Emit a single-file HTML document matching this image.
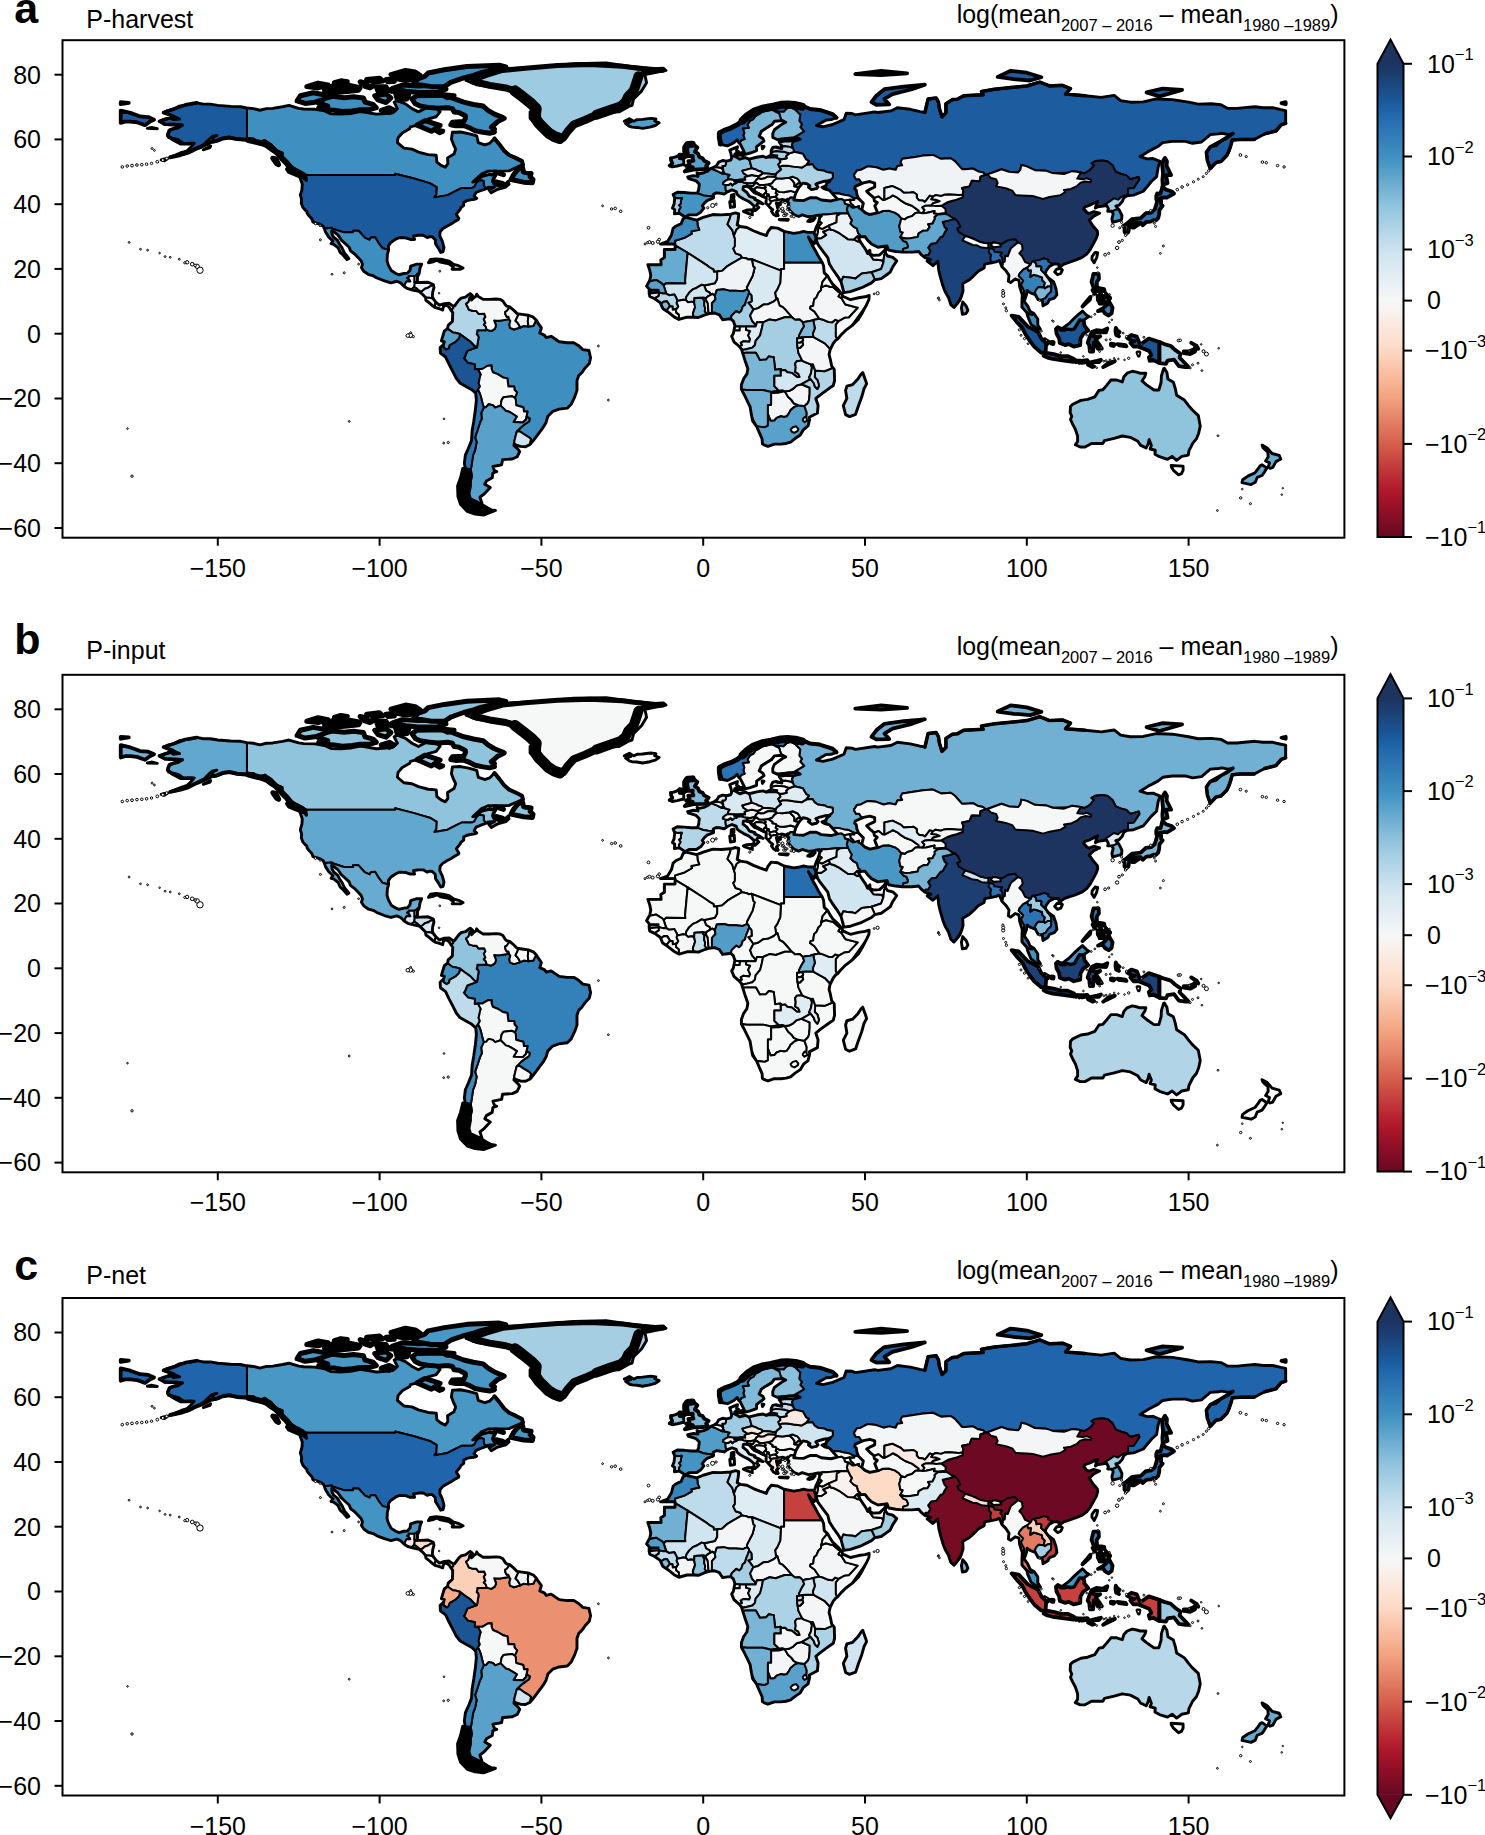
<!DOCTYPE html><html><head><meta charset="utf-8"><title>figure</title><style>html,body{margin:0;padding:0;background:#fff;}svg{display:block;}.t{font-family:'Liberation Sans', 'Helvetica', 'Arial', sans-serif;font-size:25px;fill:#000;}.lab{font-family:'Liberation Sans', 'Helvetica', 'Arial', sans-serif;font-size:43px;font-weight:bold;fill:#000;}.sub{font-size:16.5px;}.sup{font-size:16.5px;}.b{stroke:#000;stroke-width:2.0px;vector-effect:non-scaling-stroke;stroke-linejoin:round;}.c{stroke:#000;stroke-width:2.9px;vector-effect:non-scaling-stroke;stroke-linejoin:round;}.d{fill:#fff;stroke:#000;stroke-width:1px;}.h{stroke-width:3.8px;}.hh{stroke-width:5px;}.tk{stroke:#000;stroke-width:2px;}</style></head><body>
<svg xmlns="http://www.w3.org/2000/svg" width="1485" height="1835" viewBox="0 0 1485 1835">
<defs>
<clipPath id="landclip"><path d="M-168.1 65.6 -166.5 66.2 -164.5 66.6 -163.7 66.1 -161.8 66.3 -163.8 67.2 -165.5 67.9 -166.8 68.3 -165.5 68.9 -163.5 69.4 -161.9 70.3 -158 70.9 -156.5 71.3 -154.5 70.9 -152.3 70.9 -150 70.5 -146 70.2 -143 70.1 -141 69.7 -139 69.5 -137 69 -135 69.5 -133 69.6 -130 70.1 -128 70.5 -125 69.6 -123.5 69.4 -120 69.3 -117 68.8 -115 67.9 -112 67.8 -109 68 -106 68.6 -104 68.3 -101 67.8 -98 68 -96 68.2 -94.5 69.5 -95.5 71.5 -94.5 72 -92 71 -90 69.5 -88 68.5 -85.5 69.8 -82.5 69.5 -81.3 68.6 -82.5 67 -85 66.3 -86.8 65.5 -88 64.5 -90.5 63.9 -90.7 63.3 -93 62 -94.3 60.5 -94.5 59 -92.5 57.3 -90 57 -88 56.1 -85 55.3 -82.5 55.1 -82.3 53 -81 52 -79.7 51.4 -78.9 52.5 -79 54.3 -77 55.5 -76.5 57 -77.2 58.5 -77.8 60.1 -77.5 62.2 -75 62.3 -72.5 61.8 -70 61.1 -69.5 59 -68 58.5 -67.5 58.3 -66 58.8 -64.5 60.3 -63 58.5 -61.5 56.5 -60 55.2 -58 54.3 -56 53.3 -55.7 52.2 -57.3 51.5 -60 50.3 -63.5 50.2 -66.5 50.2 -68.5 49.3 -70.5 47.5 -71.2 46.8 -70 47.2 -68.5 48.5 -66 49.2 -64.2 48.9 -64.8 47.8 -65 47.1 -64.6 46.3 -63 45.7 -61.5 45.7 -60.3 46.9 -60 46.2 -61 45.3 -63.5 44.6 -65.5 43.5 -66.2 44.4 -64.5 45.3 -66.5 45.2 -67 44.8 -68.5 44.3 -70.2 43.6 -70.8 42.5 -70 41.8 -70.6 41.5 -71.5 41.4 -73 41.1 -74 40.6 -74 39.6 -74.9 38.9 -75.1 38.4 -75.9 37.4 -76.3 36.9 -75.5 35.6 -75.7 35.2 -76.7 34.7 -77.9 33.9 -79.2 33.2 -80.5 32.4 -81.3 31.5 -81.4 30.2 -80.6 28.5 -80.1 26.6 -80.4 25.3 -81.1 25.1 -81.8 26.3 -82.7 27.7 -82.8 29 -83.7 29.9 -84.5 30 -85.3 29.7 -86.5 30.4 -88 30.4 -89.5 30.2 -89.2 29.1 -90.5 29.1 -92 29.6 -93.8 29.7 -95 29.2 -96.6 28.1 -97.3 27.1 -97.2 25.9 -97.6 24.5 -97.7 22.5 -97.3 21.2 -96.4 19.5 -95 18.6 -94 18.2 -92.5 18.6 -91.4 18.7 -90.6 19.6 -90.4 20.9 -88.5 21.5 -87 21.5 -87.5 20.3 -87.8 18.5 -88.3 17.6 -88.3 16.3 -88.8 15.8 -87.5 15.8 -85 15.9 -83.4 15.2 -83.2 14.3 -83.6 12.8 -83.7 11.5 -83.3 10.6 -82.5 9.6 -81.5 8.8 -80 9.3 -78.5 9.4 -77.4 8.6 -76.8 8.6 -75.5 10.4 -74.8 11 -73.5 11.3 -72 12.4 -71.3 11.8 -71.9 11 -71.6 10.4 -71 11 -70.2 11.6 -70 12.2 -69.5 11.5 -68 10.6 -66.2 10.6 -64 10.7 -62.8 10.6 -61.9 10.1 -61.2 9 -60.7 8.5 -59.8 8.3 -58.5 7.2 -57.5 6.2 -55.5 5.9 -54 5.7 -52.5 5.1 -51.6 4.2 -51 3.2 -50 1.8 -50.5 0.2 -49 -0.5 -48.5 -1.2 -47 -0.8 -44.5 -2.5 -42 -2.8 -40 -2.8 -38.5 -3.7 -37.2 -4.9 -35.3 -5.2 -34.8 -7.5 -35.2 -9.2 -36.5 -10.6 -37.5 -12 -38.5 -13 -39 -14.5 -39 -17.5 -39.7 -19.5 -40.8 -21.8 -42 -23 -44.5 -23.3 -46.5 -24 -48 -25.5 -48.6 -27.5 -49.5 -29 -51 -31 -52.5 -33 -53.5 -34.2 -54.9 -34.9 -56.5 -34.8 -57.8 -34.4 -58.4 -34 -58.5 -34.5 -57.2 -35.7 -56.7 -36.4 -57.5 -38 -59 -38.7 -62 -38.9 -62.3 -40.5 -65 -41 -64.5 -42.3 -63.8 -42.6 -65 -43 -65.2 -44.5 -67 -45.5 -67.5 -46.5 -65.8 -47.5 -67.7 -49.5 -69 -50.5 -68.4 -52.3 -70 -52.8 -71 -53.8 -72 -54 -74.5 -52.5 -75.3 -50 -74.8 -48 -75.5 -46.5 -74 -44 -73.5 -42 -73.8 -40 -73.5 -37.5 -72.6 -35.5 -71.6 -33 -71.4 -30 -70.9 -27 -70.4 -23.5 -70.1 -20.5 -70.3 -18.4 -71.5 -17.3 -73.3 -16.3 -75.2 -15.2 -76.3 -13.8 -77.2 -12 -78.5 -9.5 -79.6 -7.2 -81.2 -6 -81.3 -4.3 -80.3 -3.4 -80 -2.5 -80.9 -2.2 -80.4 -0.5 -80 0.8 -79 1.6 -78.8 2.6 -77.5 3.8 -77.4 6.5 -77.9 7.2 -78.5 8.2 -79.6 8.9 -80.3 8.3 -80.5 7.3 -81.5 7.7 -82.9 8.1 -83.6 8.6 -85 9.8 -85.7 10.3 -85.8 11.2 -87 12.4 -87.7 13 -88.5 13.2 -89.8 13.5 -91.3 13.9 -92.3 14.5 -93.5 15.7 -94.7 16.2 -96.5 15.7 -98.5 16.3 -100.8 17.2 -102 17.9 -103.5 18.3 -104.9 19.3 -105.6 20.4 -105.3 21.5 -105.7 22.5 -106.6 23.5 -107.8 24.7 -109 25.6 -109.4 26.7 -110.6 27.8 -111.8 28.9 -112.9 30.5 -114.2 31.5 -114.8 31.8 -114.7 30.7 -114.2 29.8 -113 28.8 -112.3 27.5 -111.6 26.5 -110.8 24.8 -110 23.9 -109.5 23.2 -110.1 22.9 -111.3 24.3 -112.2 25.1 -112.8 26.5 -114.2 27.6 -115 27.8 -114.4 28.6 -115.7 29.8 -116.7 31.4 -117.1 32.5 -117.4 33.2 -118.4 33.8 -119.2 34.1 -120.6 34.5 -120.9 35.4 -121.9 36.5 -122.4 37.2 -122.5 37.8 -123 38.2 -123.7 39 -124.2 40.3 -124.1 41.5 -124.5 42.8 -124 44.5 -123.9 46.2 -124.7 48.4 -123.5 48.2 -122.6 47.3 -122.8 49 -123.8 49.7 -125 50.3 -127 51.3 -127.8 52.3 -129.3 53.6 -130.3 54.7 -130.6 55.9 -131.5 56 -132.3 57 -134 58.4 -135.7 59.3 -136.5 58.4 -138.5 59.1 -139.8 59.6 -141.5 60 -143.9 60 -146.5 60.6 -148.5 60.3 -149.7 59.7 -151.5 59.2 -151.5 60.7 -150.3 61.2 -151.7 60.9 -153.3 59.5 -154.2 58.5 -156 57.6 -157.9 56.6 -159.5 55.7 -161.5 55.3 -162.8 54.9 -164.7 54.5 -163.3 55.1 -161.3 55.9 -159.5 56.5 -158.3 57.6 -157.3 58.8 -158.6 58.8 -160.5 58.7 -162.2 59.9 -163.8 60.3 -165.2 60.6 -165.5 61.7 -164.6 63.1 -162.3 63.5 -161.1 64.4 -162.8 64.5 -164.7 64.5 -166.4 64.7 -167.5 65.4Z"/><path d="M-5.6 36 -6.3 36.5 -7.4 37.2 -8.9 37 -8.8 38.3 -9.5 38.8 -9 40 -8.8 41.9 -9.3 43 -8 43.7 -5.8 43.6 -3.8 43.4 -1.8 43.4 -1.4 44.5 -1.2 46.2 -2.2 47.2 -4.5 47.9 -4.8 48.4 -3 48.8 -1.6 48.6 -1.9 49.7 -1.2 49.4 0.2 49.7 1.5 50.3 2.5 51.1 3.5 51.5 4.2 52 4.8 53 6 53.5 7.2 53.3 8.5 53.6 8.8 54.3 8.6 55.5 8.2 56.7 10.6 57.7 10.3 56.5 10.9 56.3 10 55.5 9.6 54.9 10.5 54.4 11.3 53.9 13 54.4 14.2 53.9 16.5 54.5 18.5 54.8 19.5 54.4 21 55.2 21 56.5 21.5 57.5 22.5 57.7 24.3 57.2 24.1 58.3 23.5 59.2 25 59.5 28 59.5 30 60 29 60.5 26.5 60.4 23 59.9 21.5 60.6 21.5 61.8 22 63 24.5 64.8 25.5 65.3 24.5 65.8 22 65.6 21.2 64.5 19.5 63.5 18 62.5 17.3 61 18.5 60.2 18.8 59.5 16.5 57.8 16.5 56.5 14.5 55.8 13 55.4 12.5 56.5 11.5 58.5 11 59 10.5 59.9 9.5 59 7.5 58 6 58.3 5.5 59.3 5 60.5 5 62 6.5 62.8 8.5 63.5 10.5 64.5 12.5 66 14 67.5 16 68.8 18.5 69.8 21 70.2 24 71 26 71 28.5 70.9 31 70.3 33 69.4 36 69.1 40 67.8 41.2 66.7 39.5 66.1 38 66 35 64.3 37 63.9 40 64.6 43.5 66.1 44.2 68.1 46 68 47 67.6 53 68.5 54 68.3 58 68.8 60 69.8 64 69.3 67 68.6 68.5 68.3 69.5 72.5 72 72.8 72.7 71.5 73 69.5 73.8 67 75 68.2 75 71 77 72.3 78.5 72.4 80.5 73.5 86.5 73.8 86 74.8 90 75.5 95 76 100 76.5 104 77.7 107 76.5 111 76.7 113.5 75.7 112 74 118 73.5 123 73 127 73.6 129 72 132 71.5 136 71.6 140 72.5 145 72.3 150 71.5 153 70.9 157 71 160 70.7 162 69.6 165 69.6 168 69.9 170.5 70.1 173 69.8 176 69.8 178.5 69.2 180 68.9 180 65 178.6 64.5 177 62.6 173.5 61.7 170.3 60 166 60 163.5 59.8 163 58 162.5 56.5 161.8 55 160 53.2 158.5 52.9 156.7 51 155.8 53.5 155.5 56 156.7 57.7 158.4 58 160 59.5 161.8 60.3 163.7 61.8 162.2 61.5 160.3 61.9 159.2 61.7 156.7 61.5 154 59.2 151.2 58.8 149 59.4 145 59.4 142 59 140.5 57.8 138 56.5 135 54.7 137.2 54 139 54.1 141.2 53.2 140.6 51.5 140.1 48.5 138.5 47 136 44 133 42.8 131 42.6 130 42 129.5 40.8 128.5 39.7 127.5 39.4 128.5 38.3 129.4 36.5 129.3 35.2 128 34.8 126.5 34.4 126.3 35.5 126.7 37 126.3 37.8 125 37.8 125.2 38.6 124.7 39.6 122 39.2 121.2 38.8 121.5 40 121.9 40.9 120.5 40.2 119.5 39.7 118 39.2 117.6 38.6 118.5 37.5 119.2 37.1 120.7 37.7 122.5 37.2 120.7 36.3 119.3 35 120.5 33.2 121.8 31.7 121.9 30.8 121.5 29.5 120.7 28 119.6 26 118.5 24.6 117 23.5 115 22.7 113.5 22.2 111.5 21.5 110 20.5 109.8 21.5 108.5 21.6 107 20.8 106 19.5 105.7 18.5 106.6 17.3 108.3 16 109 14 109.3 12 108.5 11 107 10.5 106.5 9.5 105 8.6 104.8 10.2 103.5 10.5 102.6 12.1 101 12.7 100.1 13.4 99.9 12 99.2 10 100.3 8.5 101 6.9 102.2 6.2 103.4 4.5 103.4 2.7 104.2 1.4 103.5 1.3 101.3 2.9 100.3 5.3 100 6.5 98.5 8.2 98.5 10 98.6 12 97.8 14.5 97.6 16.5 96.4 16.9 95 15.8 94.3 16.2 94.5 18 93.5 19.5 92.3 20.7 92 21.5 91.5 22.6 90.5 22.2 89.1 21.9 87 21.5 86.8 20.3 85 19.3 83.5 17.8 82.2 16.6 80.2 15.5 80.3 13.2 79.8 11.5 79.3 10.3 78.2 8.9 77.5 8.1 76.5 9 75.8 11.2 74.8 12.9 74 15 73.3 17.5 72.8 19.5 72.6 21.3 72.5 22.4 71 21 69.2 22.4 70.3 22.9 68.5 23.5 67.3 24.5 66.6 25.4 64.5 25.2 61.6 25.2 59.5 25.4 57.3 25.8 56.8 27.1 56 27 54 26.7 52 27.7 50.8 28.9 50 30 48.6 29.9 48 29.5 48.5 28.5 49.5 27 50.2 26 50.8 24.8 51.5 25.8 51.6 24.6 52.5 24.2 54.5 24.3 56 25.7 56.4 26.4 56.3 24.9 57 24 58.6 23.6 59.8 22.5 58.5 20.5 57.8 19 56.7 18.2 55 17 53 16.6 52 15.7 49 14.2 45.5 13 43.5 12.7 43 14.5 42.6 16 41.5 17.8 40 19.9 39 21.5 38.5 23.5 37.2 25.2 36 26.8 35.2 28 34.9 29.5 34.2 31.3 34.5 31.6 34.9 32.8 35.5 34 35.9 35.3 36 36 36.2 36.6 35.5 36.6 34 36.3 32.5 36.1 30.6 36.7 29.5 36.2 28 36.8 27.3 37.5 26.5 38.5 26.2 39.5 26.5 40.3 26 40.8 24.5 40.9 23.5 40.3 22.6 40.3 22.9 39.3 23.3 38.2 22.7 37.5 23.1 36.5 22.5 36.4 21.7 36.9 21.1 37.8 21.5 38.3 20.7 38.9 20 39.7 19.4 40.3 19.5 41.8 18.5 42.4 17 43.2 15.9 43.6 15 44.5 14.3 45.3 13.6 45.6 12.4 45.4 12.3 44.5 13.5 43.6 14.3 42.4 16 41.9 15.9 41.5 17.5 40.8 18.5 40.1 17 40.5 16.5 39.7 17.2 39 16.1 38 15.6 38 15.7 39.5 14.8 40.3 14 40.9 12.5 41.6 11.2 42.4 10.5 43 10.2 43.9 8.9 44.4 7.5 43.8 6.5 43.1 5 43.4 4 43.5 3.1 43 3.2 42.4 3.2 41.9 1.2 41.1 0.5 40.5 -0.3 39.5 0.2 38.8 -0.7 37.6 -2.1 36.7 -4.4 36.7Z"/><path d="M34.2 31.3 32.3 31.3 31 31.6 29.9 31.3 28 31 25 31.6 23 32.6 21 32.8 20 31.5 19.5 30.3 17.5 31 15.5 31.8 13.5 32.8 11.5 33.1 10.5 33.6 10.8 35.2 11 37 10 37.3 8.5 36.9 5.5 36.7 3 36.8 0 35.9 -2 35.1 -5.3 35.9 -6.2 35.5 -6.8 34 -8.5 33.2 -9.3 32.5 -9.8 30.5 -11 28.5 -13.2 27.7 -8.7 27.7 -8.7 26 -12 26 -12 23.5 -13.1 22.8 -13 21.3 -17.1 21.3 -16.5 19.5 -16.2 18 -16.5 16.5 -17.5 14.7 -16.7 13.8 -16.7 12.4 -16.5 11.5 -15 10.8 -13.3 9.6 -12.5 7.8 -11 6.8 -9 5.2 -7.5 4.4 -5 5.1 -3 5.1 -1.5 5 0.5 5.8 1.8 6.2 3.5 6.4 5 5.8 6 4.3 7.5 4.5 8.5 4.6 9.3 3.9 9.8 2.5 9.5 1 9.3 0 8.8 -0.8 9.5 -2.5 11 -3.8 11.8 -4.7 12.2 -6 13 -8.5 13.8 -10.8 13.5 -12.5 12.5 -13.9 11.8 -15.8 11.8 -17.2 12.5 -18.5 13.5 -20.5 14.5 -22.6 14.9 -25 15.3 -27 16.5 -28.6 17.3 -30.5 18.2 -32.5 18.3 -34 18.9 -34.4 20 -34.8 22 -34.1 24 -34.1 25.6 -33.9 27 -33.5 28.5 -32.3 30 -31.3 31 -29.6 32.4 -28.5 32.9 -26.5 32.8 -25.8 35.3 -24.5 35.5 -22.1 34.8 -20 36.3 -18.8 38.5 -17.2 40.2 -16 40.6 -14.5 40.5 -11 39.7 -10 39.3 -8 38.9 -6.5 39.2 -5 40.2 -3 41 -2 41.6 -1.6 42.5 -0.5 44 1 46 2.5 48 4.5 49.2 6.5 50.5 9 51.2 10.5 51.3 11.8 50 11.4 48 11.1 45.5 10.5 43.5 11.4 43.2 11.5 42.6 12.6 41.5 13.9 40 15.3 39.2 16.5 38.5 17.8 37.4 18.8 37.2 21 36.8 22 35.6 23.9 34.6 25.8 33.6 27.5 32.6 29.7 32.5 29.9 33.5 28.5 34.3 27.8 34.7 29 34.9 29.5Z"/><path d="M113.5 -22.5 114.2 -21.8 116.7 -20.6 118.8 -20.3 121 -19.5 122.3 -17.5 123.5 -17.3 124.8 -15.8 126 -14.3 127.8 -14.3 129.5 -14.9 130 -13.3 131 -12.2 132.6 -11.6 133.6 -11.8 135 -12.2 136.8 -12.2 136.5 -13.2 135.6 -14.6 137 -15.8 139.3 -17.4 140.8 -17.4 141.5 -15 141.6 -13 142.3 -10.8 142.5 -10.7 143.3 -12 143.6 -14 145.3 -15 145.9 -17 146.3 -19 148.7 -20.5 150 -22.2 151.1 -23.5 153 -25.3 153.6 -28.5 153.1 -30.8 152.4 -32.5 151.3 -33.8 150.1 -36.2 149.9 -37.5 147.9 -37.9 146.3 -39.1 144.9 -37.9 143.5 -38.8 141 -38 139.6 -37.2 139.7 -36 138.1 -35.6 138.5 -34.5 137.8 -32.7 137.5 -34 136.9 -35.3 135.9 -34.8 135.2 -34.5 134.3 -33.2 132 -32 129.5 -31.6 127 -32.3 124 -33 123.5 -33.9 120 -33.9 118 -35 116.5 -35 115 -34.3 115.7 -33.3 115.7 -31.6 115 -29.5 114.2 -28 113.5 -26.5 113.9 -25.5 113.4 -24.4Z"/></clipPath>
<clipPath id="ax0"><rect x="62.5" y="40.2" width="1281.9" height="497.5"/></clipPath>
<clipPath id="ax1"><rect x="62.5" y="674.8" width="1281.9" height="497.5"/></clipPath>
<clipPath id="ax2"><rect x="62.5" y="1298.0" width="1281.9" height="497.5"/></clipPath>
<linearGradient id="cbg" x1="0" y1="0" x2="0" y2="1"><stop offset="0.0000" stop-color="#1d3461"/><stop offset="0.0156" stop-color="#1c3a6a"/><stop offset="0.0312" stop-color="#1b4176"/><stop offset="0.0469" stop-color="#1b4981"/><stop offset="0.0625" stop-color="#1b518d"/><stop offset="0.0781" stop-color="#1a5899"/><stop offset="0.0938" stop-color="#1e61a5"/><stop offset="0.1094" stop-color="#2369ad"/><stop offset="0.1250" stop-color="#2870b1"/><stop offset="0.1406" stop-color="#2e77b5"/><stop offset="0.1562" stop-color="#337eb8"/><stop offset="0.1719" stop-color="#3885bc"/><stop offset="0.1875" stop-color="#3e8cbf"/><stop offset="0.2031" stop-color="#4393c3"/><stop offset="0.2188" stop-color="#4f9bc7"/><stop offset="0.2344" stop-color="#5ca3cb"/><stop offset="0.2500" stop-color="#68abd0"/><stop offset="0.2656" stop-color="#75b2d4"/><stop offset="0.2812" stop-color="#81bad8"/><stop offset="0.2969" stop-color="#8dc2dc"/><stop offset="0.3125" stop-color="#98c8e0"/><stop offset="0.3281" stop-color="#a2cde3"/><stop offset="0.3438" stop-color="#acd2e5"/><stop offset="0.3594" stop-color="#b6d7e8"/><stop offset="0.3750" stop-color="#c0dceb"/><stop offset="0.3906" stop-color="#cae1ee"/><stop offset="0.4062" stop-color="#d2e6f0"/><stop offset="0.4219" stop-color="#d8e9f1"/><stop offset="0.4375" stop-color="#deebf2"/><stop offset="0.4531" stop-color="#e4eef4"/><stop offset="0.4688" stop-color="#eaf1f5"/><stop offset="0.4844" stop-color="#f0f4f6"/><stop offset="0.5000" stop-color="#f6f7f7"/><stop offset="0.5156" stop-color="#f8f3f0"/><stop offset="0.5312" stop-color="#f9efe9"/><stop offset="0.5469" stop-color="#faeae1"/><stop offset="0.5625" stop-color="#fbe6da"/><stop offset="0.5781" stop-color="#fce2d2"/><stop offset="0.5938" stop-color="#fdddcb"/><stop offset="0.6094" stop-color="#fcd7c2"/><stop offset="0.6250" stop-color="#fbceb7"/><stop offset="0.6406" stop-color="#f9c6ac"/><stop offset="0.6562" stop-color="#f8bda1"/><stop offset="0.6719" stop-color="#f7b596"/><stop offset="0.6875" stop-color="#f5ac8b"/><stop offset="0.7031" stop-color="#f3a481"/><stop offset="0.7188" stop-color="#ef9979"/><stop offset="0.7344" stop-color="#ea8e70"/><stop offset="0.7500" stop-color="#e58368"/><stop offset="0.7656" stop-color="#e17860"/><stop offset="0.7812" stop-color="#dc6e57"/><stop offset="0.7969" stop-color="#d7634f"/><stop offset="0.8125" stop-color="#d25849"/><stop offset="0.8281" stop-color="#cc4c44"/><stop offset="0.8438" stop-color="#c6413e"/><stop offset="0.8594" stop-color="#c13639"/><stop offset="0.8750" stop-color="#bb2a34"/><stop offset="0.8906" stop-color="#b61f2e"/><stop offset="0.9062" stop-color="#ae172a"/><stop offset="0.9219" stop-color="#a21329"/><stop offset="0.9375" stop-color="#961127"/><stop offset="0.9531" stop-color="#8a0f26"/><stop offset="0.9688" stop-color="#7f0c25"/><stop offset="0.9844" stop-color="#730a24"/><stop offset="1.0000" stop-color="#670823"/></linearGradient>
</defs>
<rect width="1485" height="1835" fill="#fff"/>
<g clip-path="url(#ax0)">
<g transform="matrix(3.236 0 0 -3.238 703.2 333.7)">
<g clip-path="url(#landclip)">
<path d="M-168.1 65.6 -166.5 66.2 -164.5 66.6 -163.7 66.1 -161.8 66.3 -163.8 67.2 -165.5 67.9 -166.8 68.3 -165.5 68.9 -163.5 69.4 -161.9 70.3 -158 70.9 -156.5 71.3 -154.5 70.9 -152.3 70.9 -150 70.5 -146 70.2 -143 70.1 -141 69.7 -139 69.5 -137 69 -135 69.5 -133 69.6 -130 70.1 -128 70.5 -125 69.6 -123.5 69.4 -120 69.3 -117 68.8 -115 67.9 -112 67.8 -109 68 -106 68.6 -104 68.3 -101 67.8 -98 68 -96 68.2 -94.5 69.5 -95.5 71.5 -94.5 72 -92 71 -90 69.5 -88 68.5 -85.5 69.8 -82.5 69.5 -81.3 68.6 -82.5 67 -85 66.3 -86.8 65.5 -88 64.5 -90.5 63.9 -90.7 63.3 -93 62 -94.3 60.5 -94.5 59 -92.5 57.3 -90 57 -88 56.1 -85 55.3 -82.5 55.1 -82.3 53 -81 52 -79.7 51.4 -78.9 52.5 -79 54.3 -77 55.5 -76.5 57 -77.2 58.5 -77.8 60.1 -77.5 62.2 -75 62.3 -72.5 61.8 -70 61.1 -69.5 59 -68 58.5 -67.5 58.3 -66 58.8 -64.5 60.3 -63 58.5 -61.5 56.5 -60 55.2 -58 54.3 -56 53.3 -55.7 52.2 -57.3 51.5 -60 50.3 -63.5 50.2 -66.5 50.2 -68.5 49.3 -70.5 47.5 -71.2 46.8 -70 47.2 -68.5 48.5 -66 49.2 -64.2 48.9 -64.8 47.8 -65 47.1 -64.6 46.3 -63 45.7 -61.5 45.7 -60.3 46.9 -60 46.2 -61 45.3 -63.5 44.6 -65.5 43.5 -66.2 44.4 -64.5 45.3 -66.5 45.2 -67 44.8 -68.5 44.3 -70.2 43.6 -70.8 42.5 -70 41.8 -70.6 41.5 -71.5 41.4 -73 41.1 -74 40.6 -74 39.6 -74.9 38.9 -75.1 38.4 -75.9 37.4 -76.3 36.9 -75.5 35.6 -75.7 35.2 -76.7 34.7 -77.9 33.9 -79.2 33.2 -80.5 32.4 -81.3 31.5 -81.4 30.2 -80.6 28.5 -80.1 26.6 -80.4 25.3 -81.1 25.1 -81.8 26.3 -82.7 27.7 -82.8 29 -83.7 29.9 -84.5 30 -85.3 29.7 -86.5 30.4 -88 30.4 -89.5 30.2 -89.2 29.1 -90.5 29.1 -92 29.6 -93.8 29.7 -95 29.2 -96.6 28.1 -97.3 27.1 -97.2 25.9 -97.6 24.5 -97.7 22.5 -97.3 21.2 -96.4 19.5 -95 18.6 -94 18.2 -92.5 18.6 -91.4 18.7 -90.6 19.6 -90.4 20.9 -88.5 21.5 -87 21.5 -87.5 20.3 -87.8 18.5 -88.3 17.6 -88.3 16.3 -88.8 15.8 -87.5 15.8 -85 15.9 -83.4 15.2 -83.2 14.3 -83.6 12.8 -83.7 11.5 -83.3 10.6 -82.5 9.6 -81.5 8.8 -80 9.3 -78.5 9.4 -77.4 8.6 -76.8 8.6 -75.5 10.4 -74.8 11 -73.5 11.3 -72 12.4 -71.3 11.8 -71.9 11 -71.6 10.4 -71 11 -70.2 11.6 -70 12.2 -69.5 11.5 -68 10.6 -66.2 10.6 -64 10.7 -62.8 10.6 -61.9 10.1 -61.2 9 -60.7 8.5 -59.8 8.3 -58.5 7.2 -57.5 6.2 -55.5 5.9 -54 5.7 -52.5 5.1 -51.6 4.2 -51 3.2 -50 1.8 -50.5 0.2 -49 -0.5 -48.5 -1.2 -47 -0.8 -44.5 -2.5 -42 -2.8 -40 -2.8 -38.5 -3.7 -37.2 -4.9 -35.3 -5.2 -34.8 -7.5 -35.2 -9.2 -36.5 -10.6 -37.5 -12 -38.5 -13 -39 -14.5 -39 -17.5 -39.7 -19.5 -40.8 -21.8 -42 -23 -44.5 -23.3 -46.5 -24 -48 -25.5 -48.6 -27.5 -49.5 -29 -51 -31 -52.5 -33 -53.5 -34.2 -54.9 -34.9 -56.5 -34.8 -57.8 -34.4 -58.4 -34 -58.5 -34.5 -57.2 -35.7 -56.7 -36.4 -57.5 -38 -59 -38.7 -62 -38.9 -62.3 -40.5 -65 -41 -64.5 -42.3 -63.8 -42.6 -65 -43 -65.2 -44.5 -67 -45.5 -67.5 -46.5 -65.8 -47.5 -67.7 -49.5 -69 -50.5 -68.4 -52.3 -70 -52.8 -71 -53.8 -72 -54 -74.5 -52.5 -75.3 -50 -74.8 -48 -75.5 -46.5 -74 -44 -73.5 -42 -73.8 -40 -73.5 -37.5 -72.6 -35.5 -71.6 -33 -71.4 -30 -70.9 -27 -70.4 -23.5 -70.1 -20.5 -70.3 -18.4 -71.5 -17.3 -73.3 -16.3 -75.2 -15.2 -76.3 -13.8 -77.2 -12 -78.5 -9.5 -79.6 -7.2 -81.2 -6 -81.3 -4.3 -80.3 -3.4 -80 -2.5 -80.9 -2.2 -80.4 -0.5 -80 0.8 -79 1.6 -78.8 2.6 -77.5 3.8 -77.4 6.5 -77.9 7.2 -78.5 8.2 -79.6 8.9 -80.3 8.3 -80.5 7.3 -81.5 7.7 -82.9 8.1 -83.6 8.6 -85 9.8 -85.7 10.3 -85.8 11.2 -87 12.4 -87.7 13 -88.5 13.2 -89.8 13.5 -91.3 13.9 -92.3 14.5 -93.5 15.7 -94.7 16.2 -96.5 15.7 -98.5 16.3 -100.8 17.2 -102 17.9 -103.5 18.3 -104.9 19.3 -105.6 20.4 -105.3 21.5 -105.7 22.5 -106.6 23.5 -107.8 24.7 -109 25.6 -109.4 26.7 -110.6 27.8 -111.8 28.9 -112.9 30.5 -114.2 31.5 -114.8 31.8 -114.7 30.7 -114.2 29.8 -113 28.8 -112.3 27.5 -111.6 26.5 -110.8 24.8 -110 23.9 -109.5 23.2 -110.1 22.9 -111.3 24.3 -112.2 25.1 -112.8 26.5 -114.2 27.6 -115 27.8 -114.4 28.6 -115.7 29.8 -116.7 31.4 -117.1 32.5 -117.4 33.2 -118.4 33.8 -119.2 34.1 -120.6 34.5 -120.9 35.4 -121.9 36.5 -122.4 37.2 -122.5 37.8 -123 38.2 -123.7 39 -124.2 40.3 -124.1 41.5 -124.5 42.8 -124 44.5 -123.9 46.2 -124.7 48.4 -123.5 48.2 -122.6 47.3 -122.8 49 -123.8 49.7 -125 50.3 -127 51.3 -127.8 52.3 -129.3 53.6 -130.3 54.7 -130.6 55.9 -131.5 56 -132.3 57 -134 58.4 -135.7 59.3 -136.5 58.4 -138.5 59.1 -139.8 59.6 -141.5 60 -143.9 60 -146.5 60.6 -148.5 60.3 -149.7 59.7 -151.5 59.2 -151.5 60.7 -150.3 61.2 -151.7 60.9 -153.3 59.5 -154.2 58.5 -156 57.6 -157.9 56.6 -159.5 55.7 -161.5 55.3 -162.8 54.9 -164.7 54.5 -163.3 55.1 -161.3 55.9 -159.5 56.5 -158.3 57.6 -157.3 58.8 -158.6 58.8 -160.5 58.7 -162.2 59.9 -163.8 60.3 -165.2 60.6 -165.5 61.7 -164.6 63.1 -162.3 63.5 -161.1 64.4 -162.8 64.5 -164.7 64.5 -166.4 64.7 -167.5 65.4ZM-5.6 36 -6.3 36.5 -7.4 37.2 -8.9 37 -8.8 38.3 -9.5 38.8 -9 40 -8.8 41.9 -9.3 43 -8 43.7 -5.8 43.6 -3.8 43.4 -1.8 43.4 -1.4 44.5 -1.2 46.2 -2.2 47.2 -4.5 47.9 -4.8 48.4 -3 48.8 -1.6 48.6 -1.9 49.7 -1.2 49.4 0.2 49.7 1.5 50.3 2.5 51.1 3.5 51.5 4.2 52 4.8 53 6 53.5 7.2 53.3 8.5 53.6 8.8 54.3 8.6 55.5 8.2 56.7 10.6 57.7 10.3 56.5 10.9 56.3 10 55.5 9.6 54.9 10.5 54.4 11.3 53.9 13 54.4 14.2 53.9 16.5 54.5 18.5 54.8 19.5 54.4 21 55.2 21 56.5 21.5 57.5 22.5 57.7 24.3 57.2 24.1 58.3 23.5 59.2 25 59.5 28 59.5 30 60 29 60.5 26.5 60.4 23 59.9 21.5 60.6 21.5 61.8 22 63 24.5 64.8 25.5 65.3 24.5 65.8 22 65.6 21.2 64.5 19.5 63.5 18 62.5 17.3 61 18.5 60.2 18.8 59.5 16.5 57.8 16.5 56.5 14.5 55.8 13 55.4 12.5 56.5 11.5 58.5 11 59 10.5 59.9 9.5 59 7.5 58 6 58.3 5.5 59.3 5 60.5 5 62 6.5 62.8 8.5 63.5 10.5 64.5 12.5 66 14 67.5 16 68.8 18.5 69.8 21 70.2 24 71 26 71 28.5 70.9 31 70.3 33 69.4 36 69.1 40 67.8 41.2 66.7 39.5 66.1 38 66 35 64.3 37 63.9 40 64.6 43.5 66.1 44.2 68.1 46 68 47 67.6 53 68.5 54 68.3 58 68.8 60 69.8 64 69.3 67 68.6 68.5 68.3 69.5 72.5 72 72.8 72.7 71.5 73 69.5 73.8 67 75 68.2 75 71 77 72.3 78.5 72.4 80.5 73.5 86.5 73.8 86 74.8 90 75.5 95 76 100 76.5 104 77.7 107 76.5 111 76.7 113.5 75.7 112 74 118 73.5 123 73 127 73.6 129 72 132 71.5 136 71.6 140 72.5 145 72.3 150 71.5 153 70.9 157 71 160 70.7 162 69.6 165 69.6 168 69.9 170.5 70.1 173 69.8 176 69.8 178.5 69.2 180 68.9 180 65 178.6 64.5 177 62.6 173.5 61.7 170.3 60 166 60 163.5 59.8 163 58 162.5 56.5 161.8 55 160 53.2 158.5 52.9 156.7 51 155.8 53.5 155.5 56 156.7 57.7 158.4 58 160 59.5 161.8 60.3 163.7 61.8 162.2 61.5 160.3 61.9 159.2 61.7 156.7 61.5 154 59.2 151.2 58.8 149 59.4 145 59.4 142 59 140.5 57.8 138 56.5 135 54.7 137.2 54 139 54.1 141.2 53.2 140.6 51.5 140.1 48.5 138.5 47 136 44 133 42.8 131 42.6 130 42 129.5 40.8 128.5 39.7 127.5 39.4 128.5 38.3 129.4 36.5 129.3 35.2 128 34.8 126.5 34.4 126.3 35.5 126.7 37 126.3 37.8 125 37.8 125.2 38.6 124.7 39.6 122 39.2 121.2 38.8 121.5 40 121.9 40.9 120.5 40.2 119.5 39.7 118 39.2 117.6 38.6 118.5 37.5 119.2 37.1 120.7 37.7 122.5 37.2 120.7 36.3 119.3 35 120.5 33.2 121.8 31.7 121.9 30.8 121.5 29.5 120.7 28 119.6 26 118.5 24.6 117 23.5 115 22.7 113.5 22.2 111.5 21.5 110 20.5 109.8 21.5 108.5 21.6 107 20.8 106 19.5 105.7 18.5 106.6 17.3 108.3 16 109 14 109.3 12 108.5 11 107 10.5 106.5 9.5 105 8.6 104.8 10.2 103.5 10.5 102.6 12.1 101 12.7 100.1 13.4 99.9 12 99.2 10 100.3 8.5 101 6.9 102.2 6.2 103.4 4.5 103.4 2.7 104.2 1.4 103.5 1.3 101.3 2.9 100.3 5.3 100 6.5 98.5 8.2 98.5 10 98.6 12 97.8 14.5 97.6 16.5 96.4 16.9 95 15.8 94.3 16.2 94.5 18 93.5 19.5 92.3 20.7 92 21.5 91.5 22.6 90.5 22.2 89.1 21.9 87 21.5 86.8 20.3 85 19.3 83.5 17.8 82.2 16.6 80.2 15.5 80.3 13.2 79.8 11.5 79.3 10.3 78.2 8.9 77.5 8.1 76.5 9 75.8 11.2 74.8 12.9 74 15 73.3 17.5 72.8 19.5 72.6 21.3 72.5 22.4 71 21 69.2 22.4 70.3 22.9 68.5 23.5 67.3 24.5 66.6 25.4 64.5 25.2 61.6 25.2 59.5 25.4 57.3 25.8 56.8 27.1 56 27 54 26.7 52 27.7 50.8 28.9 50 30 48.6 29.9 48 29.5 48.5 28.5 49.5 27 50.2 26 50.8 24.8 51.5 25.8 51.6 24.6 52.5 24.2 54.5 24.3 56 25.7 56.4 26.4 56.3 24.9 57 24 58.6 23.6 59.8 22.5 58.5 20.5 57.8 19 56.7 18.2 55 17 53 16.6 52 15.7 49 14.2 45.5 13 43.5 12.7 43 14.5 42.6 16 41.5 17.8 40 19.9 39 21.5 38.5 23.5 37.2 25.2 36 26.8 35.2 28 34.9 29.5 34.2 31.3 34.5 31.6 34.9 32.8 35.5 34 35.9 35.3 36 36 36.2 36.6 35.5 36.6 34 36.3 32.5 36.1 30.6 36.7 29.5 36.2 28 36.8 27.3 37.5 26.5 38.5 26.2 39.5 26.5 40.3 26 40.8 24.5 40.9 23.5 40.3 22.6 40.3 22.9 39.3 23.3 38.2 22.7 37.5 23.1 36.5 22.5 36.4 21.7 36.9 21.1 37.8 21.5 38.3 20.7 38.9 20 39.7 19.4 40.3 19.5 41.8 18.5 42.4 17 43.2 15.9 43.6 15 44.5 14.3 45.3 13.6 45.6 12.4 45.4 12.3 44.5 13.5 43.6 14.3 42.4 16 41.9 15.9 41.5 17.5 40.8 18.5 40.1 17 40.5 16.5 39.7 17.2 39 16.1 38 15.6 38 15.7 39.5 14.8 40.3 14 40.9 12.5 41.6 11.2 42.4 10.5 43 10.2 43.9 8.9 44.4 7.5 43.8 6.5 43.1 5 43.4 4 43.5 3.1 43 3.2 42.4 3.2 41.9 1.2 41.1 0.5 40.5 -0.3 39.5 0.2 38.8 -0.7 37.6 -2.1 36.7 -4.4 36.7ZM34.2 31.3 32.3 31.3 31 31.6 29.9 31.3 28 31 25 31.6 23 32.6 21 32.8 20 31.5 19.5 30.3 17.5 31 15.5 31.8 13.5 32.8 11.5 33.1 10.5 33.6 10.8 35.2 11 37 10 37.3 8.5 36.9 5.5 36.7 3 36.8 0 35.9 -2 35.1 -5.3 35.9 -6.2 35.5 -6.8 34 -8.5 33.2 -9.3 32.5 -9.8 30.5 -11 28.5 -13.2 27.7 -8.7 27.7 -8.7 26 -12 26 -12 23.5 -13.1 22.8 -13 21.3 -17.1 21.3 -16.5 19.5 -16.2 18 -16.5 16.5 -17.5 14.7 -16.7 13.8 -16.7 12.4 -16.5 11.5 -15 10.8 -13.3 9.6 -12.5 7.8 -11 6.8 -9 5.2 -7.5 4.4 -5 5.1 -3 5.1 -1.5 5 0.5 5.8 1.8 6.2 3.5 6.4 5 5.8 6 4.3 7.5 4.5 8.5 4.6 9.3 3.9 9.8 2.5 9.5 1 9.3 0 8.8 -0.8 9.5 -2.5 11 -3.8 11.8 -4.7 12.2 -6 13 -8.5 13.8 -10.8 13.5 -12.5 12.5 -13.9 11.8 -15.8 11.8 -17.2 12.5 -18.5 13.5 -20.5 14.5 -22.6 14.9 -25 15.3 -27 16.5 -28.6 17.3 -30.5 18.2 -32.5 18.3 -34 18.9 -34.4 20 -34.8 22 -34.1 24 -34.1 25.6 -33.9 27 -33.5 28.5 -32.3 30 -31.3 31 -29.6 32.4 -28.5 32.9 -26.5 32.8 -25.8 35.3 -24.5 35.5 -22.1 34.8 -20 36.3 -18.8 38.5 -17.2 40.2 -16 40.6 -14.5 40.5 -11 39.7 -10 39.3 -8 38.9 -6.5 39.2 -5 40.2 -3 41 -2 41.6 -1.6 42.5 -0.5 44 1 46 2.5 48 4.5 49.2 6.5 50.5 9 51.2 10.5 51.3 11.8 50 11.4 48 11.1 45.5 10.5 43.5 11.4 43.2 11.5 42.6 12.6 41.5 13.9 40 15.3 39.2 16.5 38.5 17.8 37.4 18.8 37.2 21 36.8 22 35.6 23.9 34.6 25.8 33.6 27.5 32.6 29.7 32.5 29.9 33.5 28.5 34.3 27.8 34.7 29 34.9 29.5ZM113.5 -22.5 114.2 -21.8 116.7 -20.6 118.8 -20.3 121 -19.5 122.3 -17.5 123.5 -17.3 124.8 -15.8 126 -14.3 127.8 -14.3 129.5 -14.9 130 -13.3 131 -12.2 132.6 -11.6 133.6 -11.8 135 -12.2 136.8 -12.2 136.5 -13.2 135.6 -14.6 137 -15.8 139.3 -17.4 140.8 -17.4 141.5 -15 141.6 -13 142.3 -10.8 142.5 -10.7 143.3 -12 143.6 -14 145.3 -15 145.9 -17 146.3 -19 148.7 -20.5 150 -22.2 151.1 -23.5 153 -25.3 153.6 -28.5 153.1 -30.8 152.4 -32.5 151.3 -33.8 150.1 -36.2 149.9 -37.5 147.9 -37.9 146.3 -39.1 144.9 -37.9 143.5 -38.8 141 -38 139.6 -37.2 139.7 -36 138.1 -35.6 138.5 -34.5 137.8 -32.7 137.5 -34 136.9 -35.3 135.9 -34.8 135.2 -34.5 134.3 -33.2 132 -32 129.5 -31.6 127 -32.3 124 -33 123.5 -33.9 120 -33.9 118 -35 116.5 -35 115 -34.3 115.7 -33.3 115.7 -31.6 115 -29.5 114.2 -28 113.5 -26.5 113.9 -25.5 113.4 -24.4Z" fill="#f6f7f7"/>
<path d="M-141 72 -141 60.3 -139 60.3 -137.5 59.1 -135.5 59.8 -133.4 58.4 -131.7 56.6 -130 55.9 -130 54.7 -133 53 -126 48.3 -123 48.3 -123.2 49 -95.2 49 -95.2 49.4 -89.6 48 -84.5 46.5 -82.4 45.3 -82.5 43 -83.1 42.1 -79 42.8 -76.3 44.2 -74.7 45 -71.5 45 -70.7 45.4 -70 46.7 -69.2 47.4 -68.3 47.3 -67.8 47.1 -67.8 45.7 -67 44.8 -65 43 -50 45 -50 75 -141 75Z" fill="#408fc1" class="b"/>
<path d="M-123.2 49 -95.2 49 -95.2 49.4 -89.6 48 -84.5 46.5 -82.4 45.3 -82.5 43 -83.1 42.1 -79 42.8 -76.3 44.2 -74.7 45 -71.5 45 -70.7 45.4 -70 46.7 -69.2 47.4 -68.3 47.3 -67.8 47.1 -67.8 45.7 -67 44.8 -65 43 -70 35 -79 24 -82 24 -88 28 -97.2 25.9 -99.1 26.4 -100.3 28 -101.4 29.8 -102.7 29.7 -103.1 29 -104.5 29.6 -106.5 31.8 -108.2 31.8 -108.2 31.3 -111 31.3 -114.8 32.5 -114.7 32.7 -117.1 32.5 -119 31 -127 40 -126 48.3 -123 48.3Z" fill="#1b5a9c" class="b"/>
<path d="M-141 72 -141 60.3 -139 60.3 -137.5 59.1 -135.5 59.8 -133.4 58.4 -131.7 56.6 -130 55.9 -130 54.7 -134 54 -170 50 -170 72Z" fill="#1b5a9c" class="b"/>
<path d="M-117.1 32.5 -114.7 32.7 -114.8 32.5 -111 31.3 -108.2 31.3 -108.2 31.8 -106.5 31.8 -104.5 29.6 -103.1 29 -102.7 29.7 -101.4 29.8 -100.3 28 -99.1 26.4 -97.2 25.9 -95 25.9 -93 20 -89 23 -86.5 21.5 -87.4 18.4 -88.3 18.5 -88.9 17.9 -89.2 17.8 -91 17.8 -91 17.2 -91.5 17.2 -90.7 16.6 -90.5 16.1 -91.7 16.1 -92.2 15.2 -92.2 14.5 -92.5 13.5 -105 15 -118 28 -119 31Z" fill="#3f8ec0" class="b"/>
<path d="M-92.2 14.5 -92.2 15.2 -91.7 16.1 -90.5 16.1 -90.7 16.6 -91.5 17.2 -91 17.2 -91 17.8 -89.2 17.8 -89.2 15.9 -88.2 15.7 -89.2 15 -89.3 14.4 -90.1 13.7 -91 13 -92.5 13.5Z" fill="#f6f7f7" class="b"/>
<path d="M-89.2 17.8 -88.9 17.9 -88.3 18.5 -87.4 18.4 -87.6 16 -88.2 15.9 -89.2 15.9Z" fill="#f6f7f7" class="b"/>
<path d="M-89.2 15.9 -88.2 15.7 -88.2 15.9 -87 16.5 -83 16.3 -83.2 15 -84.3 14.7 -85 14.2 -86 13.9 -86.7 13.3 -87.3 12.9 -87.8 13.3 -88.5 13.9 -89.3 14.4 -89.2 15Z" fill="#ecf2f5" class="b"/>
<path d="M-89.3 14.4 -88.5 13.9 -87.8 13.3 -87.7 13.1 -88.3 12.5 -90.2 13.2 -90.1 13.7Z" fill="#eff3f5" class="b"/>
<path d="M-87.3 12.9 -86.7 13.3 -86 13.9 -85 14.2 -84.3 14.7 -83.2 15 -82.5 15 -82.8 10.9 -83.6 10.9 -84.7 11.1 -85.7 11.1 -86.2 11 -88 12.2Z" fill="#e4eef4" class="b"/>
<path d="M-85.7 11.1 -84.7 11.1 -83.6 10.9 -82.8 10.9 -82.5 9.6 -82.9 9.1 -82.9 8.1 -83.5 7.8 -86.3 9.5 -86.2 11Z" fill="#eff3f5" class="b"/>
<path d="M-82.9 8.1 -82.9 9.1 -82.5 9.6 -81.5 9.5 -79 9.8 -77.4 8.7 -77.2 7.9 -77.9 7.2 -78.5 6.5 -81 6.8 -83.5 7.8Z" fill="#eff3f5" class="b"/>
<path d="M-69.9 -4.2 -69.4 -1.1 -69.6 -0.5 -70 -0.2 -69.8 0.6 -69.8 1.1 -67.1 1.1 -66.9 1.2 -65.5 0.8 -64.4 1.5 -64 2.5 -64.6 4.1 -63.9 4 -62.8 4 -60 4.5 -59.6 3.9 -59.9 2.8 -59.7 1.8 -58.5 1.3 -56.5 1.9 -55.5 2.4 -54 2.2 -52.5 2.4 -51.7 4 -51.2 4 -49 3 -40 0 -32 -6 -36 -20 -47 -30 -53.4 -34 -53.5 -33.7 -53.2 -32.6 -53.8 -32 -55.6 -30.9 -56.6 -30.2 -57.6 -30.2 -56.3 -28.9 -55 -27.9 -53.8 -27.1 -53.6 -26.2 -54.6 -25.6 -54.3 -24 -55.4 -24 -55.6 -22.7 -57.8 -22.1 -57.9 -20.4 -58.2 -19.8 -57.5 -18.2 -58.3 -17.3 -58.4 -16.3 -60.2 -16.3 -60.5 -13.8 -61.9 -13.5 -63.5 -12.5 -65 -11.9 -65.4 -10.8 -65.4 -9.8 -66.6 -9.9 -68.3 -10.9 -69.6 -10.9 -70.6 -11 -70.5 -9.5 -72.7 -9 -74 -7.5 -73.7 -7.3 -72.9 -5.3Z" fill="#3f8ec0" class="b"/>
<path d="M-77.4 8.7 -76 10.5 -75 11.5 -72 12.6 -71.3 11.9 -72.2 11.1 -72.5 9.8 -73.3 9.2 -72.8 8.3 -72.4 7.4 -71.1 7 -70.1 7 -69.4 6.1 -67.7 6.2 -67.3 5.2 -67.8 4.5 -67.3 3.3 -67.8 2.8 -67.2 2.2 -66.9 1.2 -67.1 1.1 -69.8 1.1 -69.8 0.6 -70 -0.2 -69.6 -0.5 -69.4 -1.1 -69.9 -4.2 -70.7 -3.8 -72 -2.4 -73.6 -1.3 -75.2 -0.1 -76.6 0.3 -77.4 0.4 -78.8 1.4 -80 2 -78.5 6.5 -77.9 7.2 -77.2 7.9Z" fill="#b1d5e7" class="b"/>
<path d="M-71.3 11.9 -70 12.5 -68 11.5 -62 11.2 -60.5 9 -60 8.6 -59.8 8.3 -60.6 7.1 -61.2 6.7 -61.1 5.9 -60.7 5.2 -60.2 5.2 -60 4.5 -62.8 4 -63.9 4 -64.6 4.1 -64 2.5 -64.4 1.5 -65.5 0.8 -66.9 1.2 -67.2 2.2 -67.8 2.8 -67.3 3.3 -67.8 4.5 -67.3 5.2 -67.7 6.2 -69.4 6.1 -70.1 7 -71.1 7 -72.4 7.4 -72.8 8.3 -73.3 9.2 -72.5 9.8 -72.2 11.1Z" fill="#f6f7f7" class="b"/>
<path d="M-59.8 8.3 -59 8.5 -57 6.5 -57.1 5.9 -58 4 -57.3 3.3 -56.5 1.9 -58.5 1.3 -59.7 1.8 -59.9 2.8 -59.6 3.9 -60 4.5 -60.2 5.2 -60.7 5.2 -61.1 5.9 -61.2 6.7 -60.6 7.1Z" fill="#eff3f5" class="b"/>
<path d="M-57.1 5.9 -57 6.5 -54 6.3 -54 5.7 -54.2 3.8 -54 2.2 -55.5 2.4 -56.5 1.9 -57.3 3.3 -58 4Z" fill="#eff3f5" class="b"/>
<path d="M-54 5.7 -54 6.3 -51.5 5.5 -51.2 4 -51.7 4 -52.5 2.4 -54 2.2 -54.2 3.8Z" fill="#f6f7f7" class="b"/>
<path d="M-75.2 -0.1 -76.6 0.3 -77.4 0.4 -78.8 1.4 -80 2 -82 0 -81.5 -3.4 -80.3 -3.4 -80.2 -4.3 -79.3 -4.9 -78.6 -4.5 -78.3 -3.5 -76.6 -2.6 -75.6 -1.6 -75.2 -0.9Z" fill="#59a1ca" class="b"/>
<path d="M-80.3 -3.4 -81.5 -3.4 -82 -6 -76 -16 -70.4 -18.4 -69.6 -17.3 -69 -16.3 -69.4 -15.3 -68.9 -13 -68.7 -12.6 -69.6 -10.9 -70.6 -11 -70.5 -9.5 -72.7 -9 -74 -7.5 -73.7 -7.3 -72.9 -5.3 -69.9 -4.2 -70.7 -3.8 -72 -2.4 -73.6 -1.3 -75.2 -0.1 -75.2 -0.9 -75.6 -1.6 -76.6 -2.6 -78.3 -3.5 -78.6 -4.5 -79.3 -4.9 -80.2 -4.3Z" fill="#1b5593" class="b"/>
<path d="M-69.6 -10.9 -68.3 -10.9 -66.6 -9.9 -65.4 -9.8 -65.4 -10.8 -65 -11.9 -63.5 -12.5 -61.9 -13.5 -60.5 -13.8 -60.2 -16.3 -58.4 -16.3 -58.3 -17.3 -57.5 -18.2 -58.2 -19.8 -59.1 -19.3 -61.7 -19.6 -62.3 -20.5 -62.6 -22.2 -64.3 -22.8 -65 -22.1 -66.3 -21.8 -67.1 -22.7 -67.8 -22.8 -68.2 -21.5 -68.7 -19.4 -69.1 -18.3 -69.6 -17.3 -69 -16.3 -69.4 -15.3 -68.9 -13 -68.7 -12.6Z" fill="#f6f7f7" class="b"/>
<path d="M-57.9 -20.4 -57.8 -22.1 -55.6 -22.7 -55.4 -24 -54.3 -24 -54.6 -25.6 -54.7 -26.4 -55.7 -27.4 -58.6 -27.3 -57.6 -25.6 -58.8 -24.8 -60 -24.1 -61 -23.8 -62.6 -22.2 -62.3 -20.5 -61.7 -19.6 -59.1 -19.3 -58.2 -19.8Z" fill="#f3f5f6" class="b"/>
<path d="M-57.6 -30.2 -56.3 -28.9 -55 -27.9 -53.8 -27.1 -53.6 -26.2 -54.6 -25.6 -54.7 -26.4 -55.7 -27.4 -58.6 -27.3 -57.6 -25.6 -58.8 -24.8 -60 -24.1 -61 -23.8 -62.6 -22.2 -64.3 -22.8 -65 -22.1 -66.3 -21.8 -67.1 -22.7 -67.8 -22.8 -68.6 -24.5 -68.4 -26.2 -69 -27.5 -69.8 -30 -70.5 -32 -70 -33.5 -70.5 -36 -71.1 -37.5 -71.4 -39.5 -71.8 -42 -71.5 -44 -71.8 -45.5 -72.3 -47.5 -73.4 -49.5 -72.3 -51 -72 -52 -69.5 -52.2 -68.6 -52.5 -68.6 -56 -60 -56 -55 -38 -57 -35.2 -58.3 -34.2 -58.4 -33.5 -58.2 -32.5Z" fill="#59a1ca" class="b"/>
<path d="M-53.4 -34 -53.5 -33.7 -53.2 -32.6 -53.8 -32 -55.6 -30.9 -56.6 -30.2 -57.6 -30.2 -58.2 -32.5 -58.4 -33.5 -58.3 -34.2 -57 -35.2 -54 -35.5Z" fill="#d1e5f0" class="b"/>
<path d="M-70.4 -18.4 -69.6 -17.3 -69.1 -18.3 -68.7 -19.4 -68.2 -21.5 -67.8 -22.8 -68.6 -24.5 -68.4 -26.2 -69 -27.5 -69.8 -30 -70.5 -32 -70 -33.5 -70.5 -36 -71.1 -37.5 -71.4 -39.5 -71.8 -42 -71.5 -44 -71.8 -45.5 -72.3 -47.5 -73.4 -49.5 -72.3 -51 -72 -52 -69.5 -52.2 -68.6 -52.5 -68.6 -56 -80 -56 -78 -18Z" fill="#2e77b5" class="b"/>
<path d="M-2 35.1 -1.8 34.5 -1.7 33.3 -1.2 32.1 -3.7 31.6 -3.5 30.9 -5.8 29.6 -8.7 28.7 -8.7 27.3 -4.8 25 1.2 21.1 1.8 20.6 3.2 19.8 3.3 19.1 4.3 19.2 5.8 19.4 7.5 20.9 9 21.8 12 23.5 11.5 24.3 10 24.8 9.3 26.3 9.8 27 9.8 29.4 9.5 30.2 9 32 7.5 33.8 8.2 35.5 8.6 36.9 8.6 38 -1 36Z" fill="#bddbea" class="b"/>
<path d="M-2 35.1 -1.8 34.5 -1.7 33.3 -1.2 32.1 -3.7 31.6 -3.5 30.9 -5.8 29.6 -8.7 28.7 -8.7 27.7 -13.2 27.7 -14 28 -10 31 -9.5 34 -6.2 35.8 -5.3 36Z" fill="#3c8abe" class="b"/>
<path d="M-8.7 27.3 -4.8 25 -5.6 16.4 -5.5 15.5 -11.5 15.6 -12.2 14.8 -12.5 15.3 -14.5 16.6 -16.5 16.2 -17 16.5 -17.5 20 -17.1 21.3 -13 21.3 -13.1 22.8 -12 23.5 -12 26 -8.7 26Z" fill="#68abd0" class="b"/>
<path d="M8.6 36.9 8.2 35.5 7.5 33.8 9 32 9.5 30.2 10.3 32.2 11.5 33.1 12 34 11.5 37.5 9 37.5Z" fill="#bddbea" class="b"/>
<path d="M11.5 33.1 10.3 32.2 9.5 30.2 9.8 29.4 9.8 27 9.3 26.3 10 24.8 11.5 24.3 12 23.5 13.5 23.2 14 22.9 15 23 24 19.5 24 20 25 20 25 22 25.1 31.6 25 33 12 34Z" fill="#e0ecf3" class="b"/>
<path d="M25 22 36.9 22 37.3 22.3 38.6 18.5 38.4 17.9 36.9 16.1 36.5 14.3 36.4 13.4 35.6 12.6 35 11.2 34.3 10.6 34.1 9.5 34 8.6 33.2 8.4 33 7.8 34.4 6.8 35.9 4.6 34 4.2 33 3.9 31.6 3.7 30.8 3.5 29.8 4.4 28.4 4.3 27.4 5.1 25.3 7.5 24.6 8.2 23.6 8.7 22.9 10.9 22.5 11 22.2 12.7 22.9 13.7 23.8 15.7 24 19.5 24 20 25 20Z" fill="#f3f5f6" class="b"/>
<path d="M25 31.8 25 22 36.9 22 37.3 22.3 35.8 25.2 34.5 27.2 34.7 29 34.9 29.5 34.2 31.3 33 32 25 32Z" fill="#3f8ec0" class="b"/>
<path d="M24 19.5 15 23 15.5 20.7 15.9 20.4 15.3 17.9 13.5 14.4 13.6 13.7 14.1 13.1 14.2 12.6 14.5 12.3 14.9 11.8 15 10 13.9 9.6 14.5 8.9 15.5 7.5 17 7.9 18.6 9 20 9.1 21.7 9.9 22.9 10.9 22.5 11 22.2 12.7 22.9 13.7 23.8 15.7Z" fill="#d8e9f1" class="b"/>
<path d="M4.3 19.2 5.8 19.4 7.5 20.9 9 21.8 12 23.5 13.5 23.2 14 22.9 15 23 15.5 20.7 15.9 20.4 15.3 17.9 13.5 14.4 13.6 13.7 12.3 13.1 10 13.3 8 13.3 6.3 13.7 4.2 13.5 3.6 11.7 2.8 12.3 2.2 11.9 2 12.7 0.9 13.3 0.3 14.9 3.6 15.6 4.3 16.9Z" fill="#eff3f5" class="b"/>
<path d="M-4.8 25 1.2 21.1 1.8 20.6 3.2 19.8 3.3 19.1 4.3 19.2 4.3 16.9 3.6 15.6 0.3 14.9 -0.5 15.1 -2 14.2 -3.2 13.7 -4.3 12.7 -5.2 11.4 -5.4 10.4 -6.2 10.5 -7.6 10.2 -8 10.2 -8.3 11 -8.9 12.1 -10.6 11.9 -11.4 12.4 -12.2 14.8 -11.5 15.6 -5.5 15.5 -5.6 16.4Z" fill="#d1e5f0" class="b"/>
<path d="M0.3 14.9 -0.5 15.1 -2 14.2 -3.2 13.7 -4.3 12.7 -5.2 11.4 -5.4 10.4 -4.7 9.7 -3.6 9.9 -2.8 9.6 -2.7 11 -0.1 11.1 0.9 11 1.4 11.5 2.2 11.9 2 12.7 0.9 13.3Z" fill="#d1e5f0" class="b"/>
<path d="M-12.2 14.8 -11.4 12.4 -12.4 12.4 -13.7 12.7 -16.7 12.4 -17.5 12.4 -18 14.7 -17 16.5 -16.5 16.2 -14.5 16.6 -12.5 15.3Z" fill="#59a1ca" class="b"/>
<path d="M-16.9 13.1 -16.9 13.6 -15.4 13.6 -13.8 13.6 -13.8 13.3 -15.4 13.3 -16.7 13.1Z" fill="#d1e5f0" class="b"/>
<path d="M-13.7 12.7 -16.7 12.4 -17 11.8 -16 10.8 -15 10.9 -13.7 11.7Z" fill="#d1e5f0" class="b"/>
<path d="M-13.7 12.7 -12.4 12.4 -11.4 12.4 -10.6 11.9 -8.9 12.1 -8.3 11 -8 10.2 -8.2 9.5 -7.7 8.4 -8.2 7.6 -8.5 7.6 -9.4 7.4 -9.5 8.4 -10.3 8.5 -10.6 9.1 -11.2 10 -12.2 9.9 -13.2 9.1 -14 9 -16 10.8 -15 10.9 -13.7 11.7Z" fill="#b8d8e9" class="b"/>
<path d="M-13.2 9.1 -12.2 9.9 -11.2 10 -10.6 9.1 -10.3 8.5 -10.7 8 -11.5 6.9 -12.5 6.8 -14 8.5Z" fill="#81bad8" class="b"/>
<path d="M-11.5 6.9 -10.7 8 -10.3 8.5 -9.5 8.4 -9.4 7.4 -8.5 7.6 -8.3 6.5 -7.5 5.9 -7.5 4.3 -8.5 4 -12.5 6.8Z" fill="#eff3f5" class="b"/>
<path d="M-8 10.2 -7.6 10.2 -6.2 10.5 -5.4 10.4 -4.7 9.7 -3.6 9.9 -2.8 9.6 -2.5 8.2 -3.2 6.2 -2.9 5 -3 4 -7.5 4.3 -7.5 5.9 -8.3 6.5 -8.5 7.6 -8.2 7.6 -7.7 8.4 -8.2 9.5Z" fill="#f3f5f6" class="b"/>
<path d="M-2.8 9.6 -2.7 11 -0.1 11.1 0 10.6 0.4 10.2 0.3 8.8 0.6 8 0.5 6.9 1.2 6.1 1.2 5 -3 4 -2.9 5 -3.2 6.2 -2.5 8.2Z" fill="#81bad8" class="b"/>
<path d="M-0.1 11.1 0.9 11 0.8 10.5 1.4 9.5 1.6 6.9 1.8 6.2 1.9 5 1.2 5 1.2 6.1 0.5 6.9 0.6 8 0.3 8.8 0.4 10.2 0 10.6Z" fill="#f6f7f7" class="b"/>
<path d="M0.9 11 1.4 11.5 2.2 11.9 2.8 12.3 3.6 11.7 3.8 10.6 2.7 9.4 2.7 6.4 2.7 5 1.9 5 1.8 6.2 1.6 6.9 1.4 9.5 0.8 10.5Z" fill="#eff3f5" class="b"/>
<path d="M2.7 6.4 2.7 9.4 3.8 10.6 3.6 11.7 4.2 13.5 6.3 13.7 8 13.3 10 13.3 12.3 13.1 13.6 13.7 14.1 13.1 14.2 12.6 13.8 11.5 13.3 10.3 12.9 8.9 12.2 8.4 11.8 7.1 11.1 6.5 10.2 7 9.7 6.5 8.8 5.6 8.5 4.5 8 3.5 2.7 5Z" fill="#4393c3" class="b"/>
<path d="M14.2 12.6 14.5 12.3 14.9 11.8 15 10 13.9 9.6 14.5 8.9 15.5 7.5 14.5 5.6 15.1 4 16.1 2.8 16.2 2.2 13.3 2.2 11.3 2.2 9.8 2.3 9 3.5 8.5 4.5 8.8 5.6 9.7 6.5 10.2 7 11.1 6.5 11.8 7.1 12.2 8.4 12.9 8.9 13.3 10.3 13.8 11.5Z" fill="#a5cee3" class="b"/>
<path d="M15.5 7.5 17 7.9 18.6 9 20 9.1 21.7 9.9 22.9 10.9 23.6 8.7 24.6 8.2 25.3 7.5 27.4 5.1 25.2 5.1 22.4 4.1 20.5 4.4 18.5 3.5 16.6 3.5 16.2 2.2 16.1 2.8 15.1 4 14.5 5.6Z" fill="#f3f5f6" class="b"/>
<path d="M9.8 2.3 11.3 2.2 11.3 1 9.5 1 9 1.5Z" fill="#f6f7f7" class="b"/>
<path d="M9.5 1 11.3 1 11.3 2.2 13.3 2.2 13.2 1.2 14.5 0.8 13.9 -0.5 14.5 -1.8 14.2 -2.5 12.5 -2.3 11.6 -2.8 12 -3.5 11.1 -3.9 8 -2 8.5 0.5Z" fill="#f3f5f6" class="b"/>
<path d="M13.3 2.2 16.2 2.2 16.6 3.5 18.5 3.5 18.1 1.5 17.6 -0.5 16.2 -2.2 16 -3.5 15.2 -4.3 13.3 -4.8 12.2 -5 11.8 -4.7 11.1 -3.9 12 -3.5 11.6 -2.8 12.5 -2.3 14.2 -2.5 14.5 -1.8 13.9 -0.5 14.5 0.8 13.2 1.2Z" fill="#ddebf2" class="b"/>
<path d="M18.5 3.5 20.5 4.4 22.4 4.1 25.2 5.1 27.4 5.1 28.4 4.3 29.8 4.4 30.8 3.5 31.2 2.3 30.5 1.2 29.6 -0.6 29.6 -1.4 29 -1.4 29 -2.8 29 -3.3 29.2 -4.4 29.4 -5.9 30.6 -8.3 28.9 -8.5 28.4 -9.2 28.6 -10.5 28.4 -11.8 29.4 -12.4 29.8 -13.4 29 -13.4 27.4 -12.1 26 -11.9 25.3 -11.2 24.3 -11.3 23.9 -10.9 22.2 -11.1 22.1 -9.9 21.8 -7.3 20.3 -7 19.4 -8 17.5 -8.1 16.3 -5.9 13.2 -5.9 12.2 -6 11 -6 12.2 -5 13.3 -4.8 15.2 -4.3 16 -3.5 16.2 -2.2 17.6 -0.5 18.1 1.5Z" fill="#a5cee3" class="b"/>
<path d="M12.2 -6 13.2 -5.9 16.3 -5.9 17.5 -8.1 19.4 -8 20.3 -7 21.8 -7.3 22.1 -9.9 22.2 -11.1 23.9 -10.9 24 -13 22 -13 22 -16.2 23.4 -17.6 21 -18 18.5 -17.4 13.5 -17.4 11.8 -17.2 10 -12 11 -6Z" fill="#7bb6d6" class="b"/>
<path d="M11.8 -17.2 13.5 -17.4 18.5 -17.4 21 -18 23.4 -17.6 24.5 -17.5 25.2 -17.8 23.4 -18.2 21 -18.3 21 -22 20 -22 20 -24.8 20 -28.4 19 -28.9 17.4 -28.7 16.5 -28.6 12 -20Z" fill="#71b0d3" class="b"/>
<path d="M20 -24.8 20 -22 21 -22 21 -18.3 23.4 -18.2 25.2 -17.8 26.2 -19.5 27.3 -20.5 28 -21.5 29.4 -22.1 28.2 -22.6 27 -23.6 26.5 -24.6 25.8 -25.5 25 -25.7 24 -25.5 22.7 -26 22 -26.8 20.8 -26.9Z" fill="#f3f5f6" class="b"/>
<path d="M16.5 -28.6 17.4 -28.7 19 -28.9 20 -28.4 20 -24.8 20.8 -26.9 22 -26.8 22.7 -26 24 -25.5 25 -25.7 25.8 -25.5 26.5 -24.6 27 -23.6 28.2 -22.6 29.4 -22.1 31.3 -22.4 32 -24.4 31.9 -25.9 32.1 -26.8 32.9 -26.8 34 -28 31 -33 20 -36 17 -33Z" fill="#59a1ca" class="b"/>
<path d="M27 -29.6 27.7 -28.9 28.7 -28.6 29.4 -29.4 29.2 -30 28.2 -30.6 27.4 -30.3Z" fill="#f6f7f7" class="b"/>
<path d="M30.8 -26.4 31.4 -25.7 32 -25.9 32.1 -26.8 31.3 -27.3 30.8 -26.8Z" fill="#f6f7f7" class="b"/>
<path d="M25.2 -17.8 26.2 -19.5 27.3 -20.5 28 -21.5 29.4 -22.1 31.3 -22.4 32.4 -21.3 32.7 -20.5 32.9 -18.5 32.9 -16.7 30.4 -15.6 28.9 -16 27.8 -17 26.5 -17.7Z" fill="#f3f5f6" class="b"/>
<path d="M22 -13 24 -13 24 -11 24.3 -11.3 25.3 -11.2 26 -11.9 27.4 -12.1 29 -13.4 29.8 -13.4 29.4 -12.4 28.4 -11.8 28.6 -10.5 28.4 -9.2 28.9 -8.5 30.6 -8.3 31 -8.6 32.9 -9.3 33.3 -9.5 33.6 -10.5 33.3 -12.3 32.7 -13.6 33.2 -14 30.4 -15.6 28.9 -16 27.8 -17 26.5 -17.7 25.2 -17.8 24.5 -17.5 23.4 -17.6 22 -16.2Z" fill="#d4e6f1" class="b"/>
<path d="M30.4 -15.6 33.2 -14 34.2 -15.3 34.5 -16.3 35.3 -17.1 35.8 -16 35.3 -14.3 34.5 -13.5 34.6 -11.4 37.5 -11.6 40.4 -10.4 42 -12 41 -20 36 -25 32.9 -26.8 32.1 -26.8 31.9 -25.9 32 -24.4 31.3 -22.4 32.4 -21.3 32.7 -20.5 32.9 -18.5 32.9 -16.7Z" fill="#b1d5e7" class="b"/>
<path d="M33.3 -9.5 33.9 -9.4 34.6 -11.4 34.5 -13.5 35.3 -14.3 35.8 -16 35.3 -17.1 34.5 -16.3 34.2 -15.3 33.2 -14 32.7 -13.6 33.3 -12.3 33.6 -10.5Z" fill="#c5dfec" class="b"/>
<path d="M29.2 -4.4 29.9 -4.4 30.9 -3.4 30.6 -2.4 30.9 -2 30.5 -1.1 31.7 -1 34 -1 37.6 -3 39.2 -4.7 40 -5.5 41 -10 40.4 -10.4 37.5 -11.6 34.6 -11.4 33.9 -9.4 33.3 -9.5 32.9 -9.3 31 -8.6 30.6 -8.3 29.4 -5.9Z" fill="#f3f5f6" class="b"/>
<path d="M34 4.2 35.9 4.6 36.8 4.4 38.7 3.6 39.9 3.5 40.8 4.3 41.9 3.9 41 2.8 41 -0.9 41.6 -1.7 42 -2.5 40 -5 39.2 -4.7 37.6 -3 34 -1 33.9 0.1 34.5 1.7Z" fill="#bddbea" class="b"/>
<path d="M30.8 3.5 31.6 3.7 33 3.9 34 4.2 34.5 1.7 33.9 0.1 34 -1 31.7 -1 30.5 -1.1 29.6 -1.4 29.6 -0.6 30.5 1.2 31.2 2.3Z" fill="#81bad8" class="b"/>
<path d="M29 -1.4 29.6 -1.4 30.5 -1.1 30.9 -2 30.6 -2.4 29.9 -2.8 29 -2.8Z" fill="#d1e5f0" class="b"/>
<path d="M29 -2.8 29.9 -2.8 30.6 -2.4 30.9 -3.4 29.9 -4.4 29.2 -4.4 29 -3.3Z" fill="#d1e5f0" class="b"/>
<path d="M36.5 14.3 36.4 13.4 35.6 12.6 35 11.2 34.3 10.6 34.1 9.5 34 8.6 33.2 8.4 33 7.8 34.4 6.8 35.9 4.6 36.8 4.4 38.7 3.6 39.9 3.5 40.8 4.3 41.9 3.9 43.7 4.9 45 5 47.8 8 44 9 43.7 9.4 42.7 11 41.8 11.5 42.4 12.5 41.7 13 40.1 14.4 39.2 14.5 37.9 14.9Z" fill="#f3f5f6" class="b"/>
<path d="M36.5 14.3 37.9 14.9 39.2 14.5 40.1 14.4 41.7 13 42.4 12.5 43.1 12.7 42 14.5 40 16 38.6 18.5 38.4 17.9 36.9 16.1Z" fill="#f6f7f7" class="b"/>
<path d="M42.4 12.5 41.8 11.5 42.7 11 43.2 11.5 43.4 12 43.1 12.7Z" fill="#f6f7f7" class="b"/>
<path d="M42.7 11 43.7 9.4 44 9 47.8 8 45 5 43.7 4.9 41.9 3.9 41 2.8 41 -0.9 41.6 -1.7 43 -1.5 52 11 51.5 12.2 47 11.7 43.3 11.8 43.2 11.5Z" fill="#f6f7f7" class="b"/>
<path d="M27.8 60.5 29.5 61.5 31.2 62.5 30 63.8 30.5 64.7 29.7 65.7 30 67.6 28.7 68.9 28.9 69 29.3 69.5 30.8 69.8 32 70.5 40 72 60 85 180 85 180 60 150 45 138 40 131 41.5 130.6 42.4 131.2 43 131.3 44.9 132.9 45 133.1 45.1 134.8 47.7 134.6 48.4 132 47.7 130.8 48.9 129 49.4 127.5 50 126.5 52 125 53.2 123.5 53.5 121.2 53.3 120 52.6 120.8 52 119.5 50.5 117.8 49.5 116.7 49.8 115.5 50 114 50.2 111.5 49.3 108 49.6 106 50.3 102.5 50.5 100 51.7 98.3 52.1 98 50.6 97.3 49.8 94.5 50 92.2 50.8 89.5 49.8 87.8 49.2 87.3 49.1 86.5 49.8 85 50.1 83.4 51 81 50.8 80 50.8 77.8 53.3 76.5 54.2 73.5 54 71 55.2 68 55 65.5 54.6 61.5 54 61 53 61.5 52 60 51.8 59.5 50.6 57.5 51 55.7 50.6 53.5 51.4 50.8 51.7 48.7 50.6 47.5 50.4 46.6 49 46.8 48.4 47.2 47.7 48.2 47.7 49 46.5 48.6 41.8 46.5 41.9 45 42.7 43.5 42.9 42 43.3 40 43.4 38 45 38.2 47.1 39.7 47.8 40.1 48.3 40 49.6 38.2 49.9 37.5 50.3 35.4 50.6 34.4 51.3 33.8 52.3 31.8 52.1 32.7 53.3 31.8 53.8 30.8 55.6 28.2 56.2 27.7 57.3 27.4 58.5 28 59.5Z" fill="#1c5c9f" class="b"/>
<path d="M19.6 54.4 22.7 54.4 22.9 55 21.3 55.2 20.5 55.2 19.9 54.9 19 54.8Z" fill="#1c5c9f" class="b"/>
<path d="M46.6 49 47.5 50.4 48.7 50.6 50.8 51.7 53.5 51.4 55.7 50.6 57.5 51 59.5 50.6 60 51.8 61.5 52 61 53 61.5 54 65.5 54.6 68 55 71 55.2 73.5 54 76.5 54.2 77.8 53.3 80 50.8 81 50.8 83.4 51 85 50.1 86.5 49.8 87.3 49.1 85.7 48.5 85.5 47.1 83 47.2 82.3 45.5 80 45 80.4 44 80.2 42.9 79 42.8 76 43 74.5 42.9 73.5 42.5 71.8 42.8 71 42.3 70 42.6 69.1 41.4 68.5 40.7 67.9 41.1 66.7 41.2 66 42 66 43 65 43.7 64 43.6 62 43.5 61 44.4 58.5 45.6 56 45 56 41.3 55.5 41.3 54.2 42.4 52.4 41.7 51 43.5 51 46 49 46.5 48.2 47.7 47.2 47.7 46.8 48.4Z" fill="#eff3f5" class="b"/>
<path d="M130.6 42.4 131.2 43 131.3 44.9 132.9 45 133.1 45.1 134.8 47.7 134.6 48.4 132 47.7 130.8 48.9 129 49.4 127.5 50 126.5 52 125 53.2 123.5 53.5 121.2 53.3 120 52.6 120.8 52 119.5 50.5 117.8 49.5 116.7 49.8 87.8 49.2 87.3 49.1 85.7 48.5 85.5 47.1 83 47.2 82.3 45.5 80 45 80.4 44 80.2 42.9 80.2 42.1 74 40 73 38 72 36 76 33 80 28 90 26 96 26 99 20 104 20 106 20 107.5 21 110 19.5 113 21 118 23 122 28 123 33 123.5 37.5 128 38Z" fill="#1d3461" class="b"/>
<path d="M116.7 49.8 115.5 50 114 50.2 111.5 49.3 108 49.6 106 50.3 102.5 50.5 100 51.7 98.3 52.1 98 50.6 97.3 49.8 94.5 50 92.2 50.8 89.5 49.8 87.8 49.2 88.9 48.1 90.5 47.7 91 46.5 90.5 45.5 93.5 44.9 95.5 44.2 96.5 42.8 100 42.6 101.8 42.5 105 41.6 107 42.2 110.4 42.8 111.9 43.7 111.5 44.4 113.6 44.7 115.5 45.6 116.6 46.6 118 47 119.8 46.8 119.8 47.5 118.5 48 117.4 47.7 115.6 47.9Z" fill="#f3f5f6" class="b"/>
<path d="M124.4 40.1 125.5 40.8 126.9 41.8 128.2 41.4 128.9 42 130.2 42.7 130.6 42.4 131 41.5 129.5 39.5 128.4 38.6 127.5 38.3 126.7 37.9 126 37.7 124 38 124 39.8Z" fill="#a5cee3" class="b"/>
<path d="M128.4 38.6 127.5 38.3 126.7 37.9 126 37.7 125.5 37 125.8 34 127.5 33.8 129.8 35 129.8 37Z" fill="#4393c3" class="b"/>
<path d="M-1.8 43.6 -1.5 43.3 0 42.7 1.5 42.5 3.2 42.4 4.5 42 7.5 43.5 7.5 43.8 7 44.2 6.9 45.1 7 45.9 6.1 46.2 6.1 46.6 6.8 47.2 7.6 47.6 7.8 48.5 8.2 49 6.4 49.5 5.8 49.5 4.8 50 4.2 50.3 3 50.8 2.5 51.1 1 51 -6 48.5 -3 44Z" fill="#529dc8" class="b"/>
<path d="M-5.6 36 -7.4 37.2 -7.5 38.2 -7 39 -7.5 39.7 -6.9 40.2 -6.9 41 -6.6 41.9 -8.1 41.8 -8.9 42.1 -10 42 -10 44 -1.8 43.6 -1.5 43.3 0 42.7 1.5 42.5 3.2 42.4 4 41 1 38 -2 36 -5 36Z" fill="#4393c3" class="b"/>
<path d="M-8.9 37 -7.4 37.2 -7.5 38.2 -7 39 -7.5 39.7 -6.9 40.2 -6.9 41 -6.6 41.9 -8.1 41.8 -8.9 42.1 -10 42 -10 37Z" fill="#a5cee3" class="b"/>
<path d="M6.1 50.1 6.5 49.8 6.4 49.5 8.2 49 7.8 48.5 7.6 47.6 8.6 47.6 9.6 47.5 10.5 47.5 12.2 47.6 13 47.5 12.8 48.3 13.8 48.7 12.5 49.5 12.1 50.3 14.3 50.9 15 51.1 14.6 52.6 14.4 53.3 14.2 53.9 14 54.8 11 54.6 9.9 54.8 8.6 54.9 8 54.5 7.2 53.6 7.1 53.2 7 52.4 6.8 51.9 5.9 51.8 6.1 51.3 6 50.8 6.2 50.6Z" fill="#8ac0db" class="b"/>
<path d="M14.2 53.9 14.4 53.3 14.6 52.6 15 51.1 16.3 50.7 17 50.3 18 50 18.5 49.5 19.5 49.5 20.5 49.4 22.5 49.1 22.7 49.6 24.1 50.7 23.6 51.5 23.2 52.3 23.9 53 23.5 54 22.7 54.4 19.6 54.4 19 54.8 16.5 54.8 14.2 54.2Z" fill="#98c8e0" class="b"/>
<path d="M7.5 43.8 7 44.2 6.9 45.1 7 45.9 7.8 45.9 8.5 46.4 9 45.8 9.5 46.3 10.3 46.5 10.5 46.9 12.2 47 12.4 46.7 13.7 46.5 13.6 45.8 13.6 45.5 14 45 18.8 40.2 18.8 39.5 15 37.8 10 38.5 7.5 43.5Z" fill="#a5cee3" class="b"/>
<path d="M2.5 51.1 3 50.8 4.2 50.3 4.8 50 5.8 49.5 6.1 50.1 6.2 50.6 6 50.8 5.9 50.8 5.8 51.2 4.5 51.4 3.4 51.4 3 52Z" fill="#e4eef4" class="b"/>
<path d="M5.8 49.5 6.4 49.5 6.5 49.8 6.1 50.1Z" fill="#f6f7f7" class="b"/>
<path d="M3.4 51.4 4.5 51.4 5.8 51.2 5.9 50.8 6 50.8 6.1 51.3 5.9 51.8 6.8 51.9 7 52.4 7.1 53.2 7.2 53.6 4.5 53.8 3 52Z" fill="#d1e5f0" class="b"/>
<path d="M8.6 54.9 9.9 54.8 10.5 55 11 57 10.6 57.8 8 57.5 7.8 55Z" fill="#e4eef4" class="b"/>
<path d="M6.1 46.2 7 45.9 7.8 45.9 8.5 46.4 9 45.8 9.5 46.3 10.3 46.5 10.5 46.9 9.6 47.1 9.6 47.5 8.6 47.6 7.6 47.6 6.8 47.2 6.1 46.6Z" fill="#eff3f5" class="b"/>
<path d="M9.6 47.5 9.6 47.1 10.5 46.9 12.2 47 12.4 46.7 13.7 46.5 14.6 46.4 16 46.7 16.1 47 16.5 47.6 17.1 48 16.9 48.6 15 49 13.8 48.7 12.8 48.3 13 47.5 12.2 47.6 10.5 47.5Z" fill="#e4eef4" class="b"/>
<path d="M12.1 50.3 12.5 49.5 13.8 48.7 15 49 16.9 48.6 17.5 48.8 18.5 49.5 18 50 17 50.3 16.3 50.7 15 51.1 14.3 50.9Z" fill="#eff3f5" class="b"/>
<path d="M17.1 48 16.9 48.6 17.5 48.8 18.5 49.5 19.5 49.5 20.5 49.4 22.5 49.1 22.2 48.4 21 48.5 20 48.5 18.8 47.9 17.8 47.8Z" fill="#eff3f5" class="b"/>
<path d="M16.1 47 16.5 47.6 17.1 48 17.8 47.8 18.8 47.9 20 48.5 21 48.5 22.2 48.4 22.9 48 22 47.4 21.2 46.4 20.2 46.1 18.8 45.9 17.3 45.9 16.6 46.5 16 46.7Z" fill="#f3f5f6" class="b"/>
<path d="M13.7 46.5 14.6 46.4 16 46.7 16.6 46.5 15.7 46.2 15.6 45.8 15.3 45.5 14.6 45.6 13.6 45.5 13.6 45.8Z" fill="#f6f7f7" class="b"/>
<path d="M13.6 45.5 14.6 45.6 15.3 45.5 15.6 45.8 15.7 46.2 16.6 46.5 17.3 45.9 18.8 45.9 19.4 45.2 19 44.9 17.6 45.1 16.5 45.2 15.8 44.7 16.2 44 17.5 43.1 18.5 42.5 18.4 42.4 17 43 15 44.2 13.5 45Z" fill="#eff3f5" class="b"/>
<path d="M15.8 44.7 16.5 45.2 17.6 45.1 19 44.9 19.4 44.3 19.5 43.9 19.2 43.5 18.7 43 18.5 42.5 17.5 43.1 16.2 44Z" fill="#f6f7f7" class="b"/>
<path d="M19 44.9 19.4 45.2 18.8 45.9 20.2 46.1 20.7 45.7 21.5 45.2 21.4 44.8 22.5 44.6 22.7 44.2 22.4 43.4 23 43 22.4 42.3 21.5 42.2 20.6 41.9 20.5 42.2 20.1 42.6 20.3 42.9 19.6 43.2 19.2 43.5 19.5 43.9 19.4 44.3Z" fill="#f3f5f6" class="b"/>
<path d="M18.5 42.5 18.7 43 19.2 43.5 19.6 43.2 20.3 42.9 20.1 42.6 19.7 42.6 19.4 41.9 19 41.8 18.4 42.4Z" fill="#f6f7f7" class="b"/>
<path d="M19.4 41.9 19.7 42.6 20.1 42.6 20.5 42.2 20.6 41.9 20.5 41.4 20.9 40.9 21 40.6 20.7 40.1 20 39.7 19 40 19 41.8Z" fill="#f6f7f7" class="b"/>
<path d="M20.6 41.9 21.5 42.2 22.4 42.3 23 41.6 22.9 41.3 22.7 41.1 21.9 41.1 20.9 40.9 20.5 41.4Z" fill="#f6f7f7" class="b"/>
<path d="M20 39.7 20.7 40.1 21 40.6 20.9 40.9 21.9 41.1 22.7 41.1 22.9 41.3 24.5 41.6 25.5 41.3 26.1 41.7 26.6 41.6 26.3 41.2 26 40.8 25.5 39 24 36 21 36.5 19.5 39.5Z" fill="#f6f7f7" class="b"/>
<path d="M22.4 42.3 23 43 22.4 43.4 22.7 44.2 23.5 43.8 25 43.7 26 43.9 27 44.1 28 43.8 28.6 43.7 29.5 43 28.5 42 28 42 27 42.1 26.6 41.6 26.1 41.7 25.5 41.3 24.5 41.6 22.9 41.3 23 41.6Z" fill="#eff3f5" class="b"/>
<path d="M20.7 45.7 20.2 46.1 21.2 46.4 22 47.4 22.9 48 24.5 47.9 26.6 48.2 27.6 47.3 28.2 46.5 28.2 45.5 29.7 45.2 30 44 28.6 43.7 28 43.8 27 44.1 26 43.9 25 43.7 23.5 43.8 22.7 44.2 22.5 44.6 21.4 44.8 21.5 45.2Z" fill="#f3f5f6" class="b"/>
<path d="M26.6 48.2 27.6 48.5 29.1 47.9 29.6 47.3 30.1 46.4 29.3 46.4 28.9 46 28.2 45.5 28.2 46.5 27.6 47.3Z" fill="#f6f7f7" class="b"/>
<path d="M22.2 48.4 22.5 49.1 22.7 49.6 24.1 50.7 23.6 51.5 24.5 51.9 26 51.9 28 51.6 30.5 51.3 31.8 52.1 33.8 52.3 34.4 51.3 35.4 50.6 37.5 50.3 38.2 49.9 40 49.6 40.1 48.3 39.7 47.8 38.2 47.1 37 46 36 45 33.5 44.3 32 45.5 30.5 46 29.7 45.2 28.2 45.5 28.9 46 29.3 46.4 30.1 46.4 29.6 47.3 29.1 47.9 27.6 48.5 26.6 48.2 24.5 47.9 22.9 48Z" fill="#acd2e5" class="b"/>
<path d="M23.2 52.3 23.6 51.5 24.5 51.9 26 51.9 28 51.6 30.5 51.3 31.8 52.1 32.7 53.3 31.8 53.8 30.8 55.6 28.2 56.2 26.6 55.7 25.6 54.8 25.8 54.2 24.4 53.9 23.5 54 23.9 53Z" fill="#f6f7f7" class="b"/>
<path d="M21 55.2 21.3 55.2 22.9 55 22.7 54.4 23.5 54 24.4 53.9 25.8 54.2 25.6 54.8 26.6 55.7 25 56.2 22.5 56.4 21 56.1 20.5 55.5Z" fill="#acd2e5" class="b"/>
<path d="M21 56.1 22.5 56.4 25 56.2 26.6 55.7 28.2 56.2 27.7 57.3 27 57.7 25.3 58 24.3 57.9 24.3 57.2 23 57.3 22 57.7 20.5 57Z" fill="#b8d8e9" class="b"/>
<path d="M24.3 57.9 25.3 58 27 57.7 27.7 57.3 27.4 58.5 28 59.5 26 59.9 23 59.6 22.5 58.5 24.1 58.3Z" fill="#b8d8e9" class="b"/>
<path d="M21 60 27.8 60.5 29.5 61.5 31.2 62.5 30 63.8 30.5 64.7 29.7 65.7 30 67.6 28.7 68.9 28.9 69 27 70 25.7 69.5 24.9 68.6 23 68.7 21 69.3 23.5 68 24 66.3 24.5 65.8 24 64.8 21 63 20.5 61Z" fill="#81bad8" class="b"/>
<path d="M24.5 65.8 24 66.3 23.5 68 21 69.3 20.5 69.1 18.2 68.5 17.5 68 16.1 67.2 15.5 66.3 14.5 65.8 13.7 64.6 14.1 63.6 12.2 63.4 12.7 62 12.4 61.3 12.8 60.1 11.8 59.8 11.4 59.1 11 58.5 11.5 57 12.5 55.3 14.5 55.2 17 56 19.5 59 19 60.5 17.8 62.5 20 63.8 22 65.3Z" fill="#7bb6d6" class="b"/>
<path d="M11.4 59.1 11.8 59.8 12.8 60.1 12.4 61.3 12.7 62 12.2 63.4 14.1 63.6 13.7 64.6 14.5 65.8 15.5 66.3 16.1 67.2 17.5 68 18.2 68.5 20.5 69.1 21 69.3 23 68.7 24.9 68.6 25.7 69.5 27 70 28.9 69 29.3 69.5 30.8 69.8 32 71.5 20 72 10 66 3 61 5 57.5 9 57.5 10.5 58.5Z" fill="#2065ab" class="b"/>
<path d="M40 43.4 42 43.3 43.5 42.9 45 42.7 46.5 41.9 46.7 41.3 45.3 41.4 43.5 41.1 42.8 41.6 41.5 41.5 39.5 42.5Z" fill="#f6f7f7" class="b"/>
<path d="M43.5 41.1 45.3 41.4 45.5 40.9 45.6 40.3 46.5 39.5 46.5 38.9 46.1 38.9 45 39.8 43.8 40.1 43.6 40.8Z" fill="#f6f7f7" class="b"/>
<path d="M46.5 41.9 48.6 41.8 50 40.5 49.5 39 48.8 38.4 48 38.8 48.2 39.4 46.5 38.9 46.5 39.5 45.6 40.3 45.5 40.9 45.3 41.4 46.7 41.3Z" fill="#f6f7f7" class="b"/>
<path d="M26 40.8 26.3 41.2 26.6 41.6 27 42.1 28 42 28.5 42 29 41.5 35 42.5 39.5 42.5 41.5 41.5 42.8 41.6 43.5 41.1 43.6 40.8 43.8 40.1 44.8 39.7 44.4 38.3 44.8 37.2 42.4 37.1 41 37.1 38 36.8 36.7 36.8 36.6 36.2 36.2 35.9 35.8 35.8 33 35.8 27 36.5 25.5 39Z" fill="#62a7ce" class="b"/>
<path d="M36.2 35.9 36.6 36.2 36.7 36.8 38 36.8 41 37.1 42.4 37.1 41.3 36.4 41.2 34.4 38.8 33.4 36.8 32.3 35.8 32.7 35.8 33.3 36.6 34.2 36 34.6 35.5 35.5Z" fill="#f6f7f7" class="b"/>
<path d="M35.1 33.1 35.8 33.3 36.6 34.2 36 34.6 35 34.6Z" fill="#f6f7f7" class="b"/>
<path d="M34.2 31.3 34.9 29.5 35.4 31 35.5 31.8 35.6 32.7 35.8 32.7 35.8 33.3 35.1 33.1 34 32.5 33.9 31.5Z" fill="#f6f7f7" class="b"/>
<path d="M34.9 29.4 36.5 29.5 38 30.5 37 31.5 39 32.3 39.3 32.2 40.4 31.9 42 31.1 44.7 29.2 46.6 29.1 47.7 28.5 48.5 28.5 49.8 27 50.3 26 50.8 24.8 51.2 24.6 51.6 24.3 52.6 22.9 55.2 22.7 55.7 22 55 20 52 19 49 18.6 47 17 46.3 17.2 44.5 17.4 43.3 17.6 42.8 16.4 41 17 37.5 21.5 35.5 27.5 35.3 28.2 35 29.3Z" fill="#d1e5f0" class="b"/>
<path d="M34.9 29.5 36.5 29.5 38 30.5 37 31.5 39 32.3 39.3 32.2 38.8 33.4 36.8 32.3 35.8 32.7 35.6 32.7 35.5 31.8 35.4 31Z" fill="#f6f7f7" class="b"/>
<path d="M42.4 37.1 44.8 37.2 45.5 35.8 46 35.1 45.5 34 46.5 33 47.5 32.5 47.9 31 48.5 30.5 48.6 29.9 48.1 30 47.7 30.1 46.6 29.1 44.7 29.2 42 31.1 40.4 31.9 39.3 32.2 38.8 33.4 41.2 34.4 41.3 36.4Z" fill="#ecf2f5" class="b"/>
<path d="M46.6 29.1 47.7 30.1 48.1 30 48.6 29.9 48.5 28.5 47.7 28.5Z" fill="#f6f7f7" class="b"/>
<path d="M50.8 24.8 51.2 24.6 51.6 24.6 51.7 26.2 51 26.2Z" fill="#f6f7f7" class="b"/>
<path d="M51.6 24.3 52.6 22.9 55.2 22.7 55.7 22 55.9 24.2 56.3 24.9 56.1 26.1 55 25.8 52 24.8Z" fill="#f6f7f7" class="b"/>
<path d="M55.7 22 55.9 24.2 56.3 24.9 57 24 58.6 23.6 60 22.5 59 20 57 18 55 16.8 53.1 16.6 52 19 55 20Z" fill="#a5cee3" class="b"/>
<path d="M52 19 53.1 16.6 53 15 49 13.5 45.5 12.5 43.6 12.6 42.5 14.5 42.5 16.2 42.8 16.4 43.3 17.6 44.5 17.4 46.3 17.2 47 17 49 18.6Z" fill="#a5cee3" class="b"/>
<path d="M44.8 39.7 44.4 38.3 44.8 37.2 45.5 35.8 46 35.1 45.5 34 46.5 33 47.5 32.5 47.9 31 48.5 30.5 48.6 29.9 50 29.5 52 27.2 54 26.3 56.2 26.9 57 25.6 59 25.2 61.6 25.1 61.8 26.2 63.2 26.6 63.3 27.2 62.8 28.3 61.9 28.6 60.9 29.8 61.7 31.3 60.9 31.5 60.6 33.3 60.9 34.3 61.2 35.6 60.4 36.6 59.2 37.4 57.3 38 55.5 37.9 54.2 37.3 53.9 37.3 51.5 37.2 49 38.3 48.8 38.4 48 38.8 48.2 39.4 46.5 38.9 46.1 38.9 45 39.8Z" fill="#529dc8" class="b"/>
<path d="M53.9 37.3 54.2 37.3 55.5 37.9 57.3 38 59.2 37.4 60.4 36.6 61.2 35.6 62.3 35.3 63.1 35.9 64.5 36.3 65.6 37.3 66.5 37.4 66.6 38 64.5 39.5 62.4 40.3 61 41.2 60 42 58.6 42.7 57.8 42.2 56 41.3 55.5 41.3 54.2 42.4 52.4 41.7 52.8 40 53 38Z" fill="#f6f7f7" class="b"/>
<path d="M56 41.3 57.8 42.2 58.6 42.7 60 42 61 41.2 62.4 40.3 64.5 39.5 66.6 38 66.5 37.4 67.8 37.2 68.4 38.2 67.7 39 68.6 39.5 70.5 39.6 71 40.3 73.1 40.9 71.8 41.4 70.5 41.5 71 42.3 70 42.6 69.1 41.4 68.5 40.7 67.9 41.1 66.7 41.2 66 42 66 43 65 43.7 64 43.6 62 43.5 61 44.4 58.5 45.6 56 45Z" fill="#eff3f5" class="b"/>
<path d="M80.2 42.9 79 42.8 76 43 74.5 42.9 73.5 42.5 71.8 42.8 71 42.3 70.5 41.5 71.8 41.4 73.1 40.9 71 40.3 70.5 39.6 72 39.4 73.6 39.5 75.5 40.6 76.8 41 78.3 41.4 80.2 42.1Z" fill="#f6f7f7" class="b"/>
<path d="M67.8 37.2 68.4 38.2 67.7 39 68.6 39.5 70.5 39.6 72 39.4 73.6 39.5 74.9 38.5 74.9 37.2 72.6 37 71.3 37.1 71.5 37.9 70.2 37.6 68.9 37.3Z" fill="#f6f7f7" class="b"/>
<path d="M61.2 35.6 60.9 34.3 60.6 33.3 60.9 31.5 61.7 31.3 60.9 29.8 62.5 29.4 64 29.5 66.3 29.9 66.6 31 68 31.8 69.3 31.9 70 33 69.5 33.8 70.9 34 71.2 34.7 71.6 35.4 71.5 36 72.5 36.8 74.5 37 74.9 37.2 72.6 37 71.3 37.1 71.5 37.9 70.2 37.6 68.9 37.3 67.8 37.2 66.5 37.4 65.6 37.3 64.5 36.3 63.1 35.9 62.3 35.3Z" fill="#f3f5f6" class="b"/>
<path d="M68.2 23.7 68.7 24.3 69.5 24.3 70.2 25.5 69.5 26.6 70.5 27.8 72 28 73.4 29.9 74 30 74.5 31 75.3 32.3 74.6 32.9 74 34.5 76 35 77.8 35.5 78.7 34.6 79.5 33 78.5 32.5 79 31.4 81 30.2 82.5 29.7 84.2 29 85.6 28.3 86.9 28 88.1 27.9 88.2 27.9 88.8 28 88.9 27.3 89.5 28.2 90.5 28.1 91.7 27.8 92.5 27.8 94 28.8 95.4 29.1 96.4 29.2 97.3 28.2 96.2 27.3 95.1 26.4 94.6 25.2 94.1 23.9 93.3 24.1 93.2 22.3 92.6 22 92.3 21 89 21 85 18 80 12 77 7 75 10 70 20 68 22.5Z" fill="#1b4379" class="b"/>
<path d="M61.6 25.1 61.8 26.2 63.2 26.6 63.3 27.2 62.8 28.3 61.9 28.6 60.9 29.8 62.5 29.4 64 29.5 66.3 29.9 66.6 31 68 31.8 69.3 31.9 70 33 69.5 33.8 70.9 34 71.2 34.7 71.6 35.4 71.5 36 72.5 36.8 74.5 37 75.5 36.8 77 35.8 77.8 35.5 76 35 74 34.5 74.6 32.9 75.3 32.3 74.5 31 74 30 73.4 29.9 72 28 70.5 27.8 69.5 26.6 70.2 25.5 69.5 24.3 68.7 24.3 68.2 23.7 66 24 61.5 24.8Z" fill="#62a7ce" class="b"/>
<path d="M80.1 28.8 81 30.2 82.5 29.7 84.2 29 85.6 28.3 86.9 28 88.1 27.9 88.1 26.4 86 26.6 84.6 27.3 83.3 27.4 81 28.4Z" fill="#f6f7f7" class="b"/>
<path d="M88.9 27.3 89.8 26.7 92 26.9 91.7 27.8 90.5 28.1 89.5 28.2Z" fill="#f6f7f7" class="b"/>
<path d="M92.6 22 92.3 23.7 91.8 24.2 92.4 25 90 25.3 89.8 26 88.5 26.5 88.2 25.2 89 24.3 88.7 23.3 89.1 21.5 92.2 20.7 92.6 21.3Z" fill="#276eb0" class="b"/>
<path d="M97.3 28.2 98.5 27.6 98.7 26 97.7 24.8 98.5 24 99.5 22.1 101.2 21.4 100.1 20.4 98.9 19.8 97.8 18.6 97.5 17.8 98.9 16.4 98.2 15.1 99.2 13.2 99.1 11.5 98.5 10 97.5 10 94.5 15 93 19 92.2 20.7 92.6 21.3 92.6 22 93.2 22.3 93.3 24.1 94.1 23.9 94.6 25.2 95.1 26.4 96.2 27.3Z" fill="#f3f5f6" class="b"/>
<path d="M100.1 20.4 98.9 19.8 97.8 18.6 97.5 17.8 98.9 16.4 98.2 15.1 99.2 13.2 99.1 11.5 98.5 10 98 8 99.5 6.5 100.1 6.5 101 5.9 101.8 5.8 102.1 6.2 102.5 7 101 8.5 100 10 100.5 12.5 101.5 12.5 102.9 11.7 102.5 12.6 102.8 13.5 103.6 14.4 105.2 14.3 105.6 15.7 104.8 16.5 104.7 17.4 103 18 102.1 18.2 101.1 17.5 101.3 19.6 100.5 19.5Z" fill="#3480b9" class="b"/>
<path d="M101.2 21.4 101.7 22.4 102.1 22.4 102.9 21.7 103 20.8 104.1 20.9 104.6 20.6 104.4 19.7 105.1 19 105.9 18.3 106.7 17 107.4 16 107.6 15.3 107.6 14.6 106.5 14.6 105.6 14 105.2 14.3 105.6 15.7 104.8 16.5 104.7 17.4 103 18 102.1 18.2 101.1 17.5 101.3 19.6 100.5 19.5 100.1 20.4Z" fill="#d1e5f0" class="b"/>
<path d="M102.9 11.7 102.5 12.6 102.8 13.5 103.6 14.4 105.2 14.3 105.6 14 106.5 14.6 107.6 14.6 107.5 13 106.4 11.9 105.8 11 104.5 10.4 103.5 10 102.5 11Z" fill="#7bb6d6" class="b"/>
<path d="M102.1 22.4 103 22.6 104 22.8 105.3 23.3 106.7 22.8 106.6 22.3 107.8 21.6 108.5 21 107 19.5 108 17 110 13 109.5 10.5 106.5 8 104.5 8.3 104.5 10.4 105.8 11 106.4 11.9 107.5 13 107.6 14.6 107.6 15.3 107.4 16 106.7 17 105.9 18.3 105.1 19 104.4 19.7 104.6 20.6 104.1 20.9 103 20.8 102.9 21.7Z" fill="#2b73b3" class="b"/>
<path d="M100.1 6.5 101 5.9 101.8 5.8 102.1 6.2 104 5 104.5 1.5 103.5 1.2 101 2.5 99.8 5.5Z" fill="#3c8abe" class="b"/>
<path d="M113.5 -22.5 114.2 -21.8 116.7 -20.6 118.8 -20.3 121 -19.5 122.3 -17.5 123.5 -17.3 124.8 -15.8 126 -14.3 127.8 -14.3 129.5 -14.9 130 -13.3 131 -12.2 132.6 -11.6 133.6 -11.8 135 -12.2 136.8 -12.2 136.5 -13.2 135.6 -14.6 137 -15.8 139.3 -17.4 140.8 -17.4 141.5 -15 141.6 -13 142.3 -10.8 142.5 -10.7 143.3 -12 143.6 -14 145.3 -15 145.9 -17 146.3 -19 148.7 -20.5 150 -22.2 151.1 -23.5 153 -25.3 153.6 -28.5 153.1 -30.8 152.4 -32.5 151.3 -33.8 150.1 -36.2 149.9 -37.5 147.9 -37.9 146.3 -39.1 144.9 -37.9 143.5 -38.8 141 -38 139.6 -37.2 139.7 -36 138.1 -35.6 138.5 -34.5 137.8 -32.7 137.5 -34 136.9 -35.3 135.9 -34.8 135.2 -34.5 134.3 -33.2 132 -32 129.5 -31.6 127 -32.3 124 -33 123.5 -33.9 120 -33.9 118 -35 116.5 -35 115 -34.3 115.7 -33.3 115.7 -31.6 115 -29.5 114.2 -28 113.5 -26.5 113.9 -25.5 113.4 -24.4Z" fill="#90c4dd"/>
</g>
<path d="M-168.1 65.6 -166.5 66.2 -164.5 66.6 -163.7 66.1 -161.8 66.3 -163.8 67.2 -165.5 67.9 -166.8 68.3 -165.5 68.9 -163.5 69.4 -161.9 70.3 -158 70.9 -156.5 71.3 -154.5 70.9 -152.3 70.9 -150 70.5 -146 70.2 -143 70.1 -141 69.7 -139 69.5 -137 69 -135 69.5 -133 69.6 -130 70.1 -128 70.5 -125 69.6 -123.5 69.4 -120 69.3 -117 68.8 -115 67.9 -112 67.8 -109 68 -106 68.6 -104 68.3 -101 67.8 -98 68 -96 68.2 -94.5 69.5 -95.5 71.5 -94.5 72 -92 71 -90 69.5 -88 68.5 -85.5 69.8 -82.5 69.5 -81.3 68.6 -82.5 67 -85 66.3 -86.8 65.5 -88 64.5 -90.5 63.9 -90.7 63.3 -93 62 -94.3 60.5 -94.5 59 -92.5 57.3 -90 57 -88 56.1 -85 55.3 -82.5 55.1 -82.3 53 -81 52 -79.7 51.4 -78.9 52.5 -79 54.3 -77 55.5 -76.5 57 -77.2 58.5 -77.8 60.1 -77.5 62.2 -75 62.3 -72.5 61.8 -70 61.1 -69.5 59 -68 58.5 -67.5 58.3 -66 58.8 -64.5 60.3 -63 58.5 -61.5 56.5 -60 55.2 -58 54.3 -56 53.3 -55.7 52.2 -57.3 51.5 -60 50.3 -63.5 50.2 -66.5 50.2 -68.5 49.3 -70.5 47.5 -71.2 46.8 -70 47.2 -68.5 48.5 -66 49.2 -64.2 48.9 -64.8 47.8 -65 47.1 -64.6 46.3 -63 45.7 -61.5 45.7 -60.3 46.9 -60 46.2 -61 45.3 -63.5 44.6 -65.5 43.5 -66.2 44.4 -64.5 45.3 -66.5 45.2 -67 44.8 -68.5 44.3 -70.2 43.6 -70.8 42.5 -70 41.8 -70.6 41.5 -71.5 41.4 -73 41.1 -74 40.6 -74 39.6 -74.9 38.9 -75.1 38.4 -75.9 37.4 -76.3 36.9 -75.5 35.6 -75.7 35.2 -76.7 34.7 -77.9 33.9 -79.2 33.2 -80.5 32.4 -81.3 31.5 -81.4 30.2 -80.6 28.5 -80.1 26.6 -80.4 25.3 -81.1 25.1 -81.8 26.3 -82.7 27.7 -82.8 29 -83.7 29.9 -84.5 30 -85.3 29.7 -86.5 30.4 -88 30.4 -89.5 30.2 -89.2 29.1 -90.5 29.1 -92 29.6 -93.8 29.7 -95 29.2 -96.6 28.1 -97.3 27.1 -97.2 25.9 -97.6 24.5 -97.7 22.5 -97.3 21.2 -96.4 19.5 -95 18.6 -94 18.2 -92.5 18.6 -91.4 18.7 -90.6 19.6 -90.4 20.9 -88.5 21.5 -87 21.5 -87.5 20.3 -87.8 18.5 -88.3 17.6 -88.3 16.3 -88.8 15.8 -87.5 15.8 -85 15.9 -83.4 15.2 -83.2 14.3 -83.6 12.8 -83.7 11.5 -83.3 10.6 -82.5 9.6 -81.5 8.8 -80 9.3 -78.5 9.4 -77.4 8.6 -76.8 8.6 -75.5 10.4 -74.8 11 -73.5 11.3 -72 12.4 -71.3 11.8 -71.9 11 -71.6 10.4 -71 11 -70.2 11.6 -70 12.2 -69.5 11.5 -68 10.6 -66.2 10.6 -64 10.7 -62.8 10.6 -61.9 10.1 -61.2 9 -60.7 8.5 -59.8 8.3 -58.5 7.2 -57.5 6.2 -55.5 5.9 -54 5.7 -52.5 5.1 -51.6 4.2 -51 3.2 -50 1.8 -50.5 0.2 -49 -0.5 -48.5 -1.2 -47 -0.8 -44.5 -2.5 -42 -2.8 -40 -2.8 -38.5 -3.7 -37.2 -4.9 -35.3 -5.2 -34.8 -7.5 -35.2 -9.2 -36.5 -10.6 -37.5 -12 -38.5 -13 -39 -14.5 -39 -17.5 -39.7 -19.5 -40.8 -21.8 -42 -23 -44.5 -23.3 -46.5 -24 -48 -25.5 -48.6 -27.5 -49.5 -29 -51 -31 -52.5 -33 -53.5 -34.2 -54.9 -34.9 -56.5 -34.8 -57.8 -34.4 -58.4 -34 -58.5 -34.5 -57.2 -35.7 -56.7 -36.4 -57.5 -38 -59 -38.7 -62 -38.9 -62.3 -40.5 -65 -41 -64.5 -42.3 -63.8 -42.6 -65 -43 -65.2 -44.5 -67 -45.5 -67.5 -46.5 -65.8 -47.5 -67.7 -49.5 -69 -50.5 -68.4 -52.3 -70 -52.8 -71 -53.8 -72 -54 -74.5 -52.5 -75.3 -50 -74.8 -48 -75.5 -46.5 -74 -44 -73.5 -42 -73.8 -40 -73.5 -37.5 -72.6 -35.5 -71.6 -33 -71.4 -30 -70.9 -27 -70.4 -23.5 -70.1 -20.5 -70.3 -18.4 -71.5 -17.3 -73.3 -16.3 -75.2 -15.2 -76.3 -13.8 -77.2 -12 -78.5 -9.5 -79.6 -7.2 -81.2 -6 -81.3 -4.3 -80.3 -3.4 -80 -2.5 -80.9 -2.2 -80.4 -0.5 -80 0.8 -79 1.6 -78.8 2.6 -77.5 3.8 -77.4 6.5 -77.9 7.2 -78.5 8.2 -79.6 8.9 -80.3 8.3 -80.5 7.3 -81.5 7.7 -82.9 8.1 -83.6 8.6 -85 9.8 -85.7 10.3 -85.8 11.2 -87 12.4 -87.7 13 -88.5 13.2 -89.8 13.5 -91.3 13.9 -92.3 14.5 -93.5 15.7 -94.7 16.2 -96.5 15.7 -98.5 16.3 -100.8 17.2 -102 17.9 -103.5 18.3 -104.9 19.3 -105.6 20.4 -105.3 21.5 -105.7 22.5 -106.6 23.5 -107.8 24.7 -109 25.6 -109.4 26.7 -110.6 27.8 -111.8 28.9 -112.9 30.5 -114.2 31.5 -114.8 31.8 -114.7 30.7 -114.2 29.8 -113 28.8 -112.3 27.5 -111.6 26.5 -110.8 24.8 -110 23.9 -109.5 23.2 -110.1 22.9 -111.3 24.3 -112.2 25.1 -112.8 26.5 -114.2 27.6 -115 27.8 -114.4 28.6 -115.7 29.8 -116.7 31.4 -117.1 32.5 -117.4 33.2 -118.4 33.8 -119.2 34.1 -120.6 34.5 -120.9 35.4 -121.9 36.5 -122.4 37.2 -122.5 37.8 -123 38.2 -123.7 39 -124.2 40.3 -124.1 41.5 -124.5 42.8 -124 44.5 -123.9 46.2 -124.7 48.4 -123.5 48.2 -122.6 47.3 -122.8 49 -123.8 49.7 -125 50.3 -127 51.3 -127.8 52.3 -129.3 53.6 -130.3 54.7 -130.6 55.9 -131.5 56 -132.3 57 -134 58.4 -135.7 59.3 -136.5 58.4 -138.5 59.1 -139.8 59.6 -141.5 60 -143.9 60 -146.5 60.6 -148.5 60.3 -149.7 59.7 -151.5 59.2 -151.5 60.7 -150.3 61.2 -151.7 60.9 -153.3 59.5 -154.2 58.5 -156 57.6 -157.9 56.6 -159.5 55.7 -161.5 55.3 -162.8 54.9 -164.7 54.5 -163.3 55.1 -161.3 55.9 -159.5 56.5 -158.3 57.6 -157.3 58.8 -158.6 58.8 -160.5 58.7 -162.2 59.9 -163.8 60.3 -165.2 60.6 -165.5 61.7 -164.6 63.1 -162.3 63.5 -161.1 64.4 -162.8 64.5 -164.7 64.5 -166.4 64.7 -167.5 65.4ZM-5.6 36 -6.3 36.5 -7.4 37.2 -8.9 37 -8.8 38.3 -9.5 38.8 -9 40 -8.8 41.9 -9.3 43 -8 43.7 -5.8 43.6 -3.8 43.4 -1.8 43.4 -1.4 44.5 -1.2 46.2 -2.2 47.2 -4.5 47.9 -4.8 48.4 -3 48.8 -1.6 48.6 -1.9 49.7 -1.2 49.4 0.2 49.7 1.5 50.3 2.5 51.1 3.5 51.5 4.2 52 4.8 53 6 53.5 7.2 53.3 8.5 53.6 8.8 54.3 8.6 55.5 8.2 56.7 10.6 57.7 10.3 56.5 10.9 56.3 10 55.5 9.6 54.9 10.5 54.4 11.3 53.9 13 54.4 14.2 53.9 16.5 54.5 18.5 54.8 19.5 54.4 21 55.2 21 56.5 21.5 57.5 22.5 57.7 24.3 57.2 24.1 58.3 23.5 59.2 25 59.5 28 59.5 30 60 29 60.5 26.5 60.4 23 59.9 21.5 60.6 21.5 61.8 22 63 24.5 64.8 25.5 65.3 24.5 65.8 22 65.6 21.2 64.5 19.5 63.5 18 62.5 17.3 61 18.5 60.2 18.8 59.5 16.5 57.8 16.5 56.5 14.5 55.8 13 55.4 12.5 56.5 11.5 58.5 11 59 10.5 59.9 9.5 59 7.5 58 6 58.3 5.5 59.3 5 60.5 5 62 6.5 62.8 8.5 63.5 10.5 64.5 12.5 66 14 67.5 16 68.8 18.5 69.8 21 70.2 24 71 26 71 28.5 70.9 31 70.3 33 69.4 36 69.1 40 67.8 41.2 66.7 39.5 66.1 38 66 35 64.3 37 63.9 40 64.6 43.5 66.1 44.2 68.1 46 68 47 67.6 53 68.5 54 68.3 58 68.8 60 69.8 64 69.3 67 68.6 68.5 68.3 69.5 72.5 72 72.8 72.7 71.5 73 69.5 73.8 67 75 68.2 75 71 77 72.3 78.5 72.4 80.5 73.5 86.5 73.8 86 74.8 90 75.5 95 76 100 76.5 104 77.7 107 76.5 111 76.7 113.5 75.7 112 74 118 73.5 123 73 127 73.6 129 72 132 71.5 136 71.6 140 72.5 145 72.3 150 71.5 153 70.9 157 71 160 70.7 162 69.6 165 69.6 168 69.9 170.5 70.1 173 69.8 176 69.8 178.5 69.2 180 68.9 180 65 178.6 64.5 177 62.6 173.5 61.7 170.3 60 166 60 163.5 59.8 163 58 162.5 56.5 161.8 55 160 53.2 158.5 52.9 156.7 51 155.8 53.5 155.5 56 156.7 57.7 158.4 58 160 59.5 161.8 60.3 163.7 61.8 162.2 61.5 160.3 61.9 159.2 61.7 156.7 61.5 154 59.2 151.2 58.8 149 59.4 145 59.4 142 59 140.5 57.8 138 56.5 135 54.7 137.2 54 139 54.1 141.2 53.2 140.6 51.5 140.1 48.5 138.5 47 136 44 133 42.8 131 42.6 130 42 129.5 40.8 128.5 39.7 127.5 39.4 128.5 38.3 129.4 36.5 129.3 35.2 128 34.8 126.5 34.4 126.3 35.5 126.7 37 126.3 37.8 125 37.8 125.2 38.6 124.7 39.6 122 39.2 121.2 38.8 121.5 40 121.9 40.9 120.5 40.2 119.5 39.7 118 39.2 117.6 38.6 118.5 37.5 119.2 37.1 120.7 37.7 122.5 37.2 120.7 36.3 119.3 35 120.5 33.2 121.8 31.7 121.9 30.8 121.5 29.5 120.7 28 119.6 26 118.5 24.6 117 23.5 115 22.7 113.5 22.2 111.5 21.5 110 20.5 109.8 21.5 108.5 21.6 107 20.8 106 19.5 105.7 18.5 106.6 17.3 108.3 16 109 14 109.3 12 108.5 11 107 10.5 106.5 9.5 105 8.6 104.8 10.2 103.5 10.5 102.6 12.1 101 12.7 100.1 13.4 99.9 12 99.2 10 100.3 8.5 101 6.9 102.2 6.2 103.4 4.5 103.4 2.7 104.2 1.4 103.5 1.3 101.3 2.9 100.3 5.3 100 6.5 98.5 8.2 98.5 10 98.6 12 97.8 14.5 97.6 16.5 96.4 16.9 95 15.8 94.3 16.2 94.5 18 93.5 19.5 92.3 20.7 92 21.5 91.5 22.6 90.5 22.2 89.1 21.9 87 21.5 86.8 20.3 85 19.3 83.5 17.8 82.2 16.6 80.2 15.5 80.3 13.2 79.8 11.5 79.3 10.3 78.2 8.9 77.5 8.1 76.5 9 75.8 11.2 74.8 12.9 74 15 73.3 17.5 72.8 19.5 72.6 21.3 72.5 22.4 71 21 69.2 22.4 70.3 22.9 68.5 23.5 67.3 24.5 66.6 25.4 64.5 25.2 61.6 25.2 59.5 25.4 57.3 25.8 56.8 27.1 56 27 54 26.7 52 27.7 50.8 28.9 50 30 48.6 29.9 48 29.5 48.5 28.5 49.5 27 50.2 26 50.8 24.8 51.5 25.8 51.6 24.6 52.5 24.2 54.5 24.3 56 25.7 56.4 26.4 56.3 24.9 57 24 58.6 23.6 59.8 22.5 58.5 20.5 57.8 19 56.7 18.2 55 17 53 16.6 52 15.7 49 14.2 45.5 13 43.5 12.7 43 14.5 42.6 16 41.5 17.8 40 19.9 39 21.5 38.5 23.5 37.2 25.2 36 26.8 35.2 28 34.9 29.5 34.2 31.3 34.5 31.6 34.9 32.8 35.5 34 35.9 35.3 36 36 36.2 36.6 35.5 36.6 34 36.3 32.5 36.1 30.6 36.7 29.5 36.2 28 36.8 27.3 37.5 26.5 38.5 26.2 39.5 26.5 40.3 26 40.8 24.5 40.9 23.5 40.3 22.6 40.3 22.9 39.3 23.3 38.2 22.7 37.5 23.1 36.5 22.5 36.4 21.7 36.9 21.1 37.8 21.5 38.3 20.7 38.9 20 39.7 19.4 40.3 19.5 41.8 18.5 42.4 17 43.2 15.9 43.6 15 44.5 14.3 45.3 13.6 45.6 12.4 45.4 12.3 44.5 13.5 43.6 14.3 42.4 16 41.9 15.9 41.5 17.5 40.8 18.5 40.1 17 40.5 16.5 39.7 17.2 39 16.1 38 15.6 38 15.7 39.5 14.8 40.3 14 40.9 12.5 41.6 11.2 42.4 10.5 43 10.2 43.9 8.9 44.4 7.5 43.8 6.5 43.1 5 43.4 4 43.5 3.1 43 3.2 42.4 3.2 41.9 1.2 41.1 0.5 40.5 -0.3 39.5 0.2 38.8 -0.7 37.6 -2.1 36.7 -4.4 36.7ZM34.2 31.3 32.3 31.3 31 31.6 29.9 31.3 28 31 25 31.6 23 32.6 21 32.8 20 31.5 19.5 30.3 17.5 31 15.5 31.8 13.5 32.8 11.5 33.1 10.5 33.6 10.8 35.2 11 37 10 37.3 8.5 36.9 5.5 36.7 3 36.8 0 35.9 -2 35.1 -5.3 35.9 -6.2 35.5 -6.8 34 -8.5 33.2 -9.3 32.5 -9.8 30.5 -11 28.5 -13.2 27.7 -8.7 27.7 -8.7 26 -12 26 -12 23.5 -13.1 22.8 -13 21.3 -17.1 21.3 -16.5 19.5 -16.2 18 -16.5 16.5 -17.5 14.7 -16.7 13.8 -16.7 12.4 -16.5 11.5 -15 10.8 -13.3 9.6 -12.5 7.8 -11 6.8 -9 5.2 -7.5 4.4 -5 5.1 -3 5.1 -1.5 5 0.5 5.8 1.8 6.2 3.5 6.4 5 5.8 6 4.3 7.5 4.5 8.5 4.6 9.3 3.9 9.8 2.5 9.5 1 9.3 0 8.8 -0.8 9.5 -2.5 11 -3.8 11.8 -4.7 12.2 -6 13 -8.5 13.8 -10.8 13.5 -12.5 12.5 -13.9 11.8 -15.8 11.8 -17.2 12.5 -18.5 13.5 -20.5 14.5 -22.6 14.9 -25 15.3 -27 16.5 -28.6 17.3 -30.5 18.2 -32.5 18.3 -34 18.9 -34.4 20 -34.8 22 -34.1 24 -34.1 25.6 -33.9 27 -33.5 28.5 -32.3 30 -31.3 31 -29.6 32.4 -28.5 32.9 -26.5 32.8 -25.8 35.3 -24.5 35.5 -22.1 34.8 -20 36.3 -18.8 38.5 -17.2 40.2 -16 40.6 -14.5 40.5 -11 39.7 -10 39.3 -8 38.9 -6.5 39.2 -5 40.2 -3 41 -2 41.6 -1.6 42.5 -0.5 44 1 46 2.5 48 4.5 49.2 6.5 50.5 9 51.2 10.5 51.3 11.8 50 11.4 48 11.1 45.5 10.5 43.5 11.4 43.2 11.5 42.6 12.6 41.5 13.9 40 15.3 39.2 16.5 38.5 17.8 37.4 18.8 37.2 21 36.8 22 35.6 23.9 34.6 25.8 33.6 27.5 32.6 29.7 32.5 29.9 33.5 28.5 34.3 27.8 34.7 29 34.9 29.5ZM113.5 -22.5 114.2 -21.8 116.7 -20.6 118.8 -20.3 121 -19.5 122.3 -17.5 123.5 -17.3 124.8 -15.8 126 -14.3 127.8 -14.3 129.5 -14.9 130 -13.3 131 -12.2 132.6 -11.6 133.6 -11.8 135 -12.2 136.8 -12.2 136.5 -13.2 135.6 -14.6 137 -15.8 139.3 -17.4 140.8 -17.4 141.5 -15 141.6 -13 142.3 -10.8 142.5 -10.7 143.3 -12 143.6 -14 145.3 -15 145.9 -17 146.3 -19 148.7 -20.5 150 -22.2 151.1 -23.5 153 -25.3 153.6 -28.5 153.1 -30.8 152.4 -32.5 151.3 -33.8 150.1 -36.2 149.9 -37.5 147.9 -37.9 146.3 -39.1 144.9 -37.9 143.5 -38.8 141 -38 139.6 -37.2 139.7 -36 138.1 -35.6 138.5 -34.5 137.8 -32.7 137.5 -34 136.9 -35.3 135.9 -34.8 135.2 -34.5 134.3 -33.2 132 -32 129.5 -31.6 127 -32.3 124 -33 123.5 -33.9 120 -33.9 118 -35 116.5 -35 115 -34.3 115.7 -33.3 115.7 -31.6 115 -29.5 114.2 -28 113.5 -26.5 113.9 -25.5 113.4 -24.4Z" fill="none" class="c"/>
<path d="M28 41.3 28.6 43.4 29.6 45.2 30.8 46.5 32 46.3 33 45.7 32.5 45.3 33.5 44.5 35 44.8 35.5 45.3 34.8 46.2 35.5 46.5 37.5 47.1 39.2 47.2 38.2 46.4 37.8 45.6 36.7 45.2 37.5 44.7 39 44.3 41.5 41.5 39.5 41 36.5 41.3 35 42 33 42 31 41.1 29.2 41.2Z" fill="#fff" class="c"/>
<path d="M47 45.5 49.5 46.6 51.5 47 53 46.5 53 45.3 51.3 44.5 50.5 44 51.5 43 52.7 42 52.9 41 53.8 40.5 53 39.5 53.9 37.3 51.5 36.8 50 37.4 49 38.3 49.5 40.3 48 41.8 47.5 43 47.3 44.3 46.8 44.8Z" fill="#fff" class="c"/>
<path d="M-73.3 78.2 -72 78.8 -66 80.2 -61 81.9 -51 82.3 -40 83.4 -30 83.6 -22 82.5 -12 81.6 -11.5 81.3 -18 80 -17.5 77.5 -19 75 -21.5 72.5 -22 70.5 -23 70.2 -26 68.5 -32 68.2 -34.5 66.5 -39 65.5 -40.5 64.5 -41.5 62.5 -43 60.5 -44 59.8 -46.5 60.6 -48.5 61.5 -50.5 63.5 -52 65 -53.5 66.5 -53.5 68.5 -51 69.3 -54 70.5 -52.5 71.5 -55.5 72.5 -57.5 74.5 -59 75.8 -65 76.1 -70 76.9Z" fill="#9dcbe1" class="c"/>
<path d="M-22 63.8 -22.7 64 -24 64.9 -22.4 65.4 -24.4 65.6 -22.8 66.4 -21.5 65.6 -20.4 66.1 -18.8 66.2 -16.2 66.5 -14.6 66.3 -15 65.7 -13.6 65.1 -14.8 64.3 -16.5 63.8 -18.7 63.4 -20.5 63.7Z" fill="#529dc8" class="c"/>
<path d="M-64.5 62.3 -66 61.9 -68 62.2 -70.5 62.7 -72 63.5 -74 64.3 -76.5 64.2 -78 64.5 -77.5 65.3 -74 65.5 -73.5 66.5 -73.5 67.3 -75.5 68.3 -77 68.5 -77.5 69.5 -79 69.8 -82 69.6 -85 69.9 -87.5 70.3 -89 71 -90 72.5 -88.5 73.5 -85 73.6 -80 73.6 -77 72.6 -74 71.5 -71 70.8 -68 70.3 -66.5 69 -64.5 67.8 -62 66.8 -61.5 66.5 -63.5 65.5 -64.5 64.6 -65.5 63.8 -64.5 63.2 -65 62.7Z" fill="#408fc1" class="c hh"/>
<path d="M-119 71.3 -117.5 72.5 -114.5 73.3 -111 72.9 -108 73.2 -105 72.8 -104.5 71.5 -102 70.8 -101 69.8 -103 69.2 -106 69.2 -108.5 68.8 -111.5 68.6 -114 69 -117 69.2 -118.8 69.8 -116 70.3 -117.5 70.8Z" fill="#408fc1" class="c hh"/>
<path d="M-125.5 71.9 -124.5 73.5 -120.5 74.4 -115.5 73.5 -117.5 72.3 -120 71.5 -123 71.1Z" fill="#408fc1" class="c hh"/>
<path d="M-117 75.8 -114.5 76.5 -110 76.8 -106 76 -106.5 75.2 -110 74.8 -113.5 74.5 -117 74.9Z" fill="#000000" class="c hh"/>
<path d="M-122.5 76.3 -119 77.4 -116 76.8 -119 75.9Z" fill="#000000" class="c hh"/>
<path d="M-101 76.3 -98 76.3 -97.5 75 -100.5 74.8Z" fill="#000000" class="c hh"/>
<path d="M-96.5 75.5 -93 75.6 -93.5 74.7 -96.5 74.9Z" fill="#000000" class="c hh"/>
<path d="M-96 75.8 -93 76.8 -88 76.5 -83 76.7 -79.5 75.5 -82 74.6 -88 74.5 -92 74.9Z" fill="#408fc1" class="c hh"/>
<path d="M-89.5 77.2 -88 78.8 -86 79.5 -85 80.5 -80 81.5 -73 82.5 -63 82.9 -61 82.4 -65 81.5 -69 80.5 -71 79.8 -74 79 -76 78.3 -78 77.6 -80 76.3 -84 76.3Z" fill="#408fc1" class="c hh"/>
<path d="M-96.5 80 -92 81.3 -89 80.8 -87.5 79.8 -89 78.6 -92 78.2 -95 78.8Z" fill="#000000" class="c hh"/>
<path d="M-104 78.5 -100 78.9 -99 78 -101.5 77.7Z" fill="#000000" class="c hh"/>
<path d="M-98 78.5 -96 78.7 -95.5 77.9 -97.5 77.8Z" fill="#000000" class="c hh"/>
<path d="M-101.5 73.5 -98 74 -96.5 72.8 -98 71.4 -100.5 72.2Z" fill="#408fc1" class="c hh"/>
<path d="M-95 74 -91 73.8 -91.5 72.5 -94.5 72.2Z" fill="#000000" class="c hh"/>
<path d="M-99.5 69 -97 69.8 -95.5 69 -97 68.3Z" fill="#408fc1" class="c hh"/>
<path d="M-81 73.9 -77 73.5 -79 72.9Z" fill="#000000" class="c hh"/>
<path d="M-86 65.8 -81.3 64.3 -84 62.5 -87 63.8 -88.5 64.4Z" fill="#408fc1" class="c hh"/>
<path d="M-83 63 -80.5 62.5 -81.5 62.1Z" fill="#408fc1" class="c hh"/>
<path d="M-106 77.8 -104 77.3 -105.5 77Z" fill="#000000" class="c hh"/>
<path d="M-114 77.5 -112 78.1 -110 77.8Z" fill="#000000" class="c hh"/>
<path d="M-104.5 76.4 -102 76.5 -103 75.9Z" fill="#000000" class="c hh"/>
<path d="M-59.4 47.6 -55.5 46.8 -52.8 46.6 -52.6 47.6 -53.5 48.5 -53.2 49.5 -55.5 49.9 -55.9 51.5 -57.4 50.6 -58.6 49.1Z" fill="#408fc1" class="c hh"/>
<path d="M-123.3 48.4 -125 48.9 -127.9 50.1 -128.4 50.8 -127 50.6 -125.3 50.1 -124 49.2Z" fill="#408fc1" class="c hh"/>
<path d="M-132 54 -133 54.2 -131.8 52.5 -131.2 52.2Z" fill="#408fc1" class="c hh"/>
<path d="M-64.3 49.9 -61.7 49.1 -62.3 49.4Z" fill="#408fc1" class="c hh"/>
<path d="M-64 46.9 -62 46.4 -63.5 46.2Z" fill="#408fc1" class="c hh"/>
<path d="M-153.5 57.3 -152.2 58 -152.4 57.5 -154.5 56.8Z" fill="#1b5a9c" class="c"/>
<path d="M-170.5 63.7 -168.7 63.3 -171.8 63.4Z" fill="#1b5a9c" class="c"/>
<path d="M-165.5 54.1 -166.5 53.4 -167.5 53.7 -166.5 54Z" fill="#1b5a9c" class="c"/>
<path d="M-84.9 21.9 -84.3 22.9 -82.5 23.1 -80.5 22.9 -78.5 22.4 -77.1 21.4 -75.6 21 -74.2 20.3 -75 19.9 -77.6 19.9 -77.2 20.6 -78.6 21.6 -81.2 22.1 -82.3 22.7 -83.5 22.2Z" fill="#eff3f5" class="c"/>
<path d="M-5.7 50.1 -3 50.7 0.3 50.8 1.4 51.2 0.9 51.8 1.7 52.7 0.3 53.4 -0.2 54.2 -1.2 54.6 -1.6 55.6 -2.6 56.2 -1.8 57.5 -3.2 58.6 -5 58.6 -5.7 57.6 -5.6 56.4 -5.5 55.4 -4.9 55.7 -5 54.8 -3.2 54.9 -3.3 54.2 -3 53.4 -4.6 53.3 -4.2 52.3 -5.3 51.8 -3.2 51.4 -4.5 51.2Z" fill="#59a1ca" class="c h"/>
<path d="M-6 52.2 -6 53.4 -6.2 54.1 -7.3 54.2 -7.3 55.3 -8.5 54.6 -10 54.2 -9.9 53.4 -9.5 52.6 -10.4 51.9 -9.6 51.5 -8 51.8 -6.4 52.2Z" fill="#81bad8" class="c"/>
<path d="M-6.2 54.1 -5.5 54.6 -6 55.2 -7.3 55.3 -7.3 54.2Z" fill="#59a1ca" class="c h"/>
<path d="M12.4 37.8 13.5 38.2 15.6 38.3 15.1 37.3 15.2 36.7 14.3 37 12.7 37.6Z" fill="#a5cee3" class="c"/>
<path d="M8.4 39 8.2 40.8 9.6 41.2 9.7 39.2Z" fill="#a5cee3" class="c"/>
<path d="M8.6 41.4 8.7 42.8 9.5 43 9.5 42Z" fill="#529dc8" class="c"/>
<path d="M23.5 35.3 26.3 35.3 26.1 35 23.6 35.2Z" fill="#f6f7f7" class="c"/>
<path d="M32.3 34.7 33 35.3 34.6 35.7 33.9 34.9 33 34.6Z" fill="#f6f7f7" class="c"/>
<path d="M10.5 55.5 10.8 55.1 10 55.1 9.8 55.5Z" fill="#e4eef4" class="c"/>
<path d="M11.2 55.8 12.6 56 12.4 55 11.2 55.2Z" fill="#e4eef4" class="c"/>
<path d="M18.2 57.9 18.8 57.8 18.3 57.1Z" fill="#7bb6d6" class="c"/>
<path d="M52 71.5 53.5 73.5 56 75.5 62 76.3 68.5 76.9 64.5 75.5 58.5 74 56 72.5 57.5 70.8 53.5 70.7Z" fill="#1c5c9f" class="c h"/>
<path d="M91 79.3 95 81.2 100 80.6 104.5 79.2 101 78.2 96 78.6Z" fill="#1c5c9f" class="c h"/>
<path d="M137 74.5 142 75.7 148 75.3 141 73.3Z" fill="#1c5c9f" class="c h"/>
<path d="M47 80.2 55 81.2 63 80.4 55 79.9Z" fill="#1c5c9f" class="c h"/>
<path d="M178.7 71.2 180 71.5 180 70.9Z" fill="#1c5c9f" class="c h"/>
<path d="M-180 71.5 -177.5 71.3 -180 70.9Z" fill="#1c5c9f" class="c h"/>
<path d="M142 46 143.5 46.5 143 49 144.6 49 143.2 51.8 143.3 53.3 142.7 54.3 142.2 53.5 141.8 52.3 142.1 49.5 141.9 47.5Z" fill="#1c5c9f" class="c h"/>
<path d="M-180 68.9 -177 68.2 -174 67.1 -171.5 66.9 -169.7 66.1 -171 65.5 -172.5 64.4 -175 65.3 -177 65.5 -178.7 65.5 -180 65.1Z" fill="#1c5c9f" class="c h"/>
<path d="M130.9 34 132.5 35.4 135.2 35.7 136.8 37.2 138.5 37.4 139.5 38.3 140 39.8 140.3 41.2 141.5 41.2 141.5 40 142 39.5 141 38.3 140.9 36.9 140.6 35.7 139.9 35 139.1 35.1 138.2 34.6 136.9 34.5 135.8 33.5 135.2 34.3 133 34.4 131.9 34Z" fill="#2b73b3" class="c h"/>
<path d="M140 41.5 141.2 41.8 142.5 42.1 143.3 42 145.5 43.3 144.8 43.9 143 44.5 141.9 45.5 141.6 44.2 141.3 43.2 140.3 43.3 140 42.5Z" fill="#2b73b3" class="c h"/>
<path d="M129.8 33.3 130.9 33.9 131.7 33.3 131.4 31.4 130.7 31 130.2 31.4 130.2 32.6Z" fill="#2b73b3" class="c h"/>
<path d="M132.5 33.3 134.2 34.2 134.7 33.8 133.2 32.8 132.6 32.8Z" fill="#2b73b3" class="c h"/>
<path d="M120.1 23 120.8 21.9 121.6 23.5 121.9 25 121.1 25.1 120.2 23.9Z" fill="#ffffff" class="c"/>
<path d="M108.6 19.1 109.5 18.2 110.5 18.6 111 19.7 110.6 20.1 109.3 20Z" fill="#ffffff" class="c"/>
<path d="M79.8 8 80.2 9.8 81.3 8.5 81.8 7.2 81.2 6.2 80.1 6Z" fill="#7bb6d6" class="c"/>
<path d="M120.6 18.5 122.2 18.5 122.3 17 121.6 15.9 121.7 14.2 123.9 13.8 124.1 12.6 122.5 13.5 120.6 14.3 120 16 120.4 17.6Z" fill="#3480b9" class="c h"/>
<path d="M122 7 123.5 7.8 124.3 8.5 125.5 9.8 126.5 8 126.2 6.3 125.3 5.6 124.2 6.2 123.5 7.3Z" fill="#3480b9" class="c h"/>
<path d="M124.3 12.5 125.7 11 125 10 124.3 11Z" fill="#3480b9" class="c h"/>
<path d="M122.5 11.8 123 10.8 122 10.5 121.9 11.8Z" fill="#3480b9" class="c h"/>
<path d="M123 10.5 123.5 9.3 122.5 9.3Z" fill="#3480b9" class="c h"/>
<path d="M123.3 11.2 124 10.2 123.8 9.5 123.3 10.3Z" fill="#3480b9" class="c h"/>
<path d="M117.2 8.4 119.5 10.5 119.7 11.4 118.5 10Z" fill="#3480b9" class="c h"/>
<path d="M120.3 13.5 121.5 13.2 121 12.3Z" fill="#3480b9" class="c h"/>
<path d="M95.3 5.6 97.5 5.2 100.3 2.2 103.5 0.5 104.5 -1.5 106 -3 105.8 -5.8 104.5 -5.9 102.3 -4 101 -2.3 99.5 0 98.6 1.8 97 3.5Z" fill="#1b5593" class="c h"/>
<path d="M105.2 -6.8 106 -5.9 108.3 -6.3 110.5 -6.9 112.6 -6.9 114.6 -7.8 114.4 -8.7 111 -8.2 108 -7.8 106.4 -7.4Z" fill="#1b5593" class="c h"/>
<path d="M109 1.5 109.6 2 110.5 1.2 111.8 1.2 112.5 1.5 113.5 1.3 114.6 1.5 115.5 3 116.3 4.3 117.6 4.2 117.8 2.5 119 1 117.5 0 116.6 -1.5 116.5 -3.5 114.5 -4 113 -3.2 111.8 -3.5 110.2 -2.9 110 -1.5 109.2 0Z" fill="#1b5593" class="c h"/>
<path d="M109.6 2 111 1.6 113 3.1 114.5 4.6 116 6 117.2 7 118.5 5.7 119.2 5.3 118 4.5 117.6 4.2 116.3 4.3 115.5 3 114.6 1.5 113.5 1.3 112.5 1.5 111.8 1.2 110.5 1.2Z" fill="#3c8abe" class="c"/>
<path d="M119.5 -5.5 119.3 -3.5 118.8 -2.8 119.5 -0.8 120.1 0.5 121.5 1.1 123.5 0.9 124.9 1.6 124.5 0.4 122.5 0.5 121 0.3 120.2 -0.7 121.3 -1 122.7 -0.8 121.3 -1.8 122.3 -3.2 123.2 -4.6 122 -4.7 121.5 -3.7 120.7 -2.7 120.5 -5.5Z" fill="#1b5593" class="c h"/>
<path d="M131 -1.3 132.3 -0.4 134 -0.9 135 -3.4 137.7 -1.5 141 -2.6 141 -9.1 139 -8.1 138 -8.4 137.7 -7.3 138.5 -6.6 137.8 -5.3 134.5 -4 133 -4 132 -2.8 133.3 -2.3 132.5 -2.2Z" fill="#1b5593" class="c h"/>
<path d="M141 -2.6 142.5 -3.2 144.5 -3.8 145.8 -5 147.5 -6.2 147.2 -7.4 148.3 -8.5 150 -10.3 149 -10.3 147 -10 145.5 -8 143.5 -8.3 143 -9.3 141 -9.1Z" fill="#a5cee3" class="c h"/>
<path d="M148.5 -5.5 150 -5.5 151.5 -4.9 152.2 -4.2 152 -5.5 150.5 -6.3 148.5 -6Z" fill="#a5cee3" class="c h"/>
<path d="M150.8 -2.8 152.5 -3.8 153 -4.7 152.2 -3.8Z" fill="#a5cee3" class="c h"/>
<path d="M127.5 1.8 128 1 128.7 0.5 128 0 128.5 -0.8 127.6 -0.4 127.4 0.8Z" fill="#1b5593" class="c h"/>
<path d="M128 -3.2 130.5 -3.5 130.8 -3.9 128.5 -3.6Z" fill="#1b5593" class="c h"/>
<path d="M126 -3.1 127.2 -3.3 126.8 -3.8 126 -3.6Z" fill="#1b5593" class="c h"/>
<path d="M124 -10 125.2 -9 127.2 -8.5 125 -9.6 123.6 -10.3Z" fill="#1b5593" class="c h"/>
<path d="M125.2 -9 127.2 -8.4 126.5 -8.9 125.1 -9.4Z" fill="#f6f7f7" class="c"/>
<path d="M119.9 -8.8 121.7 -8.4 122.9 -8.1 122.3 -8.8 120.5 -8.8Z" fill="#1b5593" class="c h"/>
<path d="M116.9 -8.4 118.7 -8.2 119.1 -8.7 117 -9Z" fill="#1b5593" class="c h"/>
<path d="M115.5 -8.3 116.7 -8.3 116.2 -9Z" fill="#1b5593" class="c h"/>
<path d="M114.5 -8.1 115.6 -8.4 115.2 -8.8Z" fill="#1b5593" class="c h"/>
<path d="M119 -9.3 120.8 -10.1 120.3 -10.3 118.9 -9.6Z" fill="#1b5593" class="c h"/>
<path d="M105.5 -1.7 106.8 -2.5 106.5 -3.1 105.8 -2.2Z" fill="#1b5593" class="c h"/>
<path d="M107.6 -2.5 108.3 -2.6 108.2 -3.2 107.6 -3.1Z" fill="#1b5593" class="c h"/>
<path d="M134.2 -5.8 134.8 -5.8 134.6 -6.8Z" fill="#1b5593" class="c h"/>
<path d="M144.6 -40.7 148.3 -40.9 148.3 -42.2 147.8 -43.2 146.9 -43.6 145.4 -42.3 144.7 -41.2Z" fill="#ffffff" class="c"/>
<path d="M172.7 -34.4 174.3 -35.3 175.8 -37 178 -37.6 178.5 -38.7 177 -39.5 176 -41.3 175.2 -41.6 174.6 -41.2 175 -39.9 173.8 -39.3 174.6 -38 174.5 -36.6 173 -35.2Z" fill="#68abd0" class="c"/>
<path d="M172.7 -40.5 174.2 -41.5 173.4 -42.8 172.7 -43.8 171.2 -44.4 170.6 -45.9 169.3 -46.6 166.5 -46 166.7 -45.1 168.3 -44 170.5 -43 171.5 -41.7 172.1 -40.8Z" fill="#68abd0" class="c"/>
<path d="M49.3 -12 50.2 -14.5 50.5 -15.5 49.7 -17 49 -19.5 47.9 -22.5 47.1 -24.9 45.2 -25.6 44 -25 43.3 -22.2 44.4 -20 44 -17.5 44.4 -16.2 46.2 -15.7 47.8 -14 48.8 -12.5Z" fill="#bddbea" class="c"/>
<path d="M-68.6 -52.6 -67.5 -53.3 -65.3 -54.7 -66.5 -55 -68.6 -54.9Z" fill="#59a1ca" class="c"/>
<path d="M-68.6 -52.6 -68.6 -54.9 -70 -55.2 -71.5 -54.5 -70.5 -53.6 -69.5 -52.7Z" fill="#2e77b5" class="c"/>
<path d="M-74.3 -41.6 -72.2 -41.9 -72.2 -44 -71.9 -46.9 -72.4 -49.5 -71.9 -51 -69.6 -52.1 -67.5 -53.5 -65.5 -54.4 -64.2 -54.6 -66 -55.3 -67.9 -56 -70.5 -55.7 -72.9 -54.9 -75 -52.7 -75.8 -50.2 -75.9 -47 -75 -44.5Z" fill="#000" class="c"/>
<path d="M121.8 12.9 124.2 12.7 125.9 11.1 125.3 9.9 124 9.2 122.5 9.2 121.8 10.5Z" fill="#000" class="c"/>
<path d="M-71 77.9 -66 76.7 -61 75.9 -58.2 75" fill="none" stroke="#000" stroke-width="7.0" stroke-linejoin="round" stroke-linecap="round" vector-effect="non-scaling-stroke"/>
<path d="M-58.2 75 -55.8 73.2 -53.3 71.2 -51.6 69.5 -51.8 68 -51.8 66.5 -50.8 65 -49.3 63.5 -47.8 62 -46 60.9 -44.3 60.3" fill="none" stroke="#000" stroke-width="11.0" stroke-linejoin="round" stroke-linecap="round" vector-effect="non-scaling-stroke"/>
<path d="M-43.2 60.6 -41.8 62.6 -40 64.6 -36.5 66 -33 67.6" fill="none" stroke="#000" stroke-width="8.0" stroke-linejoin="round" stroke-linecap="round" vector-effect="non-scaling-stroke"/>
<path d="M-33 67.6 -29 69 -25.5 70.2 -24 71.5 -23.2 73.2 -21.5 75 -20.8 77 -20 79.5" fill="none" stroke="#000" stroke-width="10.0" stroke-linejoin="round" stroke-linecap="round" vector-effect="non-scaling-stroke"/>
<path d="M-20 79.5 -17 81.2 -12.5 81.5" fill="none" stroke="#000" stroke-width="6.0" stroke-linejoin="round" stroke-linecap="round" vector-effect="non-scaling-stroke"/>
<path d="M-17 81.6 -25 82.6 -35 83.1 -45 82.8 -55 82 -62 81.3 -67 79.8 -71 78.3" fill="none" stroke="#000" stroke-width="5.0" stroke-linejoin="round" stroke-linecap="round" vector-effect="non-scaling-stroke"/>
<path d="M5.3 58.6 5.2 59.5 5 60.5 5 62 6.5 62.8 8.5 63.5 10.5 64.5 12.2 65.8" fill="none" stroke="#000" stroke-width="5.0" stroke-linejoin="round" stroke-linecap="round" vector-effect="non-scaling-stroke"/>
<path d="M12.2 65.8 13.8 67.3 15.8 68.6 18.3 69.5 21 70 24 70.7 26 70.8 28.5 70.6 30.5 70.1" fill="none" stroke="#000" stroke-width="8.0" stroke-linejoin="round" stroke-linecap="round" vector-effect="non-scaling-stroke"/>
<path d="M31 70.3 33 69.4 36 69.1 40 67.8 41.2 66.7" fill="none" stroke="#000" stroke-width="4.0" stroke-linejoin="round" stroke-linecap="round" vector-effect="non-scaling-stroke"/>
<path d="M-123.5 48.6 -125 49.6 -126.5 50.5 -127.8 51.5 -128.6 52.6 -130 54 -130.8 55 -132 56.2 -133.5 57.2 -134.8 58.2 -136.3 58.8 -138.5 59.3 -140.5 59.8" fill="none" stroke="#000" stroke-width="6.0" stroke-linejoin="round" stroke-linecap="round" vector-effect="non-scaling-stroke"/>
<path d="M-140.5 59.8 -144 60.1 -146.5 60.6 -148.5 60.3 -150.5 59.5 -152 59.3 -153.5 58.5 -155 57.8 -157 57 -159 56 -161.5 55.2 -164.7 54.5" fill="none" stroke="#000" stroke-width="4.0" stroke-linejoin="round" stroke-linecap="round" vector-effect="non-scaling-stroke"/>
<path d="M-158 58.7 -161.5 58.7 -164 60 -165.5 61.2 -165 62.8 -163 63.6 -161 64.4 -163.5 64.6 -166.4 64.7 -168 65.6 -166 66.3 -163.8 67.2 -166.8 68.3 -163.5 69.4 -160 70.7 -156.5 71.3" fill="none" stroke="#000" stroke-width="3.5" stroke-linejoin="round" stroke-linecap="round" vector-effect="non-scaling-stroke"/>
<path d="M-5.2 55.4 -5.4 56.4 -5.4 57.5 -4.8 58.4 -3.4 58.5" fill="none" stroke="#000" stroke-width="7.0" stroke-linejoin="round" stroke-linecap="round" vector-effect="non-scaling-stroke"/>
<path d="M-10 54.2 -9.9 53.4 -9.5 52.6 -10.4 51.9" fill="none" stroke="#000" stroke-width="3.5" stroke-linejoin="round" stroke-linecap="round" vector-effect="non-scaling-stroke"/>
<path d="M68.5 68.3 69.5 72.5 72 72.8 72.7 71.5 73 69.5 73.8 67 75 68.2 75 71 77 72.3 78.5 72.4 80.5 73.5 86.5 73.8 86 74.8 90 75.5 95 76 100 76.5 104 77.7 107 76.5 111 76.7 113.5 75.7 112 74 118 73.5" fill="none" stroke="#000" stroke-width="3.5" stroke-linejoin="round" stroke-linecap="round" vector-effect="non-scaling-stroke"/>
<path d="M163.7 61.8 160 59.5 156.7 57.7 155.5 56 155.8 53.5 156.7 51 158.5 52.9 160 53.2 161.8 55 162.5 56.5 163 58 163.5 59.8 166 60 170.3 60" fill="none" stroke="#000" stroke-width="3.5" stroke-linejoin="round" stroke-linecap="round" vector-effect="non-scaling-stroke"/>
<path d="M13.6 45.5 14.3 45.3 15 44.5 15.9 43.6 17 43.2 18.5 42.4" fill="none" stroke="#000" stroke-width="3.5" stroke-linejoin="round" stroke-linecap="round" vector-effect="non-scaling-stroke"/>
<path d="M22.9 40.3 23.9 39.9 22.9 39.3 23.3 38.2 22.7 37.5 23.1 36.5" fill="none" stroke="#000" stroke-width="3.0" stroke-linejoin="round" stroke-linecap="round" vector-effect="non-scaling-stroke"/>
<path d="M-64.5 60.3 -63 58.5 -61.5 56.5 -60 55.2 -58 54.3 -56 53.3 -55.7 52.2" fill="none" stroke="#000" stroke-width="4.0" stroke-linejoin="round" stroke-linecap="round" vector-effect="non-scaling-stroke"/>
<path d="M-59.4 47.6 -55.5 46.8 -52.8 46.6 -52.6 47.6 -53.5 48.5 -53.2 49.5 -55.5 49.9 -55.9 51.5" fill="none" stroke="#000" stroke-width="3.5" stroke-linejoin="round" stroke-linecap="round" vector-effect="non-scaling-stroke"/>
<path d="M-66 49.2 -64.2 48.9 -64.8 47.8 -65 47.1 -64.6 46.3 -63 45.7 -61.5 45.7 -60.3 46.9" fill="none" stroke="#000" stroke-width="3.5" stroke-linejoin="round" stroke-linecap="round" vector-effect="non-scaling-stroke"/>
<path d="M180 65 178.6 64.5 177 62.6 173.5 61.7" fill="none" stroke="#000" stroke-width="3.5" stroke-linejoin="round" stroke-linecap="round" vector-effect="non-scaling-stroke"/>
</g>
<circle cx="200.0" cy="270.2" r="3.2" class="d"/>
<circle cx="197.1" cy="266.3" r="2.2" class="d"/>
<circle cx="195.1" cy="265.4" r="1.3" class="d"/>
<circle cx="192.2" cy="264.2" r="1.8" class="d"/>
<circle cx="187.1" cy="262.3" r="1.7" class="d"/>
<circle cx="184.8" cy="262.8" r="1.1" class="d"/>
<circle cx="179.3" cy="259.2" r="0.9" class="d"/>
<circle cx="170.2" cy="257.3" r="0.9" class="d"/>
<circle cx="165.1" cy="256.6" r="0.9" class="d"/>
<circle cx="159.6" cy="253.1" r="0.8" class="d"/>
<circle cx="147.6" cy="250.2" r="0.9" class="d"/>
<circle cx="140.5" cy="249.2" r="0.9" class="d"/>
<circle cx="129.1" cy="242.4" r="0.9" class="d"/>
<circle cx="122.3" cy="166.9" r="1.3" class="d"/>
<circle cx="127.2" cy="166.0" r="1.3" class="d"/>
<circle cx="132.0" cy="165.6" r="1.4" class="d"/>
<circle cx="136.9" cy="165.0" r="1.3" class="d"/>
<circle cx="141.8" cy="164.7" r="1.3" class="d"/>
<circle cx="146.6" cy="164.2" r="1.3" class="d"/>
<circle cx="151.5" cy="163.4" r="1.2" class="d"/>
<circle cx="157.3" cy="161.8" r="1.4" class="d"/>
<circle cx="162.8" cy="160.1" r="1.5" class="d"/>
<circle cx="166.7" cy="158.5" r="1.4" class="d"/>
<circle cx="1262.4" cy="162.1" r="1.3" class="d"/>
<circle cx="1266.3" cy="162.7" r="1.2" class="d"/>
<circle cx="1277.6" cy="165.6" r="1.2" class="d"/>
<circle cx="1284.1" cy="166.9" r="1.2" class="d"/>
<circle cx="152.1" cy="148.5" r="1.0" class="d"/>
<circle cx="154.4" cy="150.4" r="0.9" class="d"/>
<circle cx="1240.4" cy="155.0" r="1.4" class="d"/>
<circle cx="1246.2" cy="156.6" r="1.1" class="d"/>
<circle cx="1177.3" cy="189.6" r="1.3" class="d"/>
<circle cx="1182.1" cy="187.0" r="1.3" class="d"/>
<circle cx="1187.6" cy="184.8" r="1.1" class="d"/>
<circle cx="1193.5" cy="181.8" r="1.1" class="d"/>
<circle cx="1198.3" cy="179.2" r="1.0" class="d"/>
<circle cx="1203.2" cy="176.7" r="1.0" class="d"/>
<circle cx="1206.4" cy="173.4" r="1.1" class="d"/>
<circle cx="1208.7" cy="170.8" r="1.2" class="d"/>
<circle cx="620.7" cy="211.3" r="1.3" class="d"/>
<circle cx="615.2" cy="208.4" r="1.3" class="d"/>
<circle cx="611.6" cy="209.0" r="1.2" class="d"/>
<circle cx="602.6" cy="205.8" r="0.9" class="d"/>
<circle cx="648.5" cy="227.8" r="1.4" class="d"/>
<circle cx="645.0" cy="244.0" r="1.0" class="d"/>
<circle cx="647.5" cy="242.7" r="1.1" class="d"/>
<circle cx="649.5" cy="242.1" r="1.5" class="d"/>
<circle cx="652.7" cy="243.0" r="1.5" class="d"/>
<circle cx="657.9" cy="241.7" r="1.6" class="d"/>
<circle cx="659.2" cy="239.5" r="1.3" class="d"/>
<circle cx="712.6" cy="205.5" r="2.0" class="d"/>
<circle cx="716.1" cy="204.2" r="1.1" class="d"/>
<circle cx="707.7" cy="207.7" r="1.1" class="d"/>
<circle cx="598.4" cy="346.0" r="0.9" class="d"/>
<circle cx="608.4" cy="400.1" r="0.9" class="d"/>
<circle cx="410.3" cy="335.3" r="2.3" class="d"/>
<circle cx="407.8" cy="335.6" r="1.8" class="d"/>
<circle cx="413.3" cy="336.6" r="1.1" class="d"/>
<circle cx="410.7" cy="332.7" r="0.9" class="d"/>
<circle cx="448.2" cy="442.5" r="1.1" class="d"/>
<circle cx="443.7" cy="443.1" r="0.9" class="d"/>
<circle cx="444.0" cy="418.9" r="0.8" class="d"/>
<circle cx="349.2" cy="421.4" r="0.9" class="d"/>
<circle cx="344.2" cy="272.8" r="1.0" class="d"/>
<circle cx="332.0" cy="274.3" r="0.9" class="d"/>
<circle cx="320.4" cy="239.8" r="1.0" class="d"/>
<circle cx="320.1" cy="225.6" r="1.0" class="d"/>
<circle cx="315.5" cy="223.6" r="1.2" class="d"/>
<circle cx="358.6" cy="264.1" r="0.9" class="d"/>
<circle cx="439.1" cy="293.2" r="0.8" class="d"/>
<circle cx="439.8" cy="271.2" r="0.9" class="d"/>
<circle cx="784.1" cy="212.3" r="1.1" class="d"/>
<circle cx="782.5" cy="208.7" r="1.4" class="d"/>
<circle cx="788.3" cy="206.8" r="1.4" class="d"/>
<circle cx="791.2" cy="216.2" r="1.1" class="d"/>
<circle cx="793.8" cy="216.5" r="1.4" class="d"/>
<circle cx="785.7" cy="213.9" r="1.1" class="d"/>
<circle cx="749.8" cy="217.5" r="1.1" class="d"/>
<circle cx="783.5" cy="211.0" r="1.0" class="d"/>
<circle cx="787.3" cy="209.4" r="1.0" class="d"/>
<circle cx="785.4" cy="215.8" r="1.0" class="d"/>
<circle cx="783.8" cy="215.5" r="1.2" class="d"/>
<circle cx="790.2" cy="211.6" r="1.2" class="d"/>
<circle cx="787.0" cy="214.2" r="1.0" class="d"/>
<circle cx="782.2" cy="211.6" r="1.0" class="d"/>
<circle cx="779.2" cy="209.0" r="1.3" class="d"/>
<circle cx="789.0" cy="206.4" r="1.2" class="d"/>
<circle cx="785.1" cy="202.6" r="1.2" class="d"/>
<circle cx="782.8" cy="201.9" r="1.0" class="d"/>
<circle cx="877.6" cy="293.2" r="1.6" class="d"/>
<circle cx="874.1" cy="293.9" r="0.9" class="d"/>
<circle cx="938.5" cy="297.8" r="0.9" class="d"/>
<circle cx="939.4" cy="300.0" r="0.9" class="d"/>
<circle cx="938.1" cy="298.4" r="0.8" class="d"/>
<circle cx="1003.2" cy="295.8" r="1.6" class="d"/>
<circle cx="1003.2" cy="292.9" r="1.5" class="d"/>
<circle cx="1002.9" cy="290.6" r="1.2" class="d"/>
<circle cx="1006.4" cy="310.7" r="1.2" class="d"/>
<circle cx="1005.8" cy="307.8" r="1.0" class="d"/>
<circle cx="1003.5" cy="303.9" r="1.0" class="d"/>
<circle cx="1163.4" cy="246.0" r="1.0" class="d"/>
<circle cx="1160.4" cy="253.4" r="0.9" class="d"/>
<circle cx="1155.6" cy="226.5" r="1.0" class="d"/>
<circle cx="1154.3" cy="223.3" r="1.0" class="d"/>
<circle cx="1154.6" cy="221.3" r="0.9" class="d"/>
<circle cx="1119.0" cy="242.1" r="1.4" class="d"/>
<circle cx="1117.1" cy="247.9" r="1.7" class="d"/>
<circle cx="1105.1" cy="254.7" r="1.4" class="d"/>
<circle cx="1108.7" cy="253.4" r="1.1" class="d"/>
<circle cx="1122.3" cy="240.4" r="1.1" class="d"/>
<circle cx="1125.5" cy="235.3" r="1.2" class="d"/>
<circle cx="1112.6" cy="225.6" r="1.7" class="d"/>
<circle cx="1126.8" cy="234.0" r="1.1" class="d"/>
<circle cx="1122.9" cy="226.2" r="1.0" class="d"/>
<circle cx="1121.6" cy="222.3" r="1.1" class="d"/>
<circle cx="1119.7" cy="227.8" r="1.0" class="d"/>
<circle cx="1150.7" cy="210.7" r="1.2" class="d"/>
<circle cx="1089.9" cy="350.5" r="0.8" class="d"/>
<circle cx="1083.4" cy="356.4" r="0.8" class="d"/>
<circle cx="1060.8" cy="352.5" r="0.8" class="d"/>
<circle cx="1079.2" cy="342.1" r="0.8" class="d"/>
<circle cx="1086.7" cy="335.3" r="0.8" class="d"/>
<circle cx="1099.6" cy="351.5" r="0.9" class="d"/>
<circle cx="1101.2" cy="347.9" r="0.8" class="d"/>
<circle cx="1110.0" cy="359.9" r="0.9" class="d"/>
<circle cx="1114.2" cy="358.3" r="0.8" class="d"/>
<circle cx="1128.7" cy="358.3" r="1.2" class="d"/>
<circle cx="1124.5" cy="359.9" r="0.8" class="d"/>
<circle cx="1138.4" cy="353.8" r="1.2" class="d"/>
<circle cx="1141.4" cy="344.1" r="0.9" class="d"/>
<circle cx="1143.9" cy="337.3" r="1.0" class="d"/>
<circle cx="1126.5" cy="336.6" r="1.1" class="d"/>
<circle cx="1123.2" cy="333.1" r="0.9" class="d"/>
<circle cx="1111.9" cy="319.8" r="0.8" class="d"/>
<circle cx="1109.3" cy="322.4" r="0.8" class="d"/>
<circle cx="1106.1" cy="339.9" r="1.0" class="d"/>
<circle cx="1110.3" cy="339.5" r="0.9" class="d"/>
<circle cx="1118.4" cy="359.0" r="0.8" class="d"/>
<circle cx="1103.8" cy="361.2" r="0.9" class="d"/>
<circle cx="1106.1" cy="360.6" r="0.9" class="d"/>
<circle cx="1096.7" cy="367.7" r="0.9" class="d"/>
<circle cx="1046.5" cy="340.5" r="0.8" class="d"/>
<circle cx="1052.4" cy="320.7" r="0.8" class="d"/>
<circle cx="1053.3" cy="321.4" r="0.9" class="d"/>
<circle cx="1021.0" cy="335.3" r="1.0" class="d"/>
<circle cx="1019.4" cy="329.8" r="1.1" class="d"/>
<circle cx="1024.5" cy="338.6" r="1.1" class="d"/>
<circle cx="1028.1" cy="343.7" r="0.9" class="d"/>
<circle cx="1041.4" cy="331.1" r="0.9" class="d"/>
<circle cx="1039.1" cy="334.0" r="0.8" class="d"/>
<circle cx="1093.1" cy="295.2" r="0.9" class="d"/>
<circle cx="1097.7" cy="293.5" r="1.0" class="d"/>
<circle cx="1103.5" cy="293.5" r="1.1" class="d"/>
<circle cx="1106.1" cy="299.7" r="0.9" class="d"/>
<circle cx="1109.6" cy="294.5" r="0.8" class="d"/>
<circle cx="1091.2" cy="316.9" r="0.9" class="d"/>
<circle cx="1094.8" cy="314.3" r="0.9" class="d"/>
<circle cx="1098.0" cy="272.5" r="0.8" class="d"/>
<circle cx="1097.3" cy="267.6" r="0.8" class="d"/>
<circle cx="1039.4" cy="300.3" r="0.9" class="d"/>
<circle cx="1218.0" cy="435.7" r="0.9" class="d"/>
<circle cx="132.0" cy="476.2" r="1.2" class="d"/>
<circle cx="127.5" cy="428.6" r="0.8" class="d"/>
<circle cx="1240.7" cy="497.9" r="1.2" class="d"/>
<circle cx="1250.4" cy="503.7" r="1.0" class="d"/>
<circle cx="1281.8" cy="494.6" r="0.8" class="d"/>
<circle cx="1282.8" cy="488.2" r="0.7" class="d"/>
<circle cx="1242.3" cy="489.1" r="0.8" class="d"/>
<circle cx="1217.4" cy="510.5" r="0.9" class="d"/>
<circle cx="1218.7" cy="348.3" r="0.8" class="d"/>
<circle cx="1203.5" cy="351.2" r="1.5" class="d"/>
<circle cx="1206.4" cy="354.1" r="2.0" class="d"/>
<circle cx="1178.6" cy="340.5" r="1.4" class="d"/>
<circle cx="1180.2" cy="340.3" r="1.3" class="d"/>
<circle cx="1190.2" cy="368.0" r="1.0" class="d"/>
<circle cx="1192.5" cy="364.8" r="1.0" class="d"/>
<circle cx="1198.0" cy="363.2" r="1.0" class="d"/>
<circle cx="1201.9" cy="370.6" r="0.9" class="d"/>
<circle cx="1189.2" cy="350.9" r="0.9" class="d"/>
<circle cx="1201.2" cy="344.4" r="0.8" class="d"/>
</g>
<text x="14.3" y="23.3" class="lab">a</text>
<text x="86.3" y="27.6" class="t">P-harvest</text>
<text x="1338.5" y="23.2" class="t" text-anchor="end">log(mean<tspan class="sub" dy="8">2007 – 2016</tspan><tspan dy="-8"> – mean</tspan><tspan class="sub" dy="8">1980 –1989</tspan><tspan dy="-8">)</tspan></text>
<rect x="62.5" y="40.2" width="1281.9" height="497.5" fill="none" stroke="#000" stroke-width="2"/>
<line x1="54.5" y1="74.7" x2="62.5" y2="74.7" class="tk"/>
<text x="41.0" y="83.5" class="t" text-anchor="end">80</text>
<line x1="54.5" y1="139.4" x2="62.5" y2="139.4" class="tk"/>
<text x="41.0" y="148.2" class="t" text-anchor="end">60</text>
<line x1="54.5" y1="204.2" x2="62.5" y2="204.2" class="tk"/>
<text x="41.0" y="213.0" class="t" text-anchor="end">40</text>
<line x1="54.5" y1="268.9" x2="62.5" y2="268.9" class="tk"/>
<text x="41.0" y="277.7" class="t" text-anchor="end">20</text>
<line x1="54.5" y1="333.7" x2="62.5" y2="333.7" class="tk"/>
<text x="41.0" y="342.5" class="t" text-anchor="end">0</text>
<line x1="54.5" y1="398.5" x2="62.5" y2="398.5" class="tk"/>
<text x="41.0" y="407.3" class="t" text-anchor="end">−20</text>
<line x1="54.5" y1="463.2" x2="62.5" y2="463.2" class="tk"/>
<text x="41.0" y="472.0" class="t" text-anchor="end">−40</text>
<line x1="54.5" y1="528.0" x2="62.5" y2="528.0" class="tk"/>
<text x="41.0" y="536.8" class="t" text-anchor="end">−60</text>
<line x1="217.8" y1="537.7" x2="217.8" y2="545.7" class="tk"/>
<text x="217.8" y="576.7" class="t" text-anchor="middle">−150</text>
<line x1="379.6" y1="537.7" x2="379.6" y2="545.7" class="tk"/>
<text x="379.6" y="576.7" class="t" text-anchor="middle">−100</text>
<line x1="541.4" y1="537.7" x2="541.4" y2="545.7" class="tk"/>
<text x="541.4" y="576.7" class="t" text-anchor="middle">−50</text>
<line x1="703.2" y1="537.7" x2="703.2" y2="545.7" class="tk"/>
<text x="703.2" y="576.7" class="t" text-anchor="middle">0</text>
<line x1="865.0" y1="537.7" x2="865.0" y2="545.7" class="tk"/>
<text x="865.0" y="576.7" class="t" text-anchor="middle">50</text>
<line x1="1026.8" y1="537.7" x2="1026.8" y2="545.7" class="tk"/>
<text x="1026.8" y="576.7" class="t" text-anchor="middle">100</text>
<line x1="1188.6" y1="537.7" x2="1188.6" y2="545.7" class="tk"/>
<text x="1188.6" y="576.7" class="t" text-anchor="middle">150</text>
<rect x="1377.5" y="63.8" width="26.0" height="473.2" fill="url(#cbg)"/>
<polygon points="1377.5,64.3 1390.5,39.6 1403.5,64.3" fill="#1d3461"/>
<path d="M1377.5 63.8L1390.5 39.6L1403.5 63.8L1403.5 537.0L1377.5 537.0Z" fill="none" stroke="#000" stroke-width="2" stroke-linejoin="miter"/>
<line x1="1403.5" y1="63.8" x2="1412.0" y2="63.8" class="tk"/>
<text x="1427.0" y="72.6" class="t">10<tspan class="sup" dy="-12.5">−1</tspan></text>
<line x1="1403.5" y1="156.5" x2="1412.0" y2="156.5" class="tk"/>
<text x="1427.0" y="165.3" class="t">10<tspan class="sup" dy="-12.5">−2</tspan></text>
<line x1="1403.5" y1="249.5" x2="1412.0" y2="249.5" class="tk"/>
<text x="1427.0" y="258.3" class="t">10<tspan class="sup" dy="-12.5">−3</tspan></text>
<line x1="1403.5" y1="300.6" x2="1412.0" y2="300.6" class="tk"/>
<text x="1427" y="309.4" class="t">0</text>
<line x1="1403.5" y1="350.6" x2="1412.0" y2="350.6" class="tk"/>
<text x="1425.0" y="359.4" class="t">−10<tspan class="sup" dy="-12.5">−3</tspan></text>
<line x1="1403.5" y1="443.9" x2="1412.0" y2="443.9" class="tk"/>
<text x="1425.0" y="452.7" class="t">−10<tspan class="sup" dy="-12.5">−2</tspan></text>
<line x1="1403.5" y1="537.0" x2="1412.0" y2="537.0" class="tk"/>
<text x="1425.0" y="545.8" class="t">−10<tspan class="sup" dy="-12.5">−1</tspan></text>
<g clip-path="url(#ax1)">
<g transform="matrix(3.236 0 0 -3.238 703.2 968.3)">
<g clip-path="url(#landclip)">
<path d="M-168.1 65.6 -166.5 66.2 -164.5 66.6 -163.7 66.1 -161.8 66.3 -163.8 67.2 -165.5 67.9 -166.8 68.3 -165.5 68.9 -163.5 69.4 -161.9 70.3 -158 70.9 -156.5 71.3 -154.5 70.9 -152.3 70.9 -150 70.5 -146 70.2 -143 70.1 -141 69.7 -139 69.5 -137 69 -135 69.5 -133 69.6 -130 70.1 -128 70.5 -125 69.6 -123.5 69.4 -120 69.3 -117 68.8 -115 67.9 -112 67.8 -109 68 -106 68.6 -104 68.3 -101 67.8 -98 68 -96 68.2 -94.5 69.5 -95.5 71.5 -94.5 72 -92 71 -90 69.5 -88 68.5 -85.5 69.8 -82.5 69.5 -81.3 68.6 -82.5 67 -85 66.3 -86.8 65.5 -88 64.5 -90.5 63.9 -90.7 63.3 -93 62 -94.3 60.5 -94.5 59 -92.5 57.3 -90 57 -88 56.1 -85 55.3 -82.5 55.1 -82.3 53 -81 52 -79.7 51.4 -78.9 52.5 -79 54.3 -77 55.5 -76.5 57 -77.2 58.5 -77.8 60.1 -77.5 62.2 -75 62.3 -72.5 61.8 -70 61.1 -69.5 59 -68 58.5 -67.5 58.3 -66 58.8 -64.5 60.3 -63 58.5 -61.5 56.5 -60 55.2 -58 54.3 -56 53.3 -55.7 52.2 -57.3 51.5 -60 50.3 -63.5 50.2 -66.5 50.2 -68.5 49.3 -70.5 47.5 -71.2 46.8 -70 47.2 -68.5 48.5 -66 49.2 -64.2 48.9 -64.8 47.8 -65 47.1 -64.6 46.3 -63 45.7 -61.5 45.7 -60.3 46.9 -60 46.2 -61 45.3 -63.5 44.6 -65.5 43.5 -66.2 44.4 -64.5 45.3 -66.5 45.2 -67 44.8 -68.5 44.3 -70.2 43.6 -70.8 42.5 -70 41.8 -70.6 41.5 -71.5 41.4 -73 41.1 -74 40.6 -74 39.6 -74.9 38.9 -75.1 38.4 -75.9 37.4 -76.3 36.9 -75.5 35.6 -75.7 35.2 -76.7 34.7 -77.9 33.9 -79.2 33.2 -80.5 32.4 -81.3 31.5 -81.4 30.2 -80.6 28.5 -80.1 26.6 -80.4 25.3 -81.1 25.1 -81.8 26.3 -82.7 27.7 -82.8 29 -83.7 29.9 -84.5 30 -85.3 29.7 -86.5 30.4 -88 30.4 -89.5 30.2 -89.2 29.1 -90.5 29.1 -92 29.6 -93.8 29.7 -95 29.2 -96.6 28.1 -97.3 27.1 -97.2 25.9 -97.6 24.5 -97.7 22.5 -97.3 21.2 -96.4 19.5 -95 18.6 -94 18.2 -92.5 18.6 -91.4 18.7 -90.6 19.6 -90.4 20.9 -88.5 21.5 -87 21.5 -87.5 20.3 -87.8 18.5 -88.3 17.6 -88.3 16.3 -88.8 15.8 -87.5 15.8 -85 15.9 -83.4 15.2 -83.2 14.3 -83.6 12.8 -83.7 11.5 -83.3 10.6 -82.5 9.6 -81.5 8.8 -80 9.3 -78.5 9.4 -77.4 8.6 -76.8 8.6 -75.5 10.4 -74.8 11 -73.5 11.3 -72 12.4 -71.3 11.8 -71.9 11 -71.6 10.4 -71 11 -70.2 11.6 -70 12.2 -69.5 11.5 -68 10.6 -66.2 10.6 -64 10.7 -62.8 10.6 -61.9 10.1 -61.2 9 -60.7 8.5 -59.8 8.3 -58.5 7.2 -57.5 6.2 -55.5 5.9 -54 5.7 -52.5 5.1 -51.6 4.2 -51 3.2 -50 1.8 -50.5 0.2 -49 -0.5 -48.5 -1.2 -47 -0.8 -44.5 -2.5 -42 -2.8 -40 -2.8 -38.5 -3.7 -37.2 -4.9 -35.3 -5.2 -34.8 -7.5 -35.2 -9.2 -36.5 -10.6 -37.5 -12 -38.5 -13 -39 -14.5 -39 -17.5 -39.7 -19.5 -40.8 -21.8 -42 -23 -44.5 -23.3 -46.5 -24 -48 -25.5 -48.6 -27.5 -49.5 -29 -51 -31 -52.5 -33 -53.5 -34.2 -54.9 -34.9 -56.5 -34.8 -57.8 -34.4 -58.4 -34 -58.5 -34.5 -57.2 -35.7 -56.7 -36.4 -57.5 -38 -59 -38.7 -62 -38.9 -62.3 -40.5 -65 -41 -64.5 -42.3 -63.8 -42.6 -65 -43 -65.2 -44.5 -67 -45.5 -67.5 -46.5 -65.8 -47.5 -67.7 -49.5 -69 -50.5 -68.4 -52.3 -70 -52.8 -71 -53.8 -72 -54 -74.5 -52.5 -75.3 -50 -74.8 -48 -75.5 -46.5 -74 -44 -73.5 -42 -73.8 -40 -73.5 -37.5 -72.6 -35.5 -71.6 -33 -71.4 -30 -70.9 -27 -70.4 -23.5 -70.1 -20.5 -70.3 -18.4 -71.5 -17.3 -73.3 -16.3 -75.2 -15.2 -76.3 -13.8 -77.2 -12 -78.5 -9.5 -79.6 -7.2 -81.2 -6 -81.3 -4.3 -80.3 -3.4 -80 -2.5 -80.9 -2.2 -80.4 -0.5 -80 0.8 -79 1.6 -78.8 2.6 -77.5 3.8 -77.4 6.5 -77.9 7.2 -78.5 8.2 -79.6 8.9 -80.3 8.3 -80.5 7.3 -81.5 7.7 -82.9 8.1 -83.6 8.6 -85 9.8 -85.7 10.3 -85.8 11.2 -87 12.4 -87.7 13 -88.5 13.2 -89.8 13.5 -91.3 13.9 -92.3 14.5 -93.5 15.7 -94.7 16.2 -96.5 15.7 -98.5 16.3 -100.8 17.2 -102 17.9 -103.5 18.3 -104.9 19.3 -105.6 20.4 -105.3 21.5 -105.7 22.5 -106.6 23.5 -107.8 24.7 -109 25.6 -109.4 26.7 -110.6 27.8 -111.8 28.9 -112.9 30.5 -114.2 31.5 -114.8 31.8 -114.7 30.7 -114.2 29.8 -113 28.8 -112.3 27.5 -111.6 26.5 -110.8 24.8 -110 23.9 -109.5 23.2 -110.1 22.9 -111.3 24.3 -112.2 25.1 -112.8 26.5 -114.2 27.6 -115 27.8 -114.4 28.6 -115.7 29.8 -116.7 31.4 -117.1 32.5 -117.4 33.2 -118.4 33.8 -119.2 34.1 -120.6 34.5 -120.9 35.4 -121.9 36.5 -122.4 37.2 -122.5 37.8 -123 38.2 -123.7 39 -124.2 40.3 -124.1 41.5 -124.5 42.8 -124 44.5 -123.9 46.2 -124.7 48.4 -123.5 48.2 -122.6 47.3 -122.8 49 -123.8 49.7 -125 50.3 -127 51.3 -127.8 52.3 -129.3 53.6 -130.3 54.7 -130.6 55.9 -131.5 56 -132.3 57 -134 58.4 -135.7 59.3 -136.5 58.4 -138.5 59.1 -139.8 59.6 -141.5 60 -143.9 60 -146.5 60.6 -148.5 60.3 -149.7 59.7 -151.5 59.2 -151.5 60.7 -150.3 61.2 -151.7 60.9 -153.3 59.5 -154.2 58.5 -156 57.6 -157.9 56.6 -159.5 55.7 -161.5 55.3 -162.8 54.9 -164.7 54.5 -163.3 55.1 -161.3 55.9 -159.5 56.5 -158.3 57.6 -157.3 58.8 -158.6 58.8 -160.5 58.7 -162.2 59.9 -163.8 60.3 -165.2 60.6 -165.5 61.7 -164.6 63.1 -162.3 63.5 -161.1 64.4 -162.8 64.5 -164.7 64.5 -166.4 64.7 -167.5 65.4ZM-5.6 36 -6.3 36.5 -7.4 37.2 -8.9 37 -8.8 38.3 -9.5 38.8 -9 40 -8.8 41.9 -9.3 43 -8 43.7 -5.8 43.6 -3.8 43.4 -1.8 43.4 -1.4 44.5 -1.2 46.2 -2.2 47.2 -4.5 47.9 -4.8 48.4 -3 48.8 -1.6 48.6 -1.9 49.7 -1.2 49.4 0.2 49.7 1.5 50.3 2.5 51.1 3.5 51.5 4.2 52 4.8 53 6 53.5 7.2 53.3 8.5 53.6 8.8 54.3 8.6 55.5 8.2 56.7 10.6 57.7 10.3 56.5 10.9 56.3 10 55.5 9.6 54.9 10.5 54.4 11.3 53.9 13 54.4 14.2 53.9 16.5 54.5 18.5 54.8 19.5 54.4 21 55.2 21 56.5 21.5 57.5 22.5 57.7 24.3 57.2 24.1 58.3 23.5 59.2 25 59.5 28 59.5 30 60 29 60.5 26.5 60.4 23 59.9 21.5 60.6 21.5 61.8 22 63 24.5 64.8 25.5 65.3 24.5 65.8 22 65.6 21.2 64.5 19.5 63.5 18 62.5 17.3 61 18.5 60.2 18.8 59.5 16.5 57.8 16.5 56.5 14.5 55.8 13 55.4 12.5 56.5 11.5 58.5 11 59 10.5 59.9 9.5 59 7.5 58 6 58.3 5.5 59.3 5 60.5 5 62 6.5 62.8 8.5 63.5 10.5 64.5 12.5 66 14 67.5 16 68.8 18.5 69.8 21 70.2 24 71 26 71 28.5 70.9 31 70.3 33 69.4 36 69.1 40 67.8 41.2 66.7 39.5 66.1 38 66 35 64.3 37 63.9 40 64.6 43.5 66.1 44.2 68.1 46 68 47 67.6 53 68.5 54 68.3 58 68.8 60 69.8 64 69.3 67 68.6 68.5 68.3 69.5 72.5 72 72.8 72.7 71.5 73 69.5 73.8 67 75 68.2 75 71 77 72.3 78.5 72.4 80.5 73.5 86.5 73.8 86 74.8 90 75.5 95 76 100 76.5 104 77.7 107 76.5 111 76.7 113.5 75.7 112 74 118 73.5 123 73 127 73.6 129 72 132 71.5 136 71.6 140 72.5 145 72.3 150 71.5 153 70.9 157 71 160 70.7 162 69.6 165 69.6 168 69.9 170.5 70.1 173 69.8 176 69.8 178.5 69.2 180 68.9 180 65 178.6 64.5 177 62.6 173.5 61.7 170.3 60 166 60 163.5 59.8 163 58 162.5 56.5 161.8 55 160 53.2 158.5 52.9 156.7 51 155.8 53.5 155.5 56 156.7 57.7 158.4 58 160 59.5 161.8 60.3 163.7 61.8 162.2 61.5 160.3 61.9 159.2 61.7 156.7 61.5 154 59.2 151.2 58.8 149 59.4 145 59.4 142 59 140.5 57.8 138 56.5 135 54.7 137.2 54 139 54.1 141.2 53.2 140.6 51.5 140.1 48.5 138.5 47 136 44 133 42.8 131 42.6 130 42 129.5 40.8 128.5 39.7 127.5 39.4 128.5 38.3 129.4 36.5 129.3 35.2 128 34.8 126.5 34.4 126.3 35.5 126.7 37 126.3 37.8 125 37.8 125.2 38.6 124.7 39.6 122 39.2 121.2 38.8 121.5 40 121.9 40.9 120.5 40.2 119.5 39.7 118 39.2 117.6 38.6 118.5 37.5 119.2 37.1 120.7 37.7 122.5 37.2 120.7 36.3 119.3 35 120.5 33.2 121.8 31.7 121.9 30.8 121.5 29.5 120.7 28 119.6 26 118.5 24.6 117 23.5 115 22.7 113.5 22.2 111.5 21.5 110 20.5 109.8 21.5 108.5 21.6 107 20.8 106 19.5 105.7 18.5 106.6 17.3 108.3 16 109 14 109.3 12 108.5 11 107 10.5 106.5 9.5 105 8.6 104.8 10.2 103.5 10.5 102.6 12.1 101 12.7 100.1 13.4 99.9 12 99.2 10 100.3 8.5 101 6.9 102.2 6.2 103.4 4.5 103.4 2.7 104.2 1.4 103.5 1.3 101.3 2.9 100.3 5.3 100 6.5 98.5 8.2 98.5 10 98.6 12 97.8 14.5 97.6 16.5 96.4 16.9 95 15.8 94.3 16.2 94.5 18 93.5 19.5 92.3 20.7 92 21.5 91.5 22.6 90.5 22.2 89.1 21.9 87 21.5 86.8 20.3 85 19.3 83.5 17.8 82.2 16.6 80.2 15.5 80.3 13.2 79.8 11.5 79.3 10.3 78.2 8.9 77.5 8.1 76.5 9 75.8 11.2 74.8 12.9 74 15 73.3 17.5 72.8 19.5 72.6 21.3 72.5 22.4 71 21 69.2 22.4 70.3 22.9 68.5 23.5 67.3 24.5 66.6 25.4 64.5 25.2 61.6 25.2 59.5 25.4 57.3 25.8 56.8 27.1 56 27 54 26.7 52 27.7 50.8 28.9 50 30 48.6 29.9 48 29.5 48.5 28.5 49.5 27 50.2 26 50.8 24.8 51.5 25.8 51.6 24.6 52.5 24.2 54.5 24.3 56 25.7 56.4 26.4 56.3 24.9 57 24 58.6 23.6 59.8 22.5 58.5 20.5 57.8 19 56.7 18.2 55 17 53 16.6 52 15.7 49 14.2 45.5 13 43.5 12.7 43 14.5 42.6 16 41.5 17.8 40 19.9 39 21.5 38.5 23.5 37.2 25.2 36 26.8 35.2 28 34.9 29.5 34.2 31.3 34.5 31.6 34.9 32.8 35.5 34 35.9 35.3 36 36 36.2 36.6 35.5 36.6 34 36.3 32.5 36.1 30.6 36.7 29.5 36.2 28 36.8 27.3 37.5 26.5 38.5 26.2 39.5 26.5 40.3 26 40.8 24.5 40.9 23.5 40.3 22.6 40.3 22.9 39.3 23.3 38.2 22.7 37.5 23.1 36.5 22.5 36.4 21.7 36.9 21.1 37.8 21.5 38.3 20.7 38.9 20 39.7 19.4 40.3 19.5 41.8 18.5 42.4 17 43.2 15.9 43.6 15 44.5 14.3 45.3 13.6 45.6 12.4 45.4 12.3 44.5 13.5 43.6 14.3 42.4 16 41.9 15.9 41.5 17.5 40.8 18.5 40.1 17 40.5 16.5 39.7 17.2 39 16.1 38 15.6 38 15.7 39.5 14.8 40.3 14 40.9 12.5 41.6 11.2 42.4 10.5 43 10.2 43.9 8.9 44.4 7.5 43.8 6.5 43.1 5 43.4 4 43.5 3.1 43 3.2 42.4 3.2 41.9 1.2 41.1 0.5 40.5 -0.3 39.5 0.2 38.8 -0.7 37.6 -2.1 36.7 -4.4 36.7ZM34.2 31.3 32.3 31.3 31 31.6 29.9 31.3 28 31 25 31.6 23 32.6 21 32.8 20 31.5 19.5 30.3 17.5 31 15.5 31.8 13.5 32.8 11.5 33.1 10.5 33.6 10.8 35.2 11 37 10 37.3 8.5 36.9 5.5 36.7 3 36.8 0 35.9 -2 35.1 -5.3 35.9 -6.2 35.5 -6.8 34 -8.5 33.2 -9.3 32.5 -9.8 30.5 -11 28.5 -13.2 27.7 -8.7 27.7 -8.7 26 -12 26 -12 23.5 -13.1 22.8 -13 21.3 -17.1 21.3 -16.5 19.5 -16.2 18 -16.5 16.5 -17.5 14.7 -16.7 13.8 -16.7 12.4 -16.5 11.5 -15 10.8 -13.3 9.6 -12.5 7.8 -11 6.8 -9 5.2 -7.5 4.4 -5 5.1 -3 5.1 -1.5 5 0.5 5.8 1.8 6.2 3.5 6.4 5 5.8 6 4.3 7.5 4.5 8.5 4.6 9.3 3.9 9.8 2.5 9.5 1 9.3 0 8.8 -0.8 9.5 -2.5 11 -3.8 11.8 -4.7 12.2 -6 13 -8.5 13.8 -10.8 13.5 -12.5 12.5 -13.9 11.8 -15.8 11.8 -17.2 12.5 -18.5 13.5 -20.5 14.5 -22.6 14.9 -25 15.3 -27 16.5 -28.6 17.3 -30.5 18.2 -32.5 18.3 -34 18.9 -34.4 20 -34.8 22 -34.1 24 -34.1 25.6 -33.9 27 -33.5 28.5 -32.3 30 -31.3 31 -29.6 32.4 -28.5 32.9 -26.5 32.8 -25.8 35.3 -24.5 35.5 -22.1 34.8 -20 36.3 -18.8 38.5 -17.2 40.2 -16 40.6 -14.5 40.5 -11 39.7 -10 39.3 -8 38.9 -6.5 39.2 -5 40.2 -3 41 -2 41.6 -1.6 42.5 -0.5 44 1 46 2.5 48 4.5 49.2 6.5 50.5 9 51.2 10.5 51.3 11.8 50 11.4 48 11.1 45.5 10.5 43.5 11.4 43.2 11.5 42.6 12.6 41.5 13.9 40 15.3 39.2 16.5 38.5 17.8 37.4 18.8 37.2 21 36.8 22 35.6 23.9 34.6 25.8 33.6 27.5 32.6 29.7 32.5 29.9 33.5 28.5 34.3 27.8 34.7 29 34.9 29.5ZM113.5 -22.5 114.2 -21.8 116.7 -20.6 118.8 -20.3 121 -19.5 122.3 -17.5 123.5 -17.3 124.8 -15.8 126 -14.3 127.8 -14.3 129.5 -14.9 130 -13.3 131 -12.2 132.6 -11.6 133.6 -11.8 135 -12.2 136.8 -12.2 136.5 -13.2 135.6 -14.6 137 -15.8 139.3 -17.4 140.8 -17.4 141.5 -15 141.6 -13 142.3 -10.8 142.5 -10.7 143.3 -12 143.6 -14 145.3 -15 145.9 -17 146.3 -19 148.7 -20.5 150 -22.2 151.1 -23.5 153 -25.3 153.6 -28.5 153.1 -30.8 152.4 -32.5 151.3 -33.8 150.1 -36.2 149.9 -37.5 147.9 -37.9 146.3 -39.1 144.9 -37.9 143.5 -38.8 141 -38 139.6 -37.2 139.7 -36 138.1 -35.6 138.5 -34.5 137.8 -32.7 137.5 -34 136.9 -35.3 135.9 -34.8 135.2 -34.5 134.3 -33.2 132 -32 129.5 -31.6 127 -32.3 124 -33 123.5 -33.9 120 -33.9 118 -35 116.5 -35 115 -34.3 115.7 -33.3 115.7 -31.6 115 -29.5 114.2 -28 113.5 -26.5 113.9 -25.5 113.4 -24.4Z" fill="#f6f7f7"/>
<path d="M-141 72 -141 60.3 -139 60.3 -137.5 59.1 -135.5 59.8 -133.4 58.4 -131.7 56.6 -130 55.9 -130 54.7 -133 53 -126 48.3 -123 48.3 -123.2 49 -95.2 49 -95.2 49.4 -89.6 48 -84.5 46.5 -82.4 45.3 -82.5 43 -83.1 42.1 -79 42.8 -76.3 44.2 -74.7 45 -71.5 45 -70.7 45.4 -70 46.7 -69.2 47.4 -68.3 47.3 -67.8 47.1 -67.8 45.7 -67 44.8 -65 43 -50 45 -50 75 -141 75Z" fill="#90c4dd" class="b"/>
<path d="M-123.2 49 -95.2 49 -95.2 49.4 -89.6 48 -84.5 46.5 -82.4 45.3 -82.5 43 -83.1 42.1 -79 42.8 -76.3 44.2 -74.7 45 -71.5 45 -70.7 45.4 -70 46.7 -69.2 47.4 -68.3 47.3 -67.8 47.1 -67.8 45.7 -67 44.8 -65 43 -70 35 -79 24 -82 24 -88 28 -97.2 25.9 -99.1 26.4 -100.3 28 -101.4 29.8 -102.7 29.7 -103.1 29 -104.5 29.6 -106.5 31.8 -108.2 31.8 -108.2 31.3 -111 31.3 -114.8 32.5 -114.7 32.7 -117.1 32.5 -119 31 -127 40 -126 48.3 -123 48.3Z" fill="#62a7ce" class="b"/>
<path d="M-141 72 -141 60.3 -139 60.3 -137.5 59.1 -135.5 59.8 -133.4 58.4 -131.7 56.6 -130 55.9 -130 54.7 -134 54 -170 50 -170 72Z" fill="#62a7ce" class="b"/>
<path d="M-117.1 32.5 -114.7 32.7 -114.8 32.5 -111 31.3 -108.2 31.3 -108.2 31.8 -106.5 31.8 -104.5 29.6 -103.1 29 -102.7 29.7 -101.4 29.8 -100.3 28 -99.1 26.4 -97.2 25.9 -95 25.9 -93 20 -89 23 -86.5 21.5 -87.4 18.4 -88.3 18.5 -88.9 17.9 -89.2 17.8 -91 17.8 -91 17.2 -91.5 17.2 -90.7 16.6 -90.5 16.1 -91.7 16.1 -92.2 15.2 -92.2 14.5 -92.5 13.5 -105 15 -118 28 -119 31Z" fill="#68abd0" class="b"/>
<path d="M-92.2 14.5 -92.2 15.2 -91.7 16.1 -90.5 16.1 -90.7 16.6 -91.5 17.2 -91 17.2 -91 17.8 -89.2 17.8 -89.2 15.9 -88.2 15.7 -89.2 15 -89.3 14.4 -90.1 13.7 -91 13 -92.5 13.5Z" fill="#d8e9f1" class="b"/>
<path d="M-89.2 17.8 -88.9 17.9 -88.3 18.5 -87.4 18.4 -87.6 16 -88.2 15.9 -89.2 15.9Z" fill="#e4eef4" class="b"/>
<path d="M-89.2 15.9 -88.2 15.7 -88.2 15.9 -87 16.5 -83 16.3 -83.2 15 -84.3 14.7 -85 14.2 -86 13.9 -86.7 13.3 -87.3 12.9 -87.8 13.3 -88.5 13.9 -89.3 14.4 -89.2 15Z" fill="#c5dfec" class="b"/>
<path d="M-89.3 14.4 -88.5 13.9 -87.8 13.3 -87.7 13.1 -88.3 12.5 -90.2 13.2 -90.1 13.7Z" fill="#e4eef4" class="b"/>
<path d="M-87.3 12.9 -86.7 13.3 -86 13.9 -85 14.2 -84.3 14.7 -83.2 15 -82.5 15 -82.8 10.9 -83.6 10.9 -84.7 11.1 -85.7 11.1 -86.2 11 -88 12.2Z" fill="#d8e9f1" class="b"/>
<path d="M-85.7 11.1 -84.7 11.1 -83.6 10.9 -82.8 10.9 -82.5 9.6 -82.9 9.1 -82.9 8.1 -83.5 7.8 -86.3 9.5 -86.2 11Z" fill="#e4eef4" class="b"/>
<path d="M-82.9 8.1 -82.9 9.1 -82.5 9.6 -81.5 9.5 -79 9.8 -77.4 8.7 -77.2 7.9 -77.9 7.2 -78.5 6.5 -81 6.8 -83.5 7.8Z" fill="#e4eef4" class="b"/>
<path d="M-69.9 -4.2 -69.4 -1.1 -69.6 -0.5 -70 -0.2 -69.8 0.6 -69.8 1.1 -67.1 1.1 -66.9 1.2 -65.5 0.8 -64.4 1.5 -64 2.5 -64.6 4.1 -63.9 4 -62.8 4 -60 4.5 -59.6 3.9 -59.9 2.8 -59.7 1.8 -58.5 1.3 -56.5 1.9 -55.5 2.4 -54 2.2 -52.5 2.4 -51.7 4 -51.2 4 -49 3 -40 0 -32 -6 -36 -20 -47 -30 -53.4 -34 -53.5 -33.7 -53.2 -32.6 -53.8 -32 -55.6 -30.9 -56.6 -30.2 -57.6 -30.2 -56.3 -28.9 -55 -27.9 -53.8 -27.1 -53.6 -26.2 -54.6 -25.6 -54.3 -24 -55.4 -24 -55.6 -22.7 -57.8 -22.1 -57.9 -20.4 -58.2 -19.8 -57.5 -18.2 -58.3 -17.3 -58.4 -16.3 -60.2 -16.3 -60.5 -13.8 -61.9 -13.5 -63.5 -12.5 -65 -11.9 -65.4 -10.8 -65.4 -9.8 -66.6 -9.9 -68.3 -10.9 -69.6 -10.9 -70.6 -11 -70.5 -9.5 -72.7 -9 -74 -7.5 -73.7 -7.3 -72.9 -5.3Z" fill="#3480b9" class="b"/>
<path d="M-77.4 8.7 -76 10.5 -75 11.5 -72 12.6 -71.3 11.9 -72.2 11.1 -72.5 9.8 -73.3 9.2 -72.8 8.3 -72.4 7.4 -71.1 7 -70.1 7 -69.4 6.1 -67.7 6.2 -67.3 5.2 -67.8 4.5 -67.3 3.3 -67.8 2.8 -67.2 2.2 -66.9 1.2 -67.1 1.1 -69.8 1.1 -69.8 0.6 -70 -0.2 -69.6 -0.5 -69.4 -1.1 -69.9 -4.2 -70.7 -3.8 -72 -2.4 -73.6 -1.3 -75.2 -0.1 -76.6 0.3 -77.4 0.4 -78.8 1.4 -80 2 -78.5 6.5 -77.9 7.2 -77.2 7.9Z" fill="#90c4dd" class="b"/>
<path d="M-71.3 11.9 -70 12.5 -68 11.5 -62 11.2 -60.5 9 -60 8.6 -59.8 8.3 -60.6 7.1 -61.2 6.7 -61.1 5.9 -60.7 5.2 -60.2 5.2 -60 4.5 -62.8 4 -63.9 4 -64.6 4.1 -64 2.5 -64.4 1.5 -65.5 0.8 -66.9 1.2 -67.2 2.2 -67.8 2.8 -67.3 3.3 -67.8 4.5 -67.3 5.2 -67.7 6.2 -69.4 6.1 -70.1 7 -71.1 7 -72.4 7.4 -72.8 8.3 -73.3 9.2 -72.5 9.8 -72.2 11.1Z" fill="#f6f7f7" class="b"/>
<path d="M-59.8 8.3 -59 8.5 -57 6.5 -57.1 5.9 -58 4 -57.3 3.3 -56.5 1.9 -58.5 1.3 -59.7 1.8 -59.9 2.8 -59.6 3.9 -60 4.5 -60.2 5.2 -60.7 5.2 -61.1 5.9 -61.2 6.7 -60.6 7.1Z" fill="#f6f7f7" class="b"/>
<path d="M-57.1 5.9 -57 6.5 -54 6.3 -54 5.7 -54.2 3.8 -54 2.2 -55.5 2.4 -56.5 1.9 -57.3 3.3 -58 4Z" fill="#f6f7f7" class="b"/>
<path d="M-54 5.7 -54 6.3 -51.5 5.5 -51.2 4 -51.7 4 -52.5 2.4 -54 2.2 -54.2 3.8Z" fill="#f6f7f7" class="b"/>
<path d="M-75.2 -0.1 -76.6 0.3 -77.4 0.4 -78.8 1.4 -80 2 -82 0 -81.5 -3.4 -80.3 -3.4 -80.2 -4.3 -79.3 -4.9 -78.6 -4.5 -78.3 -3.5 -76.6 -2.6 -75.6 -1.6 -75.2 -0.9Z" fill="#4393c3" class="b"/>
<path d="M-80.3 -3.4 -81.5 -3.4 -82 -6 -76 -16 -70.4 -18.4 -69.6 -17.3 -69 -16.3 -69.4 -15.3 -68.9 -13 -68.7 -12.6 -69.6 -10.9 -70.6 -11 -70.5 -9.5 -72.7 -9 -74 -7.5 -73.7 -7.3 -72.9 -5.3 -69.9 -4.2 -70.7 -3.8 -72 -2.4 -73.6 -1.3 -75.2 -0.1 -75.2 -0.9 -75.6 -1.6 -76.6 -2.6 -78.3 -3.5 -78.6 -4.5 -79.3 -4.9 -80.2 -4.3Z" fill="#bddbea" class="b"/>
<path d="M-69.6 -10.9 -68.3 -10.9 -66.6 -9.9 -65.4 -9.8 -65.4 -10.8 -65 -11.9 -63.5 -12.5 -61.9 -13.5 -60.5 -13.8 -60.2 -16.3 -58.4 -16.3 -58.3 -17.3 -57.5 -18.2 -58.2 -19.8 -59.1 -19.3 -61.7 -19.6 -62.3 -20.5 -62.6 -22.2 -64.3 -22.8 -65 -22.1 -66.3 -21.8 -67.1 -22.7 -67.8 -22.8 -68.2 -21.5 -68.7 -19.4 -69.1 -18.3 -69.6 -17.3 -69 -16.3 -69.4 -15.3 -68.9 -13 -68.7 -12.6Z" fill="#f6f7f7" class="b"/>
<path d="M-57.9 -20.4 -57.8 -22.1 -55.6 -22.7 -55.4 -24 -54.3 -24 -54.6 -25.6 -54.7 -26.4 -55.7 -27.4 -58.6 -27.3 -57.6 -25.6 -58.8 -24.8 -60 -24.1 -61 -23.8 -62.6 -22.2 -62.3 -20.5 -61.7 -19.6 -59.1 -19.3 -58.2 -19.8Z" fill="#f6f7f7" class="b"/>
<path d="M-57.6 -30.2 -56.3 -28.9 -55 -27.9 -53.8 -27.1 -53.6 -26.2 -54.6 -25.6 -54.7 -26.4 -55.7 -27.4 -58.6 -27.3 -57.6 -25.6 -58.8 -24.8 -60 -24.1 -61 -23.8 -62.6 -22.2 -64.3 -22.8 -65 -22.1 -66.3 -21.8 -67.1 -22.7 -67.8 -22.8 -68.6 -24.5 -68.4 -26.2 -69 -27.5 -69.8 -30 -70.5 -32 -70 -33.5 -70.5 -36 -71.1 -37.5 -71.4 -39.5 -71.8 -42 -71.5 -44 -71.8 -45.5 -72.3 -47.5 -73.4 -49.5 -72.3 -51 -72 -52 -69.5 -52.2 -68.6 -52.5 -68.6 -56 -60 -56 -55 -38 -57 -35.2 -58.3 -34.2 -58.4 -33.5 -58.2 -32.5Z" fill="#f6f7f7" class="b"/>
<path d="M-53.4 -34 -53.5 -33.7 -53.2 -32.6 -53.8 -32 -55.6 -30.9 -56.6 -30.2 -57.6 -30.2 -58.2 -32.5 -58.4 -33.5 -58.3 -34.2 -57 -35.2 -54 -35.5Z" fill="#f6f7f7" class="b"/>
<path d="M-70.4 -18.4 -69.6 -17.3 -69.1 -18.3 -68.7 -19.4 -68.2 -21.5 -67.8 -22.8 -68.6 -24.5 -68.4 -26.2 -69 -27.5 -69.8 -30 -70.5 -32 -70 -33.5 -70.5 -36 -71.1 -37.5 -71.4 -39.5 -71.8 -42 -71.5 -44 -71.8 -45.5 -72.3 -47.5 -73.4 -49.5 -72.3 -51 -72 -52 -69.5 -52.2 -68.6 -52.5 -68.6 -56 -80 -56 -78 -18Z" fill="#3c8abe" class="b"/>
<path d="M-2 35.1 -1.8 34.5 -1.7 33.3 -1.2 32.1 -3.7 31.6 -3.5 30.9 -5.8 29.6 -8.7 28.7 -8.7 27.3 -4.8 25 1.2 21.1 1.8 20.6 3.2 19.8 3.3 19.1 4.3 19.2 5.8 19.4 7.5 20.9 9 21.8 12 23.5 11.5 24.3 10 24.8 9.3 26.3 9.8 27 9.8 29.4 9.5 30.2 9 32 7.5 33.8 8.2 35.5 8.6 36.9 8.6 38 -1 36Z" fill="#f6f7f7" class="b"/>
<path d="M-2 35.1 -1.8 34.5 -1.7 33.3 -1.2 32.1 -3.7 31.6 -3.5 30.9 -5.8 29.6 -8.7 28.7 -8.7 27.7 -13.2 27.7 -14 28 -10 31 -9.5 34 -6.2 35.8 -5.3 36Z" fill="#f6f7f7" class="b"/>
<path d="M-8.7 27.3 -4.8 25 -5.6 16.4 -5.5 15.5 -11.5 15.6 -12.2 14.8 -12.5 15.3 -14.5 16.6 -16.5 16.2 -17 16.5 -17.5 20 -17.1 21.3 -13 21.3 -13.1 22.8 -12 23.5 -12 26 -8.7 26Z" fill="#f6f7f7" class="b"/>
<path d="M8.6 36.9 8.2 35.5 7.5 33.8 9 32 9.5 30.2 10.3 32.2 11.5 33.1 12 34 11.5 37.5 9 37.5Z" fill="#f6f7f7" class="b"/>
<path d="M11.5 33.1 10.3 32.2 9.5 30.2 9.8 29.4 9.8 27 9.3 26.3 10 24.8 11.5 24.3 12 23.5 13.5 23.2 14 22.9 15 23 24 19.5 24 20 25 20 25 22 25.1 31.6 25 33 12 34Z" fill="#f6f7f7" class="b"/>
<path d="M25 22 36.9 22 37.3 22.3 38.6 18.5 38.4 17.9 36.9 16.1 36.5 14.3 36.4 13.4 35.6 12.6 35 11.2 34.3 10.6 34.1 9.5 34 8.6 33.2 8.4 33 7.8 34.4 6.8 35.9 4.6 34 4.2 33 3.9 31.6 3.7 30.8 3.5 29.8 4.4 28.4 4.3 27.4 5.1 25.3 7.5 24.6 8.2 23.6 8.7 22.9 10.9 22.5 11 22.2 12.7 22.9 13.7 23.8 15.7 24 19.5 24 20 25 20Z" fill="#f6f7f7" class="b"/>
<path d="M25 31.8 25 22 36.9 22 37.3 22.3 35.8 25.2 34.5 27.2 34.7 29 34.9 29.5 34.2 31.3 33 32 25 32Z" fill="#276eb0" class="b"/>
<path d="M24 19.5 15 23 15.5 20.7 15.9 20.4 15.3 17.9 13.5 14.4 13.6 13.7 14.1 13.1 14.2 12.6 14.5 12.3 14.9 11.8 15 10 13.9 9.6 14.5 8.9 15.5 7.5 17 7.9 18.6 9 20 9.1 21.7 9.9 22.9 10.9 22.5 11 22.2 12.7 22.9 13.7 23.8 15.7Z" fill="#f6f7f7" class="b"/>
<path d="M4.3 19.2 5.8 19.4 7.5 20.9 9 21.8 12 23.5 13.5 23.2 14 22.9 15 23 15.5 20.7 15.9 20.4 15.3 17.9 13.5 14.4 13.6 13.7 12.3 13.1 10 13.3 8 13.3 6.3 13.7 4.2 13.5 3.6 11.7 2.8 12.3 2.2 11.9 2 12.7 0.9 13.3 0.3 14.9 3.6 15.6 4.3 16.9Z" fill="#f6f7f7" class="b"/>
<path d="M-4.8 25 1.2 21.1 1.8 20.6 3.2 19.8 3.3 19.1 4.3 19.2 4.3 16.9 3.6 15.6 0.3 14.9 -0.5 15.1 -2 14.2 -3.2 13.7 -4.3 12.7 -5.2 11.4 -5.4 10.4 -6.2 10.5 -7.6 10.2 -8 10.2 -8.3 11 -8.9 12.1 -10.6 11.9 -11.4 12.4 -12.2 14.8 -11.5 15.6 -5.5 15.5 -5.6 16.4Z" fill="#f6f7f7" class="b"/>
<path d="M0.3 14.9 -0.5 15.1 -2 14.2 -3.2 13.7 -4.3 12.7 -5.2 11.4 -5.4 10.4 -4.7 9.7 -3.6 9.9 -2.8 9.6 -2.7 11 -0.1 11.1 0.9 11 1.4 11.5 2.2 11.9 2 12.7 0.9 13.3Z" fill="#f6f7f7" class="b"/>
<path d="M-12.2 14.8 -11.4 12.4 -12.4 12.4 -13.7 12.7 -16.7 12.4 -17.5 12.4 -18 14.7 -17 16.5 -16.5 16.2 -14.5 16.6 -12.5 15.3Z" fill="#f6f7f7" class="b"/>
<path d="M-16.9 13.1 -16.9 13.6 -15.4 13.6 -13.8 13.6 -13.8 13.3 -15.4 13.3 -16.7 13.1Z" fill="#f6f7f7" class="b"/>
<path d="M-13.7 12.7 -16.7 12.4 -17 11.8 -16 10.8 -15 10.9 -13.7 11.7Z" fill="#f6f7f7" class="b"/>
<path d="M-13.7 12.7 -12.4 12.4 -11.4 12.4 -10.6 11.9 -8.9 12.1 -8.3 11 -8 10.2 -8.2 9.5 -7.7 8.4 -8.2 7.6 -8.5 7.6 -9.4 7.4 -9.5 8.4 -10.3 8.5 -10.6 9.1 -11.2 10 -12.2 9.9 -13.2 9.1 -14 9 -16 10.8 -15 10.9 -13.7 11.7Z" fill="#f6f7f7" class="b"/>
<path d="M-13.2 9.1 -12.2 9.9 -11.2 10 -10.6 9.1 -10.3 8.5 -10.7 8 -11.5 6.9 -12.5 6.8 -14 8.5Z" fill="#f6f7f7" class="b"/>
<path d="M-11.5 6.9 -10.7 8 -10.3 8.5 -9.5 8.4 -9.4 7.4 -8.5 7.6 -8.3 6.5 -7.5 5.9 -7.5 4.3 -8.5 4 -12.5 6.8Z" fill="#eff3f5" class="b"/>
<path d="M-8 10.2 -7.6 10.2 -6.2 10.5 -5.4 10.4 -4.7 9.7 -3.6 9.9 -2.8 9.6 -2.5 8.2 -3.2 6.2 -2.9 5 -3 4 -7.5 4.3 -7.5 5.9 -8.3 6.5 -8.5 7.6 -8.2 7.6 -7.7 8.4 -8.2 9.5Z" fill="#f3f5f6" class="b"/>
<path d="M-2.8 9.6 -2.7 11 -0.1 11.1 0 10.6 0.4 10.2 0.3 8.8 0.6 8 0.5 6.9 1.2 6.1 1.2 5 -3 4 -2.9 5 -3.2 6.2 -2.5 8.2Z" fill="#c5dfec" class="b"/>
<path d="M-0.1 11.1 0.9 11 0.8 10.5 1.4 9.5 1.6 6.9 1.8 6.2 1.9 5 1.2 5 1.2 6.1 0.5 6.9 0.6 8 0.3 8.8 0.4 10.2 0 10.6Z" fill="#f6f7f7" class="b"/>
<path d="M0.9 11 1.4 11.5 2.2 11.9 2.8 12.3 3.6 11.7 3.8 10.6 2.7 9.4 2.7 6.4 2.7 5 1.9 5 1.8 6.2 1.6 6.9 1.4 9.5 0.8 10.5Z" fill="#f6f7f7" class="b"/>
<path d="M2.7 6.4 2.7 9.4 3.8 10.6 3.6 11.7 4.2 13.5 6.3 13.7 8 13.3 10 13.3 12.3 13.1 13.6 13.7 14.1 13.1 14.2 12.6 13.8 11.5 13.3 10.3 12.9 8.9 12.2 8.4 11.8 7.1 11.1 6.5 10.2 7 9.7 6.5 8.8 5.6 8.5 4.5 8 3.5 2.7 5Z" fill="#529dc8" class="b"/>
<path d="M14.2 12.6 14.5 12.3 14.9 11.8 15 10 13.9 9.6 14.5 8.9 15.5 7.5 14.5 5.6 15.1 4 16.1 2.8 16.2 2.2 13.3 2.2 11.3 2.2 9.8 2.3 9 3.5 8.5 4.5 8.8 5.6 9.7 6.5 10.2 7 11.1 6.5 11.8 7.1 12.2 8.4 12.9 8.9 13.3 10.3 13.8 11.5Z" fill="#f6f7f7" class="b"/>
<path d="M15.5 7.5 17 7.9 18.6 9 20 9.1 21.7 9.9 22.9 10.9 23.6 8.7 24.6 8.2 25.3 7.5 27.4 5.1 25.2 5.1 22.4 4.1 20.5 4.4 18.5 3.5 16.6 3.5 16.2 2.2 16.1 2.8 15.1 4 14.5 5.6Z" fill="#f6f7f7" class="b"/>
<path d="M9.8 2.3 11.3 2.2 11.3 1 9.5 1 9 1.5Z" fill="#f6f7f7" class="b"/>
<path d="M9.5 1 11.3 1 11.3 2.2 13.3 2.2 13.2 1.2 14.5 0.8 13.9 -0.5 14.5 -1.8 14.2 -2.5 12.5 -2.3 11.6 -2.8 12 -3.5 11.1 -3.9 8 -2 8.5 0.5Z" fill="#f6f7f7" class="b"/>
<path d="M13.3 2.2 16.2 2.2 16.6 3.5 18.5 3.5 18.1 1.5 17.6 -0.5 16.2 -2.2 16 -3.5 15.2 -4.3 13.3 -4.8 12.2 -5 11.8 -4.7 11.1 -3.9 12 -3.5 11.6 -2.8 12.5 -2.3 14.2 -2.5 14.5 -1.8 13.9 -0.5 14.5 0.8 13.2 1.2Z" fill="#f6f7f7" class="b"/>
<path d="M18.5 3.5 20.5 4.4 22.4 4.1 25.2 5.1 27.4 5.1 28.4 4.3 29.8 4.4 30.8 3.5 31.2 2.3 30.5 1.2 29.6 -0.6 29.6 -1.4 29 -1.4 29 -2.8 29 -3.3 29.2 -4.4 29.4 -5.9 30.6 -8.3 28.9 -8.5 28.4 -9.2 28.6 -10.5 28.4 -11.8 29.4 -12.4 29.8 -13.4 29 -13.4 27.4 -12.1 26 -11.9 25.3 -11.2 24.3 -11.3 23.9 -10.9 22.2 -11.1 22.1 -9.9 21.8 -7.3 20.3 -7 19.4 -8 17.5 -8.1 16.3 -5.9 13.2 -5.9 12.2 -6 11 -6 12.2 -5 13.3 -4.8 15.2 -4.3 16 -3.5 16.2 -2.2 17.6 -0.5 18.1 1.5Z" fill="#f6f7f7" class="b"/>
<path d="M12.2 -6 13.2 -5.9 16.3 -5.9 17.5 -8.1 19.4 -8 20.3 -7 21.8 -7.3 22.1 -9.9 22.2 -11.1 23.9 -10.9 24 -13 22 -13 22 -16.2 23.4 -17.6 21 -18 18.5 -17.4 13.5 -17.4 11.8 -17.2 10 -12 11 -6Z" fill="#f6f7f7" class="b"/>
<path d="M11.8 -17.2 13.5 -17.4 18.5 -17.4 21 -18 23.4 -17.6 24.5 -17.5 25.2 -17.8 23.4 -18.2 21 -18.3 21 -22 20 -22 20 -24.8 20 -28.4 19 -28.9 17.4 -28.7 16.5 -28.6 12 -20Z" fill="#f6f7f7" class="b"/>
<path d="M20 -24.8 20 -22 21 -22 21 -18.3 23.4 -18.2 25.2 -17.8 26.2 -19.5 27.3 -20.5 28 -21.5 29.4 -22.1 28.2 -22.6 27 -23.6 26.5 -24.6 25.8 -25.5 25 -25.7 24 -25.5 22.7 -26 22 -26.8 20.8 -26.9Z" fill="#f6f7f7" class="b"/>
<path d="M16.5 -28.6 17.4 -28.7 19 -28.9 20 -28.4 20 -24.8 20.8 -26.9 22 -26.8 22.7 -26 24 -25.5 25 -25.7 25.8 -25.5 26.5 -24.6 27 -23.6 28.2 -22.6 29.4 -22.1 31.3 -22.4 32 -24.4 31.9 -25.9 32.1 -26.8 32.9 -26.8 34 -28 31 -33 20 -36 17 -33Z" fill="#f6f7f7" class="b"/>
<path d="M27 -29.6 27.7 -28.9 28.7 -28.6 29.4 -29.4 29.2 -30 28.2 -30.6 27.4 -30.3Z" fill="#f6f7f7" class="b"/>
<path d="M30.8 -26.4 31.4 -25.7 32 -25.9 32.1 -26.8 31.3 -27.3 30.8 -26.8Z" fill="#f6f7f7" class="b"/>
<path d="M25.2 -17.8 26.2 -19.5 27.3 -20.5 28 -21.5 29.4 -22.1 31.3 -22.4 32.4 -21.3 32.7 -20.5 32.9 -18.5 32.9 -16.7 30.4 -15.6 28.9 -16 27.8 -17 26.5 -17.7Z" fill="#f6f7f7" class="b"/>
<path d="M22 -13 24 -13 24 -11 24.3 -11.3 25.3 -11.2 26 -11.9 27.4 -12.1 29 -13.4 29.8 -13.4 29.4 -12.4 28.4 -11.8 28.6 -10.5 28.4 -9.2 28.9 -8.5 30.6 -8.3 31 -8.6 32.9 -9.3 33.3 -9.5 33.6 -10.5 33.3 -12.3 32.7 -13.6 33.2 -14 30.4 -15.6 28.9 -16 27.8 -17 26.5 -17.7 25.2 -17.8 24.5 -17.5 23.4 -17.6 22 -16.2Z" fill="#e0ecf3" class="b"/>
<path d="M30.4 -15.6 33.2 -14 34.2 -15.3 34.5 -16.3 35.3 -17.1 35.8 -16 35.3 -14.3 34.5 -13.5 34.6 -11.4 37.5 -11.6 40.4 -10.4 42 -12 41 -20 36 -25 32.9 -26.8 32.1 -26.8 31.9 -25.9 32 -24.4 31.3 -22.4 32.4 -21.3 32.7 -20.5 32.9 -18.5 32.9 -16.7Z" fill="#f6f7f7" class="b"/>
<path d="M33.3 -9.5 33.9 -9.4 34.6 -11.4 34.5 -13.5 35.3 -14.3 35.8 -16 35.3 -17.1 34.5 -16.3 34.2 -15.3 33.2 -14 32.7 -13.6 33.3 -12.3 33.6 -10.5Z" fill="#e0ecf3" class="b"/>
<path d="M29.2 -4.4 29.9 -4.4 30.9 -3.4 30.6 -2.4 30.9 -2 30.5 -1.1 31.7 -1 34 -1 37.6 -3 39.2 -4.7 40 -5.5 41 -10 40.4 -10.4 37.5 -11.6 34.6 -11.4 33.9 -9.4 33.3 -9.5 32.9 -9.3 31 -8.6 30.6 -8.3 29.4 -5.9Z" fill="#f6f7f7" class="b"/>
<path d="M34 4.2 35.9 4.6 36.8 4.4 38.7 3.6 39.9 3.5 40.8 4.3 41.9 3.9 41 2.8 41 -0.9 41.6 -1.7 42 -2.5 40 -5 39.2 -4.7 37.6 -3 34 -1 33.9 0.1 34.5 1.7Z" fill="#e0ecf3" class="b"/>
<path d="M30.8 3.5 31.6 3.7 33 3.9 34 4.2 34.5 1.7 33.9 0.1 34 -1 31.7 -1 30.5 -1.1 29.6 -1.4 29.6 -0.6 30.5 1.2 31.2 2.3Z" fill="#81bad8" class="b"/>
<path d="M29 -1.4 29.6 -1.4 30.5 -1.1 30.9 -2 30.6 -2.4 29.9 -2.8 29 -2.8Z" fill="#f6f7f7" class="b"/>
<path d="M29 -2.8 29.9 -2.8 30.6 -2.4 30.9 -3.4 29.9 -4.4 29.2 -4.4 29 -3.3Z" fill="#f6f7f7" class="b"/>
<path d="M36.5 14.3 36.4 13.4 35.6 12.6 35 11.2 34.3 10.6 34.1 9.5 34 8.6 33.2 8.4 33 7.8 34.4 6.8 35.9 4.6 36.8 4.4 38.7 3.6 39.9 3.5 40.8 4.3 41.9 3.9 43.7 4.9 45 5 47.8 8 44 9 43.7 9.4 42.7 11 41.8 11.5 42.4 12.5 41.7 13 40.1 14.4 39.2 14.5 37.9 14.9Z" fill="#f6f7f7" class="b"/>
<path d="M36.5 14.3 37.9 14.9 39.2 14.5 40.1 14.4 41.7 13 42.4 12.5 43.1 12.7 42 14.5 40 16 38.6 18.5 38.4 17.9 36.9 16.1Z" fill="#f6f7f7" class="b"/>
<path d="M42.4 12.5 41.8 11.5 42.7 11 43.2 11.5 43.4 12 43.1 12.7Z" fill="#f6f7f7" class="b"/>
<path d="M42.7 11 43.7 9.4 44 9 47.8 8 45 5 43.7 4.9 41.9 3.9 41 2.8 41 -0.9 41.6 -1.7 43 -1.5 52 11 51.5 12.2 47 11.7 43.3 11.8 43.2 11.5Z" fill="#f6f7f7" class="b"/>
<path d="M27.8 60.5 29.5 61.5 31.2 62.5 30 63.8 30.5 64.7 29.7 65.7 30 67.6 28.7 68.9 28.9 69 29.3 69.5 30.8 69.8 32 70.5 40 72 60 85 180 85 180 60 150 45 138 40 131 41.5 130.6 42.4 131.2 43 131.3 44.9 132.9 45 133.1 45.1 134.8 47.7 134.6 48.4 132 47.7 130.8 48.9 129 49.4 127.5 50 126.5 52 125 53.2 123.5 53.5 121.2 53.3 120 52.6 120.8 52 119.5 50.5 117.8 49.5 116.7 49.8 115.5 50 114 50.2 111.5 49.3 108 49.6 106 50.3 102.5 50.5 100 51.7 98.3 52.1 98 50.6 97.3 49.8 94.5 50 92.2 50.8 89.5 49.8 87.8 49.2 87.3 49.1 86.5 49.8 85 50.1 83.4 51 81 50.8 80 50.8 77.8 53.3 76.5 54.2 73.5 54 71 55.2 68 55 65.5 54.6 61.5 54 61 53 61.5 52 60 51.8 59.5 50.6 57.5 51 55.7 50.6 53.5 51.4 50.8 51.7 48.7 50.6 47.5 50.4 46.6 49 46.8 48.4 47.2 47.7 48.2 47.7 49 46.5 48.6 41.8 46.5 41.9 45 42.7 43.5 42.9 42 43.3 40 43.4 38 45 38.2 47.1 39.7 47.8 40.1 48.3 40 49.6 38.2 49.9 37.5 50.3 35.4 50.6 34.4 51.3 33.8 52.3 31.8 52.1 32.7 53.3 31.8 53.8 30.8 55.6 28.2 56.2 27.7 57.3 27.4 58.5 28 59.5Z" fill="#71b0d3" class="b"/>
<path d="M19.6 54.4 22.7 54.4 22.9 55 21.3 55.2 20.5 55.2 19.9 54.9 19 54.8Z" fill="#71b0d3" class="b"/>
<path d="M46.6 49 47.5 50.4 48.7 50.6 50.8 51.7 53.5 51.4 55.7 50.6 57.5 51 59.5 50.6 60 51.8 61.5 52 61 53 61.5 54 65.5 54.6 68 55 71 55.2 73.5 54 76.5 54.2 77.8 53.3 80 50.8 81 50.8 83.4 51 85 50.1 86.5 49.8 87.3 49.1 85.7 48.5 85.5 47.1 83 47.2 82.3 45.5 80 45 80.4 44 80.2 42.9 79 42.8 76 43 74.5 42.9 73.5 42.5 71.8 42.8 71 42.3 70 42.6 69.1 41.4 68.5 40.7 67.9 41.1 66.7 41.2 66 42 66 43 65 43.7 64 43.6 62 43.5 61 44.4 58.5 45.6 56 45 56 41.3 55.5 41.3 54.2 42.4 52.4 41.7 51 43.5 51 46 49 46.5 48.2 47.7 47.2 47.7 46.8 48.4Z" fill="#f6f7f7" class="b"/>
<path d="M130.6 42.4 131.2 43 131.3 44.9 132.9 45 133.1 45.1 134.8 47.7 134.6 48.4 132 47.7 130.8 48.9 129 49.4 127.5 50 126.5 52 125 53.2 123.5 53.5 121.2 53.3 120 52.6 120.8 52 119.5 50.5 117.8 49.5 116.7 49.8 87.8 49.2 87.3 49.1 85.7 48.5 85.5 47.1 83 47.2 82.3 45.5 80 45 80.4 44 80.2 42.9 80.2 42.1 74 40 73 38 72 36 76 33 80 28 90 26 96 26 99 20 104 20 106 20 107.5 21 110 19.5 113 21 118 23 122 28 123 33 123.5 37.5 128 38Z" fill="#1d3461" class="b"/>
<path d="M116.7 49.8 115.5 50 114 50.2 111.5 49.3 108 49.6 106 50.3 102.5 50.5 100 51.7 98.3 52.1 98 50.6 97.3 49.8 94.5 50 92.2 50.8 89.5 49.8 87.8 49.2 88.9 48.1 90.5 47.7 91 46.5 90.5 45.5 93.5 44.9 95.5 44.2 96.5 42.8 100 42.6 101.8 42.5 105 41.6 107 42.2 110.4 42.8 111.9 43.7 111.5 44.4 113.6 44.7 115.5 45.6 116.6 46.6 118 47 119.8 46.8 119.8 47.5 118.5 48 117.4 47.7 115.6 47.9Z" fill="#f6f7f7" class="b"/>
<path d="M124.4 40.1 125.5 40.8 126.9 41.8 128.2 41.4 128.9 42 130.2 42.7 130.6 42.4 131 41.5 129.5 39.5 128.4 38.6 127.5 38.3 126.7 37.9 126 37.7 124 38 124 39.8Z" fill="#ddebf2" class="b"/>
<path d="M128.4 38.6 127.5 38.3 126.7 37.9 126 37.7 125.5 37 125.8 34 127.5 33.8 129.8 35 129.8 37Z" fill="#7bb6d6" class="b"/>
<path d="M-1.8 43.6 -1.5 43.3 0 42.7 1.5 42.5 3.2 42.4 4.5 42 7.5 43.5 7.5 43.8 7 44.2 6.9 45.1 7 45.9 6.1 46.2 6.1 46.6 6.8 47.2 7.6 47.6 7.8 48.5 8.2 49 6.4 49.5 5.8 49.5 4.8 50 4.2 50.3 3 50.8 2.5 51.1 1 51 -6 48.5 -3 44Z" fill="#bddbea" class="b"/>
<path d="M-5.6 36 -7.4 37.2 -7.5 38.2 -7 39 -7.5 39.7 -6.9 40.2 -6.9 41 -6.6 41.9 -8.1 41.8 -8.9 42.1 -10 42 -10 44 -1.8 43.6 -1.5 43.3 0 42.7 1.5 42.5 3.2 42.4 4 41 1 38 -2 36 -5 36Z" fill="#b1d5e7" class="b"/>
<path d="M-8.9 37 -7.4 37.2 -7.5 38.2 -7 39 -7.5 39.7 -6.9 40.2 -6.9 41 -6.6 41.9 -8.1 41.8 -8.9 42.1 -10 42 -10 37Z" fill="#eff3f5" class="b"/>
<path d="M6.1 50.1 6.5 49.8 6.4 49.5 8.2 49 7.8 48.5 7.6 47.6 8.6 47.6 9.6 47.5 10.5 47.5 12.2 47.6 13 47.5 12.8 48.3 13.8 48.7 12.5 49.5 12.1 50.3 14.3 50.9 15 51.1 14.6 52.6 14.4 53.3 14.2 53.9 14 54.8 11 54.6 9.9 54.8 8.6 54.9 8 54.5 7.2 53.6 7.1 53.2 7 52.4 6.8 51.9 5.9 51.8 6.1 51.3 6 50.8 6.2 50.6Z" fill="#d8e9f1" class="b"/>
<path d="M14.2 53.9 14.4 53.3 14.6 52.6 15 51.1 16.3 50.7 17 50.3 18 50 18.5 49.5 19.5 49.5 20.5 49.4 22.5 49.1 22.7 49.6 24.1 50.7 23.6 51.5 23.2 52.3 23.9 53 23.5 54 22.7 54.4 19.6 54.4 19 54.8 16.5 54.8 14.2 54.2Z" fill="#d1e5f0" class="b"/>
<path d="M7.5 43.8 7 44.2 6.9 45.1 7 45.9 7.8 45.9 8.5 46.4 9 45.8 9.5 46.3 10.3 46.5 10.5 46.9 12.2 47 12.4 46.7 13.7 46.5 13.6 45.8 13.6 45.5 14 45 18.8 40.2 18.8 39.5 15 37.8 10 38.5 7.5 43.5Z" fill="#bddbea" class="b"/>
<path d="M2.5 51.1 3 50.8 4.2 50.3 4.8 50 5.8 49.5 6.1 50.1 6.2 50.6 6 50.8 5.9 50.8 5.8 51.2 4.5 51.4 3.4 51.4 3 52Z" fill="#e4eef4" class="b"/>
<path d="M5.8 49.5 6.4 49.5 6.5 49.8 6.1 50.1Z" fill="#f6f7f7" class="b"/>
<path d="M3.4 51.4 4.5 51.4 5.8 51.2 5.9 50.8 6 50.8 6.1 51.3 5.9 51.8 6.8 51.9 7 52.4 7.1 53.2 7.2 53.6 4.5 53.8 3 52Z" fill="#d8e9f1" class="b"/>
<path d="M8.6 54.9 9.9 54.8 10.5 55 11 57 10.6 57.8 8 57.5 7.8 55Z" fill="#f6f7f7" class="b"/>
<path d="M6.1 46.2 7 45.9 7.8 45.9 8.5 46.4 9 45.8 9.5 46.3 10.3 46.5 10.5 46.9 9.6 47.1 9.6 47.5 8.6 47.6 7.6 47.6 6.8 47.2 6.1 46.6Z" fill="#eff3f5" class="b"/>
<path d="M9.6 47.5 9.6 47.1 10.5 46.9 12.2 47 12.4 46.7 13.7 46.5 14.6 46.4 16 46.7 16.1 47 16.5 47.6 17.1 48 16.9 48.6 15 49 13.8 48.7 12.8 48.3 13 47.5 12.2 47.6 10.5 47.5Z" fill="#eff3f5" class="b"/>
<path d="M12.1 50.3 12.5 49.5 13.8 48.7 15 49 16.9 48.6 17.5 48.8 18.5 49.5 18 50 17 50.3 16.3 50.7 15 51.1 14.3 50.9Z" fill="#eff3f5" class="b"/>
<path d="M17.1 48 16.9 48.6 17.5 48.8 18.5 49.5 19.5 49.5 20.5 49.4 22.5 49.1 22.2 48.4 21 48.5 20 48.5 18.8 47.9 17.8 47.8Z" fill="#eff3f5" class="b"/>
<path d="M16.1 47 16.5 47.6 17.1 48 17.8 47.8 18.8 47.9 20 48.5 21 48.5 22.2 48.4 22.9 48 22 47.4 21.2 46.4 20.2 46.1 18.8 45.9 17.3 45.9 16.6 46.5 16 46.7Z" fill="#eff3f5" class="b"/>
<path d="M13.7 46.5 14.6 46.4 16 46.7 16.6 46.5 15.7 46.2 15.6 45.8 15.3 45.5 14.6 45.6 13.6 45.5 13.6 45.8Z" fill="#f6f7f7" class="b"/>
<path d="M13.6 45.5 14.6 45.6 15.3 45.5 15.6 45.8 15.7 46.2 16.6 46.5 17.3 45.9 18.8 45.9 19.4 45.2 19 44.9 17.6 45.1 16.5 45.2 15.8 44.7 16.2 44 17.5 43.1 18.5 42.5 18.4 42.4 17 43 15 44.2 13.5 45Z" fill="#f6f7f7" class="b"/>
<path d="M15.8 44.7 16.5 45.2 17.6 45.1 19 44.9 19.4 44.3 19.5 43.9 19.2 43.5 18.7 43 18.5 42.5 17.5 43.1 16.2 44Z" fill="#f6f7f7" class="b"/>
<path d="M19 44.9 19.4 45.2 18.8 45.9 20.2 46.1 20.7 45.7 21.5 45.2 21.4 44.8 22.5 44.6 22.7 44.2 22.4 43.4 23 43 22.4 42.3 21.5 42.2 20.6 41.9 20.5 42.2 20.1 42.6 20.3 42.9 19.6 43.2 19.2 43.5 19.5 43.9 19.4 44.3Z" fill="#f6f7f7" class="b"/>
<path d="M18.5 42.5 18.7 43 19.2 43.5 19.6 43.2 20.3 42.9 20.1 42.6 19.7 42.6 19.4 41.9 19 41.8 18.4 42.4Z" fill="#f6f7f7" class="b"/>
<path d="M19.4 41.9 19.7 42.6 20.1 42.6 20.5 42.2 20.6 41.9 20.5 41.4 20.9 40.9 21 40.6 20.7 40.1 20 39.7 19 40 19 41.8Z" fill="#f6f7f7" class="b"/>
<path d="M20.6 41.9 21.5 42.2 22.4 42.3 23 41.6 22.9 41.3 22.7 41.1 21.9 41.1 20.9 40.9 20.5 41.4Z" fill="#f6f7f7" class="b"/>
<path d="M20 39.7 20.7 40.1 21 40.6 20.9 40.9 21.9 41.1 22.7 41.1 22.9 41.3 24.5 41.6 25.5 41.3 26.1 41.7 26.6 41.6 26.3 41.2 26 40.8 25.5 39 24 36 21 36.5 19.5 39.5Z" fill="#f6f7f7" class="b"/>
<path d="M22.4 42.3 23 43 22.4 43.4 22.7 44.2 23.5 43.8 25 43.7 26 43.9 27 44.1 28 43.8 28.6 43.7 29.5 43 28.5 42 28 42 27 42.1 26.6 41.6 26.1 41.7 25.5 41.3 24.5 41.6 22.9 41.3 23 41.6Z" fill="#f6f7f7" class="b"/>
<path d="M20.7 45.7 20.2 46.1 21.2 46.4 22 47.4 22.9 48 24.5 47.9 26.6 48.2 27.6 47.3 28.2 46.5 28.2 45.5 29.7 45.2 30 44 28.6 43.7 28 43.8 27 44.1 26 43.9 25 43.7 23.5 43.8 22.7 44.2 22.5 44.6 21.4 44.8 21.5 45.2Z" fill="#eff3f5" class="b"/>
<path d="M26.6 48.2 27.6 48.5 29.1 47.9 29.6 47.3 30.1 46.4 29.3 46.4 28.9 46 28.2 45.5 28.2 46.5 27.6 47.3Z" fill="#f6f7f7" class="b"/>
<path d="M22.2 48.4 22.5 49.1 22.7 49.6 24.1 50.7 23.6 51.5 24.5 51.9 26 51.9 28 51.6 30.5 51.3 31.8 52.1 33.8 52.3 34.4 51.3 35.4 50.6 37.5 50.3 38.2 49.9 40 49.6 40.1 48.3 39.7 47.8 38.2 47.1 37 46 36 45 33.5 44.3 32 45.5 30.5 46 29.7 45.2 28.2 45.5 28.9 46 29.3 46.4 30.1 46.4 29.6 47.3 29.1 47.9 27.6 48.5 26.6 48.2 24.5 47.9 22.9 48Z" fill="#e0ecf3" class="b"/>
<path d="M23.2 52.3 23.6 51.5 24.5 51.9 26 51.9 28 51.6 30.5 51.3 31.8 52.1 32.7 53.3 31.8 53.8 30.8 55.6 28.2 56.2 26.6 55.7 25.6 54.8 25.8 54.2 24.4 53.9 23.5 54 23.9 53Z" fill="#e0ecf3" class="b"/>
<path d="M21 55.2 21.3 55.2 22.9 55 22.7 54.4 23.5 54 24.4 53.9 25.8 54.2 25.6 54.8 26.6 55.7 25 56.2 22.5 56.4 21 56.1 20.5 55.5Z" fill="#f6f7f7" class="b"/>
<path d="M21 56.1 22.5 56.4 25 56.2 26.6 55.7 28.2 56.2 27.7 57.3 27 57.7 25.3 58 24.3 57.9 24.3 57.2 23 57.3 22 57.7 20.5 57Z" fill="#f6f7f7" class="b"/>
<path d="M24.3 57.9 25.3 58 27 57.7 27.7 57.3 27.4 58.5 28 59.5 26 59.9 23 59.6 22.5 58.5 24.1 58.3Z" fill="#f6f7f7" class="b"/>
<path d="M21 60 27.8 60.5 29.5 61.5 31.2 62.5 30 63.8 30.5 64.7 29.7 65.7 30 67.6 28.7 68.9 28.9 69 27 70 25.7 69.5 24.9 68.6 23 68.7 21 69.3 23.5 68 24 66.3 24.5 65.8 24 64.8 21 63 20.5 61Z" fill="#f6f7f7" class="b"/>
<path d="M24.5 65.8 24 66.3 23.5 68 21 69.3 20.5 69.1 18.2 68.5 17.5 68 16.1 67.2 15.5 66.3 14.5 65.8 13.7 64.6 14.1 63.6 12.2 63.4 12.7 62 12.4 61.3 12.8 60.1 11.8 59.8 11.4 59.1 11 58.5 11.5 57 12.5 55.3 14.5 55.2 17 56 19.5 59 19 60.5 17.8 62.5 20 63.8 22 65.3Z" fill="#f6f7f7" class="b"/>
<path d="M11.4 59.1 11.8 59.8 12.8 60.1 12.4 61.3 12.7 62 12.2 63.4 14.1 63.6 13.7 64.6 14.5 65.8 15.5 66.3 16.1 67.2 17.5 68 18.2 68.5 20.5 69.1 21 69.3 23 68.7 24.9 68.6 25.7 69.5 27 70 28.9 69 29.3 69.5 30.8 69.8 32 71.5 20 72 10 66 3 61 5 57.5 9 57.5 10.5 58.5Z" fill="#2b73b3" class="b"/>
<path d="M40 43.4 42 43.3 43.5 42.9 45 42.7 46.5 41.9 46.7 41.3 45.3 41.4 43.5 41.1 42.8 41.6 41.5 41.5 39.5 42.5Z" fill="#f6f7f7" class="b"/>
<path d="M43.5 41.1 45.3 41.4 45.5 40.9 45.6 40.3 46.5 39.5 46.5 38.9 46.1 38.9 45 39.8 43.8 40.1 43.6 40.8Z" fill="#f6f7f7" class="b"/>
<path d="M46.5 41.9 48.6 41.8 50 40.5 49.5 39 48.8 38.4 48 38.8 48.2 39.4 46.5 38.9 46.5 39.5 45.6 40.3 45.5 40.9 45.3 41.4 46.7 41.3Z" fill="#f6f7f7" class="b"/>
<path d="M26 40.8 26.3 41.2 26.6 41.6 27 42.1 28 42 28.5 42 29 41.5 35 42.5 39.5 42.5 41.5 41.5 42.8 41.6 43.5 41.1 43.6 40.8 43.8 40.1 44.8 39.7 44.4 38.3 44.8 37.2 42.4 37.1 41 37.1 38 36.8 36.7 36.8 36.6 36.2 36.2 35.9 35.8 35.8 33 35.8 27 36.5 25.5 39Z" fill="#68abd0" class="b"/>
<path d="M36.2 35.9 36.6 36.2 36.7 36.8 38 36.8 41 37.1 42.4 37.1 41.3 36.4 41.2 34.4 38.8 33.4 36.8 32.3 35.8 32.7 35.8 33.3 36.6 34.2 36 34.6 35.5 35.5Z" fill="#ecf2f5" class="b"/>
<path d="M35.1 33.1 35.8 33.3 36.6 34.2 36 34.6 35 34.6Z" fill="#f6f7f7" class="b"/>
<path d="M34.2 31.3 34.9 29.5 35.4 31 35.5 31.8 35.6 32.7 35.8 32.7 35.8 33.3 35.1 33.1 34 32.5 33.9 31.5Z" fill="#f6f7f7" class="b"/>
<path d="M34.9 29.4 36.5 29.5 38 30.5 37 31.5 39 32.3 39.3 32.2 40.4 31.9 42 31.1 44.7 29.2 46.6 29.1 47.7 28.5 48.5 28.5 49.8 27 50.3 26 50.8 24.8 51.2 24.6 51.6 24.3 52.6 22.9 55.2 22.7 55.7 22 55 20 52 19 49 18.6 47 17 46.3 17.2 44.5 17.4 43.3 17.6 42.8 16.4 41 17 37.5 21.5 35.5 27.5 35.3 28.2 35 29.3Z" fill="#d1e5f0" class="b"/>
<path d="M34.9 29.5 36.5 29.5 38 30.5 37 31.5 39 32.3 39.3 32.2 38.8 33.4 36.8 32.3 35.8 32.7 35.6 32.7 35.5 31.8 35.4 31Z" fill="#f6f7f7" class="b"/>
<path d="M42.4 37.1 44.8 37.2 45.5 35.8 46 35.1 45.5 34 46.5 33 47.5 32.5 47.9 31 48.5 30.5 48.6 29.9 48.1 30 47.7 30.1 46.6 29.1 44.7 29.2 42 31.1 40.4 31.9 39.3 32.2 38.8 33.4 41.2 34.4 41.3 36.4Z" fill="#e0ecf3" class="b"/>
<path d="M46.6 29.1 47.7 30.1 48.1 30 48.6 29.9 48.5 28.5 47.7 28.5Z" fill="#f6f7f7" class="b"/>
<path d="M50.8 24.8 51.2 24.6 51.6 24.6 51.7 26.2 51 26.2Z" fill="#f6f7f7" class="b"/>
<path d="M51.6 24.3 52.6 22.9 55.2 22.7 55.7 22 55.9 24.2 56.3 24.9 56.1 26.1 55 25.8 52 24.8Z" fill="#f6f7f7" class="b"/>
<path d="M55.7 22 55.9 24.2 56.3 24.9 57 24 58.6 23.6 60 22.5 59 20 57 18 55 16.8 53.1 16.6 52 19 55 20Z" fill="#f6f7f7" class="b"/>
<path d="M52 19 53.1 16.6 53 15 49 13.5 45.5 12.5 43.6 12.6 42.5 14.5 42.5 16.2 42.8 16.4 43.3 17.6 44.5 17.4 46.3 17.2 47 17 49 18.6Z" fill="#f6f7f7" class="b"/>
<path d="M44.8 39.7 44.4 38.3 44.8 37.2 45.5 35.8 46 35.1 45.5 34 46.5 33 47.5 32.5 47.9 31 48.5 30.5 48.6 29.9 50 29.5 52 27.2 54 26.3 56.2 26.9 57 25.6 59 25.2 61.6 25.1 61.8 26.2 63.2 26.6 63.3 27.2 62.8 28.3 61.9 28.6 60.9 29.8 61.7 31.3 60.9 31.5 60.6 33.3 60.9 34.3 61.2 35.6 60.4 36.6 59.2 37.4 57.3 38 55.5 37.9 54.2 37.3 53.9 37.3 51.5 37.2 49 38.3 48.8 38.4 48 38.8 48.2 39.4 46.5 38.9 46.1 38.9 45 39.8Z" fill="#4997c5" class="b"/>
<path d="M53.9 37.3 54.2 37.3 55.5 37.9 57.3 38 59.2 37.4 60.4 36.6 61.2 35.6 62.3 35.3 63.1 35.9 64.5 36.3 65.6 37.3 66.5 37.4 66.6 38 64.5 39.5 62.4 40.3 61 41.2 60 42 58.6 42.7 57.8 42.2 56 41.3 55.5 41.3 54.2 42.4 52.4 41.7 52.8 40 53 38Z" fill="#f6f7f7" class="b"/>
<path d="M56 41.3 57.8 42.2 58.6 42.7 60 42 61 41.2 62.4 40.3 64.5 39.5 66.6 38 66.5 37.4 67.8 37.2 68.4 38.2 67.7 39 68.6 39.5 70.5 39.6 71 40.3 73.1 40.9 71.8 41.4 70.5 41.5 71 42.3 70 42.6 69.1 41.4 68.5 40.7 67.9 41.1 66.7 41.2 66 42 66 43 65 43.7 64 43.6 62 43.5 61 44.4 58.5 45.6 56 45Z" fill="#e0ecf3" class="b"/>
<path d="M80.2 42.9 79 42.8 76 43 74.5 42.9 73.5 42.5 71.8 42.8 71 42.3 70.5 41.5 71.8 41.4 73.1 40.9 71 40.3 70.5 39.6 72 39.4 73.6 39.5 75.5 40.6 76.8 41 78.3 41.4 80.2 42.1Z" fill="#f6f7f7" class="b"/>
<path d="M67.8 37.2 68.4 38.2 67.7 39 68.6 39.5 70.5 39.6 72 39.4 73.6 39.5 74.9 38.5 74.9 37.2 72.6 37 71.3 37.1 71.5 37.9 70.2 37.6 68.9 37.3Z" fill="#f6f7f7" class="b"/>
<path d="M61.2 35.6 60.9 34.3 60.6 33.3 60.9 31.5 61.7 31.3 60.9 29.8 62.5 29.4 64 29.5 66.3 29.9 66.6 31 68 31.8 69.3 31.9 70 33 69.5 33.8 70.9 34 71.2 34.7 71.6 35.4 71.5 36 72.5 36.8 74.5 37 74.9 37.2 72.6 37 71.3 37.1 71.5 37.9 70.2 37.6 68.9 37.3 67.8 37.2 66.5 37.4 65.6 37.3 64.5 36.3 63.1 35.9 62.3 35.3Z" fill="#f6f7f7" class="b"/>
<path d="M68.2 23.7 68.7 24.3 69.5 24.3 70.2 25.5 69.5 26.6 70.5 27.8 72 28 73.4 29.9 74 30 74.5 31 75.3 32.3 74.6 32.9 74 34.5 76 35 77.8 35.5 78.7 34.6 79.5 33 78.5 32.5 79 31.4 81 30.2 82.5 29.7 84.2 29 85.6 28.3 86.9 28 88.1 27.9 88.2 27.9 88.8 28 88.9 27.3 89.5 28.2 90.5 28.1 91.7 27.8 92.5 27.8 94 28.8 95.4 29.1 96.4 29.2 97.3 28.2 96.2 27.3 95.1 26.4 94.6 25.2 94.1 23.9 93.3 24.1 93.2 22.3 92.6 22 92.3 21 89 21 85 18 80 12 77 7 75 10 70 20 68 22.5Z" fill="#1c3e70" class="b"/>
<path d="M61.6 25.1 61.8 26.2 63.2 26.6 63.3 27.2 62.8 28.3 61.9 28.6 60.9 29.8 62.5 29.4 64 29.5 66.3 29.9 66.6 31 68 31.8 69.3 31.9 70 33 69.5 33.8 70.9 34 71.2 34.7 71.6 35.4 71.5 36 72.5 36.8 74.5 37 75.5 36.8 77 35.8 77.8 35.5 76 35 74 34.5 74.6 32.9 75.3 32.3 74.5 31 74 30 73.4 29.9 72 28 70.5 27.8 69.5 26.6 70.2 25.5 69.5 24.3 68.7 24.3 68.2 23.7 66 24 61.5 24.8Z" fill="#7bb6d6" class="b"/>
<path d="M80.1 28.8 81 30.2 82.5 29.7 84.2 29 85.6 28.3 86.9 28 88.1 27.9 88.1 26.4 86 26.6 84.6 27.3 83.3 27.4 81 28.4Z" fill="#d1e5f0" class="b"/>
<path d="M88.9 27.3 89.8 26.7 92 26.9 91.7 27.8 90.5 28.1 89.5 28.2Z" fill="#f6f7f7" class="b"/>
<path d="M92.6 22 92.3 23.7 91.8 24.2 92.4 25 90 25.3 89.8 26 88.5 26.5 88.2 25.2 89 24.3 88.7 23.3 89.1 21.5 92.2 20.7 92.6 21.3Z" fill="#2b73b3" class="b"/>
<path d="M97.3 28.2 98.5 27.6 98.7 26 97.7 24.8 98.5 24 99.5 22.1 101.2 21.4 100.1 20.4 98.9 19.8 97.8 18.6 97.5 17.8 98.9 16.4 98.2 15.1 99.2 13.2 99.1 11.5 98.5 10 97.5 10 94.5 15 93 19 92.2 20.7 92.6 21.3 92.6 22 93.2 22.3 93.3 24.1 94.1 23.9 94.6 25.2 95.1 26.4 96.2 27.3Z" fill="#f6f7f7" class="b"/>
<path d="M100.1 20.4 98.9 19.8 97.8 18.6 97.5 17.8 98.9 16.4 98.2 15.1 99.2 13.2 99.1 11.5 98.5 10 98 8 99.5 6.5 100.1 6.5 101 5.9 101.8 5.8 102.1 6.2 102.5 7 101 8.5 100 10 100.5 12.5 101.5 12.5 102.9 11.7 102.5 12.6 102.8 13.5 103.6 14.4 105.2 14.3 105.6 15.7 104.8 16.5 104.7 17.4 103 18 102.1 18.2 101.1 17.5 101.3 19.6 100.5 19.5Z" fill="#2b73b3" class="b"/>
<path d="M101.2 21.4 101.7 22.4 102.1 22.4 102.9 21.7 103 20.8 104.1 20.9 104.6 20.6 104.4 19.7 105.1 19 105.9 18.3 106.7 17 107.4 16 107.6 15.3 107.6 14.6 106.5 14.6 105.6 14 105.2 14.3 105.6 15.7 104.8 16.5 104.7 17.4 103 18 102.1 18.2 101.1 17.5 101.3 19.6 100.5 19.5 100.1 20.4Z" fill="#9dcbe1" class="b"/>
<path d="M102.9 11.7 102.5 12.6 102.8 13.5 103.6 14.4 105.2 14.3 105.6 14 106.5 14.6 107.6 14.6 107.5 13 106.4 11.9 105.8 11 104.5 10.4 103.5 10 102.5 11Z" fill="#81bad8" class="b"/>
<path d="M102.1 22.4 103 22.6 104 22.8 105.3 23.3 106.7 22.8 106.6 22.3 107.8 21.6 108.5 21 107 19.5 108 17 110 13 109.5 10.5 106.5 8 104.5 8.3 104.5 10.4 105.8 11 106.4 11.9 107.5 13 107.6 14.6 107.6 15.3 107.4 16 106.7 17 105.9 18.3 105.1 19 104.4 19.7 104.6 20.6 104.1 20.9 103 20.8 102.9 21.7Z" fill="#276eb0" class="b"/>
<path d="M100.1 6.5 101 5.9 101.8 5.8 102.1 6.2 104 5 104.5 1.5 103.5 1.2 101 2.5 99.8 5.5Z" fill="#4393c3" class="b"/>
<path d="M113.5 -22.5 114.2 -21.8 116.7 -20.6 118.8 -20.3 121 -19.5 122.3 -17.5 123.5 -17.3 124.8 -15.8 126 -14.3 127.8 -14.3 129.5 -14.9 130 -13.3 131 -12.2 132.6 -11.6 133.6 -11.8 135 -12.2 136.8 -12.2 136.5 -13.2 135.6 -14.6 137 -15.8 139.3 -17.4 140.8 -17.4 141.5 -15 141.6 -13 142.3 -10.8 142.5 -10.7 143.3 -12 143.6 -14 145.3 -15 145.9 -17 146.3 -19 148.7 -20.5 150 -22.2 151.1 -23.5 153 -25.3 153.6 -28.5 153.1 -30.8 152.4 -32.5 151.3 -33.8 150.1 -36.2 149.9 -37.5 147.9 -37.9 146.3 -39.1 144.9 -37.9 143.5 -38.8 141 -38 139.6 -37.2 139.7 -36 138.1 -35.6 138.5 -34.5 137.8 -32.7 137.5 -34 136.9 -35.3 135.9 -34.8 135.2 -34.5 134.3 -33.2 132 -32 129.5 -31.6 127 -32.3 124 -33 123.5 -33.9 120 -33.9 118 -35 116.5 -35 115 -34.3 115.7 -33.3 115.7 -31.6 115 -29.5 114.2 -28 113.5 -26.5 113.9 -25.5 113.4 -24.4Z" fill="#b1d5e7"/>
</g>
<path d="M-168.1 65.6 -166.5 66.2 -164.5 66.6 -163.7 66.1 -161.8 66.3 -163.8 67.2 -165.5 67.9 -166.8 68.3 -165.5 68.9 -163.5 69.4 -161.9 70.3 -158 70.9 -156.5 71.3 -154.5 70.9 -152.3 70.9 -150 70.5 -146 70.2 -143 70.1 -141 69.7 -139 69.5 -137 69 -135 69.5 -133 69.6 -130 70.1 -128 70.5 -125 69.6 -123.5 69.4 -120 69.3 -117 68.8 -115 67.9 -112 67.8 -109 68 -106 68.6 -104 68.3 -101 67.8 -98 68 -96 68.2 -94.5 69.5 -95.5 71.5 -94.5 72 -92 71 -90 69.5 -88 68.5 -85.5 69.8 -82.5 69.5 -81.3 68.6 -82.5 67 -85 66.3 -86.8 65.5 -88 64.5 -90.5 63.9 -90.7 63.3 -93 62 -94.3 60.5 -94.5 59 -92.5 57.3 -90 57 -88 56.1 -85 55.3 -82.5 55.1 -82.3 53 -81 52 -79.7 51.4 -78.9 52.5 -79 54.3 -77 55.5 -76.5 57 -77.2 58.5 -77.8 60.1 -77.5 62.2 -75 62.3 -72.5 61.8 -70 61.1 -69.5 59 -68 58.5 -67.5 58.3 -66 58.8 -64.5 60.3 -63 58.5 -61.5 56.5 -60 55.2 -58 54.3 -56 53.3 -55.7 52.2 -57.3 51.5 -60 50.3 -63.5 50.2 -66.5 50.2 -68.5 49.3 -70.5 47.5 -71.2 46.8 -70 47.2 -68.5 48.5 -66 49.2 -64.2 48.9 -64.8 47.8 -65 47.1 -64.6 46.3 -63 45.7 -61.5 45.7 -60.3 46.9 -60 46.2 -61 45.3 -63.5 44.6 -65.5 43.5 -66.2 44.4 -64.5 45.3 -66.5 45.2 -67 44.8 -68.5 44.3 -70.2 43.6 -70.8 42.5 -70 41.8 -70.6 41.5 -71.5 41.4 -73 41.1 -74 40.6 -74 39.6 -74.9 38.9 -75.1 38.4 -75.9 37.4 -76.3 36.9 -75.5 35.6 -75.7 35.2 -76.7 34.7 -77.9 33.9 -79.2 33.2 -80.5 32.4 -81.3 31.5 -81.4 30.2 -80.6 28.5 -80.1 26.6 -80.4 25.3 -81.1 25.1 -81.8 26.3 -82.7 27.7 -82.8 29 -83.7 29.9 -84.5 30 -85.3 29.7 -86.5 30.4 -88 30.4 -89.5 30.2 -89.2 29.1 -90.5 29.1 -92 29.6 -93.8 29.7 -95 29.2 -96.6 28.1 -97.3 27.1 -97.2 25.9 -97.6 24.5 -97.7 22.5 -97.3 21.2 -96.4 19.5 -95 18.6 -94 18.2 -92.5 18.6 -91.4 18.7 -90.6 19.6 -90.4 20.9 -88.5 21.5 -87 21.5 -87.5 20.3 -87.8 18.5 -88.3 17.6 -88.3 16.3 -88.8 15.8 -87.5 15.8 -85 15.9 -83.4 15.2 -83.2 14.3 -83.6 12.8 -83.7 11.5 -83.3 10.6 -82.5 9.6 -81.5 8.8 -80 9.3 -78.5 9.4 -77.4 8.6 -76.8 8.6 -75.5 10.4 -74.8 11 -73.5 11.3 -72 12.4 -71.3 11.8 -71.9 11 -71.6 10.4 -71 11 -70.2 11.6 -70 12.2 -69.5 11.5 -68 10.6 -66.2 10.6 -64 10.7 -62.8 10.6 -61.9 10.1 -61.2 9 -60.7 8.5 -59.8 8.3 -58.5 7.2 -57.5 6.2 -55.5 5.9 -54 5.7 -52.5 5.1 -51.6 4.2 -51 3.2 -50 1.8 -50.5 0.2 -49 -0.5 -48.5 -1.2 -47 -0.8 -44.5 -2.5 -42 -2.8 -40 -2.8 -38.5 -3.7 -37.2 -4.9 -35.3 -5.2 -34.8 -7.5 -35.2 -9.2 -36.5 -10.6 -37.5 -12 -38.5 -13 -39 -14.5 -39 -17.5 -39.7 -19.5 -40.8 -21.8 -42 -23 -44.5 -23.3 -46.5 -24 -48 -25.5 -48.6 -27.5 -49.5 -29 -51 -31 -52.5 -33 -53.5 -34.2 -54.9 -34.9 -56.5 -34.8 -57.8 -34.4 -58.4 -34 -58.5 -34.5 -57.2 -35.7 -56.7 -36.4 -57.5 -38 -59 -38.7 -62 -38.9 -62.3 -40.5 -65 -41 -64.5 -42.3 -63.8 -42.6 -65 -43 -65.2 -44.5 -67 -45.5 -67.5 -46.5 -65.8 -47.5 -67.7 -49.5 -69 -50.5 -68.4 -52.3 -70 -52.8 -71 -53.8 -72 -54 -74.5 -52.5 -75.3 -50 -74.8 -48 -75.5 -46.5 -74 -44 -73.5 -42 -73.8 -40 -73.5 -37.5 -72.6 -35.5 -71.6 -33 -71.4 -30 -70.9 -27 -70.4 -23.5 -70.1 -20.5 -70.3 -18.4 -71.5 -17.3 -73.3 -16.3 -75.2 -15.2 -76.3 -13.8 -77.2 -12 -78.5 -9.5 -79.6 -7.2 -81.2 -6 -81.3 -4.3 -80.3 -3.4 -80 -2.5 -80.9 -2.2 -80.4 -0.5 -80 0.8 -79 1.6 -78.8 2.6 -77.5 3.8 -77.4 6.5 -77.9 7.2 -78.5 8.2 -79.6 8.9 -80.3 8.3 -80.5 7.3 -81.5 7.7 -82.9 8.1 -83.6 8.6 -85 9.8 -85.7 10.3 -85.8 11.2 -87 12.4 -87.7 13 -88.5 13.2 -89.8 13.5 -91.3 13.9 -92.3 14.5 -93.5 15.7 -94.7 16.2 -96.5 15.7 -98.5 16.3 -100.8 17.2 -102 17.9 -103.5 18.3 -104.9 19.3 -105.6 20.4 -105.3 21.5 -105.7 22.5 -106.6 23.5 -107.8 24.7 -109 25.6 -109.4 26.7 -110.6 27.8 -111.8 28.9 -112.9 30.5 -114.2 31.5 -114.8 31.8 -114.7 30.7 -114.2 29.8 -113 28.8 -112.3 27.5 -111.6 26.5 -110.8 24.8 -110 23.9 -109.5 23.2 -110.1 22.9 -111.3 24.3 -112.2 25.1 -112.8 26.5 -114.2 27.6 -115 27.8 -114.4 28.6 -115.7 29.8 -116.7 31.4 -117.1 32.5 -117.4 33.2 -118.4 33.8 -119.2 34.1 -120.6 34.5 -120.9 35.4 -121.9 36.5 -122.4 37.2 -122.5 37.8 -123 38.2 -123.7 39 -124.2 40.3 -124.1 41.5 -124.5 42.8 -124 44.5 -123.9 46.2 -124.7 48.4 -123.5 48.2 -122.6 47.3 -122.8 49 -123.8 49.7 -125 50.3 -127 51.3 -127.8 52.3 -129.3 53.6 -130.3 54.7 -130.6 55.9 -131.5 56 -132.3 57 -134 58.4 -135.7 59.3 -136.5 58.4 -138.5 59.1 -139.8 59.6 -141.5 60 -143.9 60 -146.5 60.6 -148.5 60.3 -149.7 59.7 -151.5 59.2 -151.5 60.7 -150.3 61.2 -151.7 60.9 -153.3 59.5 -154.2 58.5 -156 57.6 -157.9 56.6 -159.5 55.7 -161.5 55.3 -162.8 54.9 -164.7 54.5 -163.3 55.1 -161.3 55.9 -159.5 56.5 -158.3 57.6 -157.3 58.8 -158.6 58.8 -160.5 58.7 -162.2 59.9 -163.8 60.3 -165.2 60.6 -165.5 61.7 -164.6 63.1 -162.3 63.5 -161.1 64.4 -162.8 64.5 -164.7 64.5 -166.4 64.7 -167.5 65.4ZM-5.6 36 -6.3 36.5 -7.4 37.2 -8.9 37 -8.8 38.3 -9.5 38.8 -9 40 -8.8 41.9 -9.3 43 -8 43.7 -5.8 43.6 -3.8 43.4 -1.8 43.4 -1.4 44.5 -1.2 46.2 -2.2 47.2 -4.5 47.9 -4.8 48.4 -3 48.8 -1.6 48.6 -1.9 49.7 -1.2 49.4 0.2 49.7 1.5 50.3 2.5 51.1 3.5 51.5 4.2 52 4.8 53 6 53.5 7.2 53.3 8.5 53.6 8.8 54.3 8.6 55.5 8.2 56.7 10.6 57.7 10.3 56.5 10.9 56.3 10 55.5 9.6 54.9 10.5 54.4 11.3 53.9 13 54.4 14.2 53.9 16.5 54.5 18.5 54.8 19.5 54.4 21 55.2 21 56.5 21.5 57.5 22.5 57.7 24.3 57.2 24.1 58.3 23.5 59.2 25 59.5 28 59.5 30 60 29 60.5 26.5 60.4 23 59.9 21.5 60.6 21.5 61.8 22 63 24.5 64.8 25.5 65.3 24.5 65.8 22 65.6 21.2 64.5 19.5 63.5 18 62.5 17.3 61 18.5 60.2 18.8 59.5 16.5 57.8 16.5 56.5 14.5 55.8 13 55.4 12.5 56.5 11.5 58.5 11 59 10.5 59.9 9.5 59 7.5 58 6 58.3 5.5 59.3 5 60.5 5 62 6.5 62.8 8.5 63.5 10.5 64.5 12.5 66 14 67.5 16 68.8 18.5 69.8 21 70.2 24 71 26 71 28.5 70.9 31 70.3 33 69.4 36 69.1 40 67.8 41.2 66.7 39.5 66.1 38 66 35 64.3 37 63.9 40 64.6 43.5 66.1 44.2 68.1 46 68 47 67.6 53 68.5 54 68.3 58 68.8 60 69.8 64 69.3 67 68.6 68.5 68.3 69.5 72.5 72 72.8 72.7 71.5 73 69.5 73.8 67 75 68.2 75 71 77 72.3 78.5 72.4 80.5 73.5 86.5 73.8 86 74.8 90 75.5 95 76 100 76.5 104 77.7 107 76.5 111 76.7 113.5 75.7 112 74 118 73.5 123 73 127 73.6 129 72 132 71.5 136 71.6 140 72.5 145 72.3 150 71.5 153 70.9 157 71 160 70.7 162 69.6 165 69.6 168 69.9 170.5 70.1 173 69.8 176 69.8 178.5 69.2 180 68.9 180 65 178.6 64.5 177 62.6 173.5 61.7 170.3 60 166 60 163.5 59.8 163 58 162.5 56.5 161.8 55 160 53.2 158.5 52.9 156.7 51 155.8 53.5 155.5 56 156.7 57.7 158.4 58 160 59.5 161.8 60.3 163.7 61.8 162.2 61.5 160.3 61.9 159.2 61.7 156.7 61.5 154 59.2 151.2 58.8 149 59.4 145 59.4 142 59 140.5 57.8 138 56.5 135 54.7 137.2 54 139 54.1 141.2 53.2 140.6 51.5 140.1 48.5 138.5 47 136 44 133 42.8 131 42.6 130 42 129.5 40.8 128.5 39.7 127.5 39.4 128.5 38.3 129.4 36.5 129.3 35.2 128 34.8 126.5 34.4 126.3 35.5 126.7 37 126.3 37.8 125 37.8 125.2 38.6 124.7 39.6 122 39.2 121.2 38.8 121.5 40 121.9 40.9 120.5 40.2 119.5 39.7 118 39.2 117.6 38.6 118.5 37.5 119.2 37.1 120.7 37.7 122.5 37.2 120.7 36.3 119.3 35 120.5 33.2 121.8 31.7 121.9 30.8 121.5 29.5 120.7 28 119.6 26 118.5 24.6 117 23.5 115 22.7 113.5 22.2 111.5 21.5 110 20.5 109.8 21.5 108.5 21.6 107 20.8 106 19.5 105.7 18.5 106.6 17.3 108.3 16 109 14 109.3 12 108.5 11 107 10.5 106.5 9.5 105 8.6 104.8 10.2 103.5 10.5 102.6 12.1 101 12.7 100.1 13.4 99.9 12 99.2 10 100.3 8.5 101 6.9 102.2 6.2 103.4 4.5 103.4 2.7 104.2 1.4 103.5 1.3 101.3 2.9 100.3 5.3 100 6.5 98.5 8.2 98.5 10 98.6 12 97.8 14.5 97.6 16.5 96.4 16.9 95 15.8 94.3 16.2 94.5 18 93.5 19.5 92.3 20.7 92 21.5 91.5 22.6 90.5 22.2 89.1 21.9 87 21.5 86.8 20.3 85 19.3 83.5 17.8 82.2 16.6 80.2 15.5 80.3 13.2 79.8 11.5 79.3 10.3 78.2 8.9 77.5 8.1 76.5 9 75.8 11.2 74.8 12.9 74 15 73.3 17.5 72.8 19.5 72.6 21.3 72.5 22.4 71 21 69.2 22.4 70.3 22.9 68.5 23.5 67.3 24.5 66.6 25.4 64.5 25.2 61.6 25.2 59.5 25.4 57.3 25.8 56.8 27.1 56 27 54 26.7 52 27.7 50.8 28.9 50 30 48.6 29.9 48 29.5 48.5 28.5 49.5 27 50.2 26 50.8 24.8 51.5 25.8 51.6 24.6 52.5 24.2 54.5 24.3 56 25.7 56.4 26.4 56.3 24.9 57 24 58.6 23.6 59.8 22.5 58.5 20.5 57.8 19 56.7 18.2 55 17 53 16.6 52 15.7 49 14.2 45.5 13 43.5 12.7 43 14.5 42.6 16 41.5 17.8 40 19.9 39 21.5 38.5 23.5 37.2 25.2 36 26.8 35.2 28 34.9 29.5 34.2 31.3 34.5 31.6 34.9 32.8 35.5 34 35.9 35.3 36 36 36.2 36.6 35.5 36.6 34 36.3 32.5 36.1 30.6 36.7 29.5 36.2 28 36.8 27.3 37.5 26.5 38.5 26.2 39.5 26.5 40.3 26 40.8 24.5 40.9 23.5 40.3 22.6 40.3 22.9 39.3 23.3 38.2 22.7 37.5 23.1 36.5 22.5 36.4 21.7 36.9 21.1 37.8 21.5 38.3 20.7 38.9 20 39.7 19.4 40.3 19.5 41.8 18.5 42.4 17 43.2 15.9 43.6 15 44.5 14.3 45.3 13.6 45.6 12.4 45.4 12.3 44.5 13.5 43.6 14.3 42.4 16 41.9 15.9 41.5 17.5 40.8 18.5 40.1 17 40.5 16.5 39.7 17.2 39 16.1 38 15.6 38 15.7 39.5 14.8 40.3 14 40.9 12.5 41.6 11.2 42.4 10.5 43 10.2 43.9 8.9 44.4 7.5 43.8 6.5 43.1 5 43.4 4 43.5 3.1 43 3.2 42.4 3.2 41.9 1.2 41.1 0.5 40.5 -0.3 39.5 0.2 38.8 -0.7 37.6 -2.1 36.7 -4.4 36.7ZM34.2 31.3 32.3 31.3 31 31.6 29.9 31.3 28 31 25 31.6 23 32.6 21 32.8 20 31.5 19.5 30.3 17.5 31 15.5 31.8 13.5 32.8 11.5 33.1 10.5 33.6 10.8 35.2 11 37 10 37.3 8.5 36.9 5.5 36.7 3 36.8 0 35.9 -2 35.1 -5.3 35.9 -6.2 35.5 -6.8 34 -8.5 33.2 -9.3 32.5 -9.8 30.5 -11 28.5 -13.2 27.7 -8.7 27.7 -8.7 26 -12 26 -12 23.5 -13.1 22.8 -13 21.3 -17.1 21.3 -16.5 19.5 -16.2 18 -16.5 16.5 -17.5 14.7 -16.7 13.8 -16.7 12.4 -16.5 11.5 -15 10.8 -13.3 9.6 -12.5 7.8 -11 6.8 -9 5.2 -7.5 4.4 -5 5.1 -3 5.1 -1.5 5 0.5 5.8 1.8 6.2 3.5 6.4 5 5.8 6 4.3 7.5 4.5 8.5 4.6 9.3 3.9 9.8 2.5 9.5 1 9.3 0 8.8 -0.8 9.5 -2.5 11 -3.8 11.8 -4.7 12.2 -6 13 -8.5 13.8 -10.8 13.5 -12.5 12.5 -13.9 11.8 -15.8 11.8 -17.2 12.5 -18.5 13.5 -20.5 14.5 -22.6 14.9 -25 15.3 -27 16.5 -28.6 17.3 -30.5 18.2 -32.5 18.3 -34 18.9 -34.4 20 -34.8 22 -34.1 24 -34.1 25.6 -33.9 27 -33.5 28.5 -32.3 30 -31.3 31 -29.6 32.4 -28.5 32.9 -26.5 32.8 -25.8 35.3 -24.5 35.5 -22.1 34.8 -20 36.3 -18.8 38.5 -17.2 40.2 -16 40.6 -14.5 40.5 -11 39.7 -10 39.3 -8 38.9 -6.5 39.2 -5 40.2 -3 41 -2 41.6 -1.6 42.5 -0.5 44 1 46 2.5 48 4.5 49.2 6.5 50.5 9 51.2 10.5 51.3 11.8 50 11.4 48 11.1 45.5 10.5 43.5 11.4 43.2 11.5 42.6 12.6 41.5 13.9 40 15.3 39.2 16.5 38.5 17.8 37.4 18.8 37.2 21 36.8 22 35.6 23.9 34.6 25.8 33.6 27.5 32.6 29.7 32.5 29.9 33.5 28.5 34.3 27.8 34.7 29 34.9 29.5ZM113.5 -22.5 114.2 -21.8 116.7 -20.6 118.8 -20.3 121 -19.5 122.3 -17.5 123.5 -17.3 124.8 -15.8 126 -14.3 127.8 -14.3 129.5 -14.9 130 -13.3 131 -12.2 132.6 -11.6 133.6 -11.8 135 -12.2 136.8 -12.2 136.5 -13.2 135.6 -14.6 137 -15.8 139.3 -17.4 140.8 -17.4 141.5 -15 141.6 -13 142.3 -10.8 142.5 -10.7 143.3 -12 143.6 -14 145.3 -15 145.9 -17 146.3 -19 148.7 -20.5 150 -22.2 151.1 -23.5 153 -25.3 153.6 -28.5 153.1 -30.8 152.4 -32.5 151.3 -33.8 150.1 -36.2 149.9 -37.5 147.9 -37.9 146.3 -39.1 144.9 -37.9 143.5 -38.8 141 -38 139.6 -37.2 139.7 -36 138.1 -35.6 138.5 -34.5 137.8 -32.7 137.5 -34 136.9 -35.3 135.9 -34.8 135.2 -34.5 134.3 -33.2 132 -32 129.5 -31.6 127 -32.3 124 -33 123.5 -33.9 120 -33.9 118 -35 116.5 -35 115 -34.3 115.7 -33.3 115.7 -31.6 115 -29.5 114.2 -28 113.5 -26.5 113.9 -25.5 113.4 -24.4Z" fill="none" class="c"/>
<path d="M28 41.3 28.6 43.4 29.6 45.2 30.8 46.5 32 46.3 33 45.7 32.5 45.3 33.5 44.5 35 44.8 35.5 45.3 34.8 46.2 35.5 46.5 37.5 47.1 39.2 47.2 38.2 46.4 37.8 45.6 36.7 45.2 37.5 44.7 39 44.3 41.5 41.5 39.5 41 36.5 41.3 35 42 33 42 31 41.1 29.2 41.2Z" fill="#fff" class="c"/>
<path d="M47 45.5 49.5 46.6 51.5 47 53 46.5 53 45.3 51.3 44.5 50.5 44 51.5 43 52.7 42 52.9 41 53.8 40.5 53 39.5 53.9 37.3 51.5 36.8 50 37.4 49 38.3 49.5 40.3 48 41.8 47.5 43 47.3 44.3 46.8 44.8Z" fill="#fff" class="c"/>
<path d="M-73.3 78.2 -72 78.8 -66 80.2 -61 81.9 -51 82.3 -40 83.4 -30 83.6 -22 82.5 -12 81.6 -11.5 81.3 -18 80 -17.5 77.5 -19 75 -21.5 72.5 -22 70.5 -23 70.2 -26 68.5 -32 68.2 -34.5 66.5 -39 65.5 -40.5 64.5 -41.5 62.5 -43 60.5 -44 59.8 -46.5 60.6 -48.5 61.5 -50.5 63.5 -52 65 -53.5 66.5 -53.5 68.5 -51 69.3 -54 70.5 -52.5 71.5 -55.5 72.5 -57.5 74.5 -59 75.8 -65 76.1 -70 76.9Z" fill="#f6f7f7" class="c"/>
<path d="M-22 63.8 -22.7 64 -24 64.9 -22.4 65.4 -24.4 65.6 -22.8 66.4 -21.5 65.6 -20.4 66.1 -18.8 66.2 -16.2 66.5 -14.6 66.3 -15 65.7 -13.6 65.1 -14.8 64.3 -16.5 63.8 -18.7 63.4 -20.5 63.7Z" fill="#f6f7f7" class="c"/>
<path d="M-64.5 62.3 -66 61.9 -68 62.2 -70.5 62.7 -72 63.5 -74 64.3 -76.5 64.2 -78 64.5 -77.5 65.3 -74 65.5 -73.5 66.5 -73.5 67.3 -75.5 68.3 -77 68.5 -77.5 69.5 -79 69.8 -82 69.6 -85 69.9 -87.5 70.3 -89 71 -90 72.5 -88.5 73.5 -85 73.6 -80 73.6 -77 72.6 -74 71.5 -71 70.8 -68 70.3 -66.5 69 -64.5 67.8 -62 66.8 -61.5 66.5 -63.5 65.5 -64.5 64.6 -65.5 63.8 -64.5 63.2 -65 62.7Z" fill="#90c4dd" class="c hh"/>
<path d="M-119 71.3 -117.5 72.5 -114.5 73.3 -111 72.9 -108 73.2 -105 72.8 -104.5 71.5 -102 70.8 -101 69.8 -103 69.2 -106 69.2 -108.5 68.8 -111.5 68.6 -114 69 -117 69.2 -118.8 69.8 -116 70.3 -117.5 70.8Z" fill="#90c4dd" class="c hh"/>
<path d="M-125.5 71.9 -124.5 73.5 -120.5 74.4 -115.5 73.5 -117.5 72.3 -120 71.5 -123 71.1Z" fill="#90c4dd" class="c hh"/>
<path d="M-117 75.8 -114.5 76.5 -110 76.8 -106 76 -106.5 75.2 -110 74.8 -113.5 74.5 -117 74.9Z" fill="#000000" class="c hh"/>
<path d="M-122.5 76.3 -119 77.4 -116 76.8 -119 75.9Z" fill="#000000" class="c hh"/>
<path d="M-101 76.3 -98 76.3 -97.5 75 -100.5 74.8Z" fill="#000000" class="c hh"/>
<path d="M-96.5 75.5 -93 75.6 -93.5 74.7 -96.5 74.9Z" fill="#000000" class="c hh"/>
<path d="M-96 75.8 -93 76.8 -88 76.5 -83 76.7 -79.5 75.5 -82 74.6 -88 74.5 -92 74.9Z" fill="#90c4dd" class="c hh"/>
<path d="M-89.5 77.2 -88 78.8 -86 79.5 -85 80.5 -80 81.5 -73 82.5 -63 82.9 -61 82.4 -65 81.5 -69 80.5 -71 79.8 -74 79 -76 78.3 -78 77.6 -80 76.3 -84 76.3Z" fill="#90c4dd" class="c hh"/>
<path d="M-96.5 80 -92 81.3 -89 80.8 -87.5 79.8 -89 78.6 -92 78.2 -95 78.8Z" fill="#000000" class="c hh"/>
<path d="M-104 78.5 -100 78.9 -99 78 -101.5 77.7Z" fill="#000000" class="c hh"/>
<path d="M-98 78.5 -96 78.7 -95.5 77.9 -97.5 77.8Z" fill="#000000" class="c hh"/>
<path d="M-101.5 73.5 -98 74 -96.5 72.8 -98 71.4 -100.5 72.2Z" fill="#90c4dd" class="c hh"/>
<path d="M-95 74 -91 73.8 -91.5 72.5 -94.5 72.2Z" fill="#000000" class="c hh"/>
<path d="M-99.5 69 -97 69.8 -95.5 69 -97 68.3Z" fill="#90c4dd" class="c hh"/>
<path d="M-81 73.9 -77 73.5 -79 72.9Z" fill="#000000" class="c hh"/>
<path d="M-86 65.8 -81.3 64.3 -84 62.5 -87 63.8 -88.5 64.4Z" fill="#90c4dd" class="c hh"/>
<path d="M-83 63 -80.5 62.5 -81.5 62.1Z" fill="#90c4dd" class="c hh"/>
<path d="M-106 77.8 -104 77.3 -105.5 77Z" fill="#000000" class="c hh"/>
<path d="M-114 77.5 -112 78.1 -110 77.8Z" fill="#000000" class="c hh"/>
<path d="M-104.5 76.4 -102 76.5 -103 75.9Z" fill="#000000" class="c hh"/>
<path d="M-59.4 47.6 -55.5 46.8 -52.8 46.6 -52.6 47.6 -53.5 48.5 -53.2 49.5 -55.5 49.9 -55.9 51.5 -57.4 50.6 -58.6 49.1Z" fill="#90c4dd" class="c hh"/>
<path d="M-123.3 48.4 -125 48.9 -127.9 50.1 -128.4 50.8 -127 50.6 -125.3 50.1 -124 49.2Z" fill="#90c4dd" class="c hh"/>
<path d="M-132 54 -133 54.2 -131.8 52.5 -131.2 52.2Z" fill="#90c4dd" class="c hh"/>
<path d="M-64.3 49.9 -61.7 49.1 -62.3 49.4Z" fill="#90c4dd" class="c hh"/>
<path d="M-64 46.9 -62 46.4 -63.5 46.2Z" fill="#90c4dd" class="c hh"/>
<path d="M-153.5 57.3 -152.2 58 -152.4 57.5 -154.5 56.8Z" fill="#62a7ce" class="c"/>
<path d="M-170.5 63.7 -168.7 63.3 -171.8 63.4Z" fill="#62a7ce" class="c"/>
<path d="M-165.5 54.1 -166.5 53.4 -167.5 53.7 -166.5 54Z" fill="#62a7ce" class="c"/>
<path d="M-84.9 21.9 -84.3 22.9 -82.5 23.1 -80.5 22.9 -78.5 22.4 -77.1 21.4 -75.6 21 -74.2 20.3 -75 19.9 -77.6 19.9 -77.2 20.6 -78.6 21.6 -81.2 22.1 -82.3 22.7 -83.5 22.2Z" fill="#f6f7f7" class="c"/>
<path d="M-5.7 50.1 -3 50.7 0.3 50.8 1.4 51.2 0.9 51.8 1.7 52.7 0.3 53.4 -0.2 54.2 -1.2 54.6 -1.6 55.6 -2.6 56.2 -1.8 57.5 -3.2 58.6 -5 58.6 -5.7 57.6 -5.6 56.4 -5.5 55.4 -4.9 55.7 -5 54.8 -3.2 54.9 -3.3 54.2 -3 53.4 -4.6 53.3 -4.2 52.3 -5.3 51.8 -3.2 51.4 -4.5 51.2Z" fill="#81bad8" class="c h"/>
<path d="M-6 52.2 -6 53.4 -6.2 54.1 -7.3 54.2 -7.3 55.3 -8.5 54.6 -10 54.2 -9.9 53.4 -9.5 52.6 -10.4 51.9 -9.6 51.5 -8 51.8 -6.4 52.2Z" fill="#f6f7f7" class="c"/>
<path d="M-6.2 54.1 -5.5 54.6 -6 55.2 -7.3 55.3 -7.3 54.2Z" fill="#81bad8" class="c h"/>
<path d="M12.4 37.8 13.5 38.2 15.6 38.3 15.1 37.3 15.2 36.7 14.3 37 12.7 37.6Z" fill="#bddbea" class="c"/>
<path d="M8.4 39 8.2 40.8 9.6 41.2 9.7 39.2Z" fill="#bddbea" class="c"/>
<path d="M8.6 41.4 8.7 42.8 9.5 43 9.5 42Z" fill="#bddbea" class="c"/>
<path d="M23.5 35.3 26.3 35.3 26.1 35 23.6 35.2Z" fill="#f6f7f7" class="c"/>
<path d="M32.3 34.7 33 35.3 34.6 35.7 33.9 34.9 33 34.6Z" fill="#f6f7f7" class="c"/>
<path d="M10.5 55.5 10.8 55.1 10 55.1 9.8 55.5Z" fill="#f6f7f7" class="c"/>
<path d="M11.2 55.8 12.6 56 12.4 55 11.2 55.2Z" fill="#f6f7f7" class="c"/>
<path d="M18.2 57.9 18.8 57.8 18.3 57.1Z" fill="#f6f7f7" class="c"/>
<path d="M52 71.5 53.5 73.5 56 75.5 62 76.3 68.5 76.9 64.5 75.5 58.5 74 56 72.5 57.5 70.8 53.5 70.7Z" fill="#71b0d3" class="c h"/>
<path d="M91 79.3 95 81.2 100 80.6 104.5 79.2 101 78.2 96 78.6Z" fill="#71b0d3" class="c h"/>
<path d="M137 74.5 142 75.7 148 75.3 141 73.3Z" fill="#71b0d3" class="c h"/>
<path d="M47 80.2 55 81.2 63 80.4 55 79.9Z" fill="#71b0d3" class="c h"/>
<path d="M178.7 71.2 180 71.5 180 70.9Z" fill="#71b0d3" class="c h"/>
<path d="M-180 71.5 -177.5 71.3 -180 70.9Z" fill="#71b0d3" class="c h"/>
<path d="M142 46 143.5 46.5 143 49 144.6 49 143.2 51.8 143.3 53.3 142.7 54.3 142.2 53.5 141.8 52.3 142.1 49.5 141.9 47.5Z" fill="#71b0d3" class="c h"/>
<path d="M-180 68.9 -177 68.2 -174 67.1 -171.5 66.9 -169.7 66.1 -171 65.5 -172.5 64.4 -175 65.3 -177 65.5 -178.7 65.5 -180 65.1Z" fill="#71b0d3" class="c h"/>
<path d="M130.9 34 132.5 35.4 135.2 35.7 136.8 37.2 138.5 37.4 139.5 38.3 140 39.8 140.3 41.2 141.5 41.2 141.5 40 142 39.5 141 38.3 140.9 36.9 140.6 35.7 139.9 35 139.1 35.1 138.2 34.6 136.9 34.5 135.8 33.5 135.2 34.3 133 34.4 131.9 34Z" fill="#7bb6d6" class="c h"/>
<path d="M140 41.5 141.2 41.8 142.5 42.1 143.3 42 145.5 43.3 144.8 43.9 143 44.5 141.9 45.5 141.6 44.2 141.3 43.2 140.3 43.3 140 42.5Z" fill="#7bb6d6" class="c h"/>
<path d="M129.8 33.3 130.9 33.9 131.7 33.3 131.4 31.4 130.7 31 130.2 31.4 130.2 32.6Z" fill="#7bb6d6" class="c h"/>
<path d="M132.5 33.3 134.2 34.2 134.7 33.8 133.2 32.8 132.6 32.8Z" fill="#7bb6d6" class="c h"/>
<path d="M120.1 23 120.8 21.9 121.6 23.5 121.9 25 121.1 25.1 120.2 23.9Z" fill="#ffffff" class="c"/>
<path d="M108.6 19.1 109.5 18.2 110.5 18.6 111 19.7 110.6 20.1 109.3 20Z" fill="#ffffff" class="c"/>
<path d="M79.8 8 80.2 9.8 81.3 8.5 81.8 7.2 81.2 6.2 80.1 6Z" fill="#f6f7f7" class="c"/>
<path d="M120.6 18.5 122.2 18.5 122.3 17 121.6 15.9 121.7 14.2 123.9 13.8 124.1 12.6 122.5 13.5 120.6 14.3 120 16 120.4 17.6Z" fill="#2e77b5" class="c h"/>
<path d="M122 7 123.5 7.8 124.3 8.5 125.5 9.8 126.5 8 126.2 6.3 125.3 5.6 124.2 6.2 123.5 7.3Z" fill="#2e77b5" class="c h"/>
<path d="M124.3 12.5 125.7 11 125 10 124.3 11Z" fill="#2e77b5" class="c h"/>
<path d="M122.5 11.8 123 10.8 122 10.5 121.9 11.8Z" fill="#2e77b5" class="c h"/>
<path d="M123 10.5 123.5 9.3 122.5 9.3Z" fill="#2e77b5" class="c h"/>
<path d="M123.3 11.2 124 10.2 123.8 9.5 123.3 10.3Z" fill="#2e77b5" class="c h"/>
<path d="M117.2 8.4 119.5 10.5 119.7 11.4 118.5 10Z" fill="#2e77b5" class="c h"/>
<path d="M120.3 13.5 121.5 13.2 121 12.3Z" fill="#2e77b5" class="c h"/>
<path d="M95.3 5.6 97.5 5.2 100.3 2.2 103.5 0.5 104.5 -1.5 106 -3 105.8 -5.8 104.5 -5.9 102.3 -4 101 -2.3 99.5 0 98.6 1.8 97 3.5Z" fill="#1c4176" class="c h"/>
<path d="M105.2 -6.8 106 -5.9 108.3 -6.3 110.5 -6.9 112.6 -6.9 114.6 -7.8 114.4 -8.7 111 -8.2 108 -7.8 106.4 -7.4Z" fill="#1c4176" class="c h"/>
<path d="M109 1.5 109.6 2 110.5 1.2 111.8 1.2 112.5 1.5 113.5 1.3 114.6 1.5 115.5 3 116.3 4.3 117.6 4.2 117.8 2.5 119 1 117.5 0 116.6 -1.5 116.5 -3.5 114.5 -4 113 -3.2 111.8 -3.5 110.2 -2.9 110 -1.5 109.2 0Z" fill="#1c4176" class="c h"/>
<path d="M109.6 2 111 1.6 113 3.1 114.5 4.6 116 6 117.2 7 118.5 5.7 119.2 5.3 118 4.5 117.6 4.2 116.3 4.3 115.5 3 114.6 1.5 113.5 1.3 112.5 1.5 111.8 1.2 110.5 1.2Z" fill="#4393c3" class="c"/>
<path d="M119.5 -5.5 119.3 -3.5 118.8 -2.8 119.5 -0.8 120.1 0.5 121.5 1.1 123.5 0.9 124.9 1.6 124.5 0.4 122.5 0.5 121 0.3 120.2 -0.7 121.3 -1 122.7 -0.8 121.3 -1.8 122.3 -3.2 123.2 -4.6 122 -4.7 121.5 -3.7 120.7 -2.7 120.5 -5.5Z" fill="#1c4176" class="c h"/>
<path d="M131 -1.3 132.3 -0.4 134 -0.9 135 -3.4 137.7 -1.5 141 -2.6 141 -9.1 139 -8.1 138 -8.4 137.7 -7.3 138.5 -6.6 137.8 -5.3 134.5 -4 133 -4 132 -2.8 133.3 -2.3 132.5 -2.2Z" fill="#1c4176" class="c h"/>
<path d="M141 -2.6 142.5 -3.2 144.5 -3.8 145.8 -5 147.5 -6.2 147.2 -7.4 148.3 -8.5 150 -10.3 149 -10.3 147 -10 145.5 -8 143.5 -8.3 143 -9.3 141 -9.1Z" fill="#f6f7f7" class="c h"/>
<path d="M148.5 -5.5 150 -5.5 151.5 -4.9 152.2 -4.2 152 -5.5 150.5 -6.3 148.5 -6Z" fill="#f6f7f7" class="c h"/>
<path d="M150.8 -2.8 152.5 -3.8 153 -4.7 152.2 -3.8Z" fill="#f6f7f7" class="c h"/>
<path d="M127.5 1.8 128 1 128.7 0.5 128 0 128.5 -0.8 127.6 -0.4 127.4 0.8Z" fill="#1c4176" class="c h"/>
<path d="M128 -3.2 130.5 -3.5 130.8 -3.9 128.5 -3.6Z" fill="#1c4176" class="c h"/>
<path d="M126 -3.1 127.2 -3.3 126.8 -3.8 126 -3.6Z" fill="#1c4176" class="c h"/>
<path d="M124 -10 125.2 -9 127.2 -8.5 125 -9.6 123.6 -10.3Z" fill="#1c4176" class="c h"/>
<path d="M125.2 -9 127.2 -8.4 126.5 -8.9 125.1 -9.4Z" fill="#f6f7f7" class="c"/>
<path d="M119.9 -8.8 121.7 -8.4 122.9 -8.1 122.3 -8.8 120.5 -8.8Z" fill="#1c4176" class="c h"/>
<path d="M116.9 -8.4 118.7 -8.2 119.1 -8.7 117 -9Z" fill="#1c4176" class="c h"/>
<path d="M115.5 -8.3 116.7 -8.3 116.2 -9Z" fill="#1c4176" class="c h"/>
<path d="M114.5 -8.1 115.6 -8.4 115.2 -8.8Z" fill="#1c4176" class="c h"/>
<path d="M119 -9.3 120.8 -10.1 120.3 -10.3 118.9 -9.6Z" fill="#1c4176" class="c h"/>
<path d="M105.5 -1.7 106.8 -2.5 106.5 -3.1 105.8 -2.2Z" fill="#1c4176" class="c h"/>
<path d="M107.6 -2.5 108.3 -2.6 108.2 -3.2 107.6 -3.1Z" fill="#1c4176" class="c h"/>
<path d="M134.2 -5.8 134.8 -5.8 134.6 -6.8Z" fill="#1c4176" class="c h"/>
<path d="M144.6 -40.7 148.3 -40.9 148.3 -42.2 147.8 -43.2 146.9 -43.6 145.4 -42.3 144.7 -41.2Z" fill="#ffffff" class="c"/>
<path d="M172.7 -34.4 174.3 -35.3 175.8 -37 178 -37.6 178.5 -38.7 177 -39.5 176 -41.3 175.2 -41.6 174.6 -41.2 175 -39.9 173.8 -39.3 174.6 -38 174.5 -36.6 173 -35.2Z" fill="#f6f7f7" class="c"/>
<path d="M172.7 -40.5 174.2 -41.5 173.4 -42.8 172.7 -43.8 171.2 -44.4 170.6 -45.9 169.3 -46.6 166.5 -46 166.7 -45.1 168.3 -44 170.5 -43 171.5 -41.7 172.1 -40.8Z" fill="#f6f7f7" class="c"/>
<path d="M49.3 -12 50.2 -14.5 50.5 -15.5 49.7 -17 49 -19.5 47.9 -22.5 47.1 -24.9 45.2 -25.6 44 -25 43.3 -22.2 44.4 -20 44 -17.5 44.4 -16.2 46.2 -15.7 47.8 -14 48.8 -12.5Z" fill="#f6f7f7" class="c"/>
<path d="M-68.6 -52.6 -67.5 -53.3 -65.3 -54.7 -66.5 -55 -68.6 -54.9Z" fill="#f6f7f7" class="c"/>
<path d="M-68.6 -52.6 -68.6 -54.9 -70 -55.2 -71.5 -54.5 -70.5 -53.6 -69.5 -52.7Z" fill="#3c8abe" class="c"/>
<path d="M-74.3 -41.6 -72.2 -41.9 -72.2 -44 -71.9 -46.9 -72.4 -49.5 -71.9 -51 -69.6 -52.1 -67.5 -53.5 -65.5 -54.4 -64.2 -54.6 -66 -55.3 -67.9 -56 -70.5 -55.7 -72.9 -54.9 -75 -52.7 -75.8 -50.2 -75.9 -47 -75 -44.5Z" fill="#000" class="c"/>
<path d="M121.8 12.9 124.2 12.7 125.9 11.1 125.3 9.9 124 9.2 122.5 9.2 121.8 10.5Z" fill="#000" class="c"/>
<path d="M-71 77.9 -66 76.7 -61 75.9 -58.2 75" fill="none" stroke="#000" stroke-width="7.0" stroke-linejoin="round" stroke-linecap="round" vector-effect="non-scaling-stroke"/>
<path d="M-58.2 75 -55.8 73.2 -53.3 71.2 -51.6 69.5 -51.8 68 -51.8 66.5 -50.8 65 -49.3 63.5 -47.8 62 -46 60.9 -44.3 60.3" fill="none" stroke="#000" stroke-width="11.0" stroke-linejoin="round" stroke-linecap="round" vector-effect="non-scaling-stroke"/>
<path d="M-43.2 60.6 -41.8 62.6 -40 64.6 -36.5 66 -33 67.6" fill="none" stroke="#000" stroke-width="8.0" stroke-linejoin="round" stroke-linecap="round" vector-effect="non-scaling-stroke"/>
<path d="M-33 67.6 -29 69 -25.5 70.2 -24 71.5 -23.2 73.2 -21.5 75 -20.8 77 -20 79.5" fill="none" stroke="#000" stroke-width="10.0" stroke-linejoin="round" stroke-linecap="round" vector-effect="non-scaling-stroke"/>
<path d="M-20 79.5 -17 81.2 -12.5 81.5" fill="none" stroke="#000" stroke-width="6.0" stroke-linejoin="round" stroke-linecap="round" vector-effect="non-scaling-stroke"/>
<path d="M-17 81.6 -25 82.6 -35 83.1 -45 82.8 -55 82 -62 81.3 -67 79.8 -71 78.3" fill="none" stroke="#000" stroke-width="5.0" stroke-linejoin="round" stroke-linecap="round" vector-effect="non-scaling-stroke"/>
<path d="M5.3 58.6 5.2 59.5 5 60.5 5 62 6.5 62.8 8.5 63.5 10.5 64.5 12.2 65.8" fill="none" stroke="#000" stroke-width="5.0" stroke-linejoin="round" stroke-linecap="round" vector-effect="non-scaling-stroke"/>
<path d="M12.2 65.8 13.8 67.3 15.8 68.6 18.3 69.5 21 70 24 70.7 26 70.8 28.5 70.6 30.5 70.1" fill="none" stroke="#000" stroke-width="8.0" stroke-linejoin="round" stroke-linecap="round" vector-effect="non-scaling-stroke"/>
<path d="M31 70.3 33 69.4 36 69.1 40 67.8 41.2 66.7" fill="none" stroke="#000" stroke-width="4.0" stroke-linejoin="round" stroke-linecap="round" vector-effect="non-scaling-stroke"/>
<path d="M-123.5 48.6 -125 49.6 -126.5 50.5 -127.8 51.5 -128.6 52.6 -130 54 -130.8 55 -132 56.2 -133.5 57.2 -134.8 58.2 -136.3 58.8 -138.5 59.3 -140.5 59.8" fill="none" stroke="#000" stroke-width="6.0" stroke-linejoin="round" stroke-linecap="round" vector-effect="non-scaling-stroke"/>
<path d="M-140.5 59.8 -144 60.1 -146.5 60.6 -148.5 60.3 -150.5 59.5 -152 59.3 -153.5 58.5 -155 57.8 -157 57 -159 56 -161.5 55.2 -164.7 54.5" fill="none" stroke="#000" stroke-width="4.0" stroke-linejoin="round" stroke-linecap="round" vector-effect="non-scaling-stroke"/>
<path d="M-158 58.7 -161.5 58.7 -164 60 -165.5 61.2 -165 62.8 -163 63.6 -161 64.4 -163.5 64.6 -166.4 64.7 -168 65.6 -166 66.3 -163.8 67.2 -166.8 68.3 -163.5 69.4 -160 70.7 -156.5 71.3" fill="none" stroke="#000" stroke-width="3.5" stroke-linejoin="round" stroke-linecap="round" vector-effect="non-scaling-stroke"/>
<path d="M-5.2 55.4 -5.4 56.4 -5.4 57.5 -4.8 58.4 -3.4 58.5" fill="none" stroke="#000" stroke-width="7.0" stroke-linejoin="round" stroke-linecap="round" vector-effect="non-scaling-stroke"/>
<path d="M-10 54.2 -9.9 53.4 -9.5 52.6 -10.4 51.9" fill="none" stroke="#000" stroke-width="3.5" stroke-linejoin="round" stroke-linecap="round" vector-effect="non-scaling-stroke"/>
<path d="M68.5 68.3 69.5 72.5 72 72.8 72.7 71.5 73 69.5 73.8 67 75 68.2 75 71 77 72.3 78.5 72.4 80.5 73.5 86.5 73.8 86 74.8 90 75.5 95 76 100 76.5 104 77.7 107 76.5 111 76.7 113.5 75.7 112 74 118 73.5" fill="none" stroke="#000" stroke-width="3.5" stroke-linejoin="round" stroke-linecap="round" vector-effect="non-scaling-stroke"/>
<path d="M163.7 61.8 160 59.5 156.7 57.7 155.5 56 155.8 53.5 156.7 51 158.5 52.9 160 53.2 161.8 55 162.5 56.5 163 58 163.5 59.8 166 60 170.3 60" fill="none" stroke="#000" stroke-width="3.5" stroke-linejoin="round" stroke-linecap="round" vector-effect="non-scaling-stroke"/>
<path d="M13.6 45.5 14.3 45.3 15 44.5 15.9 43.6 17 43.2 18.5 42.4" fill="none" stroke="#000" stroke-width="3.5" stroke-linejoin="round" stroke-linecap="round" vector-effect="non-scaling-stroke"/>
<path d="M22.9 40.3 23.9 39.9 22.9 39.3 23.3 38.2 22.7 37.5 23.1 36.5" fill="none" stroke="#000" stroke-width="3.0" stroke-linejoin="round" stroke-linecap="round" vector-effect="non-scaling-stroke"/>
<path d="M-64.5 60.3 -63 58.5 -61.5 56.5 -60 55.2 -58 54.3 -56 53.3 -55.7 52.2" fill="none" stroke="#000" stroke-width="4.0" stroke-linejoin="round" stroke-linecap="round" vector-effect="non-scaling-stroke"/>
<path d="M-59.4 47.6 -55.5 46.8 -52.8 46.6 -52.6 47.6 -53.5 48.5 -53.2 49.5 -55.5 49.9 -55.9 51.5" fill="none" stroke="#000" stroke-width="3.5" stroke-linejoin="round" stroke-linecap="round" vector-effect="non-scaling-stroke"/>
<path d="M-66 49.2 -64.2 48.9 -64.8 47.8 -65 47.1 -64.6 46.3 -63 45.7 -61.5 45.7 -60.3 46.9" fill="none" stroke="#000" stroke-width="3.5" stroke-linejoin="round" stroke-linecap="round" vector-effect="non-scaling-stroke"/>
<path d="M180 65 178.6 64.5 177 62.6 173.5 61.7" fill="none" stroke="#000" stroke-width="3.5" stroke-linejoin="round" stroke-linecap="round" vector-effect="non-scaling-stroke"/>
</g>
<circle cx="200.0" cy="904.8" r="3.2" class="d"/>
<circle cx="197.1" cy="900.9" r="2.2" class="d"/>
<circle cx="195.1" cy="900.0" r="1.3" class="d"/>
<circle cx="192.2" cy="898.8" r="1.8" class="d"/>
<circle cx="187.1" cy="896.9" r="1.7" class="d"/>
<circle cx="184.8" cy="897.4" r="1.1" class="d"/>
<circle cx="179.3" cy="893.8" r="0.9" class="d"/>
<circle cx="170.2" cy="891.9" r="0.9" class="d"/>
<circle cx="165.1" cy="891.2" r="0.9" class="d"/>
<circle cx="159.6" cy="887.7" r="0.8" class="d"/>
<circle cx="147.6" cy="884.8" r="0.9" class="d"/>
<circle cx="140.5" cy="883.8" r="0.9" class="d"/>
<circle cx="129.1" cy="877.0" r="0.9" class="d"/>
<circle cx="122.3" cy="801.5" r="1.3" class="d"/>
<circle cx="127.2" cy="800.6" r="1.3" class="d"/>
<circle cx="132.0" cy="800.2" r="1.4" class="d"/>
<circle cx="136.9" cy="799.6" r="1.3" class="d"/>
<circle cx="141.8" cy="799.3" r="1.3" class="d"/>
<circle cx="146.6" cy="798.8" r="1.3" class="d"/>
<circle cx="151.5" cy="798.0" r="1.2" class="d"/>
<circle cx="157.3" cy="796.4" r="1.4" class="d"/>
<circle cx="162.8" cy="794.7" r="1.5" class="d"/>
<circle cx="166.7" cy="793.1" r="1.4" class="d"/>
<circle cx="1262.4" cy="796.7" r="1.3" class="d"/>
<circle cx="1266.3" cy="797.3" r="1.2" class="d"/>
<circle cx="1277.6" cy="800.2" r="1.2" class="d"/>
<circle cx="1284.1" cy="801.5" r="1.2" class="d"/>
<circle cx="152.1" cy="783.1" r="1.0" class="d"/>
<circle cx="154.4" cy="785.0" r="0.9" class="d"/>
<circle cx="1240.4" cy="789.6" r="1.4" class="d"/>
<circle cx="1246.2" cy="791.2" r="1.1" class="d"/>
<circle cx="1177.3" cy="824.2" r="1.3" class="d"/>
<circle cx="1182.1" cy="821.6" r="1.3" class="d"/>
<circle cx="1187.6" cy="819.4" r="1.1" class="d"/>
<circle cx="1193.5" cy="816.4" r="1.1" class="d"/>
<circle cx="1198.3" cy="813.8" r="1.0" class="d"/>
<circle cx="1203.2" cy="811.3" r="1.0" class="d"/>
<circle cx="1206.4" cy="808.0" r="1.1" class="d"/>
<circle cx="1208.7" cy="805.4" r="1.2" class="d"/>
<circle cx="620.7" cy="845.9" r="1.3" class="d"/>
<circle cx="615.2" cy="843.0" r="1.3" class="d"/>
<circle cx="611.6" cy="843.6" r="1.2" class="d"/>
<circle cx="602.6" cy="840.4" r="0.9" class="d"/>
<circle cx="648.5" cy="862.4" r="1.4" class="d"/>
<circle cx="645.0" cy="878.6" r="1.0" class="d"/>
<circle cx="647.5" cy="877.3" r="1.1" class="d"/>
<circle cx="649.5" cy="876.7" r="1.5" class="d"/>
<circle cx="652.7" cy="877.6" r="1.5" class="d"/>
<circle cx="657.9" cy="876.3" r="1.6" class="d"/>
<circle cx="659.2" cy="874.1" r="1.3" class="d"/>
<circle cx="712.6" cy="840.1" r="2.0" class="d"/>
<circle cx="716.1" cy="838.8" r="1.1" class="d"/>
<circle cx="707.7" cy="842.3" r="1.1" class="d"/>
<circle cx="598.4" cy="980.6" r="0.9" class="d"/>
<circle cx="608.4" cy="1034.7" r="0.9" class="d"/>
<circle cx="410.3" cy="969.9" r="2.3" class="d"/>
<circle cx="407.8" cy="970.2" r="1.8" class="d"/>
<circle cx="413.3" cy="971.2" r="1.1" class="d"/>
<circle cx="410.7" cy="967.3" r="0.9" class="d"/>
<circle cx="448.2" cy="1077.1" r="1.1" class="d"/>
<circle cx="443.7" cy="1077.7" r="0.9" class="d"/>
<circle cx="444.0" cy="1053.5" r="0.8" class="d"/>
<circle cx="349.2" cy="1056.0" r="0.9" class="d"/>
<circle cx="344.2" cy="907.4" r="1.0" class="d"/>
<circle cx="332.0" cy="908.9" r="0.9" class="d"/>
<circle cx="320.4" cy="874.4" r="1.0" class="d"/>
<circle cx="320.1" cy="860.2" r="1.0" class="d"/>
<circle cx="315.5" cy="858.2" r="1.2" class="d"/>
<circle cx="358.6" cy="898.7" r="0.9" class="d"/>
<circle cx="439.1" cy="927.8" r="0.8" class="d"/>
<circle cx="439.8" cy="905.8" r="0.9" class="d"/>
<circle cx="784.1" cy="846.9" r="1.1" class="d"/>
<circle cx="782.5" cy="843.3" r="1.4" class="d"/>
<circle cx="788.3" cy="841.4" r="1.4" class="d"/>
<circle cx="791.2" cy="850.8" r="1.1" class="d"/>
<circle cx="793.8" cy="851.1" r="1.4" class="d"/>
<circle cx="785.7" cy="848.5" r="1.1" class="d"/>
<circle cx="749.8" cy="852.1" r="1.1" class="d"/>
<circle cx="783.5" cy="845.6" r="1.0" class="d"/>
<circle cx="787.3" cy="844.0" r="1.0" class="d"/>
<circle cx="785.4" cy="850.4" r="1.0" class="d"/>
<circle cx="783.8" cy="850.1" r="1.2" class="d"/>
<circle cx="790.2" cy="846.2" r="1.2" class="d"/>
<circle cx="787.0" cy="848.8" r="1.0" class="d"/>
<circle cx="782.2" cy="846.2" r="1.0" class="d"/>
<circle cx="779.2" cy="843.6" r="1.3" class="d"/>
<circle cx="789.0" cy="841.0" r="1.2" class="d"/>
<circle cx="785.1" cy="837.2" r="1.2" class="d"/>
<circle cx="782.8" cy="836.5" r="1.0" class="d"/>
<circle cx="877.6" cy="927.8" r="1.6" class="d"/>
<circle cx="874.1" cy="928.5" r="0.9" class="d"/>
<circle cx="938.5" cy="932.4" r="0.9" class="d"/>
<circle cx="939.4" cy="934.6" r="0.9" class="d"/>
<circle cx="938.1" cy="933.0" r="0.8" class="d"/>
<circle cx="1003.2" cy="930.4" r="1.6" class="d"/>
<circle cx="1003.2" cy="927.5" r="1.5" class="d"/>
<circle cx="1002.9" cy="925.2" r="1.2" class="d"/>
<circle cx="1006.4" cy="945.3" r="1.2" class="d"/>
<circle cx="1005.8" cy="942.4" r="1.0" class="d"/>
<circle cx="1003.5" cy="938.5" r="1.0" class="d"/>
<circle cx="1163.4" cy="880.6" r="1.0" class="d"/>
<circle cx="1160.4" cy="888.0" r="0.9" class="d"/>
<circle cx="1155.6" cy="861.1" r="1.0" class="d"/>
<circle cx="1154.3" cy="857.9" r="1.0" class="d"/>
<circle cx="1154.6" cy="855.9" r="0.9" class="d"/>
<circle cx="1119.0" cy="876.7" r="1.4" class="d"/>
<circle cx="1117.1" cy="882.5" r="1.7" class="d"/>
<circle cx="1105.1" cy="889.3" r="1.4" class="d"/>
<circle cx="1108.7" cy="888.0" r="1.1" class="d"/>
<circle cx="1122.3" cy="875.0" r="1.1" class="d"/>
<circle cx="1125.5" cy="869.9" r="1.2" class="d"/>
<circle cx="1112.6" cy="860.2" r="1.7" class="d"/>
<circle cx="1126.8" cy="868.6" r="1.1" class="d"/>
<circle cx="1122.9" cy="860.8" r="1.0" class="d"/>
<circle cx="1121.6" cy="856.9" r="1.1" class="d"/>
<circle cx="1119.7" cy="862.4" r="1.0" class="d"/>
<circle cx="1150.7" cy="845.3" r="1.2" class="d"/>
<circle cx="1089.9" cy="985.1" r="0.8" class="d"/>
<circle cx="1083.4" cy="991.0" r="0.8" class="d"/>
<circle cx="1060.8" cy="987.1" r="0.8" class="d"/>
<circle cx="1079.2" cy="976.7" r="0.8" class="d"/>
<circle cx="1086.7" cy="969.9" r="0.8" class="d"/>
<circle cx="1099.6" cy="986.1" r="0.9" class="d"/>
<circle cx="1101.2" cy="982.5" r="0.8" class="d"/>
<circle cx="1110.0" cy="994.5" r="0.9" class="d"/>
<circle cx="1114.2" cy="992.9" r="0.8" class="d"/>
<circle cx="1128.7" cy="992.9" r="1.2" class="d"/>
<circle cx="1124.5" cy="994.5" r="0.8" class="d"/>
<circle cx="1138.4" cy="988.4" r="1.2" class="d"/>
<circle cx="1141.4" cy="978.7" r="0.9" class="d"/>
<circle cx="1143.9" cy="971.9" r="1.0" class="d"/>
<circle cx="1126.5" cy="971.2" r="1.1" class="d"/>
<circle cx="1123.2" cy="967.7" r="0.9" class="d"/>
<circle cx="1111.9" cy="954.4" r="0.8" class="d"/>
<circle cx="1109.3" cy="957.0" r="0.8" class="d"/>
<circle cx="1106.1" cy="974.5" r="1.0" class="d"/>
<circle cx="1110.3" cy="974.1" r="0.9" class="d"/>
<circle cx="1118.4" cy="993.6" r="0.8" class="d"/>
<circle cx="1103.8" cy="995.8" r="0.9" class="d"/>
<circle cx="1106.1" cy="995.2" r="0.9" class="d"/>
<circle cx="1096.7" cy="1002.3" r="0.9" class="d"/>
<circle cx="1046.5" cy="975.1" r="0.8" class="d"/>
<circle cx="1052.4" cy="955.3" r="0.8" class="d"/>
<circle cx="1053.3" cy="956.0" r="0.9" class="d"/>
<circle cx="1021.0" cy="969.9" r="1.0" class="d"/>
<circle cx="1019.4" cy="964.4" r="1.1" class="d"/>
<circle cx="1024.5" cy="973.2" r="1.1" class="d"/>
<circle cx="1028.1" cy="978.3" r="0.9" class="d"/>
<circle cx="1041.4" cy="965.7" r="0.9" class="d"/>
<circle cx="1039.1" cy="968.6" r="0.8" class="d"/>
<circle cx="1093.1" cy="929.8" r="0.9" class="d"/>
<circle cx="1097.7" cy="928.1" r="1.0" class="d"/>
<circle cx="1103.5" cy="928.1" r="1.1" class="d"/>
<circle cx="1106.1" cy="934.3" r="0.9" class="d"/>
<circle cx="1109.6" cy="929.1" r="0.8" class="d"/>
<circle cx="1091.2" cy="951.5" r="0.9" class="d"/>
<circle cx="1094.8" cy="948.9" r="0.9" class="d"/>
<circle cx="1098.0" cy="907.1" r="0.8" class="d"/>
<circle cx="1097.3" cy="902.2" r="0.8" class="d"/>
<circle cx="1039.4" cy="934.9" r="0.9" class="d"/>
<circle cx="1218.0" cy="1070.3" r="0.9" class="d"/>
<circle cx="132.0" cy="1110.8" r="1.2" class="d"/>
<circle cx="127.5" cy="1063.2" r="0.8" class="d"/>
<circle cx="1240.7" cy="1132.5" r="1.2" class="d"/>
<circle cx="1250.4" cy="1138.3" r="1.0" class="d"/>
<circle cx="1281.8" cy="1129.2" r="0.8" class="d"/>
<circle cx="1282.8" cy="1122.8" r="0.7" class="d"/>
<circle cx="1242.3" cy="1123.7" r="0.8" class="d"/>
<circle cx="1217.4" cy="1145.1" r="0.9" class="d"/>
<circle cx="1218.7" cy="982.9" r="0.8" class="d"/>
<circle cx="1203.5" cy="985.8" r="1.5" class="d"/>
<circle cx="1206.4" cy="988.7" r="2.0" class="d"/>
<circle cx="1178.6" cy="975.1" r="1.4" class="d"/>
<circle cx="1180.2" cy="974.9" r="1.3" class="d"/>
<circle cx="1190.2" cy="1002.6" r="1.0" class="d"/>
<circle cx="1192.5" cy="999.4" r="1.0" class="d"/>
<circle cx="1198.0" cy="997.8" r="1.0" class="d"/>
<circle cx="1201.9" cy="1005.2" r="0.9" class="d"/>
<circle cx="1189.2" cy="985.5" r="0.9" class="d"/>
<circle cx="1201.2" cy="979.0" r="0.8" class="d"/>
</g>
<text x="14.3" y="653.6" class="lab">b</text>
<text x="86.3" y="658.8" class="t">P-input</text>
<text x="1338.5" y="654.6" class="t" text-anchor="end">log(mean<tspan class="sub" dy="8">2007 – 2016</tspan><tspan dy="-8"> – mean</tspan><tspan class="sub" dy="8">1980 –1989</tspan><tspan dy="-8">)</tspan></text>
<rect x="62.5" y="674.8" width="1281.9" height="497.5" fill="none" stroke="#000" stroke-width="2"/>
<line x1="54.5" y1="709.3" x2="62.5" y2="709.3" class="tk"/>
<text x="41.0" y="718.1" class="t" text-anchor="end">80</text>
<line x1="54.5" y1="774.0" x2="62.5" y2="774.0" class="tk"/>
<text x="41.0" y="782.8" class="t" text-anchor="end">60</text>
<line x1="54.5" y1="838.8" x2="62.5" y2="838.8" class="tk"/>
<text x="41.0" y="847.6" class="t" text-anchor="end">40</text>
<line x1="54.5" y1="903.5" x2="62.5" y2="903.5" class="tk"/>
<text x="41.0" y="912.3" class="t" text-anchor="end">20</text>
<line x1="54.5" y1="968.3" x2="62.5" y2="968.3" class="tk"/>
<text x="41.0" y="977.1" class="t" text-anchor="end">0</text>
<line x1="54.5" y1="1033.1" x2="62.5" y2="1033.1" class="tk"/>
<text x="41.0" y="1041.9" class="t" text-anchor="end">−20</text>
<line x1="54.5" y1="1097.8" x2="62.5" y2="1097.8" class="tk"/>
<text x="41.0" y="1106.6" class="t" text-anchor="end">−40</text>
<line x1="54.5" y1="1162.6" x2="62.5" y2="1162.6" class="tk"/>
<text x="41.0" y="1171.4" class="t" text-anchor="end">−60</text>
<line x1="217.8" y1="1172.3" x2="217.8" y2="1180.3" class="tk"/>
<text x="217.8" y="1211.3" class="t" text-anchor="middle">−150</text>
<line x1="379.6" y1="1172.3" x2="379.6" y2="1180.3" class="tk"/>
<text x="379.6" y="1211.3" class="t" text-anchor="middle">−100</text>
<line x1="541.4" y1="1172.3" x2="541.4" y2="1180.3" class="tk"/>
<text x="541.4" y="1211.3" class="t" text-anchor="middle">−50</text>
<line x1="703.2" y1="1172.3" x2="703.2" y2="1180.3" class="tk"/>
<text x="703.2" y="1211.3" class="t" text-anchor="middle">0</text>
<line x1="865.0" y1="1172.3" x2="865.0" y2="1180.3" class="tk"/>
<text x="865.0" y="1211.3" class="t" text-anchor="middle">50</text>
<line x1="1026.8" y1="1172.3" x2="1026.8" y2="1180.3" class="tk"/>
<text x="1026.8" y="1211.3" class="t" text-anchor="middle">100</text>
<line x1="1188.6" y1="1172.3" x2="1188.6" y2="1180.3" class="tk"/>
<text x="1188.6" y="1211.3" class="t" text-anchor="middle">150</text>
<rect x="1377.5" y="698.4" width="26.0" height="473.2" fill="url(#cbg)"/>
<polygon points="1377.5,698.9 1390.5,674.2 1403.5,698.9" fill="#1d3461"/>
<path d="M1377.5 698.4L1390.5 674.2L1403.5 698.4L1403.5 1171.6L1377.5 1171.6Z" fill="none" stroke="#000" stroke-width="2" stroke-linejoin="miter"/>
<line x1="1403.5" y1="698.4" x2="1412.0" y2="698.4" class="tk"/>
<text x="1427.0" y="707.2" class="t">10<tspan class="sup" dy="-12.5">−1</tspan></text>
<line x1="1403.5" y1="791.1" x2="1412.0" y2="791.1" class="tk"/>
<text x="1427.0" y="799.9" class="t">10<tspan class="sup" dy="-12.5">−2</tspan></text>
<line x1="1403.5" y1="884.1" x2="1412.0" y2="884.1" class="tk"/>
<text x="1427.0" y="892.9" class="t">10<tspan class="sup" dy="-12.5">−3</tspan></text>
<line x1="1403.5" y1="935.2" x2="1412.0" y2="935.2" class="tk"/>
<text x="1427" y="944.0" class="t">0</text>
<line x1="1403.5" y1="985.2" x2="1412.0" y2="985.2" class="tk"/>
<text x="1425.0" y="994.0" class="t">−10<tspan class="sup" dy="-12.5">−3</tspan></text>
<line x1="1403.5" y1="1078.5" x2="1412.0" y2="1078.5" class="tk"/>
<text x="1425.0" y="1087.3" class="t">−10<tspan class="sup" dy="-12.5">−2</tspan></text>
<line x1="1403.5" y1="1171.6" x2="1412.0" y2="1171.6" class="tk"/>
<text x="1425.0" y="1180.4" class="t">−10<tspan class="sup" dy="-12.5">−1</tspan></text>
<g clip-path="url(#ax2)">
<g transform="matrix(3.236 0 0 -3.238 703.2 1591.5)">
<g clip-path="url(#landclip)">
<path d="M-168.1 65.6 -166.5 66.2 -164.5 66.6 -163.7 66.1 -161.8 66.3 -163.8 67.2 -165.5 67.9 -166.8 68.3 -165.5 68.9 -163.5 69.4 -161.9 70.3 -158 70.9 -156.5 71.3 -154.5 70.9 -152.3 70.9 -150 70.5 -146 70.2 -143 70.1 -141 69.7 -139 69.5 -137 69 -135 69.5 -133 69.6 -130 70.1 -128 70.5 -125 69.6 -123.5 69.4 -120 69.3 -117 68.8 -115 67.9 -112 67.8 -109 68 -106 68.6 -104 68.3 -101 67.8 -98 68 -96 68.2 -94.5 69.5 -95.5 71.5 -94.5 72 -92 71 -90 69.5 -88 68.5 -85.5 69.8 -82.5 69.5 -81.3 68.6 -82.5 67 -85 66.3 -86.8 65.5 -88 64.5 -90.5 63.9 -90.7 63.3 -93 62 -94.3 60.5 -94.5 59 -92.5 57.3 -90 57 -88 56.1 -85 55.3 -82.5 55.1 -82.3 53 -81 52 -79.7 51.4 -78.9 52.5 -79 54.3 -77 55.5 -76.5 57 -77.2 58.5 -77.8 60.1 -77.5 62.2 -75 62.3 -72.5 61.8 -70 61.1 -69.5 59 -68 58.5 -67.5 58.3 -66 58.8 -64.5 60.3 -63 58.5 -61.5 56.5 -60 55.2 -58 54.3 -56 53.3 -55.7 52.2 -57.3 51.5 -60 50.3 -63.5 50.2 -66.5 50.2 -68.5 49.3 -70.5 47.5 -71.2 46.8 -70 47.2 -68.5 48.5 -66 49.2 -64.2 48.9 -64.8 47.8 -65 47.1 -64.6 46.3 -63 45.7 -61.5 45.7 -60.3 46.9 -60 46.2 -61 45.3 -63.5 44.6 -65.5 43.5 -66.2 44.4 -64.5 45.3 -66.5 45.2 -67 44.8 -68.5 44.3 -70.2 43.6 -70.8 42.5 -70 41.8 -70.6 41.5 -71.5 41.4 -73 41.1 -74 40.6 -74 39.6 -74.9 38.9 -75.1 38.4 -75.9 37.4 -76.3 36.9 -75.5 35.6 -75.7 35.2 -76.7 34.7 -77.9 33.9 -79.2 33.2 -80.5 32.4 -81.3 31.5 -81.4 30.2 -80.6 28.5 -80.1 26.6 -80.4 25.3 -81.1 25.1 -81.8 26.3 -82.7 27.7 -82.8 29 -83.7 29.9 -84.5 30 -85.3 29.7 -86.5 30.4 -88 30.4 -89.5 30.2 -89.2 29.1 -90.5 29.1 -92 29.6 -93.8 29.7 -95 29.2 -96.6 28.1 -97.3 27.1 -97.2 25.9 -97.6 24.5 -97.7 22.5 -97.3 21.2 -96.4 19.5 -95 18.6 -94 18.2 -92.5 18.6 -91.4 18.7 -90.6 19.6 -90.4 20.9 -88.5 21.5 -87 21.5 -87.5 20.3 -87.8 18.5 -88.3 17.6 -88.3 16.3 -88.8 15.8 -87.5 15.8 -85 15.9 -83.4 15.2 -83.2 14.3 -83.6 12.8 -83.7 11.5 -83.3 10.6 -82.5 9.6 -81.5 8.8 -80 9.3 -78.5 9.4 -77.4 8.6 -76.8 8.6 -75.5 10.4 -74.8 11 -73.5 11.3 -72 12.4 -71.3 11.8 -71.9 11 -71.6 10.4 -71 11 -70.2 11.6 -70 12.2 -69.5 11.5 -68 10.6 -66.2 10.6 -64 10.7 -62.8 10.6 -61.9 10.1 -61.2 9 -60.7 8.5 -59.8 8.3 -58.5 7.2 -57.5 6.2 -55.5 5.9 -54 5.7 -52.5 5.1 -51.6 4.2 -51 3.2 -50 1.8 -50.5 0.2 -49 -0.5 -48.5 -1.2 -47 -0.8 -44.5 -2.5 -42 -2.8 -40 -2.8 -38.5 -3.7 -37.2 -4.9 -35.3 -5.2 -34.8 -7.5 -35.2 -9.2 -36.5 -10.6 -37.5 -12 -38.5 -13 -39 -14.5 -39 -17.5 -39.7 -19.5 -40.8 -21.8 -42 -23 -44.5 -23.3 -46.5 -24 -48 -25.5 -48.6 -27.5 -49.5 -29 -51 -31 -52.5 -33 -53.5 -34.2 -54.9 -34.9 -56.5 -34.8 -57.8 -34.4 -58.4 -34 -58.5 -34.5 -57.2 -35.7 -56.7 -36.4 -57.5 -38 -59 -38.7 -62 -38.9 -62.3 -40.5 -65 -41 -64.5 -42.3 -63.8 -42.6 -65 -43 -65.2 -44.5 -67 -45.5 -67.5 -46.5 -65.8 -47.5 -67.7 -49.5 -69 -50.5 -68.4 -52.3 -70 -52.8 -71 -53.8 -72 -54 -74.5 -52.5 -75.3 -50 -74.8 -48 -75.5 -46.5 -74 -44 -73.5 -42 -73.8 -40 -73.5 -37.5 -72.6 -35.5 -71.6 -33 -71.4 -30 -70.9 -27 -70.4 -23.5 -70.1 -20.5 -70.3 -18.4 -71.5 -17.3 -73.3 -16.3 -75.2 -15.2 -76.3 -13.8 -77.2 -12 -78.5 -9.5 -79.6 -7.2 -81.2 -6 -81.3 -4.3 -80.3 -3.4 -80 -2.5 -80.9 -2.2 -80.4 -0.5 -80 0.8 -79 1.6 -78.8 2.6 -77.5 3.8 -77.4 6.5 -77.9 7.2 -78.5 8.2 -79.6 8.9 -80.3 8.3 -80.5 7.3 -81.5 7.7 -82.9 8.1 -83.6 8.6 -85 9.8 -85.7 10.3 -85.8 11.2 -87 12.4 -87.7 13 -88.5 13.2 -89.8 13.5 -91.3 13.9 -92.3 14.5 -93.5 15.7 -94.7 16.2 -96.5 15.7 -98.5 16.3 -100.8 17.2 -102 17.9 -103.5 18.3 -104.9 19.3 -105.6 20.4 -105.3 21.5 -105.7 22.5 -106.6 23.5 -107.8 24.7 -109 25.6 -109.4 26.7 -110.6 27.8 -111.8 28.9 -112.9 30.5 -114.2 31.5 -114.8 31.8 -114.7 30.7 -114.2 29.8 -113 28.8 -112.3 27.5 -111.6 26.5 -110.8 24.8 -110 23.9 -109.5 23.2 -110.1 22.9 -111.3 24.3 -112.2 25.1 -112.8 26.5 -114.2 27.6 -115 27.8 -114.4 28.6 -115.7 29.8 -116.7 31.4 -117.1 32.5 -117.4 33.2 -118.4 33.8 -119.2 34.1 -120.6 34.5 -120.9 35.4 -121.9 36.5 -122.4 37.2 -122.5 37.8 -123 38.2 -123.7 39 -124.2 40.3 -124.1 41.5 -124.5 42.8 -124 44.5 -123.9 46.2 -124.7 48.4 -123.5 48.2 -122.6 47.3 -122.8 49 -123.8 49.7 -125 50.3 -127 51.3 -127.8 52.3 -129.3 53.6 -130.3 54.7 -130.6 55.9 -131.5 56 -132.3 57 -134 58.4 -135.7 59.3 -136.5 58.4 -138.5 59.1 -139.8 59.6 -141.5 60 -143.9 60 -146.5 60.6 -148.5 60.3 -149.7 59.7 -151.5 59.2 -151.5 60.7 -150.3 61.2 -151.7 60.9 -153.3 59.5 -154.2 58.5 -156 57.6 -157.9 56.6 -159.5 55.7 -161.5 55.3 -162.8 54.9 -164.7 54.5 -163.3 55.1 -161.3 55.9 -159.5 56.5 -158.3 57.6 -157.3 58.8 -158.6 58.8 -160.5 58.7 -162.2 59.9 -163.8 60.3 -165.2 60.6 -165.5 61.7 -164.6 63.1 -162.3 63.5 -161.1 64.4 -162.8 64.5 -164.7 64.5 -166.4 64.7 -167.5 65.4ZM-5.6 36 -6.3 36.5 -7.4 37.2 -8.9 37 -8.8 38.3 -9.5 38.8 -9 40 -8.8 41.9 -9.3 43 -8 43.7 -5.8 43.6 -3.8 43.4 -1.8 43.4 -1.4 44.5 -1.2 46.2 -2.2 47.2 -4.5 47.9 -4.8 48.4 -3 48.8 -1.6 48.6 -1.9 49.7 -1.2 49.4 0.2 49.7 1.5 50.3 2.5 51.1 3.5 51.5 4.2 52 4.8 53 6 53.5 7.2 53.3 8.5 53.6 8.8 54.3 8.6 55.5 8.2 56.7 10.6 57.7 10.3 56.5 10.9 56.3 10 55.5 9.6 54.9 10.5 54.4 11.3 53.9 13 54.4 14.2 53.9 16.5 54.5 18.5 54.8 19.5 54.4 21 55.2 21 56.5 21.5 57.5 22.5 57.7 24.3 57.2 24.1 58.3 23.5 59.2 25 59.5 28 59.5 30 60 29 60.5 26.5 60.4 23 59.9 21.5 60.6 21.5 61.8 22 63 24.5 64.8 25.5 65.3 24.5 65.8 22 65.6 21.2 64.5 19.5 63.5 18 62.5 17.3 61 18.5 60.2 18.8 59.5 16.5 57.8 16.5 56.5 14.5 55.8 13 55.4 12.5 56.5 11.5 58.5 11 59 10.5 59.9 9.5 59 7.5 58 6 58.3 5.5 59.3 5 60.5 5 62 6.5 62.8 8.5 63.5 10.5 64.5 12.5 66 14 67.5 16 68.8 18.5 69.8 21 70.2 24 71 26 71 28.5 70.9 31 70.3 33 69.4 36 69.1 40 67.8 41.2 66.7 39.5 66.1 38 66 35 64.3 37 63.9 40 64.6 43.5 66.1 44.2 68.1 46 68 47 67.6 53 68.5 54 68.3 58 68.8 60 69.8 64 69.3 67 68.6 68.5 68.3 69.5 72.5 72 72.8 72.7 71.5 73 69.5 73.8 67 75 68.2 75 71 77 72.3 78.5 72.4 80.5 73.5 86.5 73.8 86 74.8 90 75.5 95 76 100 76.5 104 77.7 107 76.5 111 76.7 113.5 75.7 112 74 118 73.5 123 73 127 73.6 129 72 132 71.5 136 71.6 140 72.5 145 72.3 150 71.5 153 70.9 157 71 160 70.7 162 69.6 165 69.6 168 69.9 170.5 70.1 173 69.8 176 69.8 178.5 69.2 180 68.9 180 65 178.6 64.5 177 62.6 173.5 61.7 170.3 60 166 60 163.5 59.8 163 58 162.5 56.5 161.8 55 160 53.2 158.5 52.9 156.7 51 155.8 53.5 155.5 56 156.7 57.7 158.4 58 160 59.5 161.8 60.3 163.7 61.8 162.2 61.5 160.3 61.9 159.2 61.7 156.7 61.5 154 59.2 151.2 58.8 149 59.4 145 59.4 142 59 140.5 57.8 138 56.5 135 54.7 137.2 54 139 54.1 141.2 53.2 140.6 51.5 140.1 48.5 138.5 47 136 44 133 42.8 131 42.6 130 42 129.5 40.8 128.5 39.7 127.5 39.4 128.5 38.3 129.4 36.5 129.3 35.2 128 34.8 126.5 34.4 126.3 35.5 126.7 37 126.3 37.8 125 37.8 125.2 38.6 124.7 39.6 122 39.2 121.2 38.8 121.5 40 121.9 40.9 120.5 40.2 119.5 39.7 118 39.2 117.6 38.6 118.5 37.5 119.2 37.1 120.7 37.7 122.5 37.2 120.7 36.3 119.3 35 120.5 33.2 121.8 31.7 121.9 30.8 121.5 29.5 120.7 28 119.6 26 118.5 24.6 117 23.5 115 22.7 113.5 22.2 111.5 21.5 110 20.5 109.8 21.5 108.5 21.6 107 20.8 106 19.5 105.7 18.5 106.6 17.3 108.3 16 109 14 109.3 12 108.5 11 107 10.5 106.5 9.5 105 8.6 104.8 10.2 103.5 10.5 102.6 12.1 101 12.7 100.1 13.4 99.9 12 99.2 10 100.3 8.5 101 6.9 102.2 6.2 103.4 4.5 103.4 2.7 104.2 1.4 103.5 1.3 101.3 2.9 100.3 5.3 100 6.5 98.5 8.2 98.5 10 98.6 12 97.8 14.5 97.6 16.5 96.4 16.9 95 15.8 94.3 16.2 94.5 18 93.5 19.5 92.3 20.7 92 21.5 91.5 22.6 90.5 22.2 89.1 21.9 87 21.5 86.8 20.3 85 19.3 83.5 17.8 82.2 16.6 80.2 15.5 80.3 13.2 79.8 11.5 79.3 10.3 78.2 8.9 77.5 8.1 76.5 9 75.8 11.2 74.8 12.9 74 15 73.3 17.5 72.8 19.5 72.6 21.3 72.5 22.4 71 21 69.2 22.4 70.3 22.9 68.5 23.5 67.3 24.5 66.6 25.4 64.5 25.2 61.6 25.2 59.5 25.4 57.3 25.8 56.8 27.1 56 27 54 26.7 52 27.7 50.8 28.9 50 30 48.6 29.9 48 29.5 48.5 28.5 49.5 27 50.2 26 50.8 24.8 51.5 25.8 51.6 24.6 52.5 24.2 54.5 24.3 56 25.7 56.4 26.4 56.3 24.9 57 24 58.6 23.6 59.8 22.5 58.5 20.5 57.8 19 56.7 18.2 55 17 53 16.6 52 15.7 49 14.2 45.5 13 43.5 12.7 43 14.5 42.6 16 41.5 17.8 40 19.9 39 21.5 38.5 23.5 37.2 25.2 36 26.8 35.2 28 34.9 29.5 34.2 31.3 34.5 31.6 34.9 32.8 35.5 34 35.9 35.3 36 36 36.2 36.6 35.5 36.6 34 36.3 32.5 36.1 30.6 36.7 29.5 36.2 28 36.8 27.3 37.5 26.5 38.5 26.2 39.5 26.5 40.3 26 40.8 24.5 40.9 23.5 40.3 22.6 40.3 22.9 39.3 23.3 38.2 22.7 37.5 23.1 36.5 22.5 36.4 21.7 36.9 21.1 37.8 21.5 38.3 20.7 38.9 20 39.7 19.4 40.3 19.5 41.8 18.5 42.4 17 43.2 15.9 43.6 15 44.5 14.3 45.3 13.6 45.6 12.4 45.4 12.3 44.5 13.5 43.6 14.3 42.4 16 41.9 15.9 41.5 17.5 40.8 18.5 40.1 17 40.5 16.5 39.7 17.2 39 16.1 38 15.6 38 15.7 39.5 14.8 40.3 14 40.9 12.5 41.6 11.2 42.4 10.5 43 10.2 43.9 8.9 44.4 7.5 43.8 6.5 43.1 5 43.4 4 43.5 3.1 43 3.2 42.4 3.2 41.9 1.2 41.1 0.5 40.5 -0.3 39.5 0.2 38.8 -0.7 37.6 -2.1 36.7 -4.4 36.7ZM34.2 31.3 32.3 31.3 31 31.6 29.9 31.3 28 31 25 31.6 23 32.6 21 32.8 20 31.5 19.5 30.3 17.5 31 15.5 31.8 13.5 32.8 11.5 33.1 10.5 33.6 10.8 35.2 11 37 10 37.3 8.5 36.9 5.5 36.7 3 36.8 0 35.9 -2 35.1 -5.3 35.9 -6.2 35.5 -6.8 34 -8.5 33.2 -9.3 32.5 -9.8 30.5 -11 28.5 -13.2 27.7 -8.7 27.7 -8.7 26 -12 26 -12 23.5 -13.1 22.8 -13 21.3 -17.1 21.3 -16.5 19.5 -16.2 18 -16.5 16.5 -17.5 14.7 -16.7 13.8 -16.7 12.4 -16.5 11.5 -15 10.8 -13.3 9.6 -12.5 7.8 -11 6.8 -9 5.2 -7.5 4.4 -5 5.1 -3 5.1 -1.5 5 0.5 5.8 1.8 6.2 3.5 6.4 5 5.8 6 4.3 7.5 4.5 8.5 4.6 9.3 3.9 9.8 2.5 9.5 1 9.3 0 8.8 -0.8 9.5 -2.5 11 -3.8 11.8 -4.7 12.2 -6 13 -8.5 13.8 -10.8 13.5 -12.5 12.5 -13.9 11.8 -15.8 11.8 -17.2 12.5 -18.5 13.5 -20.5 14.5 -22.6 14.9 -25 15.3 -27 16.5 -28.6 17.3 -30.5 18.2 -32.5 18.3 -34 18.9 -34.4 20 -34.8 22 -34.1 24 -34.1 25.6 -33.9 27 -33.5 28.5 -32.3 30 -31.3 31 -29.6 32.4 -28.5 32.9 -26.5 32.8 -25.8 35.3 -24.5 35.5 -22.1 34.8 -20 36.3 -18.8 38.5 -17.2 40.2 -16 40.6 -14.5 40.5 -11 39.7 -10 39.3 -8 38.9 -6.5 39.2 -5 40.2 -3 41 -2 41.6 -1.6 42.5 -0.5 44 1 46 2.5 48 4.5 49.2 6.5 50.5 9 51.2 10.5 51.3 11.8 50 11.4 48 11.1 45.5 10.5 43.5 11.4 43.2 11.5 42.6 12.6 41.5 13.9 40 15.3 39.2 16.5 38.5 17.8 37.4 18.8 37.2 21 36.8 22 35.6 23.9 34.6 25.8 33.6 27.5 32.6 29.7 32.5 29.9 33.5 28.5 34.3 27.8 34.7 29 34.9 29.5ZM113.5 -22.5 114.2 -21.8 116.7 -20.6 118.8 -20.3 121 -19.5 122.3 -17.5 123.5 -17.3 124.8 -15.8 126 -14.3 127.8 -14.3 129.5 -14.9 130 -13.3 131 -12.2 132.6 -11.6 133.6 -11.8 135 -12.2 136.8 -12.2 136.5 -13.2 135.6 -14.6 137 -15.8 139.3 -17.4 140.8 -17.4 141.5 -15 141.6 -13 142.3 -10.8 142.5 -10.7 143.3 -12 143.6 -14 145.3 -15 145.9 -17 146.3 -19 148.7 -20.5 150 -22.2 151.1 -23.5 153 -25.3 153.6 -28.5 153.1 -30.8 152.4 -32.5 151.3 -33.8 150.1 -36.2 149.9 -37.5 147.9 -37.9 146.3 -39.1 144.9 -37.9 143.5 -38.8 141 -38 139.6 -37.2 139.7 -36 138.1 -35.6 138.5 -34.5 137.8 -32.7 137.5 -34 136.9 -35.3 135.9 -34.8 135.2 -34.5 134.3 -33.2 132 -32 129.5 -31.6 127 -32.3 124 -33 123.5 -33.9 120 -33.9 118 -35 116.5 -35 115 -34.3 115.7 -33.3 115.7 -31.6 115 -29.5 114.2 -28 113.5 -26.5 113.9 -25.5 113.4 -24.4Z" fill="#f6f7f7"/>
<path d="M-141 72 -141 60.3 -139 60.3 -137.5 59.1 -135.5 59.8 -133.4 58.4 -131.7 56.6 -130 55.9 -130 54.7 -133 53 -126 48.3 -123 48.3 -123.2 49 -95.2 49 -95.2 49.4 -89.6 48 -84.5 46.5 -82.4 45.3 -82.5 43 -83.1 42.1 -79 42.8 -76.3 44.2 -74.7 45 -71.5 45 -70.7 45.4 -70 46.7 -69.2 47.4 -68.3 47.3 -67.8 47.1 -67.8 45.7 -67 44.8 -65 43 -50 45 -50 75 -141 75Z" fill="#4997c5" class="b"/>
<path d="M-123.2 49 -95.2 49 -95.2 49.4 -89.6 48 -84.5 46.5 -82.4 45.3 -82.5 43 -83.1 42.1 -79 42.8 -76.3 44.2 -74.7 45 -71.5 45 -70.7 45.4 -70 46.7 -69.2 47.4 -68.3 47.3 -67.8 47.1 -67.8 45.7 -67 44.8 -65 43 -70 35 -79 24 -82 24 -88 28 -97.2 25.9 -99.1 26.4 -100.3 28 -101.4 29.8 -102.7 29.7 -103.1 29 -104.5 29.6 -106.5 31.8 -108.2 31.8 -108.2 31.3 -111 31.3 -114.8 32.5 -114.7 32.7 -117.1 32.5 -119 31 -127 40 -126 48.3 -123 48.3Z" fill="#2065ab" class="b"/>
<path d="M-141 72 -141 60.3 -139 60.3 -137.5 59.1 -135.5 59.8 -133.4 58.4 -131.7 56.6 -130 55.9 -130 54.7 -134 54 -170 50 -170 72Z" fill="#2065ab" class="b"/>
<path d="M-117.1 32.5 -114.7 32.7 -114.8 32.5 -111 31.3 -108.2 31.3 -108.2 31.8 -106.5 31.8 -104.5 29.6 -103.1 29 -102.7 29.7 -101.4 29.8 -100.3 28 -99.1 26.4 -97.2 25.9 -95 25.9 -93 20 -89 23 -86.5 21.5 -87.4 18.4 -88.3 18.5 -88.9 17.9 -89.2 17.8 -91 17.8 -91 17.2 -91.5 17.2 -90.7 16.6 -90.5 16.1 -91.7 16.1 -92.2 15.2 -92.2 14.5 -92.5 13.5 -105 15 -118 28 -119 31Z" fill="#4393c3" class="b"/>
<path d="M-92.2 14.5 -92.2 15.2 -91.7 16.1 -90.5 16.1 -90.7 16.6 -91.5 17.2 -91 17.2 -91 17.8 -89.2 17.8 -89.2 15.9 -88.2 15.7 -89.2 15 -89.3 14.4 -90.1 13.7 -91 13 -92.5 13.5Z" fill="#f9ebe3" class="b"/>
<path d="M-89.2 17.8 -88.9 17.9 -88.3 18.5 -87.4 18.4 -87.6 16 -88.2 15.9 -89.2 15.9Z" fill="#f6f7f7" class="b"/>
<path d="M-89.2 15.9 -88.2 15.7 -88.2 15.9 -87 16.5 -83 16.3 -83.2 15 -84.3 14.7 -85 14.2 -86 13.9 -86.7 13.3 -87.3 12.9 -87.8 13.3 -88.5 13.9 -89.3 14.4 -89.2 15Z" fill="#fddbc7" class="b"/>
<path d="M-89.3 14.4 -88.5 13.9 -87.8 13.3 -87.7 13.1 -88.3 12.5 -90.2 13.2 -90.1 13.7Z" fill="#fae9df" class="b"/>
<path d="M-87.3 12.9 -86.7 13.3 -86 13.9 -85 14.2 -84.3 14.7 -83.2 15 -82.5 15 -82.8 10.9 -83.6 10.9 -84.7 11.1 -85.7 11.1 -86.2 11 -88 12.2Z" fill="#f9efe9" class="b"/>
<path d="M-85.7 11.1 -84.7 11.1 -83.6 10.9 -82.8 10.9 -82.5 9.6 -82.9 9.1 -82.9 8.1 -83.5 7.8 -86.3 9.5 -86.2 11Z" fill="#f8f1ed" class="b"/>
<path d="M-82.9 8.1 -82.9 9.1 -82.5 9.6 -81.5 9.5 -79 9.8 -77.4 8.7 -77.2 7.9 -77.9 7.2 -78.5 6.5 -81 6.8 -83.5 7.8Z" fill="#f8f1ed" class="b"/>
<path d="M-69.9 -4.2 -69.4 -1.1 -69.6 -0.5 -70 -0.2 -69.8 0.6 -69.8 1.1 -67.1 1.1 -66.9 1.2 -65.5 0.8 -64.4 1.5 -64 2.5 -64.6 4.1 -63.9 4 -62.8 4 -60 4.5 -59.6 3.9 -59.9 2.8 -59.7 1.8 -58.5 1.3 -56.5 1.9 -55.5 2.4 -54 2.2 -52.5 2.4 -51.7 4 -51.2 4 -49 3 -40 0 -32 -6 -36 -20 -47 -30 -53.4 -34 -53.5 -33.7 -53.2 -32.6 -53.8 -32 -55.6 -30.9 -56.6 -30.2 -57.6 -30.2 -56.3 -28.9 -55 -27.9 -53.8 -27.1 -53.6 -26.2 -54.6 -25.6 -54.3 -24 -55.4 -24 -55.6 -22.7 -57.8 -22.1 -57.9 -20.4 -58.2 -19.8 -57.5 -18.2 -58.3 -17.3 -58.4 -16.3 -60.2 -16.3 -60.5 -13.8 -61.9 -13.5 -63.5 -12.5 -65 -11.9 -65.4 -10.8 -65.4 -9.8 -66.6 -9.9 -68.3 -10.9 -69.6 -10.9 -70.6 -11 -70.5 -9.5 -72.7 -9 -74 -7.5 -73.7 -7.3 -72.9 -5.3Z" fill="#eb9172" class="b"/>
<path d="M-77.4 8.7 -76 10.5 -75 11.5 -72 12.6 -71.3 11.9 -72.2 11.1 -72.5 9.8 -73.3 9.2 -72.8 8.3 -72.4 7.4 -71.1 7 -70.1 7 -69.4 6.1 -67.7 6.2 -67.3 5.2 -67.8 4.5 -67.3 3.3 -67.8 2.8 -67.2 2.2 -66.9 1.2 -67.1 1.1 -69.8 1.1 -69.8 0.6 -70 -0.2 -69.6 -0.5 -69.4 -1.1 -69.9 -4.2 -70.7 -3.8 -72 -2.4 -73.6 -1.3 -75.2 -0.1 -76.6 0.3 -77.4 0.4 -78.8 1.4 -80 2 -78.5 6.5 -77.9 7.2 -77.2 7.9Z" fill="#fbd0b9" class="b"/>
<path d="M-71.3 11.9 -70 12.5 -68 11.5 -62 11.2 -60.5 9 -60 8.6 -59.8 8.3 -60.6 7.1 -61.2 6.7 -61.1 5.9 -60.7 5.2 -60.2 5.2 -60 4.5 -62.8 4 -63.9 4 -64.6 4.1 -64 2.5 -64.4 1.5 -65.5 0.8 -66.9 1.2 -67.2 2.2 -67.8 2.8 -67.3 3.3 -67.8 4.5 -67.3 5.2 -67.7 6.2 -69.4 6.1 -70.1 7 -71.1 7 -72.4 7.4 -72.8 8.3 -73.3 9.2 -72.5 9.8 -72.2 11.1Z" fill="#f6f7f7" class="b"/>
<path d="M-59.8 8.3 -59 8.5 -57 6.5 -57.1 5.9 -58 4 -57.3 3.3 -56.5 1.9 -58.5 1.3 -59.7 1.8 -59.9 2.8 -59.6 3.9 -60 4.5 -60.2 5.2 -60.7 5.2 -61.1 5.9 -61.2 6.7 -60.6 7.1Z" fill="#eff3f5" class="b"/>
<path d="M-57.1 5.9 -57 6.5 -54 6.3 -54 5.7 -54.2 3.8 -54 2.2 -55.5 2.4 -56.5 1.9 -57.3 3.3 -58 4Z" fill="#eff3f5" class="b"/>
<path d="M-54 5.7 -54 6.3 -51.5 5.5 -51.2 4 -51.7 4 -52.5 2.4 -54 2.2 -54.2 3.8Z" fill="#f6f7f7" class="b"/>
<path d="M-75.2 -0.1 -76.6 0.3 -77.4 0.4 -78.8 1.4 -80 2 -82 0 -81.5 -3.4 -80.3 -3.4 -80.2 -4.3 -79.3 -4.9 -78.6 -4.5 -78.3 -3.5 -76.6 -2.6 -75.6 -1.6 -75.2 -0.9Z" fill="#f5aa89" class="b"/>
<path d="M-80.3 -3.4 -81.5 -3.4 -82 -6 -76 -16 -70.4 -18.4 -69.6 -17.3 -69 -16.3 -69.4 -15.3 -68.9 -13 -68.7 -12.6 -69.6 -10.9 -70.6 -11 -70.5 -9.5 -72.7 -9 -74 -7.5 -73.7 -7.3 -72.9 -5.3 -69.9 -4.2 -70.7 -3.8 -72 -2.4 -73.6 -1.3 -75.2 -0.1 -75.2 -0.9 -75.6 -1.6 -76.6 -2.6 -78.3 -3.5 -78.6 -4.5 -79.3 -4.9 -80.2 -4.3Z" fill="#1b5593" class="b"/>
<path d="M-69.6 -10.9 -68.3 -10.9 -66.6 -9.9 -65.4 -9.8 -65.4 -10.8 -65 -11.9 -63.5 -12.5 -61.9 -13.5 -60.5 -13.8 -60.2 -16.3 -58.4 -16.3 -58.3 -17.3 -57.5 -18.2 -58.2 -19.8 -59.1 -19.3 -61.7 -19.6 -62.3 -20.5 -62.6 -22.2 -64.3 -22.8 -65 -22.1 -66.3 -21.8 -67.1 -22.7 -67.8 -22.8 -68.2 -21.5 -68.7 -19.4 -69.1 -18.3 -69.6 -17.3 -69 -16.3 -69.4 -15.3 -68.9 -13 -68.7 -12.6Z" fill="#f6f7f7" class="b"/>
<path d="M-57.9 -20.4 -57.8 -22.1 -55.6 -22.7 -55.4 -24 -54.3 -24 -54.6 -25.6 -54.7 -26.4 -55.7 -27.4 -58.6 -27.3 -57.6 -25.6 -58.8 -24.8 -60 -24.1 -61 -23.8 -62.6 -22.2 -62.3 -20.5 -61.7 -19.6 -59.1 -19.3 -58.2 -19.8Z" fill="#f6f7f7" class="b"/>
<path d="M-57.6 -30.2 -56.3 -28.9 -55 -27.9 -53.8 -27.1 -53.6 -26.2 -54.6 -25.6 -54.7 -26.4 -55.7 -27.4 -58.6 -27.3 -57.6 -25.6 -58.8 -24.8 -60 -24.1 -61 -23.8 -62.6 -22.2 -64.3 -22.8 -65 -22.1 -66.3 -21.8 -67.1 -22.7 -67.8 -22.8 -68.6 -24.5 -68.4 -26.2 -69 -27.5 -69.8 -30 -70.5 -32 -70 -33.5 -70.5 -36 -71.1 -37.5 -71.4 -39.5 -71.8 -42 -71.5 -44 -71.8 -45.5 -72.3 -47.5 -73.4 -49.5 -72.3 -51 -72 -52 -69.5 -52.2 -68.6 -52.5 -68.6 -56 -60 -56 -55 -38 -57 -35.2 -58.3 -34.2 -58.4 -33.5 -58.2 -32.5Z" fill="#59a1ca" class="b"/>
<path d="M-53.4 -34 -53.5 -33.7 -53.2 -32.6 -53.8 -32 -55.6 -30.9 -56.6 -30.2 -57.6 -30.2 -58.2 -32.5 -58.4 -33.5 -58.3 -34.2 -57 -35.2 -54 -35.5Z" fill="#d1e5f0" class="b"/>
<path d="M-70.4 -18.4 -69.6 -17.3 -69.1 -18.3 -68.7 -19.4 -68.2 -21.5 -67.8 -22.8 -68.6 -24.5 -68.4 -26.2 -69 -27.5 -69.8 -30 -70.5 -32 -70 -33.5 -70.5 -36 -71.1 -37.5 -71.4 -39.5 -71.8 -42 -71.5 -44 -71.8 -45.5 -72.3 -47.5 -73.4 -49.5 -72.3 -51 -72 -52 -69.5 -52.2 -68.6 -52.5 -68.6 -56 -80 -56 -78 -18Z" fill="#3480b9" class="b"/>
<path d="M-2 35.1 -1.8 34.5 -1.7 33.3 -1.2 32.1 -3.7 31.6 -3.5 30.9 -5.8 29.6 -8.7 28.7 -8.7 27.3 -4.8 25 1.2 21.1 1.8 20.6 3.2 19.8 3.3 19.1 4.3 19.2 5.8 19.4 7.5 20.9 9 21.8 12 23.5 11.5 24.3 10 24.8 9.3 26.3 9.8 27 9.8 29.4 9.5 30.2 9 32 7.5 33.8 8.2 35.5 8.6 36.9 8.6 38 -1 36Z" fill="#bddbea" class="b"/>
<path d="M-2 35.1 -1.8 34.5 -1.7 33.3 -1.2 32.1 -3.7 31.6 -3.5 30.9 -5.8 29.6 -8.7 28.7 -8.7 27.7 -13.2 27.7 -14 28 -10 31 -9.5 34 -6.2 35.8 -5.3 36Z" fill="#3885bc" class="b"/>
<path d="M-8.7 27.3 -4.8 25 -5.6 16.4 -5.5 15.5 -11.5 15.6 -12.2 14.8 -12.5 15.3 -14.5 16.6 -16.5 16.2 -17 16.5 -17.5 20 -17.1 21.3 -13 21.3 -13.1 22.8 -12 23.5 -12 26 -8.7 26Z" fill="#71b0d3" class="b"/>
<path d="M8.6 36.9 8.2 35.5 7.5 33.8 9 32 9.5 30.2 10.3 32.2 11.5 33.1 12 34 11.5 37.5 9 37.5Z" fill="#c5dfec" class="b"/>
<path d="M11.5 33.1 10.3 32.2 9.5 30.2 9.8 29.4 9.8 27 9.3 26.3 10 24.8 11.5 24.3 12 23.5 13.5 23.2 14 22.9 15 23 24 19.5 24 20 25 20 25 22 25.1 31.6 25 33 12 34Z" fill="#e0ecf3" class="b"/>
<path d="M25 22 36.9 22 37.3 22.3 38.6 18.5 38.4 17.9 36.9 16.1 36.5 14.3 36.4 13.4 35.6 12.6 35 11.2 34.3 10.6 34.1 9.5 34 8.6 33.2 8.4 33 7.8 34.4 6.8 35.9 4.6 34 4.2 33 3.9 31.6 3.7 30.8 3.5 29.8 4.4 28.4 4.3 27.4 5.1 25.3 7.5 24.6 8.2 23.6 8.7 22.9 10.9 22.5 11 22.2 12.7 22.9 13.7 23.8 15.7 24 19.5 24 20 25 20Z" fill="#f3f5f6" class="b"/>
<path d="M25 31.8 25 22 36.9 22 37.3 22.3 35.8 25.2 34.5 27.2 34.7 29 34.9 29.5 34.2 31.3 33 32 25 32Z" fill="#c6413e" class="b"/>
<path d="M24 19.5 15 23 15.5 20.7 15.9 20.4 15.3 17.9 13.5 14.4 13.6 13.7 14.1 13.1 14.2 12.6 14.5 12.3 14.9 11.8 15 10 13.9 9.6 14.5 8.9 15.5 7.5 17 7.9 18.6 9 20 9.1 21.7 9.9 22.9 10.9 22.5 11 22.2 12.7 22.9 13.7 23.8 15.7Z" fill="#d8e9f1" class="b"/>
<path d="M4.3 19.2 5.8 19.4 7.5 20.9 9 21.8 12 23.5 13.5 23.2 14 22.9 15 23 15.5 20.7 15.9 20.4 15.3 17.9 13.5 14.4 13.6 13.7 12.3 13.1 10 13.3 8 13.3 6.3 13.7 4.2 13.5 3.6 11.7 2.8 12.3 2.2 11.9 2 12.7 0.9 13.3 0.3 14.9 3.6 15.6 4.3 16.9Z" fill="#f3f5f6" class="b"/>
<path d="M-4.8 25 1.2 21.1 1.8 20.6 3.2 19.8 3.3 19.1 4.3 19.2 4.3 16.9 3.6 15.6 0.3 14.9 -0.5 15.1 -2 14.2 -3.2 13.7 -4.3 12.7 -5.2 11.4 -5.4 10.4 -6.2 10.5 -7.6 10.2 -8 10.2 -8.3 11 -8.9 12.1 -10.6 11.9 -11.4 12.4 -12.2 14.8 -11.5 15.6 -5.5 15.5 -5.6 16.4Z" fill="#d1e5f0" class="b"/>
<path d="M0.3 14.9 -0.5 15.1 -2 14.2 -3.2 13.7 -4.3 12.7 -5.2 11.4 -5.4 10.4 -4.7 9.7 -3.6 9.9 -2.8 9.6 -2.7 11 -0.1 11.1 0.9 11 1.4 11.5 2.2 11.9 2 12.7 0.9 13.3Z" fill="#d1e5f0" class="b"/>
<path d="M-12.2 14.8 -11.4 12.4 -12.4 12.4 -13.7 12.7 -16.7 12.4 -17.5 12.4 -18 14.7 -17 16.5 -16.5 16.2 -14.5 16.6 -12.5 15.3Z" fill="#529dc8" class="b"/>
<path d="M-16.9 13.1 -16.9 13.6 -15.4 13.6 -13.8 13.6 -13.8 13.3 -15.4 13.3 -16.7 13.1Z" fill="#d1e5f0" class="b"/>
<path d="M-13.7 12.7 -16.7 12.4 -17 11.8 -16 10.8 -15 10.9 -13.7 11.7Z" fill="#d1e5f0" class="b"/>
<path d="M-13.7 12.7 -12.4 12.4 -11.4 12.4 -10.6 11.9 -8.9 12.1 -8.3 11 -8 10.2 -8.2 9.5 -7.7 8.4 -8.2 7.6 -8.5 7.6 -9.4 7.4 -9.5 8.4 -10.3 8.5 -10.6 9.1 -11.2 10 -12.2 9.9 -13.2 9.1 -14 9 -16 10.8 -15 10.9 -13.7 11.7Z" fill="#bddbea" class="b"/>
<path d="M-13.2 9.1 -12.2 9.9 -11.2 10 -10.6 9.1 -10.3 8.5 -10.7 8 -11.5 6.9 -12.5 6.8 -14 8.5Z" fill="#81bad8" class="b"/>
<path d="M-11.5 6.9 -10.7 8 -10.3 8.5 -9.5 8.4 -9.4 7.4 -8.5 7.6 -8.3 6.5 -7.5 5.9 -7.5 4.3 -8.5 4 -12.5 6.8Z" fill="#eff3f5" class="b"/>
<path d="M-8 10.2 -7.6 10.2 -6.2 10.5 -5.4 10.4 -4.7 9.7 -3.6 9.9 -2.8 9.6 -2.5 8.2 -3.2 6.2 -2.9 5 -3 4 -7.5 4.3 -7.5 5.9 -8.3 6.5 -8.5 7.6 -8.2 7.6 -7.7 8.4 -8.2 9.5Z" fill="#f3f5f6" class="b"/>
<path d="M-2.8 9.6 -2.7 11 -0.1 11.1 0 10.6 0.4 10.2 0.3 8.8 0.6 8 0.5 6.9 1.2 6.1 1.2 5 -3 4 -2.9 5 -3.2 6.2 -2.5 8.2Z" fill="#90c4dd" class="b"/>
<path d="M-0.1 11.1 0.9 11 0.8 10.5 1.4 9.5 1.6 6.9 1.8 6.2 1.9 5 1.2 5 1.2 6.1 0.5 6.9 0.6 8 0.3 8.8 0.4 10.2 0 10.6Z" fill="#f6f7f7" class="b"/>
<path d="M0.9 11 1.4 11.5 2.2 11.9 2.8 12.3 3.6 11.7 3.8 10.6 2.7 9.4 2.7 6.4 2.7 5 1.9 5 1.8 6.2 1.6 6.9 1.4 9.5 0.8 10.5Z" fill="#eff3f5" class="b"/>
<path d="M2.7 6.4 2.7 9.4 3.8 10.6 3.6 11.7 4.2 13.5 6.3 13.7 8 13.3 10 13.3 12.3 13.1 13.6 13.7 14.1 13.1 14.2 12.6 13.8 11.5 13.3 10.3 12.9 8.9 12.2 8.4 11.8 7.1 11.1 6.5 10.2 7 9.7 6.5 8.8 5.6 8.5 4.5 8 3.5 2.7 5Z" fill="#bddbea" class="b"/>
<path d="M14.2 12.6 14.5 12.3 14.9 11.8 15 10 13.9 9.6 14.5 8.9 15.5 7.5 14.5 5.6 15.1 4 16.1 2.8 16.2 2.2 13.3 2.2 11.3 2.2 9.8 2.3 9 3.5 8.5 4.5 8.8 5.6 9.7 6.5 10.2 7 11.1 6.5 11.8 7.1 12.2 8.4 12.9 8.9 13.3 10.3 13.8 11.5Z" fill="#a5cee3" class="b"/>
<path d="M15.5 7.5 17 7.9 18.6 9 20 9.1 21.7 9.9 22.9 10.9 23.6 8.7 24.6 8.2 25.3 7.5 27.4 5.1 25.2 5.1 22.4 4.1 20.5 4.4 18.5 3.5 16.6 3.5 16.2 2.2 16.1 2.8 15.1 4 14.5 5.6Z" fill="#f3f5f6" class="b"/>
<path d="M9.8 2.3 11.3 2.2 11.3 1 9.5 1 9 1.5Z" fill="#f6f7f7" class="b"/>
<path d="M9.5 1 11.3 1 11.3 2.2 13.3 2.2 13.2 1.2 14.5 0.8 13.9 -0.5 14.5 -1.8 14.2 -2.5 12.5 -2.3 11.6 -2.8 12 -3.5 11.1 -3.9 8 -2 8.5 0.5Z" fill="#f3f5f6" class="b"/>
<path d="M13.3 2.2 16.2 2.2 16.6 3.5 18.5 3.5 18.1 1.5 17.6 -0.5 16.2 -2.2 16 -3.5 15.2 -4.3 13.3 -4.8 12.2 -5 11.8 -4.7 11.1 -3.9 12 -3.5 11.6 -2.8 12.5 -2.3 14.2 -2.5 14.5 -1.8 13.9 -0.5 14.5 0.8 13.2 1.2Z" fill="#ddebf2" class="b"/>
<path d="M18.5 3.5 20.5 4.4 22.4 4.1 25.2 5.1 27.4 5.1 28.4 4.3 29.8 4.4 30.8 3.5 31.2 2.3 30.5 1.2 29.6 -0.6 29.6 -1.4 29 -1.4 29 -2.8 29 -3.3 29.2 -4.4 29.4 -5.9 30.6 -8.3 28.9 -8.5 28.4 -9.2 28.6 -10.5 28.4 -11.8 29.4 -12.4 29.8 -13.4 29 -13.4 27.4 -12.1 26 -11.9 25.3 -11.2 24.3 -11.3 23.9 -10.9 22.2 -11.1 22.1 -9.9 21.8 -7.3 20.3 -7 19.4 -8 17.5 -8.1 16.3 -5.9 13.2 -5.9 12.2 -6 11 -6 12.2 -5 13.3 -4.8 15.2 -4.3 16 -3.5 16.2 -2.2 17.6 -0.5 18.1 1.5Z" fill="#acd2e5" class="b"/>
<path d="M12.2 -6 13.2 -5.9 16.3 -5.9 17.5 -8.1 19.4 -8 20.3 -7 21.8 -7.3 22.1 -9.9 22.2 -11.1 23.9 -10.9 24 -13 22 -13 22 -16.2 23.4 -17.6 21 -18 18.5 -17.4 13.5 -17.4 11.8 -17.2 10 -12 11 -6Z" fill="#7bb6d6" class="b"/>
<path d="M11.8 -17.2 13.5 -17.4 18.5 -17.4 21 -18 23.4 -17.6 24.5 -17.5 25.2 -17.8 23.4 -18.2 21 -18.3 21 -22 20 -22 20 -24.8 20 -28.4 19 -28.9 17.4 -28.7 16.5 -28.6 12 -20Z" fill="#71b0d3" class="b"/>
<path d="M20 -24.8 20 -22 21 -22 21 -18.3 23.4 -18.2 25.2 -17.8 26.2 -19.5 27.3 -20.5 28 -21.5 29.4 -22.1 28.2 -22.6 27 -23.6 26.5 -24.6 25.8 -25.5 25 -25.7 24 -25.5 22.7 -26 22 -26.8 20.8 -26.9Z" fill="#f3f5f6" class="b"/>
<path d="M16.5 -28.6 17.4 -28.7 19 -28.9 20 -28.4 20 -24.8 20.8 -26.9 22 -26.8 22.7 -26 24 -25.5 25 -25.7 25.8 -25.5 26.5 -24.6 27 -23.6 28.2 -22.6 29.4 -22.1 31.3 -22.4 32 -24.4 31.9 -25.9 32.1 -26.8 32.9 -26.8 34 -28 31 -33 20 -36 17 -33Z" fill="#59a1ca" class="b"/>
<path d="M27 -29.6 27.7 -28.9 28.7 -28.6 29.4 -29.4 29.2 -30 28.2 -30.6 27.4 -30.3Z" fill="#f6f7f7" class="b"/>
<path d="M30.8 -26.4 31.4 -25.7 32 -25.9 32.1 -26.8 31.3 -27.3 30.8 -26.8Z" fill="#f6f7f7" class="b"/>
<path d="M25.2 -17.8 26.2 -19.5 27.3 -20.5 28 -21.5 29.4 -22.1 31.3 -22.4 32.4 -21.3 32.7 -20.5 32.9 -18.5 32.9 -16.7 30.4 -15.6 28.9 -16 27.8 -17 26.5 -17.7Z" fill="#f3f5f6" class="b"/>
<path d="M22 -13 24 -13 24 -11 24.3 -11.3 25.3 -11.2 26 -11.9 27.4 -12.1 29 -13.4 29.8 -13.4 29.4 -12.4 28.4 -11.8 28.6 -10.5 28.4 -9.2 28.9 -8.5 30.6 -8.3 31 -8.6 32.9 -9.3 33.3 -9.5 33.6 -10.5 33.3 -12.3 32.7 -13.6 33.2 -14 30.4 -15.6 28.9 -16 27.8 -17 26.5 -17.7 25.2 -17.8 24.5 -17.5 23.4 -17.6 22 -16.2Z" fill="#f3f5f6" class="b"/>
<path d="M30.4 -15.6 33.2 -14 34.2 -15.3 34.5 -16.3 35.3 -17.1 35.8 -16 35.3 -14.3 34.5 -13.5 34.6 -11.4 37.5 -11.6 40.4 -10.4 42 -12 41 -20 36 -25 32.9 -26.8 32.1 -26.8 31.9 -25.9 32 -24.4 31.3 -22.4 32.4 -21.3 32.7 -20.5 32.9 -18.5 32.9 -16.7Z" fill="#acd2e5" class="b"/>
<path d="M33.3 -9.5 33.9 -9.4 34.6 -11.4 34.5 -13.5 35.3 -14.3 35.8 -16 35.3 -17.1 34.5 -16.3 34.2 -15.3 33.2 -14 32.7 -13.6 33.3 -12.3 33.6 -10.5Z" fill="#d8e9f1" class="b"/>
<path d="M29.2 -4.4 29.9 -4.4 30.9 -3.4 30.6 -2.4 30.9 -2 30.5 -1.1 31.7 -1 34 -1 37.6 -3 39.2 -4.7 40 -5.5 41 -10 40.4 -10.4 37.5 -11.6 34.6 -11.4 33.9 -9.4 33.3 -9.5 32.9 -9.3 31 -8.6 30.6 -8.3 29.4 -5.9Z" fill="#f3f5f6" class="b"/>
<path d="M34 4.2 35.9 4.6 36.8 4.4 38.7 3.6 39.9 3.5 40.8 4.3 41.9 3.9 41 2.8 41 -0.9 41.6 -1.7 42 -2.5 40 -5 39.2 -4.7 37.6 -3 34 -1 33.9 0.1 34.5 1.7Z" fill="#d1e5f0" class="b"/>
<path d="M30.8 3.5 31.6 3.7 33 3.9 34 4.2 34.5 1.7 33.9 0.1 34 -1 31.7 -1 30.5 -1.1 29.6 -1.4 29.6 -0.6 30.5 1.2 31.2 2.3Z" fill="#d1e5f0" class="b"/>
<path d="M29 -1.4 29.6 -1.4 30.5 -1.1 30.9 -2 30.6 -2.4 29.9 -2.8 29 -2.8Z" fill="#d1e5f0" class="b"/>
<path d="M29 -2.8 29.9 -2.8 30.6 -2.4 30.9 -3.4 29.9 -4.4 29.2 -4.4 29 -3.3Z" fill="#d1e5f0" class="b"/>
<path d="M36.5 14.3 36.4 13.4 35.6 12.6 35 11.2 34.3 10.6 34.1 9.5 34 8.6 33.2 8.4 33 7.8 34.4 6.8 35.9 4.6 36.8 4.4 38.7 3.6 39.9 3.5 40.8 4.3 41.9 3.9 43.7 4.9 45 5 47.8 8 44 9 43.7 9.4 42.7 11 41.8 11.5 42.4 12.5 41.7 13 40.1 14.4 39.2 14.5 37.9 14.9Z" fill="#f3f5f6" class="b"/>
<path d="M36.5 14.3 37.9 14.9 39.2 14.5 40.1 14.4 41.7 13 42.4 12.5 43.1 12.7 42 14.5 40 16 38.6 18.5 38.4 17.9 36.9 16.1Z" fill="#f6f7f7" class="b"/>
<path d="M42.4 12.5 41.8 11.5 42.7 11 43.2 11.5 43.4 12 43.1 12.7Z" fill="#f6f7f7" class="b"/>
<path d="M42.7 11 43.7 9.4 44 9 47.8 8 45 5 43.7 4.9 41.9 3.9 41 2.8 41 -0.9 41.6 -1.7 43 -1.5 52 11 51.5 12.2 47 11.7 43.3 11.8 43.2 11.5Z" fill="#f6f7f7" class="b"/>
<path d="M27.8 60.5 29.5 61.5 31.2 62.5 30 63.8 30.5 64.7 29.7 65.7 30 67.6 28.7 68.9 28.9 69 29.3 69.5 30.8 69.8 32 70.5 40 72 60 85 180 85 180 60 150 45 138 40 131 41.5 130.6 42.4 131.2 43 131.3 44.9 132.9 45 133.1 45.1 134.8 47.7 134.6 48.4 132 47.7 130.8 48.9 129 49.4 127.5 50 126.5 52 125 53.2 123.5 53.5 121.2 53.3 120 52.6 120.8 52 119.5 50.5 117.8 49.5 116.7 49.8 115.5 50 114 50.2 111.5 49.3 108 49.6 106 50.3 102.5 50.5 100 51.7 98.3 52.1 98 50.6 97.3 49.8 94.5 50 92.2 50.8 89.5 49.8 87.8 49.2 87.3 49.1 86.5 49.8 85 50.1 83.4 51 81 50.8 80 50.8 77.8 53.3 76.5 54.2 73.5 54 71 55.2 68 55 65.5 54.6 61.5 54 61 53 61.5 52 60 51.8 59.5 50.6 57.5 51 55.7 50.6 53.5 51.4 50.8 51.7 48.7 50.6 47.5 50.4 46.6 49 46.8 48.4 47.2 47.7 48.2 47.7 49 46.5 48.6 41.8 46.5 41.9 45 42.7 43.5 42.9 42 43.3 40 43.4 38 45 38.2 47.1 39.7 47.8 40.1 48.3 40 49.6 38.2 49.9 37.5 50.3 35.4 50.6 34.4 51.3 33.8 52.3 31.8 52.1 32.7 53.3 31.8 53.8 30.8 55.6 28.2 56.2 27.7 57.3 27.4 58.5 28 59.5Z" fill="#2065ab" class="b"/>
<path d="M19.6 54.4 22.7 54.4 22.9 55 21.3 55.2 20.5 55.2 19.9 54.9 19 54.8Z" fill="#2065ab" class="b"/>
<path d="M46.6 49 47.5 50.4 48.7 50.6 50.8 51.7 53.5 51.4 55.7 50.6 57.5 51 59.5 50.6 60 51.8 61.5 52 61 53 61.5 54 65.5 54.6 68 55 71 55.2 73.5 54 76.5 54.2 77.8 53.3 80 50.8 81 50.8 83.4 51 85 50.1 86.5 49.8 87.3 49.1 85.7 48.5 85.5 47.1 83 47.2 82.3 45.5 80 45 80.4 44 80.2 42.9 79 42.8 76 43 74.5 42.9 73.5 42.5 71.8 42.8 71 42.3 70 42.6 69.1 41.4 68.5 40.7 67.9 41.1 66.7 41.2 66 42 66 43 65 43.7 64 43.6 62 43.5 61 44.4 58.5 45.6 56 45 56 41.3 55.5 41.3 54.2 42.4 52.4 41.7 51 43.5 51 46 49 46.5 48.2 47.7 47.2 47.7 46.8 48.4Z" fill="#f3f5f6" class="b"/>
<path d="M130.6 42.4 131.2 43 131.3 44.9 132.9 45 133.1 45.1 134.8 47.7 134.6 48.4 132 47.7 130.8 48.9 129 49.4 127.5 50 126.5 52 125 53.2 123.5 53.5 121.2 53.3 120 52.6 120.8 52 119.5 50.5 117.8 49.5 116.7 49.8 87.8 49.2 87.3 49.1 85.7 48.5 85.5 47.1 83 47.2 82.3 45.5 80 45 80.4 44 80.2 42.9 80.2 42.1 74 40 73 38 72 36 76 33 80 28 90 26 96 26 99 20 104 20 106 20 107.5 21 110 19.5 113 21 118 23 122 28 123 33 123.5 37.5 128 38Z" fill="#6d0923" class="b"/>
<path d="M116.7 49.8 115.5 50 114 50.2 111.5 49.3 108 49.6 106 50.3 102.5 50.5 100 51.7 98.3 52.1 98 50.6 97.3 49.8 94.5 50 92.2 50.8 89.5 49.8 87.8 49.2 88.9 48.1 90.5 47.7 91 46.5 90.5 45.5 93.5 44.9 95.5 44.2 96.5 42.8 100 42.6 101.8 42.5 105 41.6 107 42.2 110.4 42.8 111.9 43.7 111.5 44.4 113.6 44.7 115.5 45.6 116.6 46.6 118 47 119.8 46.8 119.8 47.5 118.5 48 117.4 47.7 115.6 47.9Z" fill="#f3f5f6" class="b"/>
<path d="M124.4 40.1 125.5 40.8 126.9 41.8 128.2 41.4 128.9 42 130.2 42.7 130.6 42.4 131 41.5 129.5 39.5 128.4 38.6 127.5 38.3 126.7 37.9 126 37.7 124 38 124 39.8Z" fill="#a5cee3" class="b"/>
<path d="M128.4 38.6 127.5 38.3 126.7 37.9 126 37.7 125.5 37 125.8 34 127.5 33.8 129.8 35 129.8 37Z" fill="#529dc8" class="b"/>
<path d="M-1.8 43.6 -1.5 43.3 0 42.7 1.5 42.5 3.2 42.4 4.5 42 7.5 43.5 7.5 43.8 7 44.2 6.9 45.1 7 45.9 6.1 46.2 6.1 46.6 6.8 47.2 7.6 47.6 7.8 48.5 8.2 49 6.4 49.5 5.8 49.5 4.8 50 4.2 50.3 3 50.8 2.5 51.1 1 51 -6 48.5 -3 44Z" fill="#529dc8" class="b"/>
<path d="M-5.6 36 -7.4 37.2 -7.5 38.2 -7 39 -7.5 39.7 -6.9 40.2 -6.9 41 -6.6 41.9 -8.1 41.8 -8.9 42.1 -10 42 -10 44 -1.8 43.6 -1.5 43.3 0 42.7 1.5 42.5 3.2 42.4 4 41 1 38 -2 36 -5 36Z" fill="#4393c3" class="b"/>
<path d="M-8.9 37 -7.4 37.2 -7.5 38.2 -7 39 -7.5 39.7 -6.9 40.2 -6.9 41 -6.6 41.9 -8.1 41.8 -8.9 42.1 -10 42 -10 37Z" fill="#a5cee3" class="b"/>
<path d="M6.1 50.1 6.5 49.8 6.4 49.5 8.2 49 7.8 48.5 7.6 47.6 8.6 47.6 9.6 47.5 10.5 47.5 12.2 47.6 13 47.5 12.8 48.3 13.8 48.7 12.5 49.5 12.1 50.3 14.3 50.9 15 51.1 14.6 52.6 14.4 53.3 14.2 53.9 14 54.8 11 54.6 9.9 54.8 8.6 54.9 8 54.5 7.2 53.6 7.1 53.2 7 52.4 6.8 51.9 5.9 51.8 6.1 51.3 6 50.8 6.2 50.6Z" fill="#9dcbe1" class="b"/>
<path d="M14.2 53.9 14.4 53.3 14.6 52.6 15 51.1 16.3 50.7 17 50.3 18 50 18.5 49.5 19.5 49.5 20.5 49.4 22.5 49.1 22.7 49.6 24.1 50.7 23.6 51.5 23.2 52.3 23.9 53 23.5 54 22.7 54.4 19.6 54.4 19 54.8 16.5 54.8 14.2 54.2Z" fill="#b1d5e7" class="b"/>
<path d="M7.5 43.8 7 44.2 6.9 45.1 7 45.9 7.8 45.9 8.5 46.4 9 45.8 9.5 46.3 10.3 46.5 10.5 46.9 12.2 47 12.4 46.7 13.7 46.5 13.6 45.8 13.6 45.5 14 45 18.8 40.2 18.8 39.5 15 37.8 10 38.5 7.5 43.5Z" fill="#ddebf2" class="b"/>
<path d="M2.5 51.1 3 50.8 4.2 50.3 4.8 50 5.8 49.5 6.1 50.1 6.2 50.6 6 50.8 5.9 50.8 5.8 51.2 4.5 51.4 3.4 51.4 3 52Z" fill="#f6f7f7" class="b"/>
<path d="M5.8 49.5 6.4 49.5 6.5 49.8 6.1 50.1Z" fill="#f6f7f7" class="b"/>
<path d="M3.4 51.4 4.5 51.4 5.8 51.2 5.9 50.8 6 50.8 6.1 51.3 5.9 51.8 6.8 51.9 7 52.4 7.1 53.2 7.2 53.6 4.5 53.8 3 52Z" fill="#e4eef4" class="b"/>
<path d="M8.6 54.9 9.9 54.8 10.5 55 11 57 10.6 57.8 8 57.5 7.8 55Z" fill="#e4eef4" class="b"/>
<path d="M6.1 46.2 7 45.9 7.8 45.9 8.5 46.4 9 45.8 9.5 46.3 10.3 46.5 10.5 46.9 9.6 47.1 9.6 47.5 8.6 47.6 7.6 47.6 6.8 47.2 6.1 46.6Z" fill="#eff3f5" class="b"/>
<path d="M9.6 47.5 9.6 47.1 10.5 46.9 12.2 47 12.4 46.7 13.7 46.5 14.6 46.4 16 46.7 16.1 47 16.5 47.6 17.1 48 16.9 48.6 15 49 13.8 48.7 12.8 48.3 13 47.5 12.2 47.6 10.5 47.5Z" fill="#f9efe9" class="b"/>
<path d="M12.1 50.3 12.5 49.5 13.8 48.7 15 49 16.9 48.6 17.5 48.8 18.5 49.5 18 50 17 50.3 16.3 50.7 15 51.1 14.3 50.9Z" fill="#fae9df" class="b"/>
<path d="M17.1 48 16.9 48.6 17.5 48.8 18.5 49.5 19.5 49.5 20.5 49.4 22.5 49.1 22.2 48.4 21 48.5 20 48.5 18.8 47.9 17.8 47.8Z" fill="#f9efe9" class="b"/>
<path d="M16.1 47 16.5 47.6 17.1 48 17.8 47.8 18.8 47.9 20 48.5 21 48.5 22.2 48.4 22.9 48 22 47.4 21.2 46.4 20.2 46.1 18.8 45.9 17.3 45.9 16.6 46.5 16 46.7Z" fill="#f9ebe3" class="b"/>
<path d="M13.7 46.5 14.6 46.4 16 46.7 16.6 46.5 15.7 46.2 15.6 45.8 15.3 45.5 14.6 45.6 13.6 45.5 13.6 45.8Z" fill="#f6f7f7" class="b"/>
<path d="M13.6 45.5 14.6 45.6 15.3 45.5 15.6 45.8 15.7 46.2 16.6 46.5 17.3 45.9 18.8 45.9 19.4 45.2 19 44.9 17.6 45.1 16.5 45.2 15.8 44.7 16.2 44 17.5 43.1 18.5 42.5 18.4 42.4 17 43 15 44.2 13.5 45Z" fill="#eff3f5" class="b"/>
<path d="M15.8 44.7 16.5 45.2 17.6 45.1 19 44.9 19.4 44.3 19.5 43.9 19.2 43.5 18.7 43 18.5 42.5 17.5 43.1 16.2 44Z" fill="#f6f7f7" class="b"/>
<path d="M19 44.9 19.4 45.2 18.8 45.9 20.2 46.1 20.7 45.7 21.5 45.2 21.4 44.8 22.5 44.6 22.7 44.2 22.4 43.4 23 43 22.4 42.3 21.5 42.2 20.6 41.9 20.5 42.2 20.1 42.6 20.3 42.9 19.6 43.2 19.2 43.5 19.5 43.9 19.4 44.3Z" fill="#f3f5f6" class="b"/>
<path d="M18.5 42.5 18.7 43 19.2 43.5 19.6 43.2 20.3 42.9 20.1 42.6 19.7 42.6 19.4 41.9 19 41.8 18.4 42.4Z" fill="#f6f7f7" class="b"/>
<path d="M19.4 41.9 19.7 42.6 20.1 42.6 20.5 42.2 20.6 41.9 20.5 41.4 20.9 40.9 21 40.6 20.7 40.1 20 39.7 19 40 19 41.8Z" fill="#f6f7f7" class="b"/>
<path d="M20.6 41.9 21.5 42.2 22.4 42.3 23 41.6 22.9 41.3 22.7 41.1 21.9 41.1 20.9 40.9 20.5 41.4Z" fill="#f6f7f7" class="b"/>
<path d="M20 39.7 20.7 40.1 21 40.6 20.9 40.9 21.9 41.1 22.7 41.1 22.9 41.3 24.5 41.6 25.5 41.3 26.1 41.7 26.6 41.6 26.3 41.2 26 40.8 25.5 39 24 36 21 36.5 19.5 39.5Z" fill="#fae9df" class="b"/>
<path d="M22.4 42.3 23 43 22.4 43.4 22.7 44.2 23.5 43.8 25 43.7 26 43.9 27 44.1 28 43.8 28.6 43.7 29.5 43 28.5 42 28 42 27 42.1 26.6 41.6 26.1 41.7 25.5 41.3 24.5 41.6 22.9 41.3 23 41.6Z" fill="#f6f7f7" class="b"/>
<path d="M20.7 45.7 20.2 46.1 21.2 46.4 22 47.4 22.9 48 24.5 47.9 26.6 48.2 27.6 47.3 28.2 46.5 28.2 45.5 29.7 45.2 30 44 28.6 43.7 28 43.8 27 44.1 26 43.9 25 43.7 23.5 43.8 22.7 44.2 22.5 44.6 21.4 44.8 21.5 45.2Z" fill="#f6f7f7" class="b"/>
<path d="M26.6 48.2 27.6 48.5 29.1 47.9 29.6 47.3 30.1 46.4 29.3 46.4 28.9 46 28.2 45.5 28.2 46.5 27.6 47.3Z" fill="#f6f7f7" class="b"/>
<path d="M22.2 48.4 22.5 49.1 22.7 49.6 24.1 50.7 23.6 51.5 24.5 51.9 26 51.9 28 51.6 30.5 51.3 31.8 52.1 33.8 52.3 34.4 51.3 35.4 50.6 37.5 50.3 38.2 49.9 40 49.6 40.1 48.3 39.7 47.8 38.2 47.1 37 46 36 45 33.5 44.3 32 45.5 30.5 46 29.7 45.2 28.2 45.5 28.9 46 29.3 46.4 30.1 46.4 29.6 47.3 29.1 47.9 27.6 48.5 26.6 48.2 24.5 47.9 22.9 48Z" fill="#d1e5f0" class="b"/>
<path d="M23.2 52.3 23.6 51.5 24.5 51.9 26 51.9 28 51.6 30.5 51.3 31.8 52.1 32.7 53.3 31.8 53.8 30.8 55.6 28.2 56.2 26.6 55.7 25.6 54.8 25.8 54.2 24.4 53.9 23.5 54 23.9 53Z" fill="#f9ebe3" class="b"/>
<path d="M21 55.2 21.3 55.2 22.9 55 22.7 54.4 23.5 54 24.4 53.9 25.8 54.2 25.6 54.8 26.6 55.7 25 56.2 22.5 56.4 21 56.1 20.5 55.5Z" fill="#c5dfec" class="b"/>
<path d="M21 56.1 22.5 56.4 25 56.2 26.6 55.7 28.2 56.2 27.7 57.3 27 57.7 25.3 58 24.3 57.9 24.3 57.2 23 57.3 22 57.7 20.5 57Z" fill="#c5dfec" class="b"/>
<path d="M24.3 57.9 25.3 58 27 57.7 27.7 57.3 27.4 58.5 28 59.5 26 59.9 23 59.6 22.5 58.5 24.1 58.3Z" fill="#c5dfec" class="b"/>
<path d="M21 60 27.8 60.5 29.5 61.5 31.2 62.5 30 63.8 30.5 64.7 29.7 65.7 30 67.6 28.7 68.9 28.9 69 27 70 25.7 69.5 24.9 68.6 23 68.7 21 69.3 23.5 68 24 66.3 24.5 65.8 24 64.8 21 63 20.5 61Z" fill="#8ac0db" class="b"/>
<path d="M24.5 65.8 24 66.3 23.5 68 21 69.3 20.5 69.1 18.2 68.5 17.5 68 16.1 67.2 15.5 66.3 14.5 65.8 13.7 64.6 14.1 63.6 12.2 63.4 12.7 62 12.4 61.3 12.8 60.1 11.8 59.8 11.4 59.1 11 58.5 11.5 57 12.5 55.3 14.5 55.2 17 56 19.5 59 19 60.5 17.8 62.5 20 63.8 22 65.3Z" fill="#81bad8" class="b"/>
<path d="M11.4 59.1 11.8 59.8 12.8 60.1 12.4 61.3 12.7 62 12.2 63.4 14.1 63.6 13.7 64.6 14.5 65.8 15.5 66.3 16.1 67.2 17.5 68 18.2 68.5 20.5 69.1 21 69.3 23 68.7 24.9 68.6 25.7 69.5 27 70 28.9 69 29.3 69.5 30.8 69.8 32 71.5 20 72 10 66 3 61 5 57.5 9 57.5 10.5 58.5Z" fill="#3c8abe" class="b"/>
<path d="M40 43.4 42 43.3 43.5 42.9 45 42.7 46.5 41.9 46.7 41.3 45.3 41.4 43.5 41.1 42.8 41.6 41.5 41.5 39.5 42.5Z" fill="#f6f7f7" class="b"/>
<path d="M43.5 41.1 45.3 41.4 45.5 40.9 45.6 40.3 46.5 39.5 46.5 38.9 46.1 38.9 45 39.8 43.8 40.1 43.6 40.8Z" fill="#f6f7f7" class="b"/>
<path d="M46.5 41.9 48.6 41.8 50 40.5 49.5 39 48.8 38.4 48 38.8 48.2 39.4 46.5 38.9 46.5 39.5 45.6 40.3 45.5 40.9 45.3 41.4 46.7 41.3Z" fill="#f6f7f7" class="b"/>
<path d="M26 40.8 26.3 41.2 26.6 41.6 27 42.1 28 42 28.5 42 29 41.5 35 42.5 39.5 42.5 41.5 41.5 42.8 41.6 43.5 41.1 43.6 40.8 43.8 40.1 44.8 39.7 44.4 38.3 44.8 37.2 42.4 37.1 41 37.1 38 36.8 36.7 36.8 36.6 36.2 36.2 35.9 35.8 35.8 33 35.8 27 36.5 25.5 39Z" fill="#f3f5f6" class="b"/>
<path d="M36.2 35.9 36.6 36.2 36.7 36.8 38 36.8 41 37.1 42.4 37.1 41.3 36.4 41.2 34.4 38.8 33.4 36.8 32.3 35.8 32.7 35.8 33.3 36.6 34.2 36 34.6 35.5 35.5Z" fill="#f8f4f2" class="b"/>
<path d="M35.1 33.1 35.8 33.3 36.6 34.2 36 34.6 35 34.6Z" fill="#f6f7f7" class="b"/>
<path d="M34.2 31.3 34.9 29.5 35.4 31 35.5 31.8 35.6 32.7 35.8 32.7 35.8 33.3 35.1 33.1 34 32.5 33.9 31.5Z" fill="#f6f7f7" class="b"/>
<path d="M34.9 29.4 36.5 29.5 38 30.5 37 31.5 39 32.3 39.3 32.2 40.4 31.9 42 31.1 44.7 29.2 46.6 29.1 47.7 28.5 48.5 28.5 49.8 27 50.3 26 50.8 24.8 51.2 24.6 51.6 24.3 52.6 22.9 55.2 22.7 55.7 22 55 20 52 19 49 18.6 47 17 46.3 17.2 44.5 17.4 43.3 17.6 42.8 16.4 41 17 37.5 21.5 35.5 27.5 35.3 28.2 35 29.3Z" fill="#f3f5f6" class="b"/>
<path d="M34.9 29.5 36.5 29.5 38 30.5 37 31.5 39 32.3 39.3 32.2 38.8 33.4 36.8 32.3 35.8 32.7 35.6 32.7 35.5 31.8 35.4 31Z" fill="#f8f1ed" class="b"/>
<path d="M42.4 37.1 44.8 37.2 45.5 35.8 46 35.1 45.5 34 46.5 33 47.5 32.5 47.9 31 48.5 30.5 48.6 29.9 48.1 30 47.7 30.1 46.6 29.1 44.7 29.2 42 31.1 40.4 31.9 39.3 32.2 38.8 33.4 41.2 34.4 41.3 36.4Z" fill="#f8f1ed" class="b"/>
<path d="M46.6 29.1 47.7 30.1 48.1 30 48.6 29.9 48.5 28.5 47.7 28.5Z" fill="#f6f7f7" class="b"/>
<path d="M50.8 24.8 51.2 24.6 51.6 24.6 51.7 26.2 51 26.2Z" fill="#f6f7f7" class="b"/>
<path d="M51.6 24.3 52.6 22.9 55.2 22.7 55.7 22 55.9 24.2 56.3 24.9 56.1 26.1 55 25.8 52 24.8Z" fill="#f6f7f7" class="b"/>
<path d="M55.7 22 55.9 24.2 56.3 24.9 57 24 58.6 23.6 60 22.5 59 20 57 18 55 16.8 53.1 16.6 52 19 55 20Z" fill="#a5cee3" class="b"/>
<path d="M52 19 53.1 16.6 53 15 49 13.5 45.5 12.5 43.6 12.6 42.5 14.5 42.5 16.2 42.8 16.4 43.3 17.6 44.5 17.4 46.3 17.2 47 17 49 18.6Z" fill="#a5cee3" class="b"/>
<path d="M44.8 39.7 44.4 38.3 44.8 37.2 45.5 35.8 46 35.1 45.5 34 46.5 33 47.5 32.5 47.9 31 48.5 30.5 48.6 29.9 50 29.5 52 27.2 54 26.3 56.2 26.9 57 25.6 59 25.2 61.6 25.1 61.8 26.2 63.2 26.6 63.3 27.2 62.8 28.3 61.9 28.6 60.9 29.8 61.7 31.3 60.9 31.5 60.6 33.3 60.9 34.3 61.2 35.6 60.4 36.6 59.2 37.4 57.3 38 55.5 37.9 54.2 37.3 53.9 37.3 51.5 37.2 49 38.3 48.8 38.4 48 38.8 48.2 39.4 46.5 38.9 46.1 38.9 45 39.8Z" fill="#fddbc7" class="b"/>
<path d="M53.9 37.3 54.2 37.3 55.5 37.9 57.3 38 59.2 37.4 60.4 36.6 61.2 35.6 62.3 35.3 63.1 35.9 64.5 36.3 65.6 37.3 66.5 37.4 66.6 38 64.5 39.5 62.4 40.3 61 41.2 60 42 58.6 42.7 57.8 42.2 56 41.3 55.5 41.3 54.2 42.4 52.4 41.7 52.8 40 53 38Z" fill="#f6f7f7" class="b"/>
<path d="M56 41.3 57.8 42.2 58.6 42.7 60 42 61 41.2 62.4 40.3 64.5 39.5 66.6 38 66.5 37.4 67.8 37.2 68.4 38.2 67.7 39 68.6 39.5 70.5 39.6 71 40.3 73.1 40.9 71.8 41.4 70.5 41.5 71 42.3 70 42.6 69.1 41.4 68.5 40.7 67.9 41.1 66.7 41.2 66 42 66 43 65 43.7 64 43.6 62 43.5 61 44.4 58.5 45.6 56 45Z" fill="#f9ebe3" class="b"/>
<path d="M80.2 42.9 79 42.8 76 43 74.5 42.9 73.5 42.5 71.8 42.8 71 42.3 70.5 41.5 71.8 41.4 73.1 40.9 71 40.3 70.5 39.6 72 39.4 73.6 39.5 75.5 40.6 76.8 41 78.3 41.4 80.2 42.1Z" fill="#f6f7f7" class="b"/>
<path d="M67.8 37.2 68.4 38.2 67.7 39 68.6 39.5 70.5 39.6 72 39.4 73.6 39.5 74.9 38.5 74.9 37.2 72.6 37 71.3 37.1 71.5 37.9 70.2 37.6 68.9 37.3Z" fill="#f6f7f7" class="b"/>
<path d="M61.2 35.6 60.9 34.3 60.6 33.3 60.9 31.5 61.7 31.3 60.9 29.8 62.5 29.4 64 29.5 66.3 29.9 66.6 31 68 31.8 69.3 31.9 70 33 69.5 33.8 70.9 34 71.2 34.7 71.6 35.4 71.5 36 72.5 36.8 74.5 37 74.9 37.2 72.6 37 71.3 37.1 71.5 37.9 70.2 37.6 68.9 37.3 67.8 37.2 66.5 37.4 65.6 37.3 64.5 36.3 63.1 35.9 62.3 35.3Z" fill="#f6f7f7" class="b"/>
<path d="M68.2 23.7 68.7 24.3 69.5 24.3 70.2 25.5 69.5 26.6 70.5 27.8 72 28 73.4 29.9 74 30 74.5 31 75.3 32.3 74.6 32.9 74 34.5 76 35 77.8 35.5 78.7 34.6 79.5 33 78.5 32.5 79 31.4 81 30.2 82.5 29.7 84.2 29 85.6 28.3 86.9 28 88.1 27.9 88.2 27.9 88.8 28 88.9 27.3 89.5 28.2 90.5 28.1 91.7 27.8 92.5 27.8 94 28.8 95.4 29.1 96.4 29.2 97.3 28.2 96.2 27.3 95.1 26.4 94.6 25.2 94.1 23.9 93.3 24.1 93.2 22.3 92.6 22 92.3 21 89 21 85 18 80 12 77 7 75 10 70 20 68 22.5Z" fill="#760b24" class="b"/>
<path d="M61.6 25.1 61.8 26.2 63.2 26.6 63.3 27.2 62.8 28.3 61.9 28.6 60.9 29.8 62.5 29.4 64 29.5 66.3 29.9 66.6 31 68 31.8 69.3 31.9 70 33 69.5 33.8 70.9 34 71.2 34.7 71.6 35.4 71.5 36 72.5 36.8 74.5 37 75.5 36.8 77 35.8 77.8 35.5 76 35 74 34.5 74.6 32.9 75.3 32.3 74.5 31 74 30 73.4 29.9 72 28 70.5 27.8 69.5 26.6 70.2 25.5 69.5 24.3 68.7 24.3 68.2 23.7 66 24 61.5 24.8Z" fill="#ddebf2" class="b"/>
<path d="M80.1 28.8 81 30.2 82.5 29.7 84.2 29 85.6 28.3 86.9 28 88.1 27.9 88.1 26.4 86 26.6 84.6 27.3 83.3 27.4 81 28.4Z" fill="#fce0d0" class="b"/>
<path d="M88.9 27.3 89.8 26.7 92 26.9 91.7 27.8 90.5 28.1 89.5 28.2Z" fill="#f6f7f7" class="b"/>
<path d="M92.6 22 92.3 23.7 91.8 24.2 92.4 25 90 25.3 89.8 26 88.5 26.5 88.2 25.2 89 24.3 88.7 23.3 89.1 21.5 92.2 20.7 92.6 21.3Z" fill="#c43b3c" class="b"/>
<path d="M97.3 28.2 98.5 27.6 98.7 26 97.7 24.8 98.5 24 99.5 22.1 101.2 21.4 100.1 20.4 98.9 19.8 97.8 18.6 97.5 17.8 98.9 16.4 98.2 15.1 99.2 13.2 99.1 11.5 98.5 10 97.5 10 94.5 15 93 19 92.2 20.7 92.6 21.3 92.6 22 93.2 22.3 93.3 24.1 94.1 23.9 94.6 25.2 95.1 26.4 96.2 27.3Z" fill="#f6f7f7" class="b"/>
<path d="M100.1 20.4 98.9 19.8 97.8 18.6 97.5 17.8 98.9 16.4 98.2 15.1 99.2 13.2 99.1 11.5 98.5 10 98 8 99.5 6.5 100.1 6.5 101 5.9 101.8 5.8 102.1 6.2 102.5 7 101 8.5 100 10 100.5 12.5 101.5 12.5 102.9 11.7 102.5 12.6 102.8 13.5 103.6 14.4 105.2 14.3 105.6 15.7 104.8 16.5 104.7 17.4 103 18 102.1 18.2 101.1 17.5 101.3 19.6 100.5 19.5Z" fill="#e27b62" class="b"/>
<path d="M101.2 21.4 101.7 22.4 102.1 22.4 102.9 21.7 103 20.8 104.1 20.9 104.6 20.6 104.4 19.7 105.1 19 105.9 18.3 106.7 17 107.4 16 107.6 15.3 107.6 14.6 106.5 14.6 105.6 14 105.2 14.3 105.6 15.7 104.8 16.5 104.7 17.4 103 18 102.1 18.2 101.1 17.5 101.3 19.6 100.5 19.5 100.1 20.4Z" fill="#fbd0b9" class="b"/>
<path d="M102.9 11.7 102.5 12.6 102.8 13.5 103.6 14.4 105.2 14.3 105.6 14 106.5 14.6 107.6 14.6 107.5 13 106.4 11.9 105.8 11 104.5 10.4 103.5 10 102.5 11Z" fill="#a5cee3" class="b"/>
<path d="M102.1 22.4 103 22.6 104 22.8 105.3 23.3 106.7 22.8 106.6 22.3 107.8 21.6 108.5 21 107 19.5 108 17 110 13 109.5 10.5 106.5 8 104.5 8.3 104.5 10.4 105.8 11 106.4 11.9 107.5 13 107.6 14.6 107.6 15.3 107.4 16 106.7 17 105.9 18.3 105.1 19 104.4 19.7 104.6 20.6 104.1 20.9 103 20.8 102.9 21.7Z" fill="#c43b3c" class="b"/>
<path d="M100.1 6.5 101 5.9 101.8 5.8 102.1 6.2 104 5 104.5 1.5 103.5 1.2 101 2.5 99.8 5.5Z" fill="#4393c3" class="b"/>
<path d="M113.5 -22.5 114.2 -21.8 116.7 -20.6 118.8 -20.3 121 -19.5 122.3 -17.5 123.5 -17.3 124.8 -15.8 126 -14.3 127.8 -14.3 129.5 -14.9 130 -13.3 131 -12.2 132.6 -11.6 133.6 -11.8 135 -12.2 136.8 -12.2 136.5 -13.2 135.6 -14.6 137 -15.8 139.3 -17.4 140.8 -17.4 141.5 -15 141.6 -13 142.3 -10.8 142.5 -10.7 143.3 -12 143.6 -14 145.3 -15 145.9 -17 146.3 -19 148.7 -20.5 150 -22.2 151.1 -23.5 153 -25.3 153.6 -28.5 153.1 -30.8 152.4 -32.5 151.3 -33.8 150.1 -36.2 149.9 -37.5 147.9 -37.9 146.3 -39.1 144.9 -37.9 143.5 -38.8 141 -38 139.6 -37.2 139.7 -36 138.1 -35.6 138.5 -34.5 137.8 -32.7 137.5 -34 136.9 -35.3 135.9 -34.8 135.2 -34.5 134.3 -33.2 132 -32 129.5 -31.6 127 -32.3 124 -33 123.5 -33.9 120 -33.9 118 -35 116.5 -35 115 -34.3 115.7 -33.3 115.7 -31.6 115 -29.5 114.2 -28 113.5 -26.5 113.9 -25.5 113.4 -24.4Z" fill="#b8d8e9"/>
</g>
<path d="M-168.1 65.6 -166.5 66.2 -164.5 66.6 -163.7 66.1 -161.8 66.3 -163.8 67.2 -165.5 67.9 -166.8 68.3 -165.5 68.9 -163.5 69.4 -161.9 70.3 -158 70.9 -156.5 71.3 -154.5 70.9 -152.3 70.9 -150 70.5 -146 70.2 -143 70.1 -141 69.7 -139 69.5 -137 69 -135 69.5 -133 69.6 -130 70.1 -128 70.5 -125 69.6 -123.5 69.4 -120 69.3 -117 68.8 -115 67.9 -112 67.8 -109 68 -106 68.6 -104 68.3 -101 67.8 -98 68 -96 68.2 -94.5 69.5 -95.5 71.5 -94.5 72 -92 71 -90 69.5 -88 68.5 -85.5 69.8 -82.5 69.5 -81.3 68.6 -82.5 67 -85 66.3 -86.8 65.5 -88 64.5 -90.5 63.9 -90.7 63.3 -93 62 -94.3 60.5 -94.5 59 -92.5 57.3 -90 57 -88 56.1 -85 55.3 -82.5 55.1 -82.3 53 -81 52 -79.7 51.4 -78.9 52.5 -79 54.3 -77 55.5 -76.5 57 -77.2 58.5 -77.8 60.1 -77.5 62.2 -75 62.3 -72.5 61.8 -70 61.1 -69.5 59 -68 58.5 -67.5 58.3 -66 58.8 -64.5 60.3 -63 58.5 -61.5 56.5 -60 55.2 -58 54.3 -56 53.3 -55.7 52.2 -57.3 51.5 -60 50.3 -63.5 50.2 -66.5 50.2 -68.5 49.3 -70.5 47.5 -71.2 46.8 -70 47.2 -68.5 48.5 -66 49.2 -64.2 48.9 -64.8 47.8 -65 47.1 -64.6 46.3 -63 45.7 -61.5 45.7 -60.3 46.9 -60 46.2 -61 45.3 -63.5 44.6 -65.5 43.5 -66.2 44.4 -64.5 45.3 -66.5 45.2 -67 44.8 -68.5 44.3 -70.2 43.6 -70.8 42.5 -70 41.8 -70.6 41.5 -71.5 41.4 -73 41.1 -74 40.6 -74 39.6 -74.9 38.9 -75.1 38.4 -75.9 37.4 -76.3 36.9 -75.5 35.6 -75.7 35.2 -76.7 34.7 -77.9 33.9 -79.2 33.2 -80.5 32.4 -81.3 31.5 -81.4 30.2 -80.6 28.5 -80.1 26.6 -80.4 25.3 -81.1 25.1 -81.8 26.3 -82.7 27.7 -82.8 29 -83.7 29.9 -84.5 30 -85.3 29.7 -86.5 30.4 -88 30.4 -89.5 30.2 -89.2 29.1 -90.5 29.1 -92 29.6 -93.8 29.7 -95 29.2 -96.6 28.1 -97.3 27.1 -97.2 25.9 -97.6 24.5 -97.7 22.5 -97.3 21.2 -96.4 19.5 -95 18.6 -94 18.2 -92.5 18.6 -91.4 18.7 -90.6 19.6 -90.4 20.9 -88.5 21.5 -87 21.5 -87.5 20.3 -87.8 18.5 -88.3 17.6 -88.3 16.3 -88.8 15.8 -87.5 15.8 -85 15.9 -83.4 15.2 -83.2 14.3 -83.6 12.8 -83.7 11.5 -83.3 10.6 -82.5 9.6 -81.5 8.8 -80 9.3 -78.5 9.4 -77.4 8.6 -76.8 8.6 -75.5 10.4 -74.8 11 -73.5 11.3 -72 12.4 -71.3 11.8 -71.9 11 -71.6 10.4 -71 11 -70.2 11.6 -70 12.2 -69.5 11.5 -68 10.6 -66.2 10.6 -64 10.7 -62.8 10.6 -61.9 10.1 -61.2 9 -60.7 8.5 -59.8 8.3 -58.5 7.2 -57.5 6.2 -55.5 5.9 -54 5.7 -52.5 5.1 -51.6 4.2 -51 3.2 -50 1.8 -50.5 0.2 -49 -0.5 -48.5 -1.2 -47 -0.8 -44.5 -2.5 -42 -2.8 -40 -2.8 -38.5 -3.7 -37.2 -4.9 -35.3 -5.2 -34.8 -7.5 -35.2 -9.2 -36.5 -10.6 -37.5 -12 -38.5 -13 -39 -14.5 -39 -17.5 -39.7 -19.5 -40.8 -21.8 -42 -23 -44.5 -23.3 -46.5 -24 -48 -25.5 -48.6 -27.5 -49.5 -29 -51 -31 -52.5 -33 -53.5 -34.2 -54.9 -34.9 -56.5 -34.8 -57.8 -34.4 -58.4 -34 -58.5 -34.5 -57.2 -35.7 -56.7 -36.4 -57.5 -38 -59 -38.7 -62 -38.9 -62.3 -40.5 -65 -41 -64.5 -42.3 -63.8 -42.6 -65 -43 -65.2 -44.5 -67 -45.5 -67.5 -46.5 -65.8 -47.5 -67.7 -49.5 -69 -50.5 -68.4 -52.3 -70 -52.8 -71 -53.8 -72 -54 -74.5 -52.5 -75.3 -50 -74.8 -48 -75.5 -46.5 -74 -44 -73.5 -42 -73.8 -40 -73.5 -37.5 -72.6 -35.5 -71.6 -33 -71.4 -30 -70.9 -27 -70.4 -23.5 -70.1 -20.5 -70.3 -18.4 -71.5 -17.3 -73.3 -16.3 -75.2 -15.2 -76.3 -13.8 -77.2 -12 -78.5 -9.5 -79.6 -7.2 -81.2 -6 -81.3 -4.3 -80.3 -3.4 -80 -2.5 -80.9 -2.2 -80.4 -0.5 -80 0.8 -79 1.6 -78.8 2.6 -77.5 3.8 -77.4 6.5 -77.9 7.2 -78.5 8.2 -79.6 8.9 -80.3 8.3 -80.5 7.3 -81.5 7.7 -82.9 8.1 -83.6 8.6 -85 9.8 -85.7 10.3 -85.8 11.2 -87 12.4 -87.7 13 -88.5 13.2 -89.8 13.5 -91.3 13.9 -92.3 14.5 -93.5 15.7 -94.7 16.2 -96.5 15.7 -98.5 16.3 -100.8 17.2 -102 17.9 -103.5 18.3 -104.9 19.3 -105.6 20.4 -105.3 21.5 -105.7 22.5 -106.6 23.5 -107.8 24.7 -109 25.6 -109.4 26.7 -110.6 27.8 -111.8 28.9 -112.9 30.5 -114.2 31.5 -114.8 31.8 -114.7 30.7 -114.2 29.8 -113 28.8 -112.3 27.5 -111.6 26.5 -110.8 24.8 -110 23.9 -109.5 23.2 -110.1 22.9 -111.3 24.3 -112.2 25.1 -112.8 26.5 -114.2 27.6 -115 27.8 -114.4 28.6 -115.7 29.8 -116.7 31.4 -117.1 32.5 -117.4 33.2 -118.4 33.8 -119.2 34.1 -120.6 34.5 -120.9 35.4 -121.9 36.5 -122.4 37.2 -122.5 37.8 -123 38.2 -123.7 39 -124.2 40.3 -124.1 41.5 -124.5 42.8 -124 44.5 -123.9 46.2 -124.7 48.4 -123.5 48.2 -122.6 47.3 -122.8 49 -123.8 49.7 -125 50.3 -127 51.3 -127.8 52.3 -129.3 53.6 -130.3 54.7 -130.6 55.9 -131.5 56 -132.3 57 -134 58.4 -135.7 59.3 -136.5 58.4 -138.5 59.1 -139.8 59.6 -141.5 60 -143.9 60 -146.5 60.6 -148.5 60.3 -149.7 59.7 -151.5 59.2 -151.5 60.7 -150.3 61.2 -151.7 60.9 -153.3 59.5 -154.2 58.5 -156 57.6 -157.9 56.6 -159.5 55.7 -161.5 55.3 -162.8 54.9 -164.7 54.5 -163.3 55.1 -161.3 55.9 -159.5 56.5 -158.3 57.6 -157.3 58.8 -158.6 58.8 -160.5 58.7 -162.2 59.9 -163.8 60.3 -165.2 60.6 -165.5 61.7 -164.6 63.1 -162.3 63.5 -161.1 64.4 -162.8 64.5 -164.7 64.5 -166.4 64.7 -167.5 65.4ZM-5.6 36 -6.3 36.5 -7.4 37.2 -8.9 37 -8.8 38.3 -9.5 38.8 -9 40 -8.8 41.9 -9.3 43 -8 43.7 -5.8 43.6 -3.8 43.4 -1.8 43.4 -1.4 44.5 -1.2 46.2 -2.2 47.2 -4.5 47.9 -4.8 48.4 -3 48.8 -1.6 48.6 -1.9 49.7 -1.2 49.4 0.2 49.7 1.5 50.3 2.5 51.1 3.5 51.5 4.2 52 4.8 53 6 53.5 7.2 53.3 8.5 53.6 8.8 54.3 8.6 55.5 8.2 56.7 10.6 57.7 10.3 56.5 10.9 56.3 10 55.5 9.6 54.9 10.5 54.4 11.3 53.9 13 54.4 14.2 53.9 16.5 54.5 18.5 54.8 19.5 54.4 21 55.2 21 56.5 21.5 57.5 22.5 57.7 24.3 57.2 24.1 58.3 23.5 59.2 25 59.5 28 59.5 30 60 29 60.5 26.5 60.4 23 59.9 21.5 60.6 21.5 61.8 22 63 24.5 64.8 25.5 65.3 24.5 65.8 22 65.6 21.2 64.5 19.5 63.5 18 62.5 17.3 61 18.5 60.2 18.8 59.5 16.5 57.8 16.5 56.5 14.5 55.8 13 55.4 12.5 56.5 11.5 58.5 11 59 10.5 59.9 9.5 59 7.5 58 6 58.3 5.5 59.3 5 60.5 5 62 6.5 62.8 8.5 63.5 10.5 64.5 12.5 66 14 67.5 16 68.8 18.5 69.8 21 70.2 24 71 26 71 28.5 70.9 31 70.3 33 69.4 36 69.1 40 67.8 41.2 66.7 39.5 66.1 38 66 35 64.3 37 63.9 40 64.6 43.5 66.1 44.2 68.1 46 68 47 67.6 53 68.5 54 68.3 58 68.8 60 69.8 64 69.3 67 68.6 68.5 68.3 69.5 72.5 72 72.8 72.7 71.5 73 69.5 73.8 67 75 68.2 75 71 77 72.3 78.5 72.4 80.5 73.5 86.5 73.8 86 74.8 90 75.5 95 76 100 76.5 104 77.7 107 76.5 111 76.7 113.5 75.7 112 74 118 73.5 123 73 127 73.6 129 72 132 71.5 136 71.6 140 72.5 145 72.3 150 71.5 153 70.9 157 71 160 70.7 162 69.6 165 69.6 168 69.9 170.5 70.1 173 69.8 176 69.8 178.5 69.2 180 68.9 180 65 178.6 64.5 177 62.6 173.5 61.7 170.3 60 166 60 163.5 59.8 163 58 162.5 56.5 161.8 55 160 53.2 158.5 52.9 156.7 51 155.8 53.5 155.5 56 156.7 57.7 158.4 58 160 59.5 161.8 60.3 163.7 61.8 162.2 61.5 160.3 61.9 159.2 61.7 156.7 61.5 154 59.2 151.2 58.8 149 59.4 145 59.4 142 59 140.5 57.8 138 56.5 135 54.7 137.2 54 139 54.1 141.2 53.2 140.6 51.5 140.1 48.5 138.5 47 136 44 133 42.8 131 42.6 130 42 129.5 40.8 128.5 39.7 127.5 39.4 128.5 38.3 129.4 36.5 129.3 35.2 128 34.8 126.5 34.4 126.3 35.5 126.7 37 126.3 37.8 125 37.8 125.2 38.6 124.7 39.6 122 39.2 121.2 38.8 121.5 40 121.9 40.9 120.5 40.2 119.5 39.7 118 39.2 117.6 38.6 118.5 37.5 119.2 37.1 120.7 37.7 122.5 37.2 120.7 36.3 119.3 35 120.5 33.2 121.8 31.7 121.9 30.8 121.5 29.5 120.7 28 119.6 26 118.5 24.6 117 23.5 115 22.7 113.5 22.2 111.5 21.5 110 20.5 109.8 21.5 108.5 21.6 107 20.8 106 19.5 105.7 18.5 106.6 17.3 108.3 16 109 14 109.3 12 108.5 11 107 10.5 106.5 9.5 105 8.6 104.8 10.2 103.5 10.5 102.6 12.1 101 12.7 100.1 13.4 99.9 12 99.2 10 100.3 8.5 101 6.9 102.2 6.2 103.4 4.5 103.4 2.7 104.2 1.4 103.5 1.3 101.3 2.9 100.3 5.3 100 6.5 98.5 8.2 98.5 10 98.6 12 97.8 14.5 97.6 16.5 96.4 16.9 95 15.8 94.3 16.2 94.5 18 93.5 19.5 92.3 20.7 92 21.5 91.5 22.6 90.5 22.2 89.1 21.9 87 21.5 86.8 20.3 85 19.3 83.5 17.8 82.2 16.6 80.2 15.5 80.3 13.2 79.8 11.5 79.3 10.3 78.2 8.9 77.5 8.1 76.5 9 75.8 11.2 74.8 12.9 74 15 73.3 17.5 72.8 19.5 72.6 21.3 72.5 22.4 71 21 69.2 22.4 70.3 22.9 68.5 23.5 67.3 24.5 66.6 25.4 64.5 25.2 61.6 25.2 59.5 25.4 57.3 25.8 56.8 27.1 56 27 54 26.7 52 27.7 50.8 28.9 50 30 48.6 29.9 48 29.5 48.5 28.5 49.5 27 50.2 26 50.8 24.8 51.5 25.8 51.6 24.6 52.5 24.2 54.5 24.3 56 25.7 56.4 26.4 56.3 24.9 57 24 58.6 23.6 59.8 22.5 58.5 20.5 57.8 19 56.7 18.2 55 17 53 16.6 52 15.7 49 14.2 45.5 13 43.5 12.7 43 14.5 42.6 16 41.5 17.8 40 19.9 39 21.5 38.5 23.5 37.2 25.2 36 26.8 35.2 28 34.9 29.5 34.2 31.3 34.5 31.6 34.9 32.8 35.5 34 35.9 35.3 36 36 36.2 36.6 35.5 36.6 34 36.3 32.5 36.1 30.6 36.7 29.5 36.2 28 36.8 27.3 37.5 26.5 38.5 26.2 39.5 26.5 40.3 26 40.8 24.5 40.9 23.5 40.3 22.6 40.3 22.9 39.3 23.3 38.2 22.7 37.5 23.1 36.5 22.5 36.4 21.7 36.9 21.1 37.8 21.5 38.3 20.7 38.9 20 39.7 19.4 40.3 19.5 41.8 18.5 42.4 17 43.2 15.9 43.6 15 44.5 14.3 45.3 13.6 45.6 12.4 45.4 12.3 44.5 13.5 43.6 14.3 42.4 16 41.9 15.9 41.5 17.5 40.8 18.5 40.1 17 40.5 16.5 39.7 17.2 39 16.1 38 15.6 38 15.7 39.5 14.8 40.3 14 40.9 12.5 41.6 11.2 42.4 10.5 43 10.2 43.9 8.9 44.4 7.5 43.8 6.5 43.1 5 43.4 4 43.5 3.1 43 3.2 42.4 3.2 41.9 1.2 41.1 0.5 40.5 -0.3 39.5 0.2 38.8 -0.7 37.6 -2.1 36.7 -4.4 36.7ZM34.2 31.3 32.3 31.3 31 31.6 29.9 31.3 28 31 25 31.6 23 32.6 21 32.8 20 31.5 19.5 30.3 17.5 31 15.5 31.8 13.5 32.8 11.5 33.1 10.5 33.6 10.8 35.2 11 37 10 37.3 8.5 36.9 5.5 36.7 3 36.8 0 35.9 -2 35.1 -5.3 35.9 -6.2 35.5 -6.8 34 -8.5 33.2 -9.3 32.5 -9.8 30.5 -11 28.5 -13.2 27.7 -8.7 27.7 -8.7 26 -12 26 -12 23.5 -13.1 22.8 -13 21.3 -17.1 21.3 -16.5 19.5 -16.2 18 -16.5 16.5 -17.5 14.7 -16.7 13.8 -16.7 12.4 -16.5 11.5 -15 10.8 -13.3 9.6 -12.5 7.8 -11 6.8 -9 5.2 -7.5 4.4 -5 5.1 -3 5.1 -1.5 5 0.5 5.8 1.8 6.2 3.5 6.4 5 5.8 6 4.3 7.5 4.5 8.5 4.6 9.3 3.9 9.8 2.5 9.5 1 9.3 0 8.8 -0.8 9.5 -2.5 11 -3.8 11.8 -4.7 12.2 -6 13 -8.5 13.8 -10.8 13.5 -12.5 12.5 -13.9 11.8 -15.8 11.8 -17.2 12.5 -18.5 13.5 -20.5 14.5 -22.6 14.9 -25 15.3 -27 16.5 -28.6 17.3 -30.5 18.2 -32.5 18.3 -34 18.9 -34.4 20 -34.8 22 -34.1 24 -34.1 25.6 -33.9 27 -33.5 28.5 -32.3 30 -31.3 31 -29.6 32.4 -28.5 32.9 -26.5 32.8 -25.8 35.3 -24.5 35.5 -22.1 34.8 -20 36.3 -18.8 38.5 -17.2 40.2 -16 40.6 -14.5 40.5 -11 39.7 -10 39.3 -8 38.9 -6.5 39.2 -5 40.2 -3 41 -2 41.6 -1.6 42.5 -0.5 44 1 46 2.5 48 4.5 49.2 6.5 50.5 9 51.2 10.5 51.3 11.8 50 11.4 48 11.1 45.5 10.5 43.5 11.4 43.2 11.5 42.6 12.6 41.5 13.9 40 15.3 39.2 16.5 38.5 17.8 37.4 18.8 37.2 21 36.8 22 35.6 23.9 34.6 25.8 33.6 27.5 32.6 29.7 32.5 29.9 33.5 28.5 34.3 27.8 34.7 29 34.9 29.5ZM113.5 -22.5 114.2 -21.8 116.7 -20.6 118.8 -20.3 121 -19.5 122.3 -17.5 123.5 -17.3 124.8 -15.8 126 -14.3 127.8 -14.3 129.5 -14.9 130 -13.3 131 -12.2 132.6 -11.6 133.6 -11.8 135 -12.2 136.8 -12.2 136.5 -13.2 135.6 -14.6 137 -15.8 139.3 -17.4 140.8 -17.4 141.5 -15 141.6 -13 142.3 -10.8 142.5 -10.7 143.3 -12 143.6 -14 145.3 -15 145.9 -17 146.3 -19 148.7 -20.5 150 -22.2 151.1 -23.5 153 -25.3 153.6 -28.5 153.1 -30.8 152.4 -32.5 151.3 -33.8 150.1 -36.2 149.9 -37.5 147.9 -37.9 146.3 -39.1 144.9 -37.9 143.5 -38.8 141 -38 139.6 -37.2 139.7 -36 138.1 -35.6 138.5 -34.5 137.8 -32.7 137.5 -34 136.9 -35.3 135.9 -34.8 135.2 -34.5 134.3 -33.2 132 -32 129.5 -31.6 127 -32.3 124 -33 123.5 -33.9 120 -33.9 118 -35 116.5 -35 115 -34.3 115.7 -33.3 115.7 -31.6 115 -29.5 114.2 -28 113.5 -26.5 113.9 -25.5 113.4 -24.4Z" fill="none" class="c"/>
<path d="M28 41.3 28.6 43.4 29.6 45.2 30.8 46.5 32 46.3 33 45.7 32.5 45.3 33.5 44.5 35 44.8 35.5 45.3 34.8 46.2 35.5 46.5 37.5 47.1 39.2 47.2 38.2 46.4 37.8 45.6 36.7 45.2 37.5 44.7 39 44.3 41.5 41.5 39.5 41 36.5 41.3 35 42 33 42 31 41.1 29.2 41.2Z" fill="#fff" class="c"/>
<path d="M47 45.5 49.5 46.6 51.5 47 53 46.5 53 45.3 51.3 44.5 50.5 44 51.5 43 52.7 42 52.9 41 53.8 40.5 53 39.5 53.9 37.3 51.5 36.8 50 37.4 49 38.3 49.5 40.3 48 41.8 47.5 43 47.3 44.3 46.8 44.8Z" fill="#fff" class="c"/>
<path d="M-73.3 78.2 -72 78.8 -66 80.2 -61 81.9 -51 82.3 -40 83.4 -30 83.6 -22 82.5 -12 81.6 -11.5 81.3 -18 80 -17.5 77.5 -19 75 -21.5 72.5 -22 70.5 -23 70.2 -26 68.5 -32 68.2 -34.5 66.5 -39 65.5 -40.5 64.5 -41.5 62.5 -43 60.5 -44 59.8 -46.5 60.6 -48.5 61.5 -50.5 63.5 -52 65 -53.5 66.5 -53.5 68.5 -51 69.3 -54 70.5 -52.5 71.5 -55.5 72.5 -57.5 74.5 -59 75.8 -65 76.1 -70 76.9Z" fill="#a5cee3" class="c"/>
<path d="M-22 63.8 -22.7 64 -24 64.9 -22.4 65.4 -24.4 65.6 -22.8 66.4 -21.5 65.6 -20.4 66.1 -18.8 66.2 -16.2 66.5 -14.6 66.3 -15 65.7 -13.6 65.1 -14.8 64.3 -16.5 63.8 -18.7 63.4 -20.5 63.7Z" fill="#4393c3" class="c"/>
<path d="M-64.5 62.3 -66 61.9 -68 62.2 -70.5 62.7 -72 63.5 -74 64.3 -76.5 64.2 -78 64.5 -77.5 65.3 -74 65.5 -73.5 66.5 -73.5 67.3 -75.5 68.3 -77 68.5 -77.5 69.5 -79 69.8 -82 69.6 -85 69.9 -87.5 70.3 -89 71 -90 72.5 -88.5 73.5 -85 73.6 -80 73.6 -77 72.6 -74 71.5 -71 70.8 -68 70.3 -66.5 69 -64.5 67.8 -62 66.8 -61.5 66.5 -63.5 65.5 -64.5 64.6 -65.5 63.8 -64.5 63.2 -65 62.7Z" fill="#4997c5" class="c hh"/>
<path d="M-119 71.3 -117.5 72.5 -114.5 73.3 -111 72.9 -108 73.2 -105 72.8 -104.5 71.5 -102 70.8 -101 69.8 -103 69.2 -106 69.2 -108.5 68.8 -111.5 68.6 -114 69 -117 69.2 -118.8 69.8 -116 70.3 -117.5 70.8Z" fill="#4997c5" class="c hh"/>
<path d="M-125.5 71.9 -124.5 73.5 -120.5 74.4 -115.5 73.5 -117.5 72.3 -120 71.5 -123 71.1Z" fill="#4997c5" class="c hh"/>
<path d="M-117 75.8 -114.5 76.5 -110 76.8 -106 76 -106.5 75.2 -110 74.8 -113.5 74.5 -117 74.9Z" fill="#000000" class="c hh"/>
<path d="M-122.5 76.3 -119 77.4 -116 76.8 -119 75.9Z" fill="#000000" class="c hh"/>
<path d="M-101 76.3 -98 76.3 -97.5 75 -100.5 74.8Z" fill="#000000" class="c hh"/>
<path d="M-96.5 75.5 -93 75.6 -93.5 74.7 -96.5 74.9Z" fill="#000000" class="c hh"/>
<path d="M-96 75.8 -93 76.8 -88 76.5 -83 76.7 -79.5 75.5 -82 74.6 -88 74.5 -92 74.9Z" fill="#4997c5" class="c hh"/>
<path d="M-89.5 77.2 -88 78.8 -86 79.5 -85 80.5 -80 81.5 -73 82.5 -63 82.9 -61 82.4 -65 81.5 -69 80.5 -71 79.8 -74 79 -76 78.3 -78 77.6 -80 76.3 -84 76.3Z" fill="#4997c5" class="c hh"/>
<path d="M-96.5 80 -92 81.3 -89 80.8 -87.5 79.8 -89 78.6 -92 78.2 -95 78.8Z" fill="#000000" class="c hh"/>
<path d="M-104 78.5 -100 78.9 -99 78 -101.5 77.7Z" fill="#000000" class="c hh"/>
<path d="M-98 78.5 -96 78.7 -95.5 77.9 -97.5 77.8Z" fill="#000000" class="c hh"/>
<path d="M-101.5 73.5 -98 74 -96.5 72.8 -98 71.4 -100.5 72.2Z" fill="#4997c5" class="c hh"/>
<path d="M-95 74 -91 73.8 -91.5 72.5 -94.5 72.2Z" fill="#000000" class="c hh"/>
<path d="M-99.5 69 -97 69.8 -95.5 69 -97 68.3Z" fill="#4997c5" class="c hh"/>
<path d="M-81 73.9 -77 73.5 -79 72.9Z" fill="#000000" class="c hh"/>
<path d="M-86 65.8 -81.3 64.3 -84 62.5 -87 63.8 -88.5 64.4Z" fill="#4997c5" class="c hh"/>
<path d="M-83 63 -80.5 62.5 -81.5 62.1Z" fill="#4997c5" class="c hh"/>
<path d="M-106 77.8 -104 77.3 -105.5 77Z" fill="#000000" class="c hh"/>
<path d="M-114 77.5 -112 78.1 -110 77.8Z" fill="#000000" class="c hh"/>
<path d="M-104.5 76.4 -102 76.5 -103 75.9Z" fill="#000000" class="c hh"/>
<path d="M-59.4 47.6 -55.5 46.8 -52.8 46.6 -52.6 47.6 -53.5 48.5 -53.2 49.5 -55.5 49.9 -55.9 51.5 -57.4 50.6 -58.6 49.1Z" fill="#4997c5" class="c hh"/>
<path d="M-123.3 48.4 -125 48.9 -127.9 50.1 -128.4 50.8 -127 50.6 -125.3 50.1 -124 49.2Z" fill="#4997c5" class="c hh"/>
<path d="M-132 54 -133 54.2 -131.8 52.5 -131.2 52.2Z" fill="#4997c5" class="c hh"/>
<path d="M-64.3 49.9 -61.7 49.1 -62.3 49.4Z" fill="#4997c5" class="c hh"/>
<path d="M-64 46.9 -62 46.4 -63.5 46.2Z" fill="#4997c5" class="c hh"/>
<path d="M-153.5 57.3 -152.2 58 -152.4 57.5 -154.5 56.8Z" fill="#2065ab" class="c"/>
<path d="M-170.5 63.7 -168.7 63.3 -171.8 63.4Z" fill="#2065ab" class="c"/>
<path d="M-165.5 54.1 -166.5 53.4 -167.5 53.7 -166.5 54Z" fill="#2065ab" class="c"/>
<path d="M-84.9 21.9 -84.3 22.9 -82.5 23.1 -80.5 22.9 -78.5 22.4 -77.1 21.4 -75.6 21 -74.2 20.3 -75 19.9 -77.6 19.9 -77.2 20.6 -78.6 21.6 -81.2 22.1 -82.3 22.7 -83.5 22.2Z" fill="#f6f7f7" class="c"/>
<path d="M-5.7 50.1 -3 50.7 0.3 50.8 1.4 51.2 0.9 51.8 1.7 52.7 0.3 53.4 -0.2 54.2 -1.2 54.6 -1.6 55.6 -2.6 56.2 -1.8 57.5 -3.2 58.6 -5 58.6 -5.7 57.6 -5.6 56.4 -5.5 55.4 -4.9 55.7 -5 54.8 -3.2 54.9 -3.3 54.2 -3 53.4 -4.6 53.3 -4.2 52.3 -5.3 51.8 -3.2 51.4 -4.5 51.2Z" fill="#7bb6d6" class="c h"/>
<path d="M-6 52.2 -6 53.4 -6.2 54.1 -7.3 54.2 -7.3 55.3 -8.5 54.6 -10 54.2 -9.9 53.4 -9.5 52.6 -10.4 51.9 -9.6 51.5 -8 51.8 -6.4 52.2Z" fill="#90c4dd" class="c"/>
<path d="M-6.2 54.1 -5.5 54.6 -6 55.2 -7.3 55.3 -7.3 54.2Z" fill="#7bb6d6" class="c h"/>
<path d="M12.4 37.8 13.5 38.2 15.6 38.3 15.1 37.3 15.2 36.7 14.3 37 12.7 37.6Z" fill="#ddebf2" class="c"/>
<path d="M8.4 39 8.2 40.8 9.6 41.2 9.7 39.2Z" fill="#ddebf2" class="c"/>
<path d="M8.6 41.4 8.7 42.8 9.5 43 9.5 42Z" fill="#529dc8" class="c"/>
<path d="M23.5 35.3 26.3 35.3 26.1 35 23.6 35.2Z" fill="#fae9df" class="c"/>
<path d="M32.3 34.7 33 35.3 34.6 35.7 33.9 34.9 33 34.6Z" fill="#f6f7f7" class="c"/>
<path d="M10.5 55.5 10.8 55.1 10 55.1 9.8 55.5Z" fill="#e4eef4" class="c"/>
<path d="M11.2 55.8 12.6 56 12.4 55 11.2 55.2Z" fill="#e4eef4" class="c"/>
<path d="M18.2 57.9 18.8 57.8 18.3 57.1Z" fill="#81bad8" class="c"/>
<path d="M52 71.5 53.5 73.5 56 75.5 62 76.3 68.5 76.9 64.5 75.5 58.5 74 56 72.5 57.5 70.8 53.5 70.7Z" fill="#2065ab" class="c h"/>
<path d="M91 79.3 95 81.2 100 80.6 104.5 79.2 101 78.2 96 78.6Z" fill="#2065ab" class="c h"/>
<path d="M137 74.5 142 75.7 148 75.3 141 73.3Z" fill="#2065ab" class="c h"/>
<path d="M47 80.2 55 81.2 63 80.4 55 79.9Z" fill="#2065ab" class="c h"/>
<path d="M178.7 71.2 180 71.5 180 70.9Z" fill="#2065ab" class="c h"/>
<path d="M-180 71.5 -177.5 71.3 -180 70.9Z" fill="#2065ab" class="c h"/>
<path d="M142 46 143.5 46.5 143 49 144.6 49 143.2 51.8 143.3 53.3 142.7 54.3 142.2 53.5 141.8 52.3 142.1 49.5 141.9 47.5Z" fill="#2065ab" class="c h"/>
<path d="M-180 68.9 -177 68.2 -174 67.1 -171.5 66.9 -169.7 66.1 -171 65.5 -172.5 64.4 -175 65.3 -177 65.5 -178.7 65.5 -180 65.1Z" fill="#2065ab" class="c h"/>
<path d="M130.9 34 132.5 35.4 135.2 35.7 136.8 37.2 138.5 37.4 139.5 38.3 140 39.8 140.3 41.2 141.5 41.2 141.5 40 142 39.5 141 38.3 140.9 36.9 140.6 35.7 139.9 35 139.1 35.1 138.2 34.6 136.9 34.5 135.8 33.5 135.2 34.3 133 34.4 131.9 34Z" fill="#2b73b3" class="c h"/>
<path d="M140 41.5 141.2 41.8 142.5 42.1 143.3 42 145.5 43.3 144.8 43.9 143 44.5 141.9 45.5 141.6 44.2 141.3 43.2 140.3 43.3 140 42.5Z" fill="#2b73b3" class="c h"/>
<path d="M129.8 33.3 130.9 33.9 131.7 33.3 131.4 31.4 130.7 31 130.2 31.4 130.2 32.6Z" fill="#2b73b3" class="c h"/>
<path d="M132.5 33.3 134.2 34.2 134.7 33.8 133.2 32.8 132.6 32.8Z" fill="#2b73b3" class="c h"/>
<path d="M120.1 23 120.8 21.9 121.6 23.5 121.9 25 121.1 25.1 120.2 23.9Z" fill="#ffffff" class="c"/>
<path d="M108.6 19.1 109.5 18.2 110.5 18.6 111 19.7 110.6 20.1 109.3 20Z" fill="#ffffff" class="c"/>
<path d="M79.8 8 80.2 9.8 81.3 8.5 81.8 7.2 81.2 6.2 80.1 6Z" fill="#7bb6d6" class="c"/>
<path d="M120.6 18.5 122.2 18.5 122.3 17 121.6 15.9 121.7 14.2 123.9 13.8 124.1 12.6 122.5 13.5 120.6 14.3 120 16 120.4 17.6Z" fill="#3c8abe" class="c h"/>
<path d="M122 7 123.5 7.8 124.3 8.5 125.5 9.8 126.5 8 126.2 6.3 125.3 5.6 124.2 6.2 123.5 7.3Z" fill="#3c8abe" class="c h"/>
<path d="M124.3 12.5 125.7 11 125 10 124.3 11Z" fill="#3c8abe" class="c h"/>
<path d="M122.5 11.8 123 10.8 122 10.5 121.9 11.8Z" fill="#3c8abe" class="c h"/>
<path d="M123 10.5 123.5 9.3 122.5 9.3Z" fill="#3c8abe" class="c h"/>
<path d="M123.3 11.2 124 10.2 123.8 9.5 123.3 10.3Z" fill="#3c8abe" class="c h"/>
<path d="M117.2 8.4 119.5 10.5 119.7 11.4 118.5 10Z" fill="#3c8abe" class="c h"/>
<path d="M120.3 13.5 121.5 13.2 121 12.3Z" fill="#3c8abe" class="c h"/>
<path d="M95.3 5.6 97.5 5.2 100.3 2.2 103.5 0.5 104.5 -1.5 106 -3 105.8 -5.8 104.5 -5.9 102.3 -4 101 -2.3 99.5 0 98.6 1.8 97 3.5Z" fill="#c6413e" class="c h"/>
<path d="M105.2 -6.8 106 -5.9 108.3 -6.3 110.5 -6.9 112.6 -6.9 114.6 -7.8 114.4 -8.7 111 -8.2 108 -7.8 106.4 -7.4Z" fill="#c6413e" class="c h"/>
<path d="M109 1.5 109.6 2 110.5 1.2 111.8 1.2 112.5 1.5 113.5 1.3 114.6 1.5 115.5 3 116.3 4.3 117.6 4.2 117.8 2.5 119 1 117.5 0 116.6 -1.5 116.5 -3.5 114.5 -4 113 -3.2 111.8 -3.5 110.2 -2.9 110 -1.5 109.2 0Z" fill="#c6413e" class="c h"/>
<path d="M109.6 2 111 1.6 113 3.1 114.5 4.6 116 6 117.2 7 118.5 5.7 119.2 5.3 118 4.5 117.6 4.2 116.3 4.3 115.5 3 114.6 1.5 113.5 1.3 112.5 1.5 111.8 1.2 110.5 1.2Z" fill="#4393c3" class="c"/>
<path d="M119.5 -5.5 119.3 -3.5 118.8 -2.8 119.5 -0.8 120.1 0.5 121.5 1.1 123.5 0.9 124.9 1.6 124.5 0.4 122.5 0.5 121 0.3 120.2 -0.7 121.3 -1 122.7 -0.8 121.3 -1.8 122.3 -3.2 123.2 -4.6 122 -4.7 121.5 -3.7 120.7 -2.7 120.5 -5.5Z" fill="#c6413e" class="c h"/>
<path d="M131 -1.3 132.3 -0.4 134 -0.9 135 -3.4 137.7 -1.5 141 -2.6 141 -9.1 139 -8.1 138 -8.4 137.7 -7.3 138.5 -6.6 137.8 -5.3 134.5 -4 133 -4 132 -2.8 133.3 -2.3 132.5 -2.2Z" fill="#c6413e" class="c h"/>
<path d="M141 -2.6 142.5 -3.2 144.5 -3.8 145.8 -5 147.5 -6.2 147.2 -7.4 148.3 -8.5 150 -10.3 149 -10.3 147 -10 145.5 -8 143.5 -8.3 143 -9.3 141 -9.1Z" fill="#9dcbe1" class="c h"/>
<path d="M148.5 -5.5 150 -5.5 151.5 -4.9 152.2 -4.2 152 -5.5 150.5 -6.3 148.5 -6Z" fill="#9dcbe1" class="c h"/>
<path d="M150.8 -2.8 152.5 -3.8 153 -4.7 152.2 -3.8Z" fill="#9dcbe1" class="c h"/>
<path d="M127.5 1.8 128 1 128.7 0.5 128 0 128.5 -0.8 127.6 -0.4 127.4 0.8Z" fill="#c6413e" class="c h"/>
<path d="M128 -3.2 130.5 -3.5 130.8 -3.9 128.5 -3.6Z" fill="#c6413e" class="c h"/>
<path d="M126 -3.1 127.2 -3.3 126.8 -3.8 126 -3.6Z" fill="#c6413e" class="c h"/>
<path d="M124 -10 125.2 -9 127.2 -8.5 125 -9.6 123.6 -10.3Z" fill="#c6413e" class="c h"/>
<path d="M125.2 -9 127.2 -8.4 126.5 -8.9 125.1 -9.4Z" fill="#f6f7f7" class="c"/>
<path d="M119.9 -8.8 121.7 -8.4 122.9 -8.1 122.3 -8.8 120.5 -8.8Z" fill="#c6413e" class="c h"/>
<path d="M116.9 -8.4 118.7 -8.2 119.1 -8.7 117 -9Z" fill="#c6413e" class="c h"/>
<path d="M115.5 -8.3 116.7 -8.3 116.2 -9Z" fill="#c6413e" class="c h"/>
<path d="M114.5 -8.1 115.6 -8.4 115.2 -8.8Z" fill="#c6413e" class="c h"/>
<path d="M119 -9.3 120.8 -10.1 120.3 -10.3 118.9 -9.6Z" fill="#c6413e" class="c h"/>
<path d="M105.5 -1.7 106.8 -2.5 106.5 -3.1 105.8 -2.2Z" fill="#c6413e" class="c h"/>
<path d="M107.6 -2.5 108.3 -2.6 108.2 -3.2 107.6 -3.1Z" fill="#c6413e" class="c h"/>
<path d="M134.2 -5.8 134.8 -5.8 134.6 -6.8Z" fill="#c6413e" class="c h"/>
<path d="M144.6 -40.7 148.3 -40.9 148.3 -42.2 147.8 -43.2 146.9 -43.6 145.4 -42.3 144.7 -41.2Z" fill="#ffffff" class="c"/>
<path d="M172.7 -34.4 174.3 -35.3 175.8 -37 178 -37.6 178.5 -38.7 177 -39.5 176 -41.3 175.2 -41.6 174.6 -41.2 175 -39.9 173.8 -39.3 174.6 -38 174.5 -36.6 173 -35.2Z" fill="#68abd0" class="c"/>
<path d="M172.7 -40.5 174.2 -41.5 173.4 -42.8 172.7 -43.8 171.2 -44.4 170.6 -45.9 169.3 -46.6 166.5 -46 166.7 -45.1 168.3 -44 170.5 -43 171.5 -41.7 172.1 -40.8Z" fill="#68abd0" class="c"/>
<path d="M49.3 -12 50.2 -14.5 50.5 -15.5 49.7 -17 49 -19.5 47.9 -22.5 47.1 -24.9 45.2 -25.6 44 -25 43.3 -22.2 44.4 -20 44 -17.5 44.4 -16.2 46.2 -15.7 47.8 -14 48.8 -12.5Z" fill="#d1e5f0" class="c"/>
<path d="M-68.6 -52.6 -67.5 -53.3 -65.3 -54.7 -66.5 -55 -68.6 -54.9Z" fill="#59a1ca" class="c"/>
<path d="M-68.6 -52.6 -68.6 -54.9 -70 -55.2 -71.5 -54.5 -70.5 -53.6 -69.5 -52.7Z" fill="#3480b9" class="c"/>
<path d="M-74.3 -41.6 -72.2 -41.9 -72.2 -44 -71.9 -46.9 -72.4 -49.5 -71.9 -51 -69.6 -52.1 -67.5 -53.5 -65.5 -54.4 -64.2 -54.6 -66 -55.3 -67.9 -56 -70.5 -55.7 -72.9 -54.9 -75 -52.7 -75.8 -50.2 -75.9 -47 -75 -44.5Z" fill="#000" class="c"/>
<path d="M121.8 12.9 124.2 12.7 125.9 11.1 125.3 9.9 124 9.2 122.5 9.2 121.8 10.5Z" fill="#000" class="c"/>
<path d="M-71 77.9 -66 76.7 -61 75.9 -58.2 75" fill="none" stroke="#000" stroke-width="7.0" stroke-linejoin="round" stroke-linecap="round" vector-effect="non-scaling-stroke"/>
<path d="M-58.2 75 -55.8 73.2 -53.3 71.2 -51.6 69.5 -51.8 68 -51.8 66.5 -50.8 65 -49.3 63.5 -47.8 62 -46 60.9 -44.3 60.3" fill="none" stroke="#000" stroke-width="11.0" stroke-linejoin="round" stroke-linecap="round" vector-effect="non-scaling-stroke"/>
<path d="M-43.2 60.6 -41.8 62.6 -40 64.6 -36.5 66 -33 67.6" fill="none" stroke="#000" stroke-width="8.0" stroke-linejoin="round" stroke-linecap="round" vector-effect="non-scaling-stroke"/>
<path d="M-33 67.6 -29 69 -25.5 70.2 -24 71.5 -23.2 73.2 -21.5 75 -20.8 77 -20 79.5" fill="none" stroke="#000" stroke-width="10.0" stroke-linejoin="round" stroke-linecap="round" vector-effect="non-scaling-stroke"/>
<path d="M-20 79.5 -17 81.2 -12.5 81.5" fill="none" stroke="#000" stroke-width="6.0" stroke-linejoin="round" stroke-linecap="round" vector-effect="non-scaling-stroke"/>
<path d="M-17 81.6 -25 82.6 -35 83.1 -45 82.8 -55 82 -62 81.3 -67 79.8 -71 78.3" fill="none" stroke="#000" stroke-width="5.0" stroke-linejoin="round" stroke-linecap="round" vector-effect="non-scaling-stroke"/>
<path d="M5.3 58.6 5.2 59.5 5 60.5 5 62 6.5 62.8 8.5 63.5 10.5 64.5 12.2 65.8" fill="none" stroke="#000" stroke-width="5.0" stroke-linejoin="round" stroke-linecap="round" vector-effect="non-scaling-stroke"/>
<path d="M12.2 65.8 13.8 67.3 15.8 68.6 18.3 69.5 21 70 24 70.7 26 70.8 28.5 70.6 30.5 70.1" fill="none" stroke="#000" stroke-width="8.0" stroke-linejoin="round" stroke-linecap="round" vector-effect="non-scaling-stroke"/>
<path d="M31 70.3 33 69.4 36 69.1 40 67.8 41.2 66.7" fill="none" stroke="#000" stroke-width="4.0" stroke-linejoin="round" stroke-linecap="round" vector-effect="non-scaling-stroke"/>
<path d="M-123.5 48.6 -125 49.6 -126.5 50.5 -127.8 51.5 -128.6 52.6 -130 54 -130.8 55 -132 56.2 -133.5 57.2 -134.8 58.2 -136.3 58.8 -138.5 59.3 -140.5 59.8" fill="none" stroke="#000" stroke-width="6.0" stroke-linejoin="round" stroke-linecap="round" vector-effect="non-scaling-stroke"/>
<path d="M-140.5 59.8 -144 60.1 -146.5 60.6 -148.5 60.3 -150.5 59.5 -152 59.3 -153.5 58.5 -155 57.8 -157 57 -159 56 -161.5 55.2 -164.7 54.5" fill="none" stroke="#000" stroke-width="4.0" stroke-linejoin="round" stroke-linecap="round" vector-effect="non-scaling-stroke"/>
<path d="M-158 58.7 -161.5 58.7 -164 60 -165.5 61.2 -165 62.8 -163 63.6 -161 64.4 -163.5 64.6 -166.4 64.7 -168 65.6 -166 66.3 -163.8 67.2 -166.8 68.3 -163.5 69.4 -160 70.7 -156.5 71.3" fill="none" stroke="#000" stroke-width="3.5" stroke-linejoin="round" stroke-linecap="round" vector-effect="non-scaling-stroke"/>
<path d="M-5.2 55.4 -5.4 56.4 -5.4 57.5 -4.8 58.4 -3.4 58.5" fill="none" stroke="#000" stroke-width="7.0" stroke-linejoin="round" stroke-linecap="round" vector-effect="non-scaling-stroke"/>
<path d="M-10 54.2 -9.9 53.4 -9.5 52.6 -10.4 51.9" fill="none" stroke="#000" stroke-width="3.5" stroke-linejoin="round" stroke-linecap="round" vector-effect="non-scaling-stroke"/>
<path d="M68.5 68.3 69.5 72.5 72 72.8 72.7 71.5 73 69.5 73.8 67 75 68.2 75 71 77 72.3 78.5 72.4 80.5 73.5 86.5 73.8 86 74.8 90 75.5 95 76 100 76.5 104 77.7 107 76.5 111 76.7 113.5 75.7 112 74 118 73.5" fill="none" stroke="#000" stroke-width="3.5" stroke-linejoin="round" stroke-linecap="round" vector-effect="non-scaling-stroke"/>
<path d="M163.7 61.8 160 59.5 156.7 57.7 155.5 56 155.8 53.5 156.7 51 158.5 52.9 160 53.2 161.8 55 162.5 56.5 163 58 163.5 59.8 166 60 170.3 60" fill="none" stroke="#000" stroke-width="3.5" stroke-linejoin="round" stroke-linecap="round" vector-effect="non-scaling-stroke"/>
<path d="M13.6 45.5 14.3 45.3 15 44.5 15.9 43.6 17 43.2 18.5 42.4" fill="none" stroke="#000" stroke-width="3.5" stroke-linejoin="round" stroke-linecap="round" vector-effect="non-scaling-stroke"/>
<path d="M22.9 40.3 23.9 39.9 22.9 39.3 23.3 38.2 22.7 37.5 23.1 36.5" fill="none" stroke="#000" stroke-width="3.0" stroke-linejoin="round" stroke-linecap="round" vector-effect="non-scaling-stroke"/>
<path d="M-64.5 60.3 -63 58.5 -61.5 56.5 -60 55.2 -58 54.3 -56 53.3 -55.7 52.2" fill="none" stroke="#000" stroke-width="4.0" stroke-linejoin="round" stroke-linecap="round" vector-effect="non-scaling-stroke"/>
<path d="M-59.4 47.6 -55.5 46.8 -52.8 46.6 -52.6 47.6 -53.5 48.5 -53.2 49.5 -55.5 49.9 -55.9 51.5" fill="none" stroke="#000" stroke-width="3.5" stroke-linejoin="round" stroke-linecap="round" vector-effect="non-scaling-stroke"/>
<path d="M-66 49.2 -64.2 48.9 -64.8 47.8 -65 47.1 -64.6 46.3 -63 45.7 -61.5 45.7 -60.3 46.9" fill="none" stroke="#000" stroke-width="3.5" stroke-linejoin="round" stroke-linecap="round" vector-effect="non-scaling-stroke"/>
<path d="M180 65 178.6 64.5 177 62.6 173.5 61.7" fill="none" stroke="#000" stroke-width="3.5" stroke-linejoin="round" stroke-linecap="round" vector-effect="non-scaling-stroke"/>
</g>
<circle cx="200.0" cy="1528.0" r="3.2" class="d"/>
<circle cx="197.1" cy="1524.1" r="2.2" class="d"/>
<circle cx="195.1" cy="1523.2" r="1.3" class="d"/>
<circle cx="192.2" cy="1522.0" r="1.8" class="d"/>
<circle cx="187.1" cy="1520.1" r="1.7" class="d"/>
<circle cx="184.8" cy="1520.6" r="1.1" class="d"/>
<circle cx="179.3" cy="1517.0" r="0.9" class="d"/>
<circle cx="170.2" cy="1515.1" r="0.9" class="d"/>
<circle cx="165.1" cy="1514.4" r="0.9" class="d"/>
<circle cx="159.6" cy="1510.9" r="0.8" class="d"/>
<circle cx="147.6" cy="1508.0" r="0.9" class="d"/>
<circle cx="140.5" cy="1507.0" r="0.9" class="d"/>
<circle cx="129.1" cy="1500.2" r="0.9" class="d"/>
<circle cx="122.3" cy="1424.7" r="1.3" class="d"/>
<circle cx="127.2" cy="1423.8" r="1.3" class="d"/>
<circle cx="132.0" cy="1423.4" r="1.4" class="d"/>
<circle cx="136.9" cy="1422.8" r="1.3" class="d"/>
<circle cx="141.8" cy="1422.5" r="1.3" class="d"/>
<circle cx="146.6" cy="1422.0" r="1.3" class="d"/>
<circle cx="151.5" cy="1421.2" r="1.2" class="d"/>
<circle cx="157.3" cy="1419.6" r="1.4" class="d"/>
<circle cx="162.8" cy="1417.9" r="1.5" class="d"/>
<circle cx="166.7" cy="1416.3" r="1.4" class="d"/>
<circle cx="1262.4" cy="1419.9" r="1.3" class="d"/>
<circle cx="1266.3" cy="1420.5" r="1.2" class="d"/>
<circle cx="1277.6" cy="1423.4" r="1.2" class="d"/>
<circle cx="1284.1" cy="1424.7" r="1.2" class="d"/>
<circle cx="152.1" cy="1406.3" r="1.0" class="d"/>
<circle cx="154.4" cy="1408.2" r="0.9" class="d"/>
<circle cx="1240.4" cy="1412.8" r="1.4" class="d"/>
<circle cx="1246.2" cy="1414.4" r="1.1" class="d"/>
<circle cx="1177.3" cy="1447.4" r="1.3" class="d"/>
<circle cx="1182.1" cy="1444.8" r="1.3" class="d"/>
<circle cx="1187.6" cy="1442.6" r="1.1" class="d"/>
<circle cx="1193.5" cy="1439.6" r="1.1" class="d"/>
<circle cx="1198.3" cy="1437.0" r="1.0" class="d"/>
<circle cx="1203.2" cy="1434.5" r="1.0" class="d"/>
<circle cx="1206.4" cy="1431.2" r="1.1" class="d"/>
<circle cx="1208.7" cy="1428.6" r="1.2" class="d"/>
<circle cx="620.7" cy="1469.1" r="1.3" class="d"/>
<circle cx="615.2" cy="1466.2" r="1.3" class="d"/>
<circle cx="611.6" cy="1466.8" r="1.2" class="d"/>
<circle cx="602.6" cy="1463.6" r="0.9" class="d"/>
<circle cx="648.5" cy="1485.6" r="1.4" class="d"/>
<circle cx="645.0" cy="1501.8" r="1.0" class="d"/>
<circle cx="647.5" cy="1500.5" r="1.1" class="d"/>
<circle cx="649.5" cy="1499.9" r="1.5" class="d"/>
<circle cx="652.7" cy="1500.8" r="1.5" class="d"/>
<circle cx="657.9" cy="1499.5" r="1.6" class="d"/>
<circle cx="659.2" cy="1497.3" r="1.3" class="d"/>
<circle cx="712.6" cy="1463.3" r="2.0" class="d"/>
<circle cx="716.1" cy="1462.0" r="1.1" class="d"/>
<circle cx="707.7" cy="1465.5" r="1.1" class="d"/>
<circle cx="598.4" cy="1603.8" r="0.9" class="d"/>
<circle cx="608.4" cy="1657.9" r="0.9" class="d"/>
<circle cx="410.3" cy="1593.1" r="2.3" class="d"/>
<circle cx="407.8" cy="1593.4" r="1.8" class="d"/>
<circle cx="413.3" cy="1594.4" r="1.1" class="d"/>
<circle cx="410.7" cy="1590.5" r="0.9" class="d"/>
<circle cx="448.2" cy="1700.3" r="1.1" class="d"/>
<circle cx="443.7" cy="1700.9" r="0.9" class="d"/>
<circle cx="444.0" cy="1676.7" r="0.8" class="d"/>
<circle cx="349.2" cy="1679.2" r="0.9" class="d"/>
<circle cx="344.2" cy="1530.6" r="1.0" class="d"/>
<circle cx="332.0" cy="1532.1" r="0.9" class="d"/>
<circle cx="320.4" cy="1497.6" r="1.0" class="d"/>
<circle cx="320.1" cy="1483.4" r="1.0" class="d"/>
<circle cx="315.5" cy="1481.4" r="1.2" class="d"/>
<circle cx="358.6" cy="1521.9" r="0.9" class="d"/>
<circle cx="439.1" cy="1551.0" r="0.8" class="d"/>
<circle cx="439.8" cy="1529.0" r="0.9" class="d"/>
<circle cx="784.1" cy="1470.1" r="1.1" class="d"/>
<circle cx="782.5" cy="1466.5" r="1.4" class="d"/>
<circle cx="788.3" cy="1464.6" r="1.4" class="d"/>
<circle cx="791.2" cy="1474.0" r="1.1" class="d"/>
<circle cx="793.8" cy="1474.3" r="1.4" class="d"/>
<circle cx="785.7" cy="1471.7" r="1.1" class="d"/>
<circle cx="749.8" cy="1475.3" r="1.1" class="d"/>
<circle cx="783.5" cy="1468.8" r="1.0" class="d"/>
<circle cx="787.3" cy="1467.2" r="1.0" class="d"/>
<circle cx="785.4" cy="1473.6" r="1.0" class="d"/>
<circle cx="783.8" cy="1473.3" r="1.2" class="d"/>
<circle cx="790.2" cy="1469.4" r="1.2" class="d"/>
<circle cx="787.0" cy="1472.0" r="1.0" class="d"/>
<circle cx="782.2" cy="1469.4" r="1.0" class="d"/>
<circle cx="779.2" cy="1466.8" r="1.3" class="d"/>
<circle cx="789.0" cy="1464.2" r="1.2" class="d"/>
<circle cx="785.1" cy="1460.4" r="1.2" class="d"/>
<circle cx="782.8" cy="1459.7" r="1.0" class="d"/>
<circle cx="877.6" cy="1551.0" r="1.6" class="d"/>
<circle cx="874.1" cy="1551.7" r="0.9" class="d"/>
<circle cx="938.5" cy="1555.6" r="0.9" class="d"/>
<circle cx="939.4" cy="1557.8" r="0.9" class="d"/>
<circle cx="938.1" cy="1556.2" r="0.8" class="d"/>
<circle cx="1003.2" cy="1553.6" r="1.6" class="d"/>
<circle cx="1003.2" cy="1550.7" r="1.5" class="d"/>
<circle cx="1002.9" cy="1548.4" r="1.2" class="d"/>
<circle cx="1006.4" cy="1568.5" r="1.2" class="d"/>
<circle cx="1005.8" cy="1565.6" r="1.0" class="d"/>
<circle cx="1003.5" cy="1561.7" r="1.0" class="d"/>
<circle cx="1163.4" cy="1503.8" r="1.0" class="d"/>
<circle cx="1160.4" cy="1511.2" r="0.9" class="d"/>
<circle cx="1155.6" cy="1484.3" r="1.0" class="d"/>
<circle cx="1154.3" cy="1481.1" r="1.0" class="d"/>
<circle cx="1154.6" cy="1479.1" r="0.9" class="d"/>
<circle cx="1119.0" cy="1499.9" r="1.4" class="d"/>
<circle cx="1117.1" cy="1505.7" r="1.7" class="d"/>
<circle cx="1105.1" cy="1512.5" r="1.4" class="d"/>
<circle cx="1108.7" cy="1511.2" r="1.1" class="d"/>
<circle cx="1122.3" cy="1498.2" r="1.1" class="d"/>
<circle cx="1125.5" cy="1493.1" r="1.2" class="d"/>
<circle cx="1112.6" cy="1483.4" r="1.7" class="d"/>
<circle cx="1126.8" cy="1491.8" r="1.1" class="d"/>
<circle cx="1122.9" cy="1484.0" r="1.0" class="d"/>
<circle cx="1121.6" cy="1480.1" r="1.1" class="d"/>
<circle cx="1119.7" cy="1485.6" r="1.0" class="d"/>
<circle cx="1150.7" cy="1468.5" r="1.2" class="d"/>
<circle cx="1089.9" cy="1608.3" r="0.8" class="d"/>
<circle cx="1083.4" cy="1614.2" r="0.8" class="d"/>
<circle cx="1060.8" cy="1610.3" r="0.8" class="d"/>
<circle cx="1079.2" cy="1599.9" r="0.8" class="d"/>
<circle cx="1086.7" cy="1593.1" r="0.8" class="d"/>
<circle cx="1099.6" cy="1609.3" r="0.9" class="d"/>
<circle cx="1101.2" cy="1605.7" r="0.8" class="d"/>
<circle cx="1110.0" cy="1617.7" r="0.9" class="d"/>
<circle cx="1114.2" cy="1616.1" r="0.8" class="d"/>
<circle cx="1128.7" cy="1616.1" r="1.2" class="d"/>
<circle cx="1124.5" cy="1617.7" r="0.8" class="d"/>
<circle cx="1138.4" cy="1611.6" r="1.2" class="d"/>
<circle cx="1141.4" cy="1601.9" r="0.9" class="d"/>
<circle cx="1143.9" cy="1595.1" r="1.0" class="d"/>
<circle cx="1126.5" cy="1594.4" r="1.1" class="d"/>
<circle cx="1123.2" cy="1590.9" r="0.9" class="d"/>
<circle cx="1111.9" cy="1577.6" r="0.8" class="d"/>
<circle cx="1109.3" cy="1580.2" r="0.8" class="d"/>
<circle cx="1106.1" cy="1597.7" r="1.0" class="d"/>
<circle cx="1110.3" cy="1597.3" r="0.9" class="d"/>
<circle cx="1118.4" cy="1616.8" r="0.8" class="d"/>
<circle cx="1103.8" cy="1619.0" r="0.9" class="d"/>
<circle cx="1106.1" cy="1618.4" r="0.9" class="d"/>
<circle cx="1096.7" cy="1625.5" r="0.9" class="d"/>
<circle cx="1046.5" cy="1598.3" r="0.8" class="d"/>
<circle cx="1052.4" cy="1578.5" r="0.8" class="d"/>
<circle cx="1053.3" cy="1579.2" r="0.9" class="d"/>
<circle cx="1021.0" cy="1593.1" r="1.0" class="d"/>
<circle cx="1019.4" cy="1587.6" r="1.1" class="d"/>
<circle cx="1024.5" cy="1596.4" r="1.1" class="d"/>
<circle cx="1028.1" cy="1601.5" r="0.9" class="d"/>
<circle cx="1041.4" cy="1588.9" r="0.9" class="d"/>
<circle cx="1039.1" cy="1591.8" r="0.8" class="d"/>
<circle cx="1093.1" cy="1553.0" r="0.9" class="d"/>
<circle cx="1097.7" cy="1551.3" r="1.0" class="d"/>
<circle cx="1103.5" cy="1551.3" r="1.1" class="d"/>
<circle cx="1106.1" cy="1557.5" r="0.9" class="d"/>
<circle cx="1109.6" cy="1552.3" r="0.8" class="d"/>
<circle cx="1091.2" cy="1574.7" r="0.9" class="d"/>
<circle cx="1094.8" cy="1572.1" r="0.9" class="d"/>
<circle cx="1098.0" cy="1530.3" r="0.8" class="d"/>
<circle cx="1097.3" cy="1525.4" r="0.8" class="d"/>
<circle cx="1039.4" cy="1558.1" r="0.9" class="d"/>
<circle cx="1218.0" cy="1693.5" r="0.9" class="d"/>
<circle cx="132.0" cy="1734.0" r="1.2" class="d"/>
<circle cx="127.5" cy="1686.4" r="0.8" class="d"/>
<circle cx="1240.7" cy="1755.7" r="1.2" class="d"/>
<circle cx="1250.4" cy="1761.5" r="1.0" class="d"/>
<circle cx="1281.8" cy="1752.4" r="0.8" class="d"/>
<circle cx="1282.8" cy="1746.0" r="0.7" class="d"/>
<circle cx="1242.3" cy="1746.9" r="0.8" class="d"/>
<circle cx="1217.4" cy="1768.3" r="0.9" class="d"/>
<circle cx="1218.7" cy="1606.1" r="0.8" class="d"/>
<circle cx="1203.5" cy="1609.0" r="1.5" class="d"/>
<circle cx="1206.4" cy="1611.9" r="2.0" class="d"/>
<circle cx="1178.6" cy="1598.3" r="1.4" class="d"/>
<circle cx="1180.2" cy="1598.1" r="1.3" class="d"/>
<circle cx="1190.2" cy="1625.8" r="1.0" class="d"/>
<circle cx="1192.5" cy="1622.6" r="1.0" class="d"/>
<circle cx="1198.0" cy="1621.0" r="1.0" class="d"/>
<circle cx="1201.9" cy="1628.4" r="0.9" class="d"/>
<circle cx="1189.2" cy="1608.7" r="0.9" class="d"/>
<circle cx="1201.2" cy="1602.2" r="0.8" class="d"/>
</g>
<text x="14.3" y="1279.6" class="lab">c</text>
<text x="86.3" y="1284.4" class="t">P-net</text>
<text x="1338.5" y="1279.4" class="t" text-anchor="end">log(mean<tspan class="sub" dy="8">2007 – 2016</tspan><tspan dy="-8"> – mean</tspan><tspan class="sub" dy="8">1980 –1989</tspan><tspan dy="-8">)</tspan></text>
<rect x="62.5" y="1298.0" width="1281.9" height="497.5" fill="none" stroke="#000" stroke-width="2"/>
<line x1="54.5" y1="1332.5" x2="62.5" y2="1332.5" class="tk"/>
<text x="41.0" y="1341.3" class="t" text-anchor="end">80</text>
<line x1="54.5" y1="1397.2" x2="62.5" y2="1397.2" class="tk"/>
<text x="41.0" y="1406.0" class="t" text-anchor="end">60</text>
<line x1="54.5" y1="1462.0" x2="62.5" y2="1462.0" class="tk"/>
<text x="41.0" y="1470.8" class="t" text-anchor="end">40</text>
<line x1="54.5" y1="1526.7" x2="62.5" y2="1526.7" class="tk"/>
<text x="41.0" y="1535.5" class="t" text-anchor="end">20</text>
<line x1="54.5" y1="1591.5" x2="62.5" y2="1591.5" class="tk"/>
<text x="41.0" y="1600.3" class="t" text-anchor="end">0</text>
<line x1="54.5" y1="1656.3" x2="62.5" y2="1656.3" class="tk"/>
<text x="41.0" y="1665.1" class="t" text-anchor="end">−20</text>
<line x1="54.5" y1="1721.0" x2="62.5" y2="1721.0" class="tk"/>
<text x="41.0" y="1729.8" class="t" text-anchor="end">−40</text>
<line x1="54.5" y1="1785.8" x2="62.5" y2="1785.8" class="tk"/>
<text x="41.0" y="1794.6" class="t" text-anchor="end">−60</text>
<line x1="217.8" y1="1795.5" x2="217.8" y2="1803.5" class="tk"/>
<text x="217.8" y="1834.5" class="t" text-anchor="middle">−150</text>
<line x1="379.6" y1="1795.5" x2="379.6" y2="1803.5" class="tk"/>
<text x="379.6" y="1834.5" class="t" text-anchor="middle">−100</text>
<line x1="541.4" y1="1795.5" x2="541.4" y2="1803.5" class="tk"/>
<text x="541.4" y="1834.5" class="t" text-anchor="middle">−50</text>
<line x1="703.2" y1="1795.5" x2="703.2" y2="1803.5" class="tk"/>
<text x="703.2" y="1834.5" class="t" text-anchor="middle">0</text>
<line x1="865.0" y1="1795.5" x2="865.0" y2="1803.5" class="tk"/>
<text x="865.0" y="1834.5" class="t" text-anchor="middle">50</text>
<line x1="1026.8" y1="1795.5" x2="1026.8" y2="1803.5" class="tk"/>
<text x="1026.8" y="1834.5" class="t" text-anchor="middle">100</text>
<line x1="1188.6" y1="1795.5" x2="1188.6" y2="1803.5" class="tk"/>
<text x="1188.6" y="1834.5" class="t" text-anchor="middle">150</text>
<rect x="1377.5" y="1321.6" width="26.0" height="473.2" fill="url(#cbg)"/>
<polygon points="1377.5,1322.1 1390.5,1297.4 1403.5,1322.1" fill="#1d3461"/>
<polygon points="1377.5,1794.3 1390.5,1818.3 1403.5,1794.3" fill="#670823"/>
<path d="M1377.5 1321.6L1390.5 1297.4L1403.5 1321.6L1403.5 1794.8L1390.5 1818.3L1377.5 1794.8Z" fill="none" stroke="#000" stroke-width="2" stroke-linejoin="miter"/>
<line x1="1403.5" y1="1321.6" x2="1412.0" y2="1321.6" class="tk"/>
<text x="1427.0" y="1330.4" class="t">10<tspan class="sup" dy="-12.5">−1</tspan></text>
<line x1="1403.5" y1="1414.3" x2="1412.0" y2="1414.3" class="tk"/>
<text x="1427.0" y="1423.1" class="t">10<tspan class="sup" dy="-12.5">−2</tspan></text>
<line x1="1403.5" y1="1507.3" x2="1412.0" y2="1507.3" class="tk"/>
<text x="1427.0" y="1516.1" class="t">10<tspan class="sup" dy="-12.5">−3</tspan></text>
<line x1="1403.5" y1="1558.4" x2="1412.0" y2="1558.4" class="tk"/>
<text x="1427" y="1567.2" class="t">0</text>
<line x1="1403.5" y1="1608.4" x2="1412.0" y2="1608.4" class="tk"/>
<text x="1425.0" y="1617.2" class="t">−10<tspan class="sup" dy="-12.5">−3</tspan></text>
<line x1="1403.5" y1="1701.7" x2="1412.0" y2="1701.7" class="tk"/>
<text x="1425.0" y="1710.5" class="t">−10<tspan class="sup" dy="-12.5">−2</tspan></text>
<line x1="1403.5" y1="1794.8" x2="1412.0" y2="1794.8" class="tk"/>
<text x="1425.0" y="1803.6" class="t">−10<tspan class="sup" dy="-12.5">−1</tspan></text>
</svg></body></html>
